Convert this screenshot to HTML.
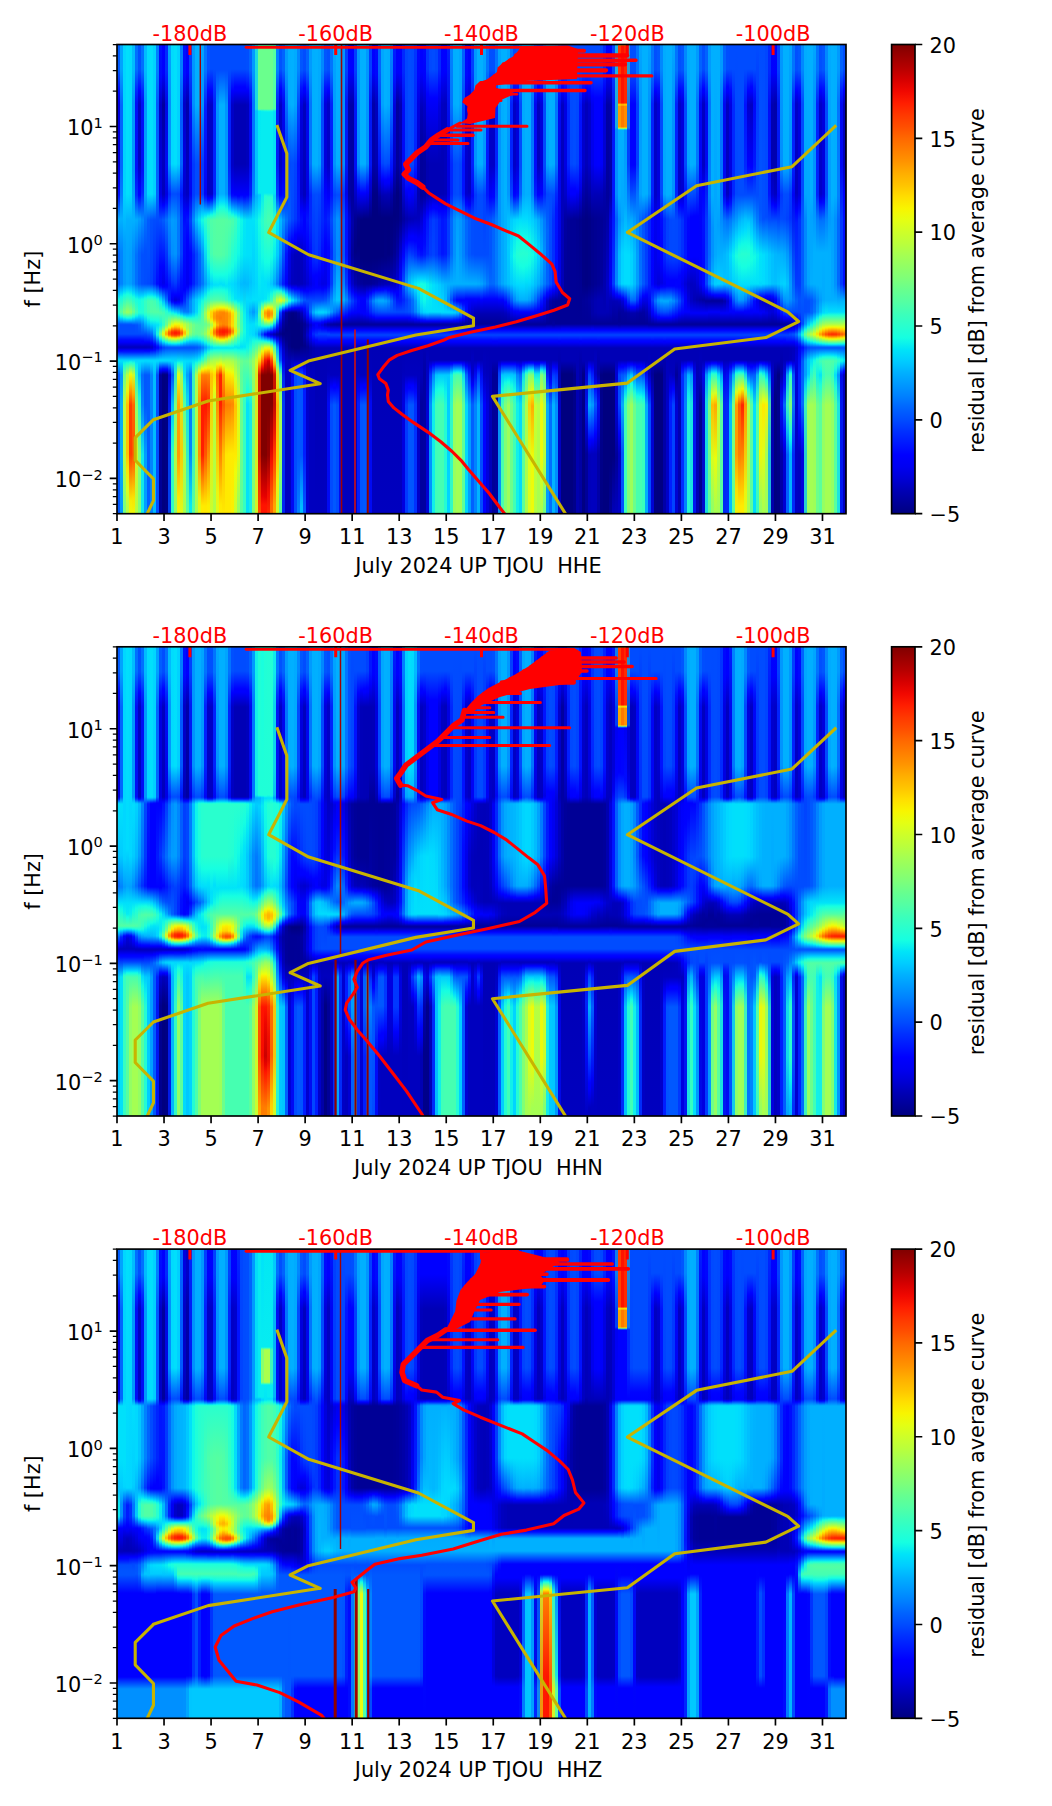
<!DOCTYPE html>
<html><head><meta charset="utf-8"><title>July 2024 UP TJOU</title>
<style>
html,body{margin:0;padding:0;background:#fff;}
body{width:1052px;height:1806px;position:relative;overflow:hidden;}
.sp{position:absolute;overflow:hidden;background:#000080;}
.sp i{position:absolute;top:0;bottom:0;display:block;}
</style></head><body>
<div class="sp" style="left:117.0px;top:44.5px;width:729.0px;height:469.2px"><i style="left:0px;width:4px;background:linear-gradient(#005eff,#005cff 25px,#0012ff 44px,#0000eb 56px,#0000df 60px,#0000df 120px,#0007fa 140px,#0012ff 150px,#00b0ff 175px,#0068ff 210px,#0068ff 239px,#00d4ff 251px,#13fbe4 255px,#29ffce 268px,#0cf4eb 270px,#00d0ff 272px,#0054ff 279px,#004cff 289px,#0000ff 296px,#0000f6 298px,#0000bf 302px,#0000c4 303px,#0000fa 305px,#0004ff 306px,#00d4ff 315px,#00d8ff 316px,#0058ff 330px,#0058ff 470px)"></i><i style="left:3px;width:4px;background:linear-gradient(#00a3ff,#00a3ff 24px,#0064ff 60px,#0066ff 122px,#007eff 150px,#00b0ff 174px,#0084ff 207px,#0083ff 239px,#00d4ff 248px,#11f9e5 252px,#5bff9c 267px,#30ffc7 270px,#0cf4eb 272px,#01defb 273px,#0057ff 279px,#004cff 280px,#004cff 289px,#0008ff 295px,#0000ff 297px,#0000bf 302px,#0000c4 303px,#0000fa 305px,#0004ff 306px,#00d4ff 315px,#00defd 316px,#0097ff 330px,#07adf5 359px,#06acf6 416px,#0097ff 470px)"></i><i style="left:6px;width:4px;background:linear-gradient(#00d7ff,#00d2ff 150px,#00a0ff 198px,#009aff 239px,#00d8fe 246px,#15fde2 250px,#82ff74 267px,#7bff7c 268px,#26ffd1 272px,#00defc 274px,#0058ff 279px,#004cff 280px,#004cff 289px,#0008ff 295px,#0000ff 297px,#0000bf 302px,#0000c4 303px,#0000fa 305px,#0018ff 307px,#00d4ff 315px,#0ff8e7 318px,#29ffce 321px,#71ff86 330px,#bbfe3b 360px,#bbfe3b 409px,#6fff88 470px)"></i><i style="left:9px;width:4px;background:linear-gradient(#00e0fb,#00e0fb 149px,#00b0ff 175px,#00a4ff 207px,#00a4ff 239px,#00d0ff 244px,#16ffe1 249px,#96ff61 267px,#8cff6b 268px,#19ffde 273px,#02e8f4 274px,#00ccff 275px,#0058ff 279px,#004cff 280px,#004cff 289px,#0008ff 295px,#0000ff 297px,#0000bf 302px,#0000c4 303px,#0000fa 305px,#0018ff 307px,#00d4ff 315px,#1cffdb 318px,#b6ff41 330px,#edf40c 346px,#ffcd00 357px,#ffc200 360px,#ffc200 409px,#f9e303 423px,#d7ff1f 445px,#b7ff40 460px,#b5ff42 470px)"></i><i style="left:12px;width:4px;background:linear-gradient(#00dcfd,#00dbfd 149px,#00b0ff 175px,#009fff 210px,#009fff 239px,#00d4ff 245px,#19ffde 250px,#8cff6b 267px,#83ff73 268px,#2bffcb 272px,#15fde2 273px,#00c8ff 275px,#0058ff 279px,#004cff 280px,#004cff 289px,#0008ff 295px,#0000ff 297px,#0000bf 302px,#0000c4 303px,#0000fa 305px,#0018ff 307px,#00d4ff 315px,#15fee2 317px,#e6fe10 329px,#fedc00 335px,#ff3e00 360px,#ff3e00 409px,#f9eb03 456px,#eef90a 470px)"></i><i style="left:15px;width:4px;background:linear-gradient(#00bbff,#00bbff 25px,#0097ff 58px,#0097ff 124px,#00b0ff 175px,#008cff 207px,#008cff 239px,#00dcfc 248px,#19fede 252px,#6bff8c 267px,#29ffce 271px,#16fce1 272px,#00d0ff 274px,#004cff 280px,#004cff 289px,#0008ff 295px,#0000ff 297px,#0000bf 302px,#0000c4 303px,#0000fa 305px,#0018ff 307px,#00d4ff 315px,#21ffd6 318px,#cffc28 330px,#ffa900 349px,#ff6500 360px,#ff5200 410px,#fae302 453px,#eef90a 470px)"></i><i style="left:18px;width:4px;background:linear-gradient(#0070ff,#0070ff 24px,#0027ff 46px,#000ff6 58px,#0010f7 125px,#002cff 150px,#00abff 175px,#0070ff 210px,#0070ff 239px,#00d8fe 250px,#16fde1 254px,#41ffb6 267px,#2affcd 269px,#0df5ea 271px,#00ceff 273px,#0052ff 280px,#004cff 289px,#0008ff 295px,#0000ff 297px,#0000bf 302px,#0000c4 303px,#0000fa 305px,#0018ff 307px,#00d4ff 315px,#08ecf1 320px,#8dff6a 360px,#d1f528 406px,#b5ff42 470px)"></i><i style="left:21px;width:4px;background:linear-gradient(#0050ff,#004fff 25px,#0000ff 46px,#0000c2 60px,#0000c2 119px,#0000fd 144px,#0000ff 150px,#009eff 174px,#005eff 208px,#005cff 239px,#00d4ff 251px,#14fde3 255px,#21ffd6 268px,#00d2ff 272px,#0062ff 280px,#004cff 289px,#0008ff 295px,#0000ff 297px,#0000bf 302px,#0000c4 303px,#0000fa 305px,#0018ff 307px,#00d4ff 315px,#00dcfe 316px,#00b6ff 330px,#16f2e3 352px,#81ff75 409px,#81ff75 470px)"></i><i style="left:24px;width:4px;background:linear-gradient(#0070ff,#0070ff 24px,#0027ff 46px,#000ff6 58px,#0010f7 125px,#0027ff 148px,#008bff 175px,#0050ff 210px,#0050ff 239px,#00d8ff 251px,#14fce3 254px,#21ffd6 256px,#21ffd6 268px,#00d0ff 273px,#0088ff 279px,#004eff 289px,#0000ff 296px,#0000f6 298px,#0000bf 302px,#0000c4 303px,#0000fa 305px,#0018ff 307px,#00d4ff 315px,#00dcfe 316px,#006cff 330px,#0083ff 360px,#12e9e8 410px,#12e9e8 470px)"></i><i style="left:27px;width:4px;background:linear-gradient(#00bbff,#00bbff 25px,#0097ff 58px,#00a4ff 150px,#0073ff 173px,#004fff 206px,#004cff 239px,#00dbfd 250px,#19fede 253px,#35ffc2 256px,#36ffc1 267px,#1fffd7 270px,#00ccff 276px,#0000ff 297px,#0000bf 302px,#0000c4 303px,#0000fa 305px,#0004ff 306px,#00d4ff 315px,#00d8ff 316px,#0058ff 330px,#0058ff 360px,#009eff 409px,#009eff 470px)"></i><i style="left:30px;width:4px;background:linear-gradient(#00dcfd,#00dbfd 149px,#005bff 175px,#0048ff 239px,#00d8ff 249px,#1affdd 252px,#45ffb2 256px,#47ffb0 267px,#1bffdc 273px,#00d6ff 278px,#0000ff 297px,#0000c1 302px,#0000c8 303px,#0000fc 305px,#0004ff 306px,#00d4ff 315px,#00daff 316px,#005aff 330px,#0060ff 470px)"></i><i style="left:33px;width:4px;background:linear-gradient(#00e0fb,#00dffc 149px,#0050ff 175px,#0040ff 239px,#00d8ff 249px,#1bffdc 252px,#49ffad 256px,#51ffa6 267px,#18ffdf 275px,#00d2ff 280px,#0000ff 298px,#0000cd 302px,#0000d1 303px,#0000ff 305px,#00d4ff 315px,#00dcfe 316px,#0083ff 330px,#0083ff 470px)"></i><i style="left:36px;width:4px;background:linear-gradient(#00d3ff,#00d0ff 149px,#004cff 175px,#002aff 239px,#00d8fe 250px,#11fbe5 252px,#42ffb5 256px,#53ffa4 267px,#1cffdb 275px,#00dbfe 280px,#00a6ff 289px,#000bff 299px,#0000f6 301px,#0000e7 302px,#0008ff 305px,#00d4ff 315px,#00dcfe 316px,#00bbff 330px,#00bbff 470px)"></i><i style="left:39px;width:4px;background:linear-gradient(#007eff,#007eff 25px,#0058ff 59px,#0064ff 149px,#000aff 239px,#00ccff 251px,#16fce1 254px,#2bffcb 256px,#53ffa4 267px,#17ffe0 276px,#01e4f8 280px,#1bf6dc 288px,#17f1e2 290px,#00b7ff 293px,#0014ff 301px,#0004ff 303px,#00d6ff 315px,#00daff 316px,#004eff 330px,#004eff 470px)"></i><i style="left:42px;width:4px;background:linear-gradient(#000fff,#0008fc 32px,#0000c5 60px,#0000df 149px,#0000ee 153px,#000eff 161px,#004fff 175px,#0002ff 222px,#0000f9 240px,#0010ff 242px,#00c7ff 253px,#11f8e5 257px,#4effa9 268px,#0df5ea 280px,#7dff7a 289px,#73ff83 290px,#3fffb8 292px,#11f1e9 294px,#00bfff 296px,#002bff 302px,#0024ff 303px,#00d8ff 315px,#00d4ff 316px,#0017ff 324px,#0000f0 326px,#000096 330px,#000096 470px)"></i><i style="left:45px;width:4px;background:linear-gradient(#0000ff,#0000fc 28px,#00009e 60px,#0000be 114px,#0000bc 149px,#0000ff 160px,#005aff 175px,#0003ff 221px,#0000ea 238px,#0000ff 242px,#00cbff 257px,#1fffd7 263px,#45ffb2 268px,#30ffc7 280px,#67ff8f 283px,#caff2c 287px,#def91b 289px,#d1ff26 290px,#2dffc9 295px,#13f8e4 296px,#00bfff 298px,#0048ff 302px,#003fff 303px,#00d8ff 315px,#00d4ff 316px,#0008ff 324px,#0000ff 325px,#00008d 329px,#000080 330px,#000080 470px)"></i><i style="left:48px;width:4px;background:linear-gradient(#002aff,#002aff 25px,#001bff 35px,#0008e4 59px,#000cf3 122px,#0000e2 149px,#0000ee 152px,#000cff 158px,#0070ff 175px,#0000fc 240px,#0004ff 242px,#006fff 255px,#00d3fd 262px,#23ffd4 266px,#6aff8d 280px,#cfff28 284px,#ecf20d 285px,#ffbe00 287px,#ffab00 289px,#ffbe00 290px,#f7e805 291px,#d4ff23 292px,#5aff9d 295px,#1afddd 297px,#02e3f8 298px,#00c0ff 299px,#0058ff 302px,#004cff 303px,#00d8ff 315px,#00d4ff 316px,#000bff 324px,#0000ff 325px,#000090 329px,#000083 330px,#000086 470px)"></i><i style="left:51px;width:4px;background:linear-gradient(#00a6ff,#008fff 58px,#0096ff 119px,#0028ff 149px,#008bff 175px,#006bff 209px,#0013ff 240px,#0022ff 255px,#00d8fd 265px,#23ffd4 268px,#94ff63 278px,#d9ff1d 282px,#f3f107 283px,#ffcd00 284px,#ff6200 287px,#ff5800 289px,#ff6f00 290px,#ffd800 292px,#ddff1a 293px,#35ffc2 297px,#13fbe4 298px,#00d4ff 299px,#005eff 302px,#0050ff 303px,#00d8ff 315px,#00d6ff 316px,#0027ff 325px,#0003d4 330px,#0017e7 355px,#003fee 410px,#003fee 470px)"></i><i style="left:54px;width:4px;background:linear-gradient(#00dbfd,#00dafe 119px,#004bff 149px,#009cff 175px,#008eff 209px,#003fff 235px,#0004ff 249px,#0000f1 255px,#0008ff 257px,#00ccff 266px,#10f9e6 268px,#d5ff22 279px,#f6f304 281px,#ffdc00 282px,#ff4700 286px,#ff2400 288px,#ff4000 290px,#ff6e00 291px,#fdeb00 293px,#c8ff2f 294px,#1fffd7 298px,#00e0fb 299px,#0060ff 302px,#0050ff 303px,#00c4ff 313px,#00daff 316px,#0053ff 330px,#00bcff 360px,#14efe6 388px,#33fdc4 409px,#32fdc5 470px)"></i><i style="left:57px;width:4px;background:linear-gradient(#00e0fb,#00dffc 119px,#004cff 149px,#0098ff 175px,#0094ff 209px,#003cff 238px,#0000ff 250px,#0000da 255px,#0000e0 256px,#0000fc 257px,#0004ff 258px,#00ceff 267px,#17fee0 269px,#edff0a 279px,#feec00 280px,#ffc600 282px,#ff3500 286px,#ff1400 288px,#ff3300 290px,#ff6000 291px,#ffe100 293px,#d0ff27 294px,#22ffd5 298px,#00e3f9 299px,#00b7ff 300px,#0060ff 302px,#0050ff 303px,#00c4ff 313px,#06e7f4 318px,#30e0ca 330px,#7aff7d 360px,#b2fc45 409px,#8eff69 470px)"></i><i style="left:60px;width:4px;background:linear-gradient(#00d3ff,#00d0ff 119px,#0046ff 149px,#0078ff 174px,#0077ff 209px,#0000ff 250px,#0000e4 255px,#0000fd 257px,#001aff 259px,#00ceff 268px,#1bfedc 270px,#eaff0d 279px,#ffd100 282px,#ff4500 286px,#ff2000 288px,#ff4400 290px,#f2f707 293px,#89ff6e 295px,#16fde1 298px,#00d7ff 299px,#00b0ff 300px,#005fff 302px,#0050ff 303px,#02e8f4 316px,#24ffd3 318px,#d9ff1d 329px,#ecf70d 333px,#ffa200 360px,#ff9b00 400px,#ff9b00 411px,#faea02 452px,#f2f706 470px)"></i><i style="left:63px;width:4px;background:linear-gradient(#007eff,#007eff 25px,#0058ff 59px,#0063ff 119px,#0013ff 150px,#0040ff 173px,#0040ff 209px,#000eff 236px,#0001ff 251px,#0006ff 256px,#001cff 258px,#0097ff 267px,#00c8ff 269px,#19fdde 271px,#30ffc7 272px,#d4ff23 279px,#f5f305 282px,#ffc200 284px,#ff7d00 286px,#ff5800 288px,#ff6200 289px,#ff8300 290px,#f1ef08 292px,#c0ff37 293px,#62ff95 295px,#1efed8 297px,#03e6f7 298px,#00c4ff 299px,#005cff 302px,#0050ff 303px,#00d8ff 315px,#22fdd5 319px,#98ff5f 330px,#e1e218 359px,#f7ce05 409px,#ddfe1a 470px)"></i><i style="left:66px;width:4px;background:linear-gradient(#000fff,#000aff 29px,#0000c7 59px,#0000df 114px,#0000cd 149px,#0003ff 167px,#0012ff 183px,#0000ff 245px,#002cff 256px,#007eff 267px,#00c8ff 270px,#17fde0 272px,#b7ff40 279px,#d6ff21 283px,#f6eb06 285px,#ffc200 287px,#ffc600 289px,#f7e205 290px,#dbfc1c 291px,#58ff9e 294px,#1afddd 296px,#03e6f7 297px,#00c8ff 298px,#0058ff 302px,#0050ff 303px,#00dffc 316px,#07e0f5 330px,#1cfadb 340px,#58ff9e 360px,#acff4a 410px,#a7ff50 470px)"></i><i style="left:69px;width:4px;background:linear-gradient(#0001ff,#0000ff 27px,#0000aa 59px,#0000c1 149px,#0000ff 167px,#0012ff 175px,#0000ff 195px,#0000f1 239px,#0000ff 242px,#0058ff 255px,#007bff 267px,#00d7ff 271px,#1effd8 273px,#9dff5a 279px,#a7ff50 283px,#cdff2a 287px,#c5ff32 289px,#aeff48 290px,#16fce1 295px,#00caff 297px,#0057ff 302px,#0050ff 303px,#00dcfe 316px,#009eff 330px,#07d1f5 351px,#18e4e1 369px,#5dff9a 470px)"></i><i style="left:72px;width:4px;background:linear-gradient(#003fff,#003fff 25px,#0012f4 72px,#0004f4 149px,#0042ff 176px,#0004ff 208px,#0003ff 239px,#008bff 256px,#0093ff 267px,#00dcfd 271px,#1bffdc 273px,#81ff75 279px,#8eff69 287px,#77ff80 290px,#19ffde 294px,#00d4ff 296px,#0054ff 302px,#0050ff 303px,#00dcfe 316px,#007bff 329px,#0077ff 334px,#0086ff 408px,#06eaf3 461px,#06ebf2 470px)"></i><i style="left:75px;width:4px;background:linear-gradient(#0098ff,#0090ff 58px,#0038ff 119px,#003aff 150px,#0087ff 175px,#0020ff 210px,#0020ff 239px,#00b0ff 255px,#00b7ff 267px,#00dcfc 270px,#1fffd7 273px,#70ff87 280px,#6dff8a 287px,#5cff9b 290px,#10fae6 294px,#00d0ff 296px,#0056ff 302px,#0050ff 303px,#01e4f8 316px,#16f4e3 321px,#3df1bd 330px,#3df2bd 410px,#5dff9a 470px)"></i><i style="left:78px;width:4px;background:linear-gradient(#00b0ff,#00afff 60px,#004bff 119px,#004bff 149px,#00bfff 175px,#0043ff 209px,#003fff 239px,#00ccff 255px,#00d8fd 267px,#1effd8 272px,#60ff97 280px,#5eff99 289px,#10fae6 294px,#00d2ff 296px,#005aff 302px,#0056ff 303px,#00d4ff 314px,#06ecf1 316px,#1fffd7 318px,#acff4a 330px,#a7ff50 470px)"></i><i style="left:81px;width:4px;background:linear-gradient(#00b0ff,#00b0ff 59px,#004bff 119px,#004bff 149px,#01e0fa 175px,#0066ff 209px,#0058ff 236px,#005cff 240px,#01e3f9 255px,#0cf4eb 261px,#17fae0 267px,#5aff9d 280px,#62ff95 288px,#5aff9d 290px,#19ffde 294px,#00dcfd 296px,#0066ff 302px,#0062ff 303px,#00ceff 312px,#0af2ed 315px,#2bffcb 317px,#d5fc22 326px,#f7ce05 330px,#ff8f00 359px,#ff8f00 410px,#ebf30f 453px,#defd19 470px)"></i><i style="left:84px;width:4px;background:linear-gradient(#00a6ff,#0093ff 60px,#0038ff 119px,#0038ff 149px,#00d3ff 169px,#14fbe3 175px,#00d3fe 189px,#0094ff 210px,#0074ff 239px,#00d8fe 251px,#17fde0 256px,#53ffa4 269px,#5bff9c 280px,#74ff82 289px,#1afedd 295px,#00ceff 298px,#0080ff 302px,#007cff 303px,#00cbff 309px,#16fae1 313px,#2affcd 315px,#e6ff10 324px,#ffd900 326px,#ff8100 330px,#ff1900 360px,#ff1f00 405px,#ff2300 410px,#ffeb00 461px,#ffeb00 470px)"></i><i style="left:87px;width:4px;background:linear-gradient(#0074ff,#0074ff 25px,#001ffc 62px,#0004f4 149px,#001aff 153px,#00daff 169px,#1cffdb 173px,#2bffcb 175px,#0aefef 198px,#009cff 239px,#00d0ff 246px,#1bfedc 253px,#9aff5d 268px,#90ff66 273px,#64ff93 279px,#95ff62 289px,#28ffcf 296px,#09f0ee 298px,#00a4ff 302px,#00a3ff 303px,#00cfff 306px,#1cfddb 310px,#56ffa0 315px,#e7ff0f 323px,#ffdd00 325px,#ff7e00 330px,#ff1500 360px,#ff5700 410px,#ffea00 461px,#ffea00 470px)"></i><i style="left:90px;width:4px;background:linear-gradient(#0050ff,#0050ff 24px,#0000ff 46px,#0000c7 60px,#0000c1 115px,#0000c1 149px,#0000fc 153px,#000eff 155px,#00d4ff 168px,#16fee1 171px,#3bffbb 174px,#40ffb7 178px,#1ffed7 213px,#03e4f7 226px,#00bfff 239px,#00d0ff 242px,#14fce3 248px,#46ffb1 256px,#e2fc15 268px,#d1ff26 273px,#7bff7c 280px,#beff39 286px,#c6ff31 289px,#19fdde 299px,#00c7ff 302px,#00c7ff 303px,#1afddd 307px,#f7f601 323px,#ff8400 330px,#ff2a00 360px,#fbee01 460px,#fbf001 470px)"></i><i style="left:93px;width:4px;background:linear-gradient(#004cff,#004cff 24px,#0000ff 46px,#0000c7 60px,#0000c7 149px,#0000fd 153px,#00d2ff 167px,#16fee1 170px,#4fffa8 175px,#46ffb1 209px,#15fde2 227px,#00d4ff 239px,#01e4f8 242px,#17fee0 246px,#4cffab 255px,#d9ff1d 264px,#ffd800 267px,#ffd200 272px,#f5ee06 275px,#d5ff22 277px,#abff4c 280px,#d5ff22 283px,#f3ec08 285px,#fadd02 288px,#f3ee07 290px,#c3ff34 292px,#1fffd7 300px,#00dffb 302px,#00dcfd 303px,#22ffd5 306px,#9aff5d 315px,#dfff18 322px,#ffdc00 327px,#ffc700 329px,#ffc200 332px,#e2ef17 410px,#c8ff2f 470px)"></i><i style="left:96px;width:4px;background:linear-gradient(#004cff,#004cff 24px,#0022ff 58px,#0022fd 149px,#0038ff 152px,#00ccfe 164px,#1cfedb 169px,#53ffa4 175px,#52ffa5 209px,#15fee2 230px,#00e0fb 240px,#18ffdf 245px,#51ffa6 255px,#e1ff16 263px,#ffde00 265px,#ffa300 268px,#ff9c00 272px,#ffa400 274px,#f9e903 278px,#ecf70d 280px,#fae002 282px,#ff9200 285px,#ff7e00 287px,#ff8900 289px,#ffc400 291px,#e1fd16 293px,#1cffdb 301px,#00e4f8 303px,#1bffdc 305px,#a6ff51 315px,#e7fe0f 324px,#ffe500 328px,#ffdc00 330px,#ebfa0d 343px,#bcff3a 360px,#adff49 470px)"></i><i style="left:99px;width:4px;background:linear-gradient(#004cff,#004cff 25px,#0093ff 60px,#0093ff 149px,#00caff 157px,#15fce2 164px,#56ffa0 175px,#53ffa4 210px,#16ffe1 230px,#00e2fa 240px,#19ffde 245px,#53ffa4 255px,#ddff1a 262px,#ffe000 264px,#ff9600 267px,#ff8300 271px,#ff8700 274px,#ffb700 280px,#ff4900 285px,#ff3900 287px,#ff5800 290px,#ffd100 293px,#f3f607 294px,#d3ff24 295px,#26ffd1 301px,#09f0ee 302px,#02e8f4 303px,#1cffdb 305px,#e0ff17 319px,#ffd000 323px,#ff6700 330px,#f9c403 399px,#eaf510 447px,#defd19 470px)"></i><i style="left:102px;width:4px;background:linear-gradient(#004cff,#004cff 25px,#00b0ff 60px,#00b0ff 149px,#00daff 156px,#16ffe1 162px,#56ffa0 175px,#53ffa4 210px,#16ffe1 230px,#00e0fb 239px,#19ffde 245px,#50ffa7 255px,#e4ff13 262px,#fbf100 263px,#ff8a00 267px,#ff7c00 273px,#ff9100 279px,#ff7c00 281px,#ff2600 285px,#ff1b00 287px,#ff3500 290px,#ffd800 294px,#edfe0a 295px,#2affcd 301px,#0bf3ec 302px,#02e8f4 303px,#1cffdb 305px,#ddff1a 318px,#feec00 320px,#ff2500 330px,#ff2000 359px,#ffea00 460px,#ffeb00 470px)"></i><i style="left:105px;width:4px;background:linear-gradient(#004cff,#004cff 25px,#00b0ff 60px,#00b0ff 149px,#00daff 156px,#16ffe1 162px,#56ffa0 175px,#4fffa8 210px,#16ffe1 230px,#00e0fb 240px,#17ffe0 245px,#49ffad 255px,#e1ff16 262px,#f8f501 263px,#ffd700 264px,#ff8c00 267px,#ff8300 268px,#ff8600 279px,#ff6f00 281px,#ff1e00 285px,#ff1300 287px,#ff3000 290px,#ffd800 294px,#edfe0a 295px,#2affcd 301px,#0bf3ec 302px,#02e8f4 303px,#1cffdb 305px,#e2fe15 320px,#fed000 325px,#ff9700 330px,#ff5700 360px,#ffc200 410px,#ffea00 470px)"></i><i style="left:108px;width:4px;background:linear-gradient(#004cff,#004cff 25px,#0093ff 60px,#0098ff 149px,#00d0ff 157px,#17fde0 164px,#54ffa3 175px,#48ffae 209px,#16ffe1 229px,#01e6f7 241px,#16fee1 246px,#39ffbe 255px,#e7ff0f 263px,#ffcd00 265px,#ff8e00 268px,#ff8900 280px,#ff2600 285px,#ff1b00 287px,#ff4b00 290px,#f5f405 294px,#26ffd1 301px,#09f0ee 302px,#02e8f4 303px,#1cffdb 305px,#b2ff45 316px,#eaff0d 325px,#ffe800 329px,#ff7d00 360px,#ffe800 410px,#ffea00 470px)"></i><i style="left:111px;width:4px;background:linear-gradient(#004cff,#004cff 24px,#0022ff 58px,#0022fd 121px,#003fff 149px,#00d0fe 163px,#1afedd 168px,#52ffa5 176px,#3affbc 210px,#17ffe0 226px,#00dffc 239px,#01e6f7 242px,#23ffd4 255px,#e3ff14 264px,#ffd500 266px,#ffac00 268px,#ffa100 271px,#ffab00 280px,#ff9200 282px,#ff4a00 285px,#ff3e00 287px,#ff6300 289px,#fbe001 292px,#e6fa12 293px,#c6ff31 294px,#1cffdb 301px,#02e8f4 303px,#1cffdb 305px,#b0ff47 316px,#ebff0c 326px,#feed00 329px,#ff7f00 360px,#ffea00 409px,#ffea00 470px)"></i><i style="left:114px;width:4px;background:linear-gradient(#004cff,#004cff 24px,#0000ff 46px,#0000c7 60px,#0000c7 120px,#0000ff 148px,#000eff 151px,#00d2ff 166px,#1bffdc 170px,#46ffb1 174px,#49ffad 177px,#19ffde 221px,#00dbfe 239px,#01e4f8 246px,#0ef7e9 255px,#eafa0f 266px,#fde000 268px,#ffd500 271px,#fedb00 281px,#ff8700 286px,#ff9900 288px,#fbd901 290px,#e9f811 291px,#c7ff30 292px,#6aff8d 296px,#15fee2 301px,#02e8f4 303px,#1cffdb 305px,#a9ff4e 316px,#ecfe0b 327px,#fbf001 330px,#ff8800 359px,#ffea00 409px,#fbf001 470px)"></i><i style="left:117px;width:4px;background:linear-gradient(#004cff,#004cff 24px,#0000ff 42px,#0000ff 45px,#0000b6 60px,#0000b6 119px,#0000ff 150px,#00dbfd 168px,#22ffd5 172px,#36ffc1 174px,#39ffbe 178px,#16fee1 215px,#00d3ff 239px,#01e4f8 254px,#1affdd 257px,#caff2c 268px,#caff2c 281px,#f1e909 286px,#d6fd21 289px,#72ff85 293px,#23ffd4 299px,#01e6f7 302px,#18ffdf 305px,#97ff60 316px,#d6ff21 334px,#f9e703 349px,#ffc200 361px,#feec00 411px,#edfd0a 427px,#c7ff30 470px)"></i><i style="left:120px;width:4px;background:linear-gradient(#004cff,#004cff 24px,#0000ff 42px,#0000ff 45px,#0000b6 60px,#0000b6 119px,#0000ff 150px,#0000ff 151px,#00d2ff 169px,#1fffd7 174px,#11fbe5 208px,#00c8ff 238px,#00dbfe 252px,#02e7f5 256px,#21ffd6 259px,#7dff7a 268px,#7dff7a 281px,#98ff5f 286px,#8cff6b 288px,#36ffc1 294px,#19fede 298px,#00e4f8 303px,#15fee2 305px,#7fff78 316px,#e0f919 360px,#defc19 410px,#97ff60 459px,#95ff62 470px)"></i><i style="left:123px;width:4px;background:linear-gradient(#004cff,#004cff 24px,#0000ff 42px,#0000ff 45px,#0000b6 60px,#0000b6 119px,#0000ff 150px,#00d3ff 171px,#0ff8e7 175px,#06ecf1 210px,#00bcff 239px,#00defd 255px,#1bfedc 262px,#38ffbf 268px,#47ffb0 285px,#17fde0 294px,#00e0fb 302px,#1affdd 306px,#6aff8d 316px,#5aff9d 328px,#6aff8d 358px,#6aff8d 412px,#58ff9e 470px)"></i><i style="left:126px;width:4px;background:linear-gradient(#004cff,#004cff 24px,#0000ff 42px,#0000ff 45px,#0000b6 60px,#0000b6 119px,#0000ff 150px,#0008ff 152px,#03e8f4 175px,#00e3f9 210px,#00b8ff 238px,#0cf4eb 270px,#17fce0 287px,#01e6f7 302px,#1affdd 306px,#60ff97 316px,#46ffb1 330px,#36ffc1 359px,#36ffc1 470px)"></i><i style="left:129px;width:4px;background:linear-gradient(#004eff,#004eff 24px,#0000ff 45px,#0000bc 60px,#0000bc 119px,#0000ff 150px,#00e0fb 175px,#00e0fb 210px,#00baff 239px,#00dcfe 254px,#00ceff 267px,#01e6f7 280px,#03eaf3 296px,#0df6ea 303px,#64ff93 316px,#1cffdb 347px,#04e2f8 359px,#04e0f8 470px)"></i><i style="left:132px;width:4px;background:linear-gradient(#0063ff,#0063ff 25px,#001aff 47px,#0008f0 59px,#0008f1 121px,#0023ff 150px,#00e0fb 175px,#00e0fb 210px,#00c4ff 237px,#00dcfe 256px,#00aeff 267px,#00e0fb 280px,#00dffc 289px,#21ffd6 303px,#78ff7f 316px,#2bffcb 348px,#12ebe8 360px,#12ebe8 470px)"></i><i style="left:135px;width:4px;background:linear-gradient(#009aff,#009aff 24px,#0074ff 58px,#0074ff 123px,#0082ff 149px,#00e2fa 174px,#00cfff 239px,#00e0fb 255px,#009aff 267px,#00dffc 279px,#00d8ff 290px,#16fee1 296px,#99ff5e 316px,#82ff74 359px,#81ff75 470px)"></i><i style="left:138px;width:4px;background:linear-gradient(#0fd7ed,#18dbe1 1px,#18d9e1 64px,#00c4fe 66px,#00c3fe 148px,#00b2ff 151px,#06ecf1 175px,#00d7ff 239px,#00e0fb 255px,#00baff 267px,#06ecf1 279px,#00c0ff 289px,#00cfff 291px,#1dffd9 296px,#c6ff31 315px,#d5fc22 320px,#dbe81f 329px,#d3f426 470px)"></i><i style="left:141px;width:4px;background:linear-gradient(#47ffb0,#6aff8d 1px,#6aff8d 64px,#37ffc0 65px,#03eaf3 66px,#06ecf1 148px,#00caff 150px,#01dffb 162px,#16fde1 175px,#00e0fb 255px,#47ffb0 270px,#17fde0 280px,#00d7ff 283px,#008cff 289px,#0090ff 290px,#00ccff 293px,#1dffd9 296px,#7eff79 302px,#ceff29 309px,#ebf50f 312px,#ffcc00 316px,#fc4000 325px,#cb1800 330px,#cd1800 411px,#ee2800 432px,#ff5000 470px)"></i><i style="left:144px;width:4px;background:linear-gradient(#50ffa7,#6aff8d 1px,#6aff8d 64px,#0cf4eb 66px,#06ecf1 67px,#06ecf1 149px,#2bffcb 176px,#13fce4 212px,#00e4f8 233px,#00e0fb 254px,#06ecf1 256px,#33ffc4 259px,#c3ff34 266px,#d8f422 269px,#c3ff34 272px,#1bffdc 281px,#00d2ff 283px,#0046ff 289px,#004aff 290px,#00c4ff 294px,#01e3f9 295px,#16fee1 296px,#beff39 303px,#e7fa11 306px,#fed500 309px,#ff2a00 320px,#ea0800 323px,#ca0000 325px,#800000 330px,#800000 409px,#e80000 451px,#ff1300 460px,#ff1400 470px)"></i><i style="left:147px;width:4px;background:linear-gradient(#58ff9e,#6aff8d 1px,#6aff8d 64px,#10fae6 66px,#06ecf1 67px,#06ecf1 148px,#26ffd1 151px,#3fffb8 176px,#15fee2 217px,#00e0fb 237px,#01e6f7 254px,#0ff8e7 256px,#dcfe1b 263px,#f4ee07 264px,#ffbb00 266px,#ff9e00 268px,#ffbc00 272px,#f7e905 274px,#e1fd16 275px,#29ffce 281px,#09f0ee 282px,#00ccff 283px,#000aff 289px,#000cff 290px,#00ceff 295px,#0cf4eb 296px,#2dffc9 297px,#cdff2a 302px,#e5ff11 303px,#ffe100 305px,#f91900 315px,#d10000 320px,#800000 330px,#800000 410px,#e80000 452px,#ff1300 460px,#ff1400 470px)"></i><i style="left:150px;width:4px;background:linear-gradient(#5aff9d,#6aff8d 1px,#6aff8d 64px,#13fce4 66px,#06ecf1 67px,#06ecf1 148px,#2cffca 152px,#47ffb0 175px,#16ffe1 217px,#00d8ff 239px,#00e3f9 246px,#10f8e6 255px,#5aff9d 258px,#dfff18 262px,#feec00 263px,#ff9600 266px,#ff8100 268px,#ff8400 271px,#ffc700 274px,#ffea00 275px,#deff19 276px,#28ffcf 281px,#04e8f4 282px,#00beff 283px,#0022ff 287px,#0003ff 288px,#0000e5 289px,#0008ff 291px,#00b7ff 295px,#02e3f8 296px,#21ffd6 297px,#d1ff26 302px,#fdec00 304px,#fd1500 314px,#d70000 316px,#800000 329px,#800000 364px,#960000 410px,#f10c00 447px,#ff2900 470px)"></i><i style="left:153px;width:4px;background:linear-gradient(#58ff9e,#6aff8d 1px,#6aff8d 64px,#10fae6 66px,#06ecf1 67px,#06ecf1 148px,#27ffd0 152px,#3fffb8 175px,#16fee1 212px,#00c8ff 239px,#00e2fa 244px,#16fce1 249px,#43ffb4 256px,#d3ff24 262px,#fde100 264px,#ffb100 266px,#ff9800 268px,#ff9c00 270px,#ffb900 272px,#f4eb08 274px,#d9fe1d 275px,#28fecf 280px,#09e9f0 281px,#00bfff 282px,#0007ff 287px,#0000ee 288px,#0000c8 289px,#0000cb 290px,#0000f9 291px,#0014ff 292px,#00baff 296px,#04e2f6 297px,#1efcd8 298px,#3fffb8 299px,#bbff3b 303px,#ebf30f 306px,#ffc300 309px,#ff3d00 316px,#f11500 320px,#c70000 324px,#800000 330px,#800000 359px,#d70000 402px,#f61100 417px,#ff6900 460px,#ff6c00 470px)"></i><i style="left:156px;width:4px;background:linear-gradient(#42ffb5,#58ff9e 1px,#52ffa5 64px,#06e3f4 66px,#04dff6 67px,#04e2f6 148px,#06d4f6 151px,#25ffd2 174px,#15fce2 194px,#07eef0 210px,#00a8ff 239px,#00d7ff 243px,#1fffd7 247px,#7aff7d 255px,#90ff66 260px,#d1f928 266px,#d8f222 268px,#b3ff44 272px,#45ffb2 276px,#15e7e5 278px,#00afff 280px,#0017ff 285px,#0000ed 287px,#0000b2 289px,#0000b5 290px,#0000f9 292px,#0010ff 293px,#00b0ff 298px,#12e7e8 300px,#3efeb9 302px,#b9fe3e 311px,#dee71b 315px,#fea600 320px,#f43b00 326px,#d31a00 329px,#cb1600 331px,#c20a00 359px,#ed1a00 387px,#ff3400 404px,#ffa400 460px,#ffa700 470px)"></i><i style="left:159px;width:4px;background:linear-gradient(#0083ff,#0083ff 25px,#0038ff 48px,#0022f6 60px,#001cf6 119px,#003cff 150px,#05e7f5 175px,#00caff 210px,#007cff 239px,#00caff 243px,#00e0fb 244px,#1fffd7 246px,#c3ff34 255px,#c3ff34 256px,#46ffb1 264px,#22e0d8 270px,#0dc1f0 273px,#009bff 275px,#002fff 280px,#0007f7 283px,#0000e4 285px,#00009c 289px,#00009e 290px,#0000e5 293px,#0018ff 296px,#0090ff 302px,#03b4f9 305px,#36f1c3 316px,#5bff9c 319px,#baf93f 326px,#dbe71f 330px,#fdc100 353px,#ffaf00 360px,#ffcc00 414px,#ecf00d 436px,#c6ff31 470px)"></i><i style="left:162px;width:4px;background:linear-gradient(#0052ff,#0052ff 24px,#0000ff 44px,#0000fa 48px,#0000c4 60px,#0000c2 90px,#0000c2 120px,#0000ff 150px,#00baff 175px,#009bff 208px,#004cff 239px,#0058ff 240px,#00c8ff 244px,#18fddf 246px,#e4ff13 255px,#deff19 256px,#3cffba 261px,#1dfad9 262px,#00bffd 264px,#004fff 267px,#003aff 268px,#0000e4 278px,#000089 289px,#0000ea 298px,#001cff 304px,#004cff 315px,#00a3fe 320px,#18dce1 324px,#5afd9d 330px,#a4ff53 360px,#a4ff53 409px,#5afd9d 460px,#58fd9e 470px)"></i><i style="left:165px;width:4px;background:linear-gradient(#0063ff,#0063ff 25px,#001aff 47px,#0008f0 59px,#0000e2 119px,#0000f6 134px,#000bff 150px,#0093ff 175px,#001bff 239px,#0028ff 240px,#00b6ff 245px,#0bedee 247px,#36ffc1 249px,#c0ff37 255px,#b9ff3e 256px,#28fecf 260px,#0ae9ef 261px,#00bcff 262px,#000fff 266px,#0000e8 267px,#0000d0 268px,#00009f 278px,#000081 289px,#0000ce 305px,#0000eb 316px,#0010f1 322px,#002af1 332px,#003cf4 359px,#0027f1 470px)"></i><i style="left:168px;width:4px;background:linear-gradient(#009aff,#009aff 24px,#0026ff 119px,#0034ff 149px,#0072ff 175px,#0013ff 209px,#0000f7 239px,#0012ff 241px,#00c2ff 248px,#10efea 250px,#72ff85 255px,#6cff8b 256px,#4dffaa 257px,#0dedec 259px,#00cafd 260px,#0004ff 265px,#0000e2 266px,#0000b3 267px,#00009b 268px,#000080 285px,#000089 295px,#0000c1 315px,#0000c1 470px)"></i><i style="left:171px;width:4px;background:linear-gradient(#00afff,#00aeff 59px,#0048ff 119px,#005aff 174px,#0003ff 200px,#0000e5 210px,#0000d4 239px,#0000f6 241px,#0017ff 243px,#00c3ff 251px,#0aecef 253px,#2affcd 255px,#25fed2 256px,#0cefed 257px,#00cffd 258px,#0003ff 264px,#0000ea 265px,#00009b 267px,#000089 268px,#000080 277px,#000086 301px,#0000b9 316px,#0000c1 326px,#0000c1 470px)"></i><i style="left:174px;width:4px;background:linear-gradient(#00b0ff,#00b0ff 60px,#004cff 118px,#0048ff 174px,#0000ff 196px,#0000c5 210px,#0000bf 236px,#0000bf 239px,#0000ff 243px,#03e2f8 255px,#01dafb 256px,#000aff 263px,#0000fa 264px,#000096 267px,#000084 268px,#000080 273px,#000080 302px,#0008f3 329px,#000af3 470px)"></i><i style="left:177px;width:4px;background:linear-gradient(#00acff,#00a6ff 59px,#0043ff 119px,#0038ff 174px,#0000ff 190px,#0000fa 195px,#0000bb 210px,#0000bb 239px,#0000fd 243px,#0002ff 244px,#00baff 255px,#00b4ff 256px,#0000ff 263px,#0000f3 264px,#000099 267px,#00008a 268px,#000080 277px,#000080 303px,#0000b6 315px,#0000ff 322px,#004bff 330px,#004cff 470px)"></i><i style="left:180px;width:4px;background:linear-gradient(#0088ff,#0088ff 24px,#0046ff 62px,#0012ff 119px,#0020ff 175px,#0000ff 188px,#0000bb 209px,#0000b8 236px,#0000bf 240px,#0000ff 244px,#0094ff 255px,#0090ff 256px,#0000ff 263px,#000099 268px,#000080 279px,#000080 303px,#0000b6 315px,#0000ff 321px,#0008ff 323px,#0058ff 330px,#0058ff 412px,#0083ff 470px)"></i><i style="left:183px;width:4px;background:linear-gradient(#0057ff,#0056ff 25px,#0010ff 43px,#0000f1 53px,#0000da 62px,#0000cd 149px,#0000ff 166px,#000eff 175px,#0000ff 187px,#0000bf 210px,#0000bb 239px,#0000ff 245px,#0070ff 255px,#006eff 256px,#0000ff 263px,#0000b5 268px,#000089 278px,#000081 300px,#0000b6 315px,#0000ff 321px,#0000ff 322px,#0054ff 330px,#0054ff 410px,#00bcff 461px,#00beff 470px)"></i><i style="left:186px;width:4px;background:linear-gradient(#004eff,#004cff 25px,#0000ff 43px,#0000fc 47px,#0000be 60px,#0000bc 128px,#0000bc 150px,#0000ff 168px,#0000fd 189px,#0000d1 211px,#0000c4 239px,#0000ff 246px,#0057ff 255px,#0004ff 264px,#000096 279px,#0000a1 291px,#000089 301px,#0000b6 315px,#0000f3 323px,#001bff 329px,#001eff 409px,#0060ff 470px)"></i><i style="left:189px;width:4px;background:linear-gradient(#0063ff,#0063ff 25px,#001aff 47px,#0008f0 59px,#0000e2 149px,#0003fd 163px,#0014ff 175px,#0001ff 197px,#0000d3 239px,#0000fd 244px,#0000ff 246px,#004eff 256px,#000cff 270px,#0000f3 273px,#0000ae 280px,#0000d1 290px,#000096 302px,#0000ca 329px,#0000d3 470px)"></i><i style="left:192px;width:4px;background:linear-gradient(#009aff,#009aff 24px,#0074ff 58px,#0074ff 119px,#0026ff 150px,#0028ff 178px,#0000ff 223px,#0000e5 239px,#0002ff 245px,#0048ff 255px,#006cff 267px,#0013ff 274px,#0000f4 277px,#0000d1 280px,#0000f6 286px,#0001fa 291px,#0000a4 303px,#0000bf 328px,#0000bf 470px)"></i><i style="left:195px;width:4px;background:linear-gradient(#00afff,#00aeff 119px,#0048ff 150px,#002fff 210px,#0000ff 231px,#0000f4 239px,#0002ff 244px,#0040ff 254px,#00aaff 267px,#00a6ff 268px,#0000ff 278px,#0000eb 280px,#0003ff 284px,#0027ff 289px,#0000fd 295px,#0000ae 303px,#0000bf 328px,#0000bf 470px)"></i><i style="left:198px;width:4px;background:linear-gradient(#00b0ff,#00b0ff 120px,#004cff 149px,#0037ff 210px,#0000ff 230px,#0000ff 243px,#0050ff 256px,#00cbff 267px,#00c7ff 268px,#0000ff 278px,#0004ff 283px,#003cff 290px,#0003ff 295px,#0000fa 297px,#0000b5 303px,#0000bf 470px)"></i><i style="left:201px;width:4px;background:linear-gradient(#00acff,#00a6ff 119px,#0046ff 150px,#0028ff 209px,#0000ff 228px,#0000f1 239px,#0000ff 243px,#0050ff 256px,#00d6ff 267px,#00d0ff 268px,#0000ff 278px,#0000ed 280px,#0002ff 283px,#0044ff 289px,#0000ff 297px,#0000b6 303px,#0000bf 470px)"></i><i style="left:204px;width:4px;background:linear-gradient(#0088ff,#0088ff 24px,#004aff 59px,#004aff 120px,#0027ff 148px,#0026ff 175px,#0000ff 221px,#0000e5 239px,#0000ff 244px,#004aff 255px,#00d7ff 267px,#00d0ff 268px,#0003ff 277px,#0000f6 278px,#0000d6 280px,#0000ff 283px,#0002ff 284px,#0044ff 289px,#0000ff 297px,#0000b6 303px,#0000bf 470px)"></i><i style="left:207px;width:4px;background:linear-gradient(#0057ff,#0056ff 25px,#0010ff 43px,#0000f1 53px,#0000dc 59px,#0000dc 120px,#0001ff 147px,#0018ff 176px,#0000ff 198px,#0000e7 239px,#0000ff 243px,#0052ff 255px,#00cfff 267px,#00c8ff 268px,#0006ff 276px,#0000f9 277px,#0000c4 279px,#0000be 280px,#0000ff 284px,#0044ff 289px,#0000ff 297px,#0000b6 303px,#0000c1 470px)"></i><i style="left:210px;width:4px;background:linear-gradient(#0050ff,#004fff 25px,#0000ff 46px,#0000c8 59px,#0000c8 120px,#0000ff 153px,#0024ff 174px,#0004ff 203px,#0004fd 239px,#000eff 242px,#00bbff 267px,#00b3ff 268px,#000bff 275px,#0000fd 276px,#0000b2 279px,#0000ad 280px,#0000fc 284px,#0000ff 285px,#0044ff 289px,#0044ff 290px,#0008ff 295px,#0000ff 297px,#0000b6 303px,#0000bb 327px,#0008f3 358px,#000af3 470px)"></i><i style="left:213px;width:4px;background:linear-gradient(#0074ff,#0074ff 25px,#0022fd 59px,#0016ff 150px,#004bff 175px,#002cff 207px,#003cff 239px,#0090ff 256px,#009cff 267px,#000fff 274px,#0000f1 276px,#0000a7 279px,#0000a4 280px,#0000ff 285px,#0044ff 290px,#0008ff 295px,#0000ff 297px,#0000b6 303px,#0000bf 330px,#0000ff 342px,#004bff 360px,#004bff 470px)"></i><i style="left:216px;width:4px;background:linear-gradient(#00a6ff,#0093ff 119px,#0042ff 150px,#0077ff 174px,#0067ff 212px,#0083ff 238px,#00b2ff 255px,#0078ff 267px,#000fff 273px,#0000f6 275px,#0000a2 279px,#0000a4 280px,#0000ff 285px,#0044ff 290px,#0008ff 295px,#0000ff 297px,#0000b6 303px,#0000bf 330px,#0000ff 340px,#0000ff 343px,#0058ff 360px,#0058ff 470px)"></i><i style="left:219px;width:4px;background:linear-gradient(#00b0ff,#00b0ff 119px,#004cff 150px,#0092ff 174px,#008bff 210px,#00c8ff 255px,#005eff 267px,#0002ff 273px,#0000fd 274px,#00009f 279px,#00009f 280px,#0000ff 285px,#0044ff 290px,#0008ff 295px,#0000ff 297px,#0000b6 303px,#0000bf 330px,#0000ff 342px,#004bff 360px,#004bff 470px)"></i><i style="left:222px;width:4px;background:linear-gradient(#00b0ff,#00afff 120px,#004bff 150px,#008bff 175px,#0087ff 210px,#00c8ff 255px,#0000ff 273px,#00009f 279px,#00009f 280px,#0000ff 285px,#0044ff 290px,#0008ff 295px,#0000ff 297px,#0000b6 303px,#0000bb 327px,#0008f3 358px,#000af3 470px)"></i><i style="left:225px;width:4px;background:linear-gradient(#0098ff,#008fff 119px,#0036ff 150px,#005eff 175px,#0057ff 210px,#0083ff 239px,#00b0ff 255px,#0000ff 272px,#00009f 279px,#00009f 280px,#0000ff 285px,#0044ff 290px,#0008ff 295px,#0000ff 297px,#0000b6 303px,#0000c1 470px)"></i><i style="left:228px;width:4px;background:linear-gradient(#003fff,#003fff 25px,#0018f6 58px,#0018f4 119px,#0001e7 148px,#000fff 169px,#0010ff 210px,#003aff 239px,#008bff 255px,#0000fd 271px,#00009e 279px,#00009f 280px,#0000ff 285px,#0044ff 290px,#0008ff 295px,#0000ff 297px,#0000b6 303px,#0000bf 470px)"></i><i style="left:231px;width:4px;background:linear-gradient(#0001ff,#0000ff 26px,#0000a8 60px,#0000a2 143px,#0000a2 150px,#0000dc 174px,#0000cb 210px,#0001f7 238px,#0012ff 244px,#0060ff 256px,#0000ff 269px,#00009b 279px,#00009f 280px,#0000ff 285px,#0044ff 290px,#0008ff 295px,#0000ff 297px,#0000b6 303px,#0000bf 470px)"></i><i style="left:234px;width:4px;background:linear-gradient(#0001ff,#0000ff 26px,#0000a8 60px,#00009c 152px,#0000aa 178px,#000098 210px,#0000ca 239px,#0003ff 247px,#003fff 256px,#0000ff 268px,#00009b 279px,#00009f 280px,#0000ff 285px,#0044ff 290px,#0008ff 295px,#0000ff 297px,#0000b6 303px,#0000bf 470px)"></i><i style="left:237px;width:4px;background:linear-gradient(#003fff,#003fff 25px,#0018f6 58px,#000ff3 124px,#0000e4 136px,#000092 174px,#000084 206px,#0000ae 239px,#0001ff 250px,#0022ff 256px,#0000fc 268px,#00009b 279px,#00009f 280px,#0000ff 285px,#0044ff 290px,#0008ff 295px,#0000ff 297px,#0000b6 303px,#0000ca 358px,#0000ca 470px)"></i><i style="left:240px;width:4px;background:linear-gradient(#0098ff,#008fff 119px,#0003ff 145px,#000087 174px,#000080 199px,#0000a1 239px,#0000ff 252px,#000bff 256px,#0000ff 267px,#00009b 279px,#00009f 280px,#0000ff 285px,#0044ff 290px,#0008ff 295px,#0000ff 297px,#0000b6 303px,#0000bb 327px,#0000f6 346px,#001bff 358px,#001eff 470px)"></i><i style="left:243px;width:4px;background:linear-gradient(#00b0ff,#00afff 119px,#0000ff 148px,#000080 175px,#000080 213px,#00009b 239px,#0000ff 253px,#0000fd 268px,#00009b 279px,#00009f 280px,#0000ff 285px,#0044ff 290px,#0008ff 295px,#0000ff 297px,#0000b6 303px,#0000bf 330px,#0000ff 341px,#0007ff 345px,#0054ff 360px,#0054ff 470px)"></i><i style="left:246px;width:4px;background:linear-gradient(#00b0ff,#00afff 119px,#0000ff 148px,#000080 174px,#000080 214px,#000096 239px,#0000ff 253px,#0000fc 269px,#00009b 279px,#00009f 280px,#0000ff 285px,#0044ff 290px,#0008ff 295px,#0000ff 297px,#0000b6 303px,#0000bf 330px,#0000ff 340px,#0000ff 343px,#0058ff 360px,#0058ff 470px)"></i><i style="left:249px;width:4px;background:linear-gradient(#0098ff,#008fff 119px,#0013ff 141px,#0000fa 147px,#000080 174px,#000080 214px,#000096 239px,#0000f1 248px,#0003ff 251px,#0027ff 256px,#0000fd 270px,#00009b 279px,#00009f 280px,#0000ff 285px,#0044ff 290px,#0008ff 295px,#0000ff 297px,#0000b6 303px,#0000bf 330px,#0000ff 342px,#004bff 360px,#004bff 470px)"></i><i style="left:252px;width:4px;background:linear-gradient(#003fff,#003fff 25px,#0018f6 58px,#0016f4 120px,#0000df 135px,#000080 174px,#000080 214px,#000096 239px,#0003ff 248px,#0058ff 256px,#0024ff 267px,#0000ff 271px,#00009f 279px,#00009f 280px,#0000ff 285px,#0044ff 290px,#0008ff 295px,#0000ff 297px,#0000b6 303px,#0000bb 327px,#0008f3 358px,#000af3 470px)"></i><i style="left:255px;width:4px;background:linear-gradient(#0001ff,#0000fd 28px,#0000aa 59px,#0000aa 119px,#000086 148px,#000080 166px,#000080 213px,#00009b 239px,#0000ff 246px,#0084ff 256px,#003bff 267px,#0000ff 272px,#00009f 279px,#00009f 280px,#0000ff 285px,#0044ff 290px,#0008ff 295px,#0000ff 297px,#0000b6 303px,#0000c1 470px)"></i><i style="left:258px;width:4px;background:linear-gradient(#000bff,#0006fd 30px,#0000bf 59px,#0000b2 118px,#000086 148px,#000080 166px,#000080 213px,#00009e 238px,#0000aa 240px,#0000ff 245px,#009bff 255px,#009fff 256px,#0048ff 267px,#0000ff 273px,#00009f 279px,#00009f 280px,#0000ff 285px,#0044ff 290px,#0008ff 295px,#0000ff 297px,#0000b6 303px,#0000bf 470px)"></i><i style="left:261px;width:4px;background:linear-gradient(#0062ff,#0062ff 26px,#000ef9 118px,#0000e4 132px,#00009b 152px,#000080 172px,#000080 212px,#0000a2 236px,#0000b3 240px,#0000fd 244px,#0000ff 245px,#00a6ff 255px,#00aaff 256px,#004eff 267px,#0000ff 273px,#00009f 279px,#00009f 280px,#0000ff 285px,#0044ff 290px,#0008ff 295px,#0000ff 297px,#0000b6 303px,#0000bf 470px)"></i><i style="left:264px;width:4px;background:linear-gradient(#00a7ff,#00a3ff 59px,#0046ff 118px,#0000ff 134px,#0000b0 151px,#000080 173px,#000080 211px,#0000ab 237px,#0000b9 240px,#0000ff 244px,#0004ff 245px,#00a7ff 255px,#00abff 256px,#0050ff 267px,#0000ff 273px,#00009f 279px,#00009f 280px,#0000ff 285px,#0044ff 290px,#0008ff 295px,#0000ff 297px,#0000b6 303px,#0000bf 470px)"></i><i style="left:267px;width:4px;background:linear-gradient(#00b0ff,#00b0ff 60px,#004cff 119px,#0000ff 135px,#0000f6 139px,#0000b6 150px,#000080 173px,#000084 213px,#0000b5 239px,#0000ff 244px,#00a4ff 256px,#0050ff 267px,#0000ff 273px,#00009f 279px,#00009f 280px,#0000ff 285px,#0044ff 290px,#0008ff 295px,#0000ff 297px,#0000b6 303px,#0000bf 470px)"></i><i style="left:270px;width:4px;background:linear-gradient(#00aeff,#00acff 59px,#004bff 118px,#0000ff 134px,#0000f9 138px,#0000b9 149px,#000080 173px,#000081 209px,#00009f 227px,#0000b6 239px,#0000fd 244px,#0000ff 245px,#008fff 256px,#004eff 267px,#0000ff 273px,#00009f 279px,#00009f 280px,#0000ff 285px,#0044ff 290px,#0008ff 295px,#0000ff 297px,#0000b6 303px,#0000bf 470px)"></i><i style="left:273px;width:4px;background:linear-gradient(#0082ff,#006cff 60px,#000fff 125px,#0000f3 133px,#0000a8 150px,#000080 173px,#000087 209px,#0000b8 239px,#0001ff 246px,#0068ff 256px,#004cff 267px,#0000ff 273px,#00009f 279px,#00009f 280px,#0000ff 285px,#0044ff 290px,#0008ff 295px,#0000ff 297px,#0000b6 303px,#0000bf 470px)"></i><i style="left:276px;width:4px;background:linear-gradient(#001fff,#0013ff 33px,#0001dc 61px,#0000cb 118px,#00008a 151px,#000080 171px,#000092 208px,#0000c1 239px,#0000ff 247px,#003bff 256px,#004bff 267px,#0000ff 273px,#00009f 279px,#00009f 280px,#0000ff 285px,#0044ff 290px,#0008ff 295px,#0000ff 297px,#0000b6 303px,#0000bf 470px)"></i><i style="left:279px;width:4px;background:linear-gradient(#0000ff,#0000fc 27px,#00009e 59px,#00009c 121px,#000080 148px,#000083 174px,#0000aa 210px,#0000dd 239px,#0000ff 247px,#0000ff 250px,#0048ff 267px,#0000ff 273px,#00009f 279px,#00009f 280px,#0000ff 285px,#0044ff 290px,#0008ff 295px,#0000ff 297px,#0000b6 303px,#0000bf 470px)"></i><i style="left:282px;width:4px;background:linear-gradient(#0001ff,#0000fd 28px,#0000b0 60px,#0000b0 121px,#00008d 150px,#00008d 175px,#0000ed 220px,#000bff 237px,#0016ff 256px,#0048ff 267px,#0000ff 273px,#00009f 279px,#00009f 280px,#0000ff 285px,#0044ff 290px,#0008ff 295px,#0000ff 297px,#0000b6 303px,#0000bf 470px)"></i><i style="left:285px;width:4px;background:linear-gradient(#0027ff,#0027ff 24px,#000bf7 60px,#0008f6 124px,#00009e 174px,#0000eb 200px,#0006ff 212px,#0053ff 240px,#0024ff 255px,#0048ff 267px,#0000ff 273px,#00009f 279px,#00009f 280px,#0000ff 285px,#0044ff 290px,#0008ff 295px,#0000ff 297px,#0000b6 303px,#0000bb 327px,#0000df 358px,#0000df 470px)"></i><i style="left:288px;width:4px;background:linear-gradient(#0046ff,#0042ff 120px,#0000ff 145px,#0000ad 174px,#0000ff 198px,#009bff 239px,#003cff 255px,#004cff 267px,#0000ff 273px,#00009f 279px,#00009f 280px,#0000ff 285px,#0044ff 290px,#0008ff 295px,#0000ff 297px,#0000b6 303px,#0000bf 330px,#0000f3 340px,#0004ff 346px,#0038ff 360px,#0038ff 470px)"></i><i style="left:291px;width:4px;background:linear-gradient(#004cff,#004cff 119px,#0000ff 144px,#0000ff 150px,#0000b5 174px,#0000fd 191px,#0000ff 195px,#00c8ff 239px,#0052ff 255px,#0052ff 267px,#0000ff 273px,#0000fa 274px,#00009f 279px,#00009f 280px,#0000ff 285px,#0044ff 290px,#0008ff 295px,#0000ff 297px,#0000b6 303px,#0000bf 330px,#0000ff 340px,#0000ff 343px,#0057ff 360px,#0057ff 470px)"></i><i style="left:294px;width:4px;background:linear-gradient(#004aff,#0048ff 119px,#0007ff 141px,#0000ff 148px,#0000b8 174px,#0000ff 191px,#0000ff 195px,#0037ff 209px,#00dffb 239px,#006eff 255px,#0064ff 267px,#0000ff 274px,#00009f 279px,#00009f 280px,#0000ff 285px,#0044ff 290px,#0008ff 295px,#0000ff 297px,#0000b6 303px,#0000bf 330px,#0000ff 340px,#0008ff 345px,#0056ff 360px,#0056ff 470px)"></i><i style="left:297px;width:4px;background:linear-gradient(#0036ff,#0020ff 119px,#000cff 130px,#0000bb 173px,#0000fd 192px,#0000ff 196px,#0033ff 211px,#00d4ff 235px,#09f0ee 239px,#00d3ff 245px,#0094ff 256px,#0084ff 267px,#0003ff 274px,#0000fa 275px,#0000a4 279px,#00009f 280px,#0000ff 285px,#0044ff 290px,#0008ff 295px,#0000ff 297px,#0000b6 303px,#0000bf 330px,#0000f0 340px,#000aff 348px,#0032ff 359px,#0032ff 470px)"></i><i style="left:300px;width:4px;background:linear-gradient(#0008ff,#0004ff 31px,#0000e2 59px,#0000cb 118px,#0000b0 149px,#0000bf 174px,#0000fc 194px,#0002ff 202px,#001aff 210px,#00d6ff 234px,#13fce4 240px,#00d4fe 252px,#00a8ff 267px,#0000ff 275px,#0000a4 279px,#00009f 280px,#0000ff 285px,#0044ff 290px,#0008ff 295px,#0000ff 297px,#0000b6 303px,#0000c7 359px,#0000c7 470px)"></i><i style="left:303px;width:4px;background:linear-gradient(#0000ff,#0000ff 26px,#0000b8 64px,#00009c 115px,#00009b 150px,#0000fa 192px,#0002ff 204px,#0010ff 210px,#00d8ff 234px,#16ffe1 239px,#06ecf1 256px,#00c8ff 267px,#00bbff 268px,#0008ff 275px,#0000fd 276px,#0000a4 279px,#00009f 280px,#0000ff 285px,#0044ff 290px,#0008ff 295px,#0000ff 297px,#0000b6 303px,#0000b8 330px,#00009f 358px,#00009f 470px)"></i><i style="left:306px;width:4px;background:linear-gradient(#0008ff,#0000fc 34px,#0000c8 60px,#00009f 117px,#00009f 150px,#0000f7 175px,#0008ff 199px,#001aff 210px,#00d6ff 234px,#13fce4 239px,#15fee2 242px,#0ff8e7 256px,#00d8ff 267px,#00cbff 268px,#000eff 275px,#0000ff 276px,#0000a8 279px,#00009f 280px,#0000ff 285px,#0044ff 290px,#0000ff 296px,#0000f6 298px,#0000b6 303px,#0000a4 330px,#00009f 470px)"></i><i style="left:309px;width:4px;background:linear-gradient(#0036ff,#0036ff 24px,#0001ff 49px,#0000b0 120px,#0000b2 150px,#0000fd 168px,#0014ff 176px,#002aff 209px,#00d4ff 235px,#09f0ee 239px,#0cf4eb 247px,#00dffc 267px,#00d0ff 268px,#0000ff 276px,#0000a8 279px,#00009f 280px,#0000ff 285px,#0044ff 290px,#0008ff 295px,#0000ff 297px,#0000b6 303px,#0001d4 355px,#0003d4 470px)"></i><i style="left:312px;width:4px;background:linear-gradient(#004aff,#0048ff 25px,#0000ff 53px,#0000b6 119px,#0000b6 149px,#0000ff 164px,#0030ff 175px,#003cff 210px,#03e8f4 240px,#03e8f4 255px,#00e0fb 267px,#0000ff 276px,#0000a8 279px,#00009f 280px,#0000ff 285px,#0044ff 290px,#0008ff 295px,#0000ff 297px,#0000b6 303px,#0000b6 315px,#0000f7 322px,#0037ff 330px,#0093ff 360px,#0093ff 470px)"></i><i style="left:315px;width:4px;background:linear-gradient(#004cff,#004cff 24px,#0000ff 53px,#0000b6 119px,#0000b6 149px,#0000fa 160px,#0000ff 163px,#003cff 175px,#0043ff 210px,#00dffc 240px,#00e0fb 267px,#0000ff 276px,#0000a8 279px,#00009f 280px,#0000ff 285px,#0044ff 290px,#0008ff 295px,#0000ff 297px,#0000b6 303px,#0000b6 315px,#0000fd 320px,#0084ff 330px,#00beff 345px,#0fedeb 359px,#11efe9 470px)"></i><i style="left:318px;width:4px;background:linear-gradient(#0046ff,#0046ff 25px,#0000ff 53px,#0000b6 119px,#0000b6 149px,#0000fd 161px,#0000ff 164px,#0034ff 175px,#0038ff 210px,#00d6ff 240px,#00e0fb 267px,#0000ff 276px,#0000a8 279px,#00009f 280px,#0000ff 285px,#0044ff 290px,#0008ff 295px,#0000ff 297px,#0000b6 303px,#0000b6 315px,#0000ff 319px,#00c4ff 330px,#14fce3 345px,#41ffb6 360px,#41ffb6 470px)"></i><i style="left:321px;width:4px;background:linear-gradient(#0027ff,#0027ff 24px,#0004ff 42px,#0000df 61px,#0000b6 119px,#0000b6 149px,#0000fd 163px,#0000ff 166px,#0023ff 175px,#0023ff 209px,#00ccff 240px,#00e0fb 267px,#0000ff 276px,#0000a8 279px,#00009f 280px,#0000ff 285px,#0044ff 290px,#0008ff 295px,#0000ff 297px,#0000b6 303px,#0000b6 315px,#0000ff 319px,#00ccff 330px,#16ffe1 344px,#46ffb1 359px,#46ffb1 470px)"></i><i style="left:324px;width:4px;background:linear-gradient(#0001ff,#0000fd 29px,#0000c1 59px,#0000b6 117px,#0000b6 149px,#0000ff 166px,#0014ff 175px,#0014ff 209px,#00c0ff 240px,#00dffc 267px,#00d0ff 268px,#0000ff 276px,#0000a8 279px,#00009f 280px,#0000ff 285px,#0044ff 290px,#0008ff 295px,#0000ff 297px,#0000b6 303px,#0000b6 315px,#0000ff 319px,#00ccff 330px,#16ffe1 344px,#45ffb2 360px,#45ffb2 470px)"></i><i style="left:327px;width:4px;background:linear-gradient(#0000ff,#0000ff 26px,#0000be 59px,#0000bb 149px,#0000ff 165px,#001aff 175px,#001aff 209px,#00b4ff 239px,#00baff 256px,#00dcfe 267px,#00d0ff 268px,#0000ff 276px,#0000a8 279px,#00009f 280px,#0000ff 285px,#0044ff 290px,#0008ff 295px,#0000ff 297px,#0000b6 303px,#0000b6 315px,#0000ff 319px,#00ccff 330px,#0cf3eb 347px,#24fcd3 360px,#24fcd3 470px)"></i><i style="left:330px;width:4px;background:linear-gradient(#001fff,#0000e2 115px,#0000e2 149px,#0000f1 154px,#003aff 175px,#003aff 209px,#00b0ff 239px,#0088ff 255px,#00dcfe 267px,#00d0ff 268px,#0000ff 276px,#0000a8 279px,#00009f 280px,#0000ff 285px,#0044ff 290px,#0008ff 295px,#0000ff 297px,#0000b6 303px,#0000b6 315px,#0000ff 319px,#00ccff 330px,#00d6ff 470px)"></i><i style="left:333px;width:4px;background:linear-gradient(#0082ff,#0074ff 60px,#0026ff 119px,#0026ff 149px,#0068ff 174px,#006aff 209px,#00b0ff 239px,#004cff 255px,#00d8ff 267px,#00d0ff 268px,#0000ff 276px,#0000a8 279px,#00009f 280px,#0000ff 285px,#0044ff 290px,#0008ff 295px,#0000ff 297px,#0000b6 303px,#0000b6 315px,#0000fa 318px,#0003ff 319px,#00beff 327px,#11f0e9 330px,#32f9c5 360px,#32f9c5 470px)"></i><i style="left:336px;width:4px;background:linear-gradient(#00aeff,#00aeff 59px,#0048ff 119px,#0048ff 149px,#0090ff 175px,#0090ff 210px,#00b0ff 239px,#001cff 255px,#001fff 256px,#00d0ff 267px,#00ccff 268px,#000fff 275px,#0000ff 276px,#0000a8 279px,#00009f 280px,#0000ff 285px,#0044ff 290px,#0008ff 295px,#0000ff 297px,#0000b6 303px,#0000b6 315px,#0000ff 318px,#00d4ff 326px,#1effd8 328px,#41ffb6 330px,#98ff5f 360px,#98ff5f 470px)"></i><i style="left:339px;width:4px;background:linear-gradient(#00b0ff,#00b0ff 60px,#004cff 118px,#004cff 150px,#00a0ff 175px,#00b0ff 239px,#0003ff 255px,#0004ff 256px,#00bfff 267px,#00bbff 268px,#0008ff 275px,#0000fd 276px,#0000a4 279px,#00009f 280px,#0000ff 285px,#0044ff 290px,#0008ff 295px,#0000ff 297px,#0000b6 303px,#0000b6 315px,#0000ff 318px,#00dbfe 326px,#0ff8e7 327px,#26ffd1 328px,#49ffad 330px,#a4ff53 359px,#a4ff53 470px)"></i><i style="left:342px;width:4px;background:linear-gradient(#00a7ff,#00a6ff 59px,#0043ff 119px,#0043ff 149px,#0098ff 175px,#0098ff 209px,#00b0ff 239px,#0000ff 255px,#0008ff 257px,#0094ff 267px,#0092ff 268px,#0000ff 275px,#0000a4 279px,#00009f 280px,#0000ff 285px,#0044ff 290px,#0008ff 295px,#0000ff 297px,#0000b6 303px,#0000b6 315px,#0000ff 318px,#00d7ff 326px,#22ffd5 328px,#45ffb2 330px,#a2ff55 360px,#a2ff55 470px)"></i><i style="left:345px;width:4px;background:linear-gradient(#0062ff,#005fff 31px,#0012ff 119px,#0012ff 149px,#0083ff 175px,#0084ff 211px,#00b0ff 239px,#0000ff 255px,#000cff 259px,#0052ff 267px,#0000f7 274px,#00009f 279px,#00009f 280px,#0000ff 285px,#0044ff 290px,#0008ff 295px,#0000ff 297px,#0000b6 303px,#0000b6 315px,#0000f4 318px,#0013ff 320px,#00aeff 327px,#0ad4f1 329px,#1cecdd 336px,#5dff9a 360px,#5dff9a 470px)"></i><i style="left:348px;width:4px;background:linear-gradient(#000bff,#0007ff 30px,#0000dc 59px,#0000cd 115px,#0000cd 149px,#0000f9 156px,#000aff 160px,#0068ff 175px,#0068ff 209px,#00b0ff 239px,#0000ff 254px,#000eff 267px,#0001f9 270px,#00009c 279px,#00009f 280px,#0000ff 285px,#0044ff 290px,#0008ff 295px,#0000ff 297px,#0000b6 303px,#0000b6 315px,#0000ff 321px,#0066ff 330px,#02d8fa 360px,#02d8fa 470px)"></i><i style="left:351px;width:4px;background:linear-gradient(#0001ff,#0000fd 30px,#0000c8 59px,#0000c1 147px,#0000ff 160px,#0058ff 175px,#0058ff 210px,#00b0ff 239px,#0000ff 254px,#0000e4 266px,#00009b 279px,#00009f 280px,#0000ff 285px,#0044ff 290px,#0008ff 295px,#0000ff 297px,#0000b6 303px,#0000b6 315px,#0000f3 323px,#001bff 329px,#009eff 360px,#009eff 470px)"></i><i style="left:354px;width:4px;background:linear-gradient(#003fff,#003fff 25px,#0022fd 58px,#0022fd 119px,#0006f7 151px,#004eff 175px,#004eff 209px,#00b0ff 239px,#0000ff 254px,#00009b 279px,#00009f 280px,#0000ff 285px,#0044ff 290px,#0008ff 295px,#0000ff 297px,#0000b6 303px,#0000ca 328px,#0001ff 340px,#0060ff 360px,#0060ff 470px)"></i><i style="left:357px;width:4px;background:linear-gradient(#0098ff,#0093ff 119px,#0038ff 150px,#004cff 174px,#004cff 210px,#00b0ff 239px,#0000ff 254px,#0000ff 255px,#0000b8 268px,#000098 279px,#0000ff 285px,#0044ff 290px,#0008ff 295px,#0000ff 297px,#0000b6 303px,#0000b6 315px,#0000e5 324px,#000ef7 332px,#0083ff 360px,#0083ff 470px)"></i><i style="left:360px;width:4px;background:linear-gradient(#00b0ff,#00b0ff 119px,#004bff 150px,#004cff 210px,#00acff 239px,#0000ff 254px,#0000b2 269px,#000096 279px,#0000ff 285px,#0044ff 290px,#0008ff 295px,#0000ff 297px,#0000b6 303px,#0000b6 315px,#0000ff 322px,#0043ff 330px,#00b4ff 360px,#00b4ff 470px)"></i><i style="left:363px;width:4px;background:linear-gradient(#00b0ff,#00b0ff 119px,#004bff 150px,#004cff 210px,#00a4ff 239px,#0000ff 255px,#0000b2 269px,#000096 279px,#0000ff 285px,#0044ff 290px,#0008ff 295px,#0000ff 297px,#0000b6 303px,#0000b6 315px,#0008f3 329px,#001eff 342px,#004bff 360px,#004bff 470px)"></i><i style="left:366px;width:4px;background:linear-gradient(#00a6ff,#0093ff 119px,#0040ff 150px,#004cff 210px,#0093ff 239px,#0000ff 254px,#0000b2 269px,#000096 279px,#0000ff 285px,#0044ff 290px,#0008ff 295px,#0000ff 297px,#0000b6 303px,#0000c1 329px,#0001ff 359px,#0001ff 470px)"></i><i style="left:369px;width:4px;background:linear-gradient(#0074ff,#0074ff 25px,#0022fd 59px,#0016ff 150px,#004cff 174px,#004cff 209px,#007cff 239px,#0000ff 254px,#0000b2 269px,#000096 279px,#0000ff 285px,#0044ff 290px,#0008ff 295px,#0000ff 297px,#0000b6 303px,#0000bb 327px,#0000dc 360px,#0000dc 470px)"></i><i style="left:372px;width:4px;background:linear-gradient(#0050ff,#004fff 25px,#0000ff 46px,#0000c7 60px,#0000c7 120px,#0000ff 152px,#0054ff 175px,#0054ff 211px,#0068ff 239px,#0000ff 254px,#0000b2 269px,#000096 279px,#0000ff 285px,#0044ff 290px,#0008ff 295px,#0000ff 297px,#0000b6 303px,#0000bb 470px)"></i><i style="left:375px;width:4px;background:linear-gradient(#0050ff,#004fff 25px,#0000ff 46px,#0000c7 60px,#0000c7 120px,#0000f1 138px,#0004ff 152px,#0062ff 175px,#006aff 239px,#0000ff 254px,#0000b2 269px,#000096 279px,#0000ff 285px,#0044ff 290px,#0000ff 296px,#0000f6 298px,#0000b6 303px,#0000b6 316px,#000098 329px,#000098 470px)"></i><i style="left:378px;width:4px;background:linear-gradient(#0074ff,#0074ff 25px,#0022fd 59px,#0022fd 121px,#0042ff 151px,#007aff 175px,#007cff 239px,#0000ff 254px,#0000b2 269px,#000096 279px,#0000ff 285px,#0044ff 290px,#0000ff 296px,#0000f6 298px,#0000b6 303px,#0000b6 316px,#000098 330px,#0000a2 470px)"></i><i style="left:381px;width:4px;background:linear-gradient(#00a6ff,#0093ff 58px,#0094ff 239px,#0000ff 255px,#0000b6 268px,#000096 279px,#0000ff 285px,#0044ff 290px,#0008ff 295px,#0000ff 297px,#0000b6 303px,#0000b6 315px,#0000eb 320px,#003fff 328px,#0592f7 360px,#0592f7 470px)"></i><i style="left:384px;width:4px;background:linear-gradient(#00b0ff,#00a7ff 239px,#0000ff 255px,#0000b8 268px,#000099 279px,#00009f 280px,#0000ff 285px,#0044ff 290px,#0008ff 295px,#0000ff 297px,#0000b6 303px,#0000b6 315px,#0000ff 319px,#00c6ff 330px,#14fae3 344px,#48ffae 360px,#48ffae 470px)"></i><i style="left:387px;width:4px;background:linear-gradient(#00b0ff,#00b4ff 239px,#0001ff 257px,#0000f7 260px,#0000be 268px,#00009b 278px,#00009f 280px,#0000ff 285px,#0044ff 290px,#0008ff 295px,#0000ff 297px,#0000b6 303px,#0000b6 315px,#0000ff 319px,#00c0ff 329px,#01e4f8 334px,#15fde2 338px,#81ff75 360px,#81ff75 470px)"></i><i style="left:390px;width:4px;background:linear-gradient(#00a6ff,#0093ff 124px,#0098ff 149px,#00c0ff 175px,#00ccff 202px,#00c0ff 239px,#0001ff 261px,#0000c4 269px,#00009b 279px,#00009f 280px,#0000ff 285px,#0044ff 290px,#0008ff 295px,#0000ff 297px,#0000b6 303px,#0000b6 315px,#0000ff 319px,#00c0ff 329px,#00e4f8 333px,#16ffe1 337px,#9dff5a 360px,#9dff5a 470px)"></i><i style="left:393px;width:4px;background:linear-gradient(#0074ff,#0074ff 25px,#0022fd 59px,#0022fd 121px,#0042ff 150px,#00ccff 175px,#04e8f4 211px,#00ccff 239px,#0054ff 256px,#0001ff 264px,#00009b 279px,#00009f 280px,#0000ff 285px,#0044ff 290px,#0008ff 295px,#0000ff 297px,#0000b6 303px,#0000b6 315px,#0000ff 319px,#00c0ff 329px,#00e0fb 334px,#17fde0 340px,#6cff8b 360px,#6cff8b 470px)"></i><i style="left:396px;width:4px;background:linear-gradient(#0050ff,#004fff 25px,#0000ff 46px,#0000c8 59px,#0000c8 120px,#0000ff 148px,#0007ff 151px,#00d6ff 175px,#15fde2 211px,#00d3ff 240px,#0080ff 256px,#0000ff 266px,#00009b 279px,#00009f 280px,#0000ff 285px,#0044ff 290px,#0008ff 295px,#0000ff 297px,#0000b6 303px,#0000b6 315px,#0000ff 319px,#00c4ff 330px,#15fce2 345px,#42ffb5 360px,#42ffb5 470px)"></i><i style="left:399px;width:4px;background:linear-gradient(#0057ff,#0056ff 25px,#0010ff 43px,#0000f1 53px,#0000dc 59px,#0000dc 120px,#0008ff 148px,#0014ff 151px,#00dcfe 175px,#15fee2 198px,#22ffd5 209px,#18ffdf 217px,#00dcfe 239px,#00a3ff 255px,#0003ff 266px,#0000ff 267px,#00009b 279px,#00009f 280px,#0000ff 285px,#0044ff 290px,#0008ff 295px,#0000ff 297px,#0000b6 303px,#0000b6 315px,#0000fd 320px,#0086ff 330px,#00bfff 345px,#10efea 359px,#11f0e9 470px)"></i><i style="left:402px;width:4px;background:linear-gradient(#0088ff,#0088ff 24px,#004aff 59px,#004aff 121px,#0062ff 149px,#00e0fb 175px,#13fce4 193px,#26ffd1 209px,#16ffe1 221px,#00d8ff 241px,#00afff 255px,#0000ff 267px,#00009b 279px,#00009f 280px,#0000ff 285px,#0044ff 290px,#0008ff 295px,#0000ff 297px,#0000b6 303px,#0000b6 315px,#0000ff 321px,#006bff 330px,#02dbfa 359px,#02dbfa 470px)"></i><i style="left:405px;width:4px;background:linear-gradient(#00acff,#00a7ff 149px,#00dcfe 174px,#16ffe1 195px,#26ffd1 208px,#16ffe1 222px,#00d8ff 241px,#00b0ff 255px,#0000ff 267px,#00009b 279px,#00009f 280px,#0000ff 285px,#0044ff 290px,#0008ff 295px,#0000ff 297px,#0000b6 303px,#0000b6 315px,#0000f4 318px,#0013ff 320px,#00aeff 327px,#0ad4f1 329px,#1cecdd 336px,#5dff9a 360px,#5dff9a 470px)"></i><i style="left:408px;width:4px;background:linear-gradient(#00b0ff,#00b0ff 150px,#00daff 173px,#13fce4 194px,#25ffd2 209px,#16ffe1 220px,#00e4f8 235px,#00aeff 255px,#0000ff 267px,#00009b 279px,#00009f 280px,#0000ff 285px,#0044ff 290px,#0008ff 295px,#0000ff 297px,#0000b6 303px,#0000b6 315px,#0000ff 318px,#01defb 326px,#28ffcf 328px,#4cffab 330px,#adff49 360px,#a7ff50 470px)"></i><i style="left:411px;width:4px;background:linear-gradient(#00afff,#00aeff 149px,#00dbfe 177px,#11fbe5 197px,#1fffd7 208px,#15fee2 218px,#00dbfe 238px,#00a3ff 255px,#0000ff 267px,#00009b 279px,#00009f 280px,#0000ff 285px,#0044ff 290px,#0008ff 295px,#0000ff 297px,#0000b6 303px,#0000b6 315px,#0000f0 317px,#0004ff 318px,#00ccff 324px,#0aefef 325px,#3cffba 327px,#72ff85 329px,#88ff6f 331px,#d2fe25 346px,#f7d105 359px,#defe19 409px,#ddfe1a 470px)"></i><i style="left:414px;width:4px;background:linear-gradient(#009aff,#009aff 24px,#0074ff 58px,#0078ff 132px,#0082ff 149px,#00cfff 175px,#16fee1 210px,#00cfff 239px,#008cff 255px,#0000ff 267px,#00009b 279px,#00009f 280px,#0000ff 285px,#0044ff 290px,#0008ff 295px,#0000ff 297px,#0000b6 303px,#0000b6 315px,#0000f1 317px,#0004ff 318px,#00ccfe 324px,#0bedee 325px,#3cffba 327px,#82ff74 330px,#dffd18 345px,#ffcb00 355px,#ffad00 361px,#edfb0a 410px,#edfb0a 470px)"></i><i style="left:417px;width:4px;background:linear-gradient(#0063ff,#0063ff 25px,#001aff 47px,#0008f0 59px,#000efa 133px,#0023ff 150px,#00c0ff 175px,#08efef 210px,#00bcff 240px,#0067ff 256px,#0000ff 266px,#00009b 279px,#00009f 280px,#0000ff 285px,#0044ff 290px,#0008ff 295px,#0000ff 297px,#0000b6 303px,#0000b6 315px,#0000f7 318px,#0004ff 319px,#00bbff 327px,#0ce5ee 329px,#30ffc7 335px,#c7ff30 360px,#b6ff41 470px)"></i><i style="left:420px;width:4px;background:linear-gradient(#004eff,#004cff 25px,#0002ff 42px,#0000ff 46px,#0000be 60px,#0000be 120px,#0000ff 150px,#00aeff 175px,#00d7fe 210px,#00aeff 239px,#0000ff 265px,#00009b 279px,#00009f 280px,#0000ff 285px,#0044ff 290px,#0008ff 295px,#0000ff 297px,#0000b6 303px,#0000b6 315px,#0000f7 318px,#0004ff 319px,#00bbff 327px,#0ce5ee 329px,#2cffca 335px,#b7ff40 360px,#a4ff53 470px)"></i><i style="left:423px;width:4px;background:linear-gradient(#0057ff,#0056ff 25px,#0010ff 43px,#0000f1 53px,#0000dc 59px,#0000dc 121px,#0001ff 149px,#0097ff 175px,#00b7ff 210px,#0097ff 239px,#0018ff 256px,#0000fc 262px,#00009b 279px,#00009f 280px,#0000ff 285px,#0044ff 290px,#0008ff 295px,#0000ff 297px,#0000b6 303px,#0000b6 315px,#0000f1 317px,#0006ff 318px,#00ccfe 324px,#0ceded 325px,#3cffba 327px,#82ff74 330px,#eef90a 360px,#edfb0a 411px,#a3ff54 470px)"></i><i style="left:426px;width:4px;background:linear-gradient(#0088ff,#0088ff 24px,#004aff 59px,#004aff 120px,#0027ff 149px,#007bff 175px,#008fff 210px,#007bff 239px,#0006ff 253px,#00009b 279px,#00009f 280px,#0000ff 285px,#0044ff 290px,#0008ff 295px,#0000ff 297px,#0000b6 303px,#0000b6 315px,#0000ea 317px,#001aff 319px,#00aeff 324px,#15dfe5 326px,#57fd9f 330px,#bbfe3b 360px,#bbfe3b 409px,#6fff88 470px)"></i><i style="left:429px;width:4px;background:linear-gradient(#00acff,#00a6ff 119px,#0048ff 149px,#0064ff 185px,#0060ff 239px,#000aff 248px,#0000f7 251px,#0000c4 256px,#000096 279px,#0000ff 285px,#0044ff 290px,#0008ff 295px,#0000ff 297px,#0000b6 303px,#0000b6 315px,#0000e1 321px,#003cff 336px,#07adf5 360px,#0098ff 470px)"></i><i style="left:432px;width:4px;background:linear-gradient(#00b0ff,#00b0ff 120px,#004cff 149px,#004aff 239px,#0006ff 246px,#0000fd 248px,#0000a5 256px,#000096 279px,#0000ff 285px,#0044ff 290px,#0008ff 295px,#0000ff 297px,#0000b6 303px,#0000b6 315px,#0008ff 338px,#006eff 360px,#006eff 470px)"></i><i style="left:435px;width:4px;background:linear-gradient(#00afff,#00aeff 119px,#0048ff 150px,#002fff 175px,#002fff 239px,#0001ff 245px,#00009b 256px,#000096 274px,#00009f 280px,#0000ff 285px,#0044ff 290px,#0008ff 295px,#0000ff 297px,#0000b6 303px,#0000b6 315px,#0000fa 322px,#003fff 331px,#00b3ff 360px,#00b3ff 470px)"></i><i style="left:438px;width:4px;background:linear-gradient(#009aff,#009aff 24px,#0074ff 58px,#0074ff 119px,#0027ff 149px,#0013ff 164px,#000bff 239px,#0000fa 243px,#000096 256px,#000096 279px,#0000ff 285px,#0044ff 290px,#0008ff 295px,#0000ff 297px,#0000b6 303px,#0000b6 315px,#0001f9 323px,#002fff 330px,#008bff 360px,#008bff 470px)"></i><i style="left:441px;width:4px;background:linear-gradient(#0063ff,#0063ff 25px,#001aff 47px,#0008f0 59px,#0000e4 239px,#000096 256px,#000096 279px,#0000ff 285px,#0044ff 290px,#0000ff 296px,#0000f6 298px,#0000b6 303px,#0000ab 329px,#0000c1 355px,#0000c1 470px)"></i><i style="left:444px;width:4px;background:linear-gradient(#004eff,#004eff 24px,#0000ff 43px,#0000fc 47px,#0000bf 60px,#0000b8 240px,#000096 255px,#000096 279px,#0000f6 284px,#0000ff 285px,#0044ff 290px,#0008ff 295px,#0000ff 297px,#0000b6 303px,#0000b6 316px,#000080 329px,#000080 470px)"></i><i style="left:447px;width:4px;background:linear-gradient(#004cff,#004cff 24px,#0008ff 45px,#0000f4 53px,#0000e2 60px,#0000e2 120px,#0000ca 149px,#0000a1 175px,#000096 255px,#000096 279px,#0000f6 284px,#0000ff 285px,#0044ff 290px,#0008ff 295px,#0000ff 297px,#0000b6 303px,#0000b6 316px,#000080 329px,#000080 470px)"></i><i style="left:450px;width:4px;background:linear-gradient(#004cff,#004cff 24px,#0026ff 60px,#0026ff 119px,#0006ff 136px,#0000f0 149px,#000099 175px,#000096 249px,#000096 279px,#0000f6 284px,#0000ff 285px,#0044ff 290px,#0008ff 295px,#0000ff 297px,#0000b6 303px,#0000b6 316px,#000080 329px,#000080 470px)"></i><i style="left:453px;width:4px;background:linear-gradient(#004cff,#0048ff 119px,#0000ff 144px,#0000ff 149px,#000096 175px,#000096 279px,#0000ff 285px,#0044ff 290px,#0008ff 295px,#0000ff 297px,#0000b6 303px,#0000b6 316px,#000080 329px,#000080 470px)"></i><i style="left:456px;width:4px;background:linear-gradient(#004cff,#004cff 119px,#0000ff 144px,#0000ff 149px,#000096 174px,#000096 279px,#0000ff 285px,#0044ff 290px,#0008ff 295px,#0000ff 297px,#0000b6 303px,#0000b6 316px,#00008a 330px,#00008a 470px)"></i><i style="left:459px;width:4px;background:linear-gradient(#004cff,#0043ff 119px,#0000ff 146px,#000092 175px,#000096 279px,#0000ff 285px,#0044ff 290px,#0008ff 295px,#0000ff 297px,#0000b6 303px,#0000ae 470px)"></i><i style="left:462px;width:4px;background:linear-gradient(#004cff,#004cff 24px,#0012ff 60px,#000efd 122px,#0000e8 142px,#00008c 175px,#000096 279px,#0000ff 285px,#0044ff 290px,#0000ff 296px,#0000f6 298px,#0000b6 303px,#0000a4 330px,#0000a4 470px)"></i><i style="left:465px;width:4px;background:linear-gradient(#004cff,#004cff 24px,#0000ff 46px,#0000cd 60px,#0000cd 120px,#000086 175px,#000086 239px,#000099 256px,#000096 279px,#0000ff 285px,#0044ff 290px,#0008ff 295px,#0000ff 297px,#0000b6 303px,#0000b6 316px,#000087 329px,#000083 470px)"></i><i style="left:468px;width:4px;background:linear-gradient(#004cff,#004cff 24px,#0000ff 43px,#0000bb 59px,#0000bb 119px,#000084 173px,#000084 240px,#00009c 255px,#000096 279px,#0000ff 285px,#0044ff 290px,#0008ff 295px,#0000ff 297px,#0000b6 303px,#0000b6 315px,#0000d3 326px,#0017e7 363px,#0000ce 386px,#000098 409px,#000098 470px)"></i><i style="left:471px;width:4px;background:linear-gradient(#004cff,#004cff 24px,#0000ff 45px,#0000ca 59px,#0000ca 119px,#000087 174px,#000087 239px,#0000a2 255px,#000096 279px,#0000ff 285px,#0044ff 290px,#0008ff 295px,#0000ff 297px,#0000b6 303px,#0000b6 315px,#0000ff 322px,#0047ff 330px,#00afff 360px,#0002ff 395px,#0000f7 399px,#0000bb 410px,#0000bb 470px)"></i><i style="left:474px;width:4px;background:linear-gradient(#004cff,#004cff 24px,#0000ff 51px,#0000ed 60px,#0000ed 119px,#00008f 174px,#00008f 240px,#0000ab 256px,#0000aa 269px,#000096 279px,#0000f6 284px,#0000ff 285px,#0044ff 290px,#0008ff 295px,#0000ff 297px,#0000b6 303px,#0000b6 315px,#0000f3 323px,#001bff 329px,#009bff 360px,#0000ff 395px,#0000bf 409px,#0000bf 470px)"></i><i style="left:477px;width:4px;background:linear-gradient(#004cff,#004cff 24px,#0000ff 53px,#0000fd 120px,#0000b8 149px,#000093 174px,#000093 239px,#0000b3 256px,#0000b3 267px,#000096 279px,#0000ff 285px,#0044ff 290px,#0008ff 295px,#0000ff 297px,#0000b6 303px,#0000c8 329px,#0003ff 341px,#0058ff 359px,#0000ff 389px,#0000be 409px,#0000be 470px)"></i><i style="left:480px;width:4px;background:linear-gradient(#004cff,#004cff 24px,#0000ff 53px,#0000ff 120px,#0000b6 150px,#000096 173px,#000098 239px,#0000b6 255px,#0000b6 268px,#000096 279px,#0000ff 285px,#0044ff 290px,#0000ff 296px,#0000f6 298px,#0000b6 303px,#0000a7 329px,#0000dc 344px,#0010f1 358px,#0000dc 385px,#0000a7 409px,#0000a7 470px)"></i><i style="left:483px;width:4px;background:linear-gradient(#0046ff,#0046ff 25px,#0000ff 53px,#0000fa 119px,#0000b6 149px,#000096 175px,#00009e 238px,#0000b6 254px,#0000b6 268px,#000096 279px,#0000ff 285px,#0044ff 290px,#0008ff 295px,#0000ff 297px,#0000b6 303px,#0000b6 316px,#000083 330px,#00008f 358px,#000083 470px)"></i><i style="left:486px;width:4px;background:linear-gradient(#0027ff,#0027ff 24px,#0000f9 45px,#0000d4 60px,#0000d4 120px,#0000ab 148px,#00009c 174px,#0000b6 268px,#000096 279px,#0000ff 285px,#0044ff 290px,#0008ff 295px,#0000ff 297px,#0000b6 303px,#0000b6 316px,#000080 329px,#000080 470px)"></i><i style="left:489px;width:4px;background:linear-gradient(#0001ff,#0000fd 28px,#0000a4 60px,#00009c 152px,#0000c8 240px,#0000b6 267px,#000096 279px,#0000ff 285px,#0044ff 290px,#0008ff 295px,#0000ff 297px,#0000b6 303px,#0000b6 316px,#000080 329px,#000080 470px)"></i><i style="left:492px;width:4px;background:linear-gradient(#0001ff,#0000fd 28px,#0000a8 60px,#0000a8 150px,#0000df 175px,#0001f7 239px,#0000b6 256px,#0000b0 268px,#000096 279px,#0000ff 285px,#0044ff 290px,#0008ff 295px,#0000ff 297px,#0000b6 303px,#0000b6 316px,#000080 329px,#000080 415px,#000098 470px)"></i><i style="left:495px;width:4px;background:linear-gradient(#003fff,#003fff 25px,#0018f6 58px,#0017ff 173px,#003aff 239px,#0008ff 246px,#0000f4 249px,#0000b6 256px,#000096 279px,#0000ff 285px,#0044ff 290px,#0008ff 295px,#0000ff 297px,#0000b6 303px,#0000b6 316px,#000083 329px,#000080 410px,#0000bb 470px)"></i><i style="left:498px;width:4px;background:linear-gradient(#15b5e7,#22b5da 1px,#21addb 58px,#17ace5 82px,#009bff 84px,#008fff 85px,#008fff 149px,#005fff 174px,#007fff 209px,#0087ff 239px,#000aff 249px,#0000fc 251px,#0000b8 256px,#000096 279px,#0000ff 285px,#0044ff 290px,#0008ff 295px,#0000ff 297px,#0000b6 303px,#0000b6 315px,#0000d3 326px,#0000d3 362px,#000098 413px,#0000bf 470px)"></i><i style="left:501px;width:4px;background:linear-gradient(#febb00,#ff3800 1px,#ff3800 58px,#ffac00 59px,#f8dd04 60px,#ff9900 61px,#ff9900 82px,#ebf311 83px,#32ffc5 84px,#00afff 85px,#00afff 151px,#0092ff 175px,#00bbff 210px,#00bcff 239px,#0003ff 251px,#0000fd 252px,#0000c8 255px,#0000bb 257px,#00009b 268px,#000096 277px,#00009f 280px,#0000ff 285px,#0044ff 290px,#0008ff 295px,#0000ff 297px,#0000b6 303px,#0000b6 315px,#0000ff 322px,#0047ff 330px,#004cff 358px,#0001fa 389px,#0000c2 409px,#0000c7 470px)"></i><i style="left:504px;width:4px;background:linear-gradient(#ff9f00,#ff1300 1px,#ff1300 58px,#ff9400 59px,#ffcc00 60px,#ff7a00 61px,#ff7a00 82px,#feed00 83px,#38ffbf 84px,#00b0ff 85px,#00a8ff 175px,#00d3ff 207px,#00d6ff 239px,#0000fd 253px,#0000d7 256px,#0000a2 266px,#000096 279px,#0000ff 285px,#0044ff 290px,#0008ff 295px,#0000ff 297px,#0000b6 303px,#0000b6 315px,#0000f6 320px,#0000ff 322px,#0058ff 330px,#01aefb 360px,#0053ff 408px,#0052ff 470px)"></i><i style="left:507px;width:4px;background:linear-gradient(#ffaf00,#ff2600 1px,#ff2600 58px,#ffa600 59px,#fed800 60px,#ff8c00 61px,#ff8c00 82px,#eff40c 83px,#26fed1 84px,#0098ff 85px,#00a7ff 158px,#00dcfe 209px,#00dcfe 239px,#0010ff 254px,#0003fa 256px,#0000ee 259px,#0000a1 268px,#000096 279px,#0000ff 285px,#0044ff 290px,#0008ff 295px,#0000ff 297px,#0000b6 303px,#0000b6 315px,#0000ff 321px,#0063ff 330px,#00d4fd 346px,#22fdd5 354px,#41ffb6 360px,#37ffc0 470px)"></i><i style="left:510px;width:4px;background:linear-gradient(#1b9ce2,#2c9cd0 1px,#2c9cd0 25px,#2878d5 56px,#1773e5 60px,#1b73e2 82px,#0a73f2 83px,#003fff 85px,#003fff 119px,#00c3ff 189px,#00dcfe 210px,#00dcfe 239px,#0000fc 261px,#0000a7 268px,#000096 279px,#0000ff 285px,#0044ff 290px,#0008ff 295px,#0000ff 297px,#0000b6 303px,#0000b6 315px,#0000f9 319px,#000fff 321px,#00a2ff 330px,#03d7f9 337px,#2dffc9 346px,#81ff75 360px,#81ff75 470px)"></i><i style="left:513px;width:4px;background:linear-gradient(#0050ff,#004fff 25px,#0001ff 59px,#0001ff 120px,#0046ff 146px,#00abff 175px,#00d4ff 210px,#00d4ff 239px,#006aff 255px,#0002ff 262px,#0000fd 263px,#0000ad 268px,#000096 279px,#0000ff 285px,#0044ff 290px,#0008ff 295px,#0000ff 297px,#0000b6 303px,#0000b6 315px,#0000ff 319px,#0007ff 320px,#00c4ff 330px,#04eaf3 335px,#1cffdb 339px,#9dff5a 360px,#9dff5a 470px)"></i><i style="left:516px;width:4px;background:linear-gradient(#0050ff,#004fff 25px,#0001ff 59px,#0001ff 120px,#009aff 174px,#00bfff 209px,#00bfff 239px,#0068ff 255px,#0002ff 262px,#0000fd 263px,#0000ad 268px,#000096 279px,#0000ff 285px,#0044ff 290px,#0008ff 295px,#0000ff 297px,#0000b6 303px,#0000b6 315px,#0000fd 320px,#0087ff 330px,#05dbf7 341px,#24fdd3 348px,#6cff8b 360px,#6cff8b 470px)"></i><i style="left:519px;width:4px;background:linear-gradient(#0074ff,#0074ff 25px,#003fff 59px,#003fff 119px,#0076ff 150px,#009cff 210px,#009cff 239px,#003cff 255px,#0000fc 261px,#0000a7 268px,#000096 279px,#0000ff 285px,#0044ff 290px,#0008ff 295px,#0000ff 297px,#0000b6 303px,#0000b6 315px,#0000ff 321px,#0000ff 322px,#005eff 330px,#00d8ff 346px,#14fde3 351px,#48ffae 360px,#48ffae 470px)"></i><i style="left:522px;width:4px;background:linear-gradient(#00a6ff,#0098ff 60px,#00a4ff 149px,#0068ff 174px,#0074ff 239px,#0007ff 255px,#0000ee 259px,#0000a1 268px,#000096 279px,#0000ff 285px,#0044ff 290px,#0008ff 295px,#0000ff 297px,#0000b6 303px,#0000b6 315px,#0000f6 320px,#0000ff 322px,#005bff 330px,#00dcfe 347px,#19ffde 352px,#46ffb1 360px,#46ffb1 470px)"></i><i style="left:525px;width:4px;background:linear-gradient(#00b0ff,#00b0ff 150px,#0052ff 175px,#0058ff 239px,#0001ff 251px,#0000a4 267px,#000096 279px,#0000ff 285px,#0044ff 290px,#0008ff 295px,#0000ff 297px,#0000b6 303px,#0000b6 315px,#0000ff 322px,#004fff 330px,#00cfff 347px,#0cf4eb 352px,#25ffd2 356px,#3affbc 360px,#3affbc 470px)"></i><i style="left:528px;width:4px;background:linear-gradient(#00b0ff,#00b0ff 149px,#003cff 175px,#003fff 239px,#0000ff 250px,#0000b2 267px,#000096 279px,#0000ff 285px,#0044ff 290px,#0008ff 295px,#0000ff 297px,#0000b6 303px,#0000b6 315px,#0000ea 326px,#0028ff 338px,#01affb 360px,#01affb 470px)"></i><i style="left:531px;width:4px;background:linear-gradient(#00a6ff,#0093ff 58px,#0093ff 149px,#0022ff 174px,#0020ff 239px,#0000f6 259px,#00009b 279px,#00009f 280px,#0000ff 285px,#0044ff 290px,#0008ff 295px,#0000ff 297px,#0000b6 303px,#0000bc 329px,#0004ff 344px,#004cff 360px,#004cff 470px)"></i><i style="left:534px;width:4px;background:linear-gradient(#0074ff,#0074ff 25px,#0022fd 59px,#0022fd 149px,#0003ff 174px,#0001fd 239px,#003bff 255px,#0006ff 266px,#0000f1 270px,#00009b 279px,#00009f 280px,#0000ff 285px,#0044ff 290px,#0000ff 296px,#0000f6 298px,#0000b6 303px,#0000b6 316px,#000098 329px,#0000d3 358px,#0003d3 470px)"></i><i style="left:537px;width:4px;background:linear-gradient(#0050ff,#004fff 25px,#0000ff 46px,#0000c8 59px,#0000c8 150px,#0000f1 174px,#0000e7 239px,#0000ff 242px,#0074ff 256px,#0000ff 271px,#00009f 279px,#00009f 280px,#0000ff 285px,#0044ff 290px,#0008ff 295px,#0000ff 297px,#0000b6 303px,#0000b6 316px,#000080 330px,#000083 470px)"></i><i style="left:540px;width:4px;background:linear-gradient(#0057ff,#0056ff 25px,#0010ff 43px,#0000f1 53px,#0000dc 59px,#0000dc 150px,#0000f7 174px,#0000f7 211px,#0000da 239px,#0000ff 243px,#0098ff 255px,#009aff 256px,#0042ff 267px,#0000ff 272px,#0000fd 273px,#00009f 279px,#00009f 280px,#0000ff 285px,#0044ff 290px,#0008ff 295px,#0000ff 297px,#0000b6 303px,#0000b6 316px,#000080 329px,#000080 470px)"></i><i style="left:543px;width:4px;background:linear-gradient(#0088ff,#0088ff 24px,#004aff 59px,#004aff 149px,#000aff 174px,#0000ff 219px,#0000e3 238px,#0000ff 242px,#00a7ff 255px,#00a8ff 256px,#004bff 267px,#0000ff 273px,#00009f 279px,#00009f 280px,#0000ff 285px,#0044ff 290px,#0008ff 295px,#0000ff 297px,#0000b6 303px,#0000b6 316px,#000083 330px,#000083 470px)"></i><i style="left:546px;width:4px;background:linear-gradient(#00acff,#00a6ff 149px,#002bff 174px,#002aff 209px,#0000ff 231px,#0000f1 239px,#0003ff 242px,#00acff 256px,#0050ff 267px,#0000ff 273px,#00009f 279px,#00009f 280px,#0000ff 285px,#0044ff 290px,#0000ff 296px,#0000f6 298px,#0000b6 303px,#0000a7 329px,#0000a7 470px)"></i><i style="left:549px;width:4px;background:linear-gradient(#00b0ff,#00b0ff 150px,#0040ff 174px,#003fff 210px,#0000ff 234px,#0000ff 241px,#00abff 256px,#004cff 267px,#0000ff 273px,#00009f 279px,#00009f 280px,#0000ff 285px,#0044ff 290px,#0008ff 295px,#0000ff 297px,#0000b6 303px,#0000c8 358px,#0000c8 470px)"></i><i style="left:552px;width:4px;background:linear-gradient(#00b0ff,#00b0ff 149px,#0048ff 175px,#0048ff 209px,#0000ff 235px,#0000ff 241px,#00a0ff 255px,#0068ff 263px,#0000ff 273px,#00009f 279px,#00009f 280px,#0000ff 285px,#0044ff 290px,#0008ff 295px,#0000ff 297px,#0000b6 303px,#0000bb 327px,#0000f6 346px,#001bff 358px,#001eff 470px)"></i><i style="left:555px;width:4px;background:linear-gradient(#00a6ff,#0093ff 58px,#0093ff 149px,#004aff 175px,#0048ff 210px,#0000ff 235px,#0000ff 241px,#008fff 256px,#0000ff 272px,#00009f 279px,#00009f 280px,#0000ff 285px,#0044ff 290px,#0008ff 295px,#0000ff 297px,#0000b6 303px,#0000bc 330px,#0000ff 344px,#0044ff 360px,#0044ff 470px)"></i><i style="left:558px;width:4px;background:linear-gradient(#0074ff,#0074ff 25px,#0022fd 59px,#0022fd 150px,#0048ff 175px,#0048ff 209px,#0000ff 235px,#0003ff 242px,#0070ff 256px,#0000fd 271px,#00009e 279px,#00009f 280px,#0000ff 285px,#0044ff 290px,#0008ff 295px,#0000ff 297px,#0000b6 303px,#0000b6 316px,#000098 330px,#0000d3 358px,#0003d3 470px)"></i><i style="left:561px;width:4px;background:linear-gradient(#0050ff,#004fff 25px,#0000ff 46px,#0000c8 59px,#0000c7 149px,#0000ff 160px,#0040ff 175px,#0040ff 210px,#0002ff 231px,#0000ff 242px,#004cff 256px,#0000ff 269px,#00009b 279px,#00009f 280px,#0000ff 285px,#0044ff 290px,#0008ff 295px,#0000ff 297px,#0000b6 303px,#0000ae 470px)"></i><i style="left:564px;width:4px;background:linear-gradient(#0057ff,#0056ff 25px,#0010ff 43px,#0000f1 53px,#0000dc 59px,#0000dc 120px,#0000cd 149px,#0000ff 161px,#0030ff 175px,#0030ff 209px,#0002ff 227px,#0000ed 239px,#0000ff 245px,#0024ff 256px,#0000ff 268px,#00009b 279px,#00009f 280px,#0000ff 285px,#0044ff 290px,#0008ff 295px,#0000ff 297px,#0000b6 303px,#0000b6 315px,#0000f0 321px,#0014ff 326px,#002eff 330px,#002fff 470px)"></i><i style="left:567px;width:4px;background:linear-gradient(#0088ff,#0088ff 24px,#004aff 59px,#004aff 119px,#0012ff 150px,#0018ff 210px,#0000ff 224px,#0000d9 239px,#0000fa 252px,#0000ff 267px,#00009b 279px,#00009f 280px,#0000ff 285px,#0044ff 290px,#0008ff 295px,#0000ff 297px,#0000b6 303px,#0000b6 315px,#0001ff 321px,#0064ff 329px,#0070ff 334px,#0082ff 359px,#0082ff 470px)"></i><i style="left:570px;width:4px;background:linear-gradient(#00acff,#00a6ff 119px,#0006ff 174px,#0000fd 218px,#0000c8 239px,#0000dc 255px,#0000ff 267px,#00009b 279px,#00009f 280px,#0000ff 285px,#0044ff 290px,#0008ff 295px,#0000ff 297px,#0000b6 303px,#0000b6 315px,#0000fd 319px,#0004ff 320px,#00b4ff 330px,#0fedeb 349px,#23f8d4 360px,#23f8d4 470px)"></i><i style="left:573px;width:4px;background:linear-gradient(#00b0ff,#00b0ff 120px,#0000ff 172px,#0000ff 212px,#0000c1 239px,#0000c5 256px,#0000fa 268px,#00009b 279px,#00009f 280px,#0000ff 285px,#0044ff 290px,#0008ff 295px,#0000ff 297px,#0000b6 303px,#0000b6 315px,#0000f7 319px,#001bff 322px,#0097ff 330px,#17e3e2 358px,#19e4e0 470px)"></i><i style="left:576px;width:4px;background:linear-gradient(#00afff,#00aeff 119px,#0000ff 171px,#0000ff 211px,#0000c5 239px,#0000b6 255px,#0000fa 268px,#00009b 279px,#00009f 280px,#0000ff 285px,#0044ff 290px,#0008ff 295px,#0000ff 297px,#0000b6 303px,#0000b6 315px,#0000dc 323px,#000aea 331px,#0018f0 360px,#0018f0 470px)"></i><i style="left:579px;width:4px;background:linear-gradient(#009aff,#009aff 24px,#0074ff 58px,#0074ff 119px,#0000ff 171px,#0000ff 211px,#0000d6 239px,#0000ad 255px,#0000fa 268px,#00009b 279px,#00009f 280px,#0000ff 285px,#0044ff 290px,#0008ff 295px,#0000ff 297px,#0000b6 303px,#0000b5 470px)"></i><i style="left:582px;width:4px;background:linear-gradient(#0063ff,#0063ff 25px,#001aff 47px,#0008f0 59px,#0000ff 217px,#0000f3 239px,#0000a5 255px,#0000fa 268px,#00009b 279px,#00009f 280px,#0000ff 285px,#0044ff 290px,#0008ff 295px,#0000ff 297px,#0000b6 303px,#0000bf 330px,#00008c 359px,#00008c 470px)"></i><i style="left:585px;width:4px;background:linear-gradient(#004fff,#004fff 24px,#0000ff 44px,#0000fd 47px,#0000c2 59px,#0000c2 120px,#0000ff 147px,#000fff 175px,#0006ff 241px,#0000f3 245px,#00009f 255px,#0000fa 268px,#00009b 279px,#00009f 280px,#0000ff 285px,#0044ff 290px,#0008ff 295px,#0000ff 297px,#0000b6 303px,#0000b6 315px,#0008e8 329px,#000bcb 358px,#000ccb 470px)"></i><i style="left:588px;width:4px;background:linear-gradient(#0063ff,#0063ff 25px,#001aff 47px,#0008f0 59px,#0008f1 121px,#0038ff 174px,#0046ff 239px,#0004ff 246px,#0000f6 248px,#00009c 256px,#0000fa 268px,#00009b 279px,#00009f 280px,#0000ff 285px,#0044ff 290px,#0008ff 295px,#0000ff 297px,#0000b6 303px,#0000b6 315px,#0000f7 319px,#001cff 322px,#0097ff 330px,#13d7e7 356px,#18dbe1 470px)"></i><i style="left:591px;width:4px;background:linear-gradient(#009aff,#009aff 24px,#0074ff 58px,#0082ff 151px,#0068ff 175px,#0068ff 209px,#0084ff 239px,#0000ff 249px,#00009b 256px,#0000fa 267px,#00009b 279px,#00009f 280px,#0000ff 285px,#0044ff 290px,#0008ff 295px,#0000ff 297px,#0000b6 303px,#0000b6 315px,#0000ff 319px,#01d4fb 329px,#1af9dd 337px,#7aff7d 360px,#58ff9e 470px)"></i><i style="left:594px;width:4px;background:linear-gradient(#00afff,#00aeff 150px,#0092ff 183px,#0093ff 211px,#00b7ff 239px,#0000ff 250px,#0000a1 255px,#00009b 256px,#0000fa 267px,#00009b 279px,#00009f 280px,#0000ff 285px,#0044ff 290px,#0008ff 295px,#0000ff 297px,#0000b6 303px,#0000b6 315px,#0000ff 318px,#000fff 319px,#00caff 326px,#15f9e2 328px,#2affcd 329px,#d3fe24 349px,#edeb0f 353px,#fdbd00 360px,#d8fe1e 413px,#96ff61 459px,#94ff63 470px)"></i><i style="left:597px;width:4px;background:linear-gradient(#00b0ff,#00a4ff 193px,#00a8ff 210px,#00d0ff 239px,#00c8ff 240px,#0002ff 250px,#0000fc 251px,#0000a4 255px,#00009b 256px,#0000fa 267px,#00009b 279px,#00009f 280px,#0000ff 285px,#0044ff 290px,#0008ff 295px,#0000ff 297px,#0000b6 303px,#0000b6 315px,#0000ff 318px,#000fff 319px,#00caff 326px,#15f9e2 328px,#2affcd 329px,#d6ff21 348px,#ffcb00 356px,#ffa900 360px,#eafd0d 413px,#a4ff53 470px)"></i><i style="left:600px;width:4px;background:linear-gradient(#00afff,#00aeff 149px,#00a0ff 180px,#00afff 209px,#00d4ff 239px,#0004ff 250px,#0000ff 251px,#0000a4 255px,#00009b 256px,#0000fa 267px,#00009b 279px,#00009f 280px,#0000ff 285px,#0044ff 290px,#0008ff 295px,#0000ff 297px,#0000b6 303px,#0000b6 315px,#0000ff 319px,#01d4fb 329px,#08ebf1 331px,#27ffd0 336px,#c6ff31 360px,#a3ff54 470px)"></i><i style="left:603px;width:4px;background:linear-gradient(#009aff,#009aff 24px,#0074ff 58px,#0074ff 150px,#00ceff 239px,#0004ff 250px,#0000ff 251px,#0000a5 255px,#00009e 256px,#0000fa 268px,#00009b 279px,#00009f 280px,#0000ff 285px,#0044ff 290px,#0008ff 295px,#0000ff 297px,#0000b6 303px,#0000b6 315px,#0000f7 319px,#001cff 322px,#009bff 330px,#06ccf6 338px,#28ead1 348px,#58fd9e 360px,#57fd9f 470px)"></i><i style="left:606px;width:4px;background:linear-gradient(#0063ff,#0063ff 25px,#001aff 47px,#0008f0 59px,#0008f1 150px,#001cff 158px,#007aff 176px,#00b7ff 210px,#00c4ff 239px,#0006ff 250px,#0000ff 251px,#0000aa 256px,#0000fa 268px,#00009b 279px,#00009f 280px,#0000ff 285px,#0044ff 290px,#0008ff 295px,#0000ff 297px,#0000b6 303px,#0000b6 315px,#0000e4 325px,#0013f3 339px,#0028f6 359px,#0028f6 470px)"></i><i style="left:609px;width:4px;background:linear-gradient(#004eff,#004eff 24px,#0002ff 42px,#0000ff 46px,#0000bf 60px,#0000bf 149px,#0000ff 159px,#0070ff 176px,#00c0ff 209px,#00c2ff 231px,#00b8ff 240px,#000aff 251px,#0000f4 253px,#0000ce 256px,#0000fa 268px,#00009b 279px,#00009f 280px,#0000ff 285px,#0044ff 290px,#0008ff 295px,#0000ff 297px,#0000b6 303px,#0000b6 315px,#0000e2 323px,#000af4 330px,#002bfa 359px,#002bfa 470px)"></i><i style="left:612px;width:4px;background:linear-gradient(#004cff,#004cff 24px,#0008ff 45px,#0000f4 53px,#0000e2 60px,#0000e2 149px,#0000f0 152px,#0013ff 159px,#0077ff 175px,#00d8fe 210px,#00c4ff 239px,#001cff 253px,#0007fc 256px,#0000ff 267px,#00009b 279px,#00009f 280px,#0000ff 285px,#0044ff 290px,#0008ff 295px,#0000ff 297px,#0000b6 303px,#0000b6 315px,#0000ff 322px,#0052ff 330px,#00bfff 360px,#00beff 470px)"></i><i style="left:615px;width:4px;background:linear-gradient(#004cff,#004cff 24px,#0026ff 60px,#0026ff 149px,#0098ff 178px,#00d4ff 200px,#09f0ee 211px,#00d0ff 239px,#0000ff 266px,#0000fa 268px,#00009b 279px,#00009f 280px,#0000ff 285px,#0044ff 290px,#0008ff 295px,#0000ff 297px,#0000b6 303px,#0000b6 315px,#0000fa 319px,#0016ff 321px,#02b3fa 330px,#2eeccc 344px,#79ff7e 360px,#79ff7e 410px,#55ffa2 470px)"></i><i style="left:618px;width:4px;background:linear-gradient(#004cff,#0048ff 149px,#00d7ff 193px,#19ffde 211px,#00d0ff 241px,#007bff 256px,#0000ff 267px,#00009b 279px,#00009f 280px,#0000ff 285px,#0044ff 290px,#0008ff 295px,#0000ff 297px,#0000b6 303px,#0000b6 315px,#0000ff 318px,#00cfff 326px,#19fcde 328px,#2fffc8 329px,#d7ff1f 347px,#ffc900 355px,#ff9b00 360px,#ff9c00 409px,#f9e103 445px,#eef70b 470px)"></i><i style="left:621px;width:4px;background:linear-gradient(#004cff,#004cff 150px,#00b8ff 177px,#00dbfe 190px,#11fbe5 201px,#24ffd3 210px,#17ffe0 219px,#00dbfe 240px,#009eff 255px,#0000ff 267px,#00009b 279px,#00009f 280px,#0000ff 285px,#0044ff 290px,#0008ff 295px,#0000ff 297px,#0000b6 303px,#0000b6 315px,#0000ff 318px,#00dbfe 326px,#0ff8e7 327px,#26ffd1 328px,#4dffaa 330px,#dfff18 344px,#fee100 348px,#ff5c00 359px,#ff5700 361px,#ff7f00 410px,#ffea00 461px,#ffea00 470px)"></i><i style="left:624px;width:4px;background:linear-gradient(#004cff,#004cff 150px,#00bcff 175px,#00dbfe 187px,#11fbe5 199px,#26ffd1 209px,#16ffe1 222px,#00e0fb 239px,#009bff 255px,#0000ff 267px,#00009b 279px,#00009f 280px,#0000ff 285px,#0044ff 290px,#0008ff 295px,#0000ff 297px,#0000b6 303px,#0000b6 315px,#0000ff 318px,#00d7ff 326px,#22ffd5 328px,#4affac 330px,#f4f803 344px,#ff2300 360px,#ffeb00 461px,#ffeb00 470px)"></i><i style="left:627px;width:4px;background:linear-gradient(#004cff,#004cff 24px,#0012ff 60px,#0028ff 122px,#004cff 150px,#00c2ff 174px,#00dcfe 185px,#11fbe5 198px,#26ffd1 209px,#16ffe1 222px,#00dcfe 240px,#0083ff 255px,#0002ff 266px,#0000fa 268px,#00009b 279px,#00009f 280px,#0000ff 285px,#0044ff 290px,#0008ff 295px,#0000ff 297px,#0000b6 303px,#0000b6 315px,#0000f4 318px,#0013ff 320px,#00aeff 327px,#0ad4f1 329px,#48ffae 336px,#b8ff3f 346px,#d3f226 349px,#ff9700 359px,#eaf510 447px,#defd19 470px)"></i><i style="left:630px;width:4px;background:linear-gradient(#004cff,#004cff 24px,#0000ff 46px,#0000cd 60px,#0001ff 120px,#0048ff 149px,#00cfff 178px,#16ffe1 201px,#24ffd3 209px,#16ffe1 220px,#00dcfe 240px,#0000ff 266px,#0000fa 268px,#00009b 279px,#00009f 280px,#0000ff 285px,#0044ff 290px,#0008ff 295px,#0000ff 297px,#0000b6 303px,#0000b6 315px,#0000ff 321px,#00cafe 338px,#22fed5 344px,#b3ff44 360px,#a7ff50 470px)"></i><i style="left:633px;width:4px;background:linear-gradient(#004cff,#004cff 24px,#0002ff 42px,#0000ff 46px,#0000c1 60px,#0000ff 122px,#0048ff 149px,#00b7ff 174px,#00dbfd 189px,#13fce4 203px,#18ffdf 215px,#00e0fb 239px,#003aff 255px,#0000ff 265px,#0000fa 268px,#00009b 279px,#00009f 280px,#0000ff 285px,#0044ff 290px,#0008ff 295px,#0000ff 297px,#0000b6 303px,#0000b6 315px,#0000f6 320px,#0000ff 322px,#005bff 330px,#00c2ff 342px,#08e4f1 346px,#3effb9 355px,#5dff9a 360px,#5dff9a 470px)"></i><i style="left:636px;width:4px;background:linear-gradient(#004cff,#004cff 24px,#0013ff 46px,#0006f7 57px,#0016ff 120px,#004aff 149px,#00d0ff 194px,#13fce4 212px,#00e0fb 239px,#000aff 256px,#0000ff 267px,#00009b 279px,#00009f 280px,#0000ff 285px,#0044ff 290px,#0008ff 295px,#0000ff 297px,#0000b6 303px,#0000b6 315px,#0000ff 321px,#005eff 330px,#02e0fa 360px,#02dcfa 470px)"></i><i style="left:639px;width:4px;background:linear-gradient(#004cff,#0038ff 58px,#004cff 150px,#007eff 177px,#00d6ff 202px,#09f0ee 210px,#00e0fb 239px,#0000fd 254px,#0000ed 256px,#0000ff 267px,#00009b 279px,#00009f 280px,#0000ff 285px,#0044ff 290px,#0008ff 295px,#0000ff 297px,#0000b6 303px,#0000b6 315px,#0000fa 319px,#0016ff 321px,#02b2fa 330px,#24ecd5 346px,#55ffa2 360px,#55ffa2 411px,#32f9c5 470px)"></i><i style="left:642px;width:4px;background:linear-gradient(#004cff,#0054ff 165px,#005eff 175px,#00e3f9 209px,#00e0fb 235px,#00d4ff 240px,#0012ff 251px,#0000fc 253px,#0000ce 256px,#0000fa 268px,#00009b 279px,#00009f 280px,#0000ff 285px,#0044ff 290px,#0008ff 295px,#0000ff 297px,#0000b6 303px,#0000b6 315px,#0000ff 318px,#00ccff 326px,#18fcdf 328px,#2dffc9 329px,#eef70b 360px,#edf80b 409px,#99ff5e 460px,#98ff5f 470px)"></i><i style="left:645px;width:4px;background:linear-gradient(#004cff,#004fff 174px,#00defd 210px,#00dbfe 239px,#0000ff 252px,#0000bf 256px,#0000f7 267px,#00009b 279px,#00009f 280px,#0000ff 285px,#0044ff 290px,#0008ff 295px,#0000ff 297px,#0000b6 303px,#0000b6 315px,#0000fd 318px,#0008ff 319px,#00baff 326px,#0ae9ef 328px,#2fffc8 331px,#e7ff0f 356px,#ffea00 360px,#e0fd17 407px,#a4ff53 470px)"></i><i style="left:648px;width:4px;background:linear-gradient(#0046ff,#004bff 172px,#00d4ff 209px,#00d4ff 239px,#0004ff 251px,#0000ff 252px,#0000bb 256px,#0000ed 268px,#00009b 279px,#00009f 280px,#0000ff 285px,#0044ff 290px,#0008ff 295px,#0000ff 297px,#0000b6 303px,#0000b6 315px,#0000ff 319px,#00c3ff 329px,#1efed8 335px,#e1ff16 357px,#f6f305 360px,#a2ff55 410px,#9cff5b 470px)"></i><i style="left:651px;width:4px;background:linear-gradient(#0027ff,#0027ff 24px,#000bf7 60px,#0012ff 149px,#004cff 175px,#00c8ff 209px,#00ccff 239px,#0004ff 251px,#0000ff 252px,#0000be 256px,#0000df 268px,#00009b 279px,#00009f 280px,#0000ff 285px,#0044ff 290px,#0008ff 295px,#0000ff 297px,#0000b6 303px,#0000b6 315px,#0000f3 320px,#005bff 329px,#0192fb 337px,#35cdc4 354px,#4dd2ad 360px,#1fb9dc 410px,#1fb9dc 470px)"></i><i style="left:654px;width:4px;background:linear-gradient(#0001ff,#0000fd 28px,#0000b0 60px,#0000b0 120px,#0000cd 149px,#0000ff 159px,#0058ff 178px,#00c0ff 210px,#00c2ff 239px,#000cff 251px,#0000fa 253px,#0000cd 256px,#0000da 267px,#00009b 279px,#00009f 280px,#0000ff 285px,#0044ff 290px,#0008ff 295px,#0000ff 297px,#0000b6 303px,#0000b6 315px,#0000ce 331px,#0000b2 361px,#0000aa 470px)"></i><i style="left:657px;width:4px;background:linear-gradient(#0001ff,#0000fd 28px,#0000aa 59px,#0000b2 132px,#0000c1 149px,#0000ff 161px,#0054ff 177px,#00b6ff 209px,#00c0ff 239px,#000eff 253px,#0000f9 255px,#0000e8 267px,#00009b 279px,#00009f 280px,#0000ff 285px,#0044ff 290px,#0008ff 295px,#0000ff 297px,#0000b6 303px,#0000b6 316px,#000095 331px,#000081 354px,#000080 470px)"></i><i style="left:660px;width:4px;background:linear-gradient(#003fff,#003fff 25px,#0018f6 58px,#0018f4 120px,#0006f7 151px,#0012ff 159px,#00b4ff 210px,#00c8ff 239px,#002bff 255px,#0000fc 268px,#00009b 279px,#00009f 280px,#0000ff 285px,#0044ff 290px,#0008ff 295px,#0000ff 297px,#0000b6 303px,#0000b6 316px,#000083 330px,#00008f 358px,#000083 470px)"></i><i style="left:663px;width:4px;background:linear-gradient(#0098ff,#008fff 119px,#0038ff 150px,#004aff 174px,#00b0ff 209px,#00d0ff 239px,#0000fd 271px,#00009f 279px,#00009f 280px,#0000ff 285px,#0044ff 290px,#0000ff 296px,#0000f6 298px,#0000b6 303px,#0000a7 329px,#0000dc 344px,#0010f1 358px,#0000dc 385px,#0000a7 409px,#0000a7 470px)"></i><i style="left:666px;width:4px;background:linear-gradient(#00b0ff,#00afff 120px,#004cff 149px,#0048ff 174px,#00abff 209px,#00d3ff 239px,#008eff 256px,#003eff 267px,#0000ff 272px,#0000fd 273px,#00009f 279px,#00009f 280px,#0000ff 285px,#0044ff 290px,#0008ff 295px,#0000ff 297px,#0000b6 303px,#0000b6 315px,#000efd 340px,#0068ff 360px,#0017ff 385px,#0000ee 400px,#0000d3 410px,#0000d3 470px)"></i><i style="left:669px;width:4px;background:linear-gradient(#00b0ff,#00b0ff 119px,#004cff 149px,#0040ff 174px,#0098ff 208px,#00c3ff 239px,#0094ff 257px,#004bff 267px,#0000ff 273px,#00009f 279px,#0000a1 280px,#0000ff 285px,#0044ff 290px,#0000ff 297px,#0000b6 303px,#0000b6 315px,#0001f6 319px,#007bff 327px,#08a8f4 330px,#23e0d7 348px,#3cf1be 359px,#21e2d9 372px,#07bbf5 387px,#0060ff 410px,#0060ff 470px)"></i><i style="left:672px;width:4px;background:linear-gradient(#00a6ff,#0093ff 119px,#003aff 149px,#0032ff 173px,#007fff 213px,#009bff 240px,#0094ff 254px,#0054ff 266px,#0000ff 273px,#0000a1 279px,#0000a4 280px,#0000ff 285px,#0044ff 289px,#0047ff 290px,#0000ff 297px,#0000b8 303px,#0000b9 315px,#0000ff 318px,#000eff 319px,#00c2ff 326px,#0ff4eb 328px,#2fffc8 330px,#81ff75 360px,#28fecf 386px,#0ff4eb 394px,#00d2fe 402px,#00b3ff 409px,#00b3ff 470px)"></i><i style="left:675px;width:4px;background:linear-gradient(#0074ff,#0074ff 25px,#0022fd 59px,#0022fd 119px,#0004f4 150px,#0078ff 255px,#004cff 267px,#0000ff 273px,#0000fc 274px,#0000aa 279px,#0000ad 280px,#0000fd 284px,#0004ff 285px,#004eff 289px,#0050ff 290px,#0000ff 297px,#0000bc 303px,#0000c2 315px,#0000ea 319px,#0053ff 330px,#0478f8 358px,#002bf9 410px,#002bf9 470px)"></i><i style="left:678px;width:4px;background:linear-gradient(#0050ff,#004fff 25px,#0000ff 46px,#0000c8 59px,#0000c1 148px,#0000ff 166px,#001eff 178px,#003bff 239px,#0062ff 256px,#004cff 267px,#0001ff 274px,#0000ca 279px,#0000f4 282px,#000eff 284px,#006cff 289px,#006fff 290px,#000eff 297px,#0000fd 299px,#0000cd 303px,#0000dd 317px,#0000c4 406px,#0000c4 470px)"></i><i style="left:681px;width:4px;background:linear-gradient(#0057ff,#0056ff 25px,#0010ff 43px,#0000f1 53px,#0000dc 59px,#0000dc 150px,#0000f1 156px,#000aff 164px,#0030ff 175px,#003bff 240px,#0052ff 254px,#004cff 267px,#0006f9 279px,#0014ff 281px,#00afff 289px,#00afff 290px,#0018ff 299px,#0000f3 302px,#001eff 329px,#001fff 359px,#0000f1 386px,#0000bf 409px,#0000bf 470px)"></i><i style="left:684px;width:4px;background:linear-gradient(#0088ff,#0088ff 24px,#004aff 59px,#004aff 150px,#005cff 175px,#005eff 240px,#0048ff 279px,#07e0f4 287px,#1ff9d7 290px,#00b7ff 294px,#000fff 302px,#000aff 303px,#0056ff 316px,#006cff 359px,#0010fd 393px,#0001de 410px,#0001de 470px)"></i><i style="left:687px;width:4px;background:linear-gradient(#00acff,#00a6ff 149px,#0086ff 175px,#0088ff 239px,#004eff 255px,#004cff 267px,#0093ff 279px,#00ccfd 282px,#21fcd6 285px,#65ff91 289px,#64ff93 290px,#28ffcf 293px,#00cbff 296px,#0036ff 302px,#002eff 303px,#009cff 316px,#009fff 330px,#06d0f6 340px,#20e9da 350px,#3df1bd 360px,#27cdd2 409px,#27cdd2 470px)"></i><i style="left:690px;width:4px;background:linear-gradient(#00b0ff,#00a3ff 239px,#004eff 256px,#004fff 267px,#00d7fd 280px,#18fcdf 282px,#96ff61 289px,#93ff64 290px,#23ffd4 295px,#00d8fe 297px,#004cff 302px,#0044ff 303px,#00c7ff 315px,#00cfff 329px,#1afedd 337px,#9eff58 360px,#9cff5b 470px)"></i><i style="left:693px;width:4px;background:linear-gradient(#00b0ff,#00b0ff 149px,#00a3ff 171px,#00aeff 239px,#0058ff 255px,#0058ff 260px,#0062ff 268px,#00c6ff 276px,#14f9e3 280px,#b5ff42 289px,#b2ff45 290px,#1fffd7 296px,#00d0ff 298px,#0057ff 302px,#004fff 303px,#01e0fa 315px,#16f9e1 324px,#a4ff53 360px,#a4ff53 470px)"></i><i style="left:696px;width:4px;background:linear-gradient(#00a6ff,#0093ff 58px,#0092ff 161px,#00b0ff 207px,#00b0ff 239px,#0068ff 256px,#0076ff 267px,#00c3ff 273px,#13f8e4 277px,#29ffce 279px,#dcff1b 289px,#d6ff21 290px,#19fede 297px,#01e2fa 298px,#005cff 302px,#0050ff 303px,#00ceff 312px,#0ff8e7 315px,#19fede 317px,#9eff58 360px,#9eff58 470px)"></i><i style="left:699px;width:4px;background:linear-gradient(#0074ff,#0074ff 25px,#0022fd 59px,#0022fd 150px,#007cff 174px,#00b0ff 208px,#00b0ff 240px,#0084ff 256px,#009bff 267px,#00c3ff 270px,#03e3f7 272px,#24ffd3 275px,#56ffa0 279px,#d4ff23 286px,#fede00 289px,#e6fd10 291px,#2dffc9 297px,#0ff8e7 298px,#00d2ff 299px,#005eff 302px,#0054ff 303px,#00d3ff 311px,#19fede 314px,#2bffcb 316px,#11f1e7 330px,#6cff8b 360px,#6cff8b 470px)"></i><i style="left:702px;width:4px;background:linear-gradient(#0050ff,#004fff 25px,#0000ff 46px,#0000c8 59px,#0000c8 149px,#0000fd 157px,#0072ff 176px,#00b0ff 208px,#00b0ff 241px,#009bff 255px,#00bcff 267px,#00d7fe 269px,#1fffd7 272px,#80ff77 279px,#deff19 284px,#ffd100 287px,#ffa400 289px,#ffae00 290px,#f0f908 292px,#1fffd7 298px,#01e2fa 299px,#00b7ff 300px,#0060ff 302px,#0054ff 303px,#00d4ff 310px,#1dffd9 313px,#40ffb7 316px,#18fddf 324px,#04e3f7 330px,#1dfed9 340px,#5bff9c 360px,#5bff9c 470px)"></i><i style="left:705px;width:4px;background:linear-gradient(#0057ff,#0056ff 25px,#0010ff 43px,#0000f1 53px,#0000dc 59px,#0000dc 149px,#0000f0 153px,#000aff 158px,#006eff 174px,#007cff 180px,#00b0ff 208px,#00aaff 255px,#00dcfd 268px,#16fee1 270px,#9aff5d 279px,#d6ff21 282px,#eafe0d 283px,#ffd500 285px,#ff7700 289px,#ff7f00 290px,#ffd700 292px,#ebfd0c 293px,#2fffc8 298px,#09f0ee 299px,#00c0ff 300px,#0063ff 302px,#0054ff 303px,#00dbfe 310px,#18ffdf 312px,#4dffaa 316px,#36ffc1 330px,#94ff63 360px,#94ff63 470px)"></i><i style="left:708px;width:4px;background:linear-gradient(#0088ff,#0088ff 24px,#004aff 59px,#004aff 150px,#0084ff 174px,#00b0ff 208px,#00b0ff 255px,#01e6f7 268px,#1effd8 270px,#a5ff52 279px,#e4ff13 282px,#fcee00 283px,#ffd500 284px,#ff5200 289px,#ff5a00 290px,#ffe600 293px,#dbff1c 294px,#11fbe5 299px,#00c8ff 300px,#0064ff 302px,#0054ff 303px,#00ccff 309px,#1cffdb 312px,#53ffa4 316px,#46ffb1 329px,#a4ff53 360px,#a4ff53 470px)"></i><i style="left:711px;width:4px;background:linear-gradient(#00acff,#009aff 175px,#00afff 208px,#00b0ff 255px,#00dcfe 267px,#1fffd7 270px,#a7ff50 279px,#edff0a 282px,#ffe300 283px,#ff3800 289px,#ff4000 290px,#ffd300 293px,#ebff0c 294px,#18ffdf 299px,#00ceff 300px,#0064ff 302px,#0054ff 303px,#00ccff 309px,#1cffdb 312px,#53ffa4 316px,#46ffb1 329px,#a4ff53 360px,#a4ff53 470px)"></i><i style="left:714px;width:4px;background:linear-gradient(#00b0ff,#00b0ff 153px,#00a0ff 173px,#00a8ff 242px,#00b0ff 255px,#00dcfe 267px,#1fffd7 270px,#a7ff50 279px,#f1fc06 282px,#ffde00 283px,#ff2d00 289px,#ff3800 290px,#ffcc00 293px,#f1fc06 294px,#19ffde 299px,#00d0ff 300px,#0064ff 302px,#0054ff 303px,#00defd 310px,#1affdd 312px,#50ffa7 316px,#36ffc1 330px,#94ff63 360px,#94ff63 470px)"></i><i style="left:717px;width:4px;background:linear-gradient(#00afff,#00aeff 150px,#0090ff 174px,#0093ff 240px,#00b0ff 255px,#00dcfe 267px,#1fffd7 270px,#a7ff50 279px,#effe08 282px,#ffe100 283px,#ff3200 289px,#ff3b00 290px,#ffd000 293px,#eefe09 294px,#19ffde 299px,#00cfff 300px,#0064ff 302px,#0054ff 303px,#00d7ff 310px,#13fce4 312px,#22ffd5 313px,#44ffb3 316px,#1dfed9 323px,#04e0f8 330px,#22fed5 342px,#58ff9e 360px,#58ff9e 470px)"></i><i style="left:720px;width:4px;background:linear-gradient(#009aff,#009aff 24px,#0074ff 58px,#0082ff 151px,#0068ff 175px,#0068ff 239px,#00dcfe 267px,#1fffd7 270px,#a7ff50 279px,#ebff0c 282px,#ffe800 283px,#ff4500 289px,#ff4f00 290px,#ffdd00 293px,#e3ff14 294px,#15fee2 299px,#00cbff 300px,#0064ff 302px,#0054ff 303px,#00dafe 311px,#1fffd7 314px,#30ffc7 316px,#11f4e7 320px,#0097ff 330px,#1ae4df 359px,#1ae4df 470px)"></i><i style="left:723px;width:4px;background:linear-gradient(#0063ff,#0063ff 25px,#001aff 47px,#0008f0 59px,#0008f1 121px,#0038ff 174px,#0038ff 239px,#00b4ff 256px,#00dcfe 267px,#1fffd7 270px,#a7ff50 279px,#e5ff11 282px,#ffd900 284px,#ff5e00 289px,#ff6800 290px,#faf101 293px,#d3ff24 294px,#36ffc1 298px,#0ef7e9 299px,#00c6ff 300px,#0064ff 302px,#0053ff 303px,#00d6ff 312px,#0cf4eb 314px,#14fbe3 316px,#00d6fd 318px,#001fff 327px,#000ae8 330px,#0018f0 360px,#0018f0 470px)"></i><i style="left:726px;width:3px;background:linear-gradient(#004eff,#004eff 24px,#0000ff 45px,#0000bc 60px,#0000bc 119px,#0000ff 149px,#000fff 175px,#000fff 239px,#00b4ff 256px,#00dcfe 267px,#1fffd7 270px,#e0ff17 282px,#ffe200 284px,#ff7200 289px,#ff7d00 290px,#ffd600 292px,#eefe09 293px,#2fffc8 298px,#09f0ee 299px,#00c0ff 300px,#0064ff 302px,#0050ff 303px,#04eaf3 315px,#02e6f7 316px,#0006ff 326px,#0000fd 327px,#0000bf 330px,#0000c1 470px)"></i></div>
<div class="sp" style="left:117.0px;top:646.8px;width:729.0px;height:469.2px"><i style="left:0px;width:4px;background:linear-gradient(#005eff,#005cff 25px,#0012ff 44px,#0000eb 56px,#0000df 60px,#0000df 150px,#0018ff 152px,#00caff 156px,#00e0fb 157px,#00c0ff 209px,#006aff 239px,#00dcfe 255px,#13fce4 260px,#39ffbe 267px,#53ffa4 279px,#26ffd1 282px,#14fce3 283px,#00cfff 285px,#005fff 290px,#000bff 296px,#0000fc 298px,#0000bf 302px,#0000bf 303px,#0000ff 308px,#00caff 330px,#00caff 470px)"></i><i style="left:3px;width:4px;background:linear-gradient(#00a3ff,#00a3ff 24px,#0064ff 60px,#0064ff 150px,#00e0fb 157px,#00ccff 208px,#0084ff 240px,#00dcfe 255px,#11fbe5 262px,#53ffa4 279px,#1affdd 282px,#00caff 284px,#0022ff 290px,#0000f7 296px,#0000bc 302px,#0000ff 308px,#0008ff 310px,#04e0f8 330px,#04e0f8 470px)"></i><i style="left:6px;width:4px;background:linear-gradient(#00d7ff,#00d7ff 201px,#00d0ff 212px,#009bff 240px,#00e0fb 256px,#09f0ee 264px,#53ffa4 279px,#2affcd 281px,#0ef7e9 282px,#00d3ff 283px,#0004ff 289px,#0000bb 302px,#0000ff 308px,#0008ff 310px,#0044ff 315px,#00d2ff 324px,#23fed4 328px,#36ffc1 330px,#36ffc1 470px)"></i><i style="left:9px;width:4px;background:linear-gradient(#00e0fb,#00dbfe 202px,#00a4ff 239px,#00e0fb 256px,#06ecf1 267px,#17ffe0 270px,#53ffa4 279px,#26ffd1 281px,#09f0ee 282px,#00caff 283px,#000aff 288px,#0000f3 289px,#0000d7 291px,#0000bb 302px,#0000ff 308px,#0008ff 310px,#0044ff 315px,#00dcfe 324px,#16ffe1 326px,#46ffb1 330px,#58ff9e 359px,#58ff9e 470px)"></i><i style="left:12px;width:4px;background:linear-gradient(#00dcfd,#00d7ff 209px,#00a0ff 240px,#00e0fb 256px,#0af2ed 267px,#53ffa4 279px,#28ffcf 281px,#0bf3ec 282px,#00cfff 283px,#0016ff 288px,#0000fc 289px,#0000ea 290px,#0000bb 302px,#0000ff 308px,#0008ff 310px,#0044ff 315px,#00dcfe 324px,#16ffe1 326px,#49ffad 330px,#94ff63 360px,#94ff63 470px)"></i><i style="left:15px;width:4px;background:linear-gradient(#00bbff,#00bbff 25px,#0097ff 58px,#0097ff 150px,#00d7ff 156px,#00dcfe 158px,#00ccff 209px,#008cff 240px,#00dcfe 255px,#10f9e6 263px,#53ffa4 279px,#2dffc9 281px,#15fde2 282px,#00dffb 283px,#0020ff 289px,#000fff 290px,#0000fa 294px,#0000bb 302px,#0000ff 308px,#0008ff 310px,#0044ff 315px,#00dcfe 324px,#16ffe1 326px,#49ffad 330px,#a4ff53 360px,#a4ff53 470px)"></i><i style="left:18px;width:4px;background:linear-gradient(#0070ff,#0070ff 24px,#0027ff 46px,#000ef3 60px,#000ef3 150px,#0030ff 152px,#00c0ff 156px,#00d3ff 157px,#00b8ff 210px,#006eff 239px,#00dcfe 255px,#16fee1 261px,#4fffa8 279px,#1fffd7 282px,#00dbfc 284px,#004cff 290px,#0004ff 296px,#0000f6 298px,#0000bf 302px,#0000bf 303px,#0000ff 308px,#0008ff 310px,#0044ff 315px,#00dcfe 324px,#16ffe1 326px,#48ffae 330px,#a4ff53 360px,#a4ff53 470px)"></i><i style="left:21px;width:4px;background:linear-gradient(#0050ff,#004fff 25px,#0000ff 46px,#0000c2 60px,#0000c2 150px,#0000ff 152px,#00a4ff 156px,#00b8ff 157px,#009bff 209px,#004eff 239px,#00dbfe 255px,#11fbe5 259px,#46ffb1 268px,#46ffb1 279px,#22ffd5 282px,#13fce4 283px,#00d8ff 285px,#0000ff 298px,#0000fa 299px,#0000bf 302px,#0000bf 303px,#0000ff 308px,#0008ff 310px,#0044ff 315px,#00d2ff 324px,#23fed4 328px,#36ffc1 330px,#94ff63 360px,#94ff63 470px)"></i><i style="left:24px;width:4px;background:linear-gradient(#0070ff,#0070ff 24px,#0027ff 46px,#000ef3 60px,#000ef3 150px,#001eff 152px,#007bff 156px,#0086ff 157px,#006cff 209px,#002fff 239px,#00d8ff 255px,#14fde3 259px,#4fffa8 268px,#35ffc2 279px,#1affdd 282px,#00d2ff 286px,#009bff 290px,#0006ff 298px,#0000ff 299px,#0000c4 302px,#0000bf 303px,#0000ff 308px,#0008ff 310px,#02dbfa 329px,#18fadf 339px,#56ffa0 360px,#56ffa0 470px)"></i><i style="left:27px;width:4px;background:linear-gradient(#00bbff,#00bbff 25px,#0097ff 58px,#0097ff 150px,#0048ff 157px,#0038ff 210px,#0014ff 239px,#00d8ff 255px,#16ffe1 259px,#53ffa4 268px,#1fffd7 279px,#00e0fb 284px,#00b4ff 289px,#0008ff 298px,#0000ff 299px,#0000c4 302px,#0000bf 303px,#0000ff 308px,#00ccff 330px,#0cf3eb 347px,#24fcd3 360px,#24fcd3 470px)"></i><i style="left:30px;width:4px;background:linear-gradient(#00dcfd,#00dafe 150px,#00caff 151px,#0027ff 156px,#0017ff 157px,#0002ff 237px,#0006ff 240px,#00d6ff 255px,#1bffdc 260px,#50ffa7 268px,#13fce4 278px,#00e0fb 282px,#00c3ff 287px,#00a8ff 290px,#0008ff 298px,#0000ff 299px,#0000c4 302px,#0000bf 303px,#0000ff 308px,#00b3ff 327px,#00c8ff 331px,#00cfff 470px)"></i><i style="left:33px;width:4px;background:linear-gradient(#00e0fb,#00dffc 150px,#00ccff 151px,#000eff 156px,#0000ff 157px,#0000ff 240px,#00d8ff 256px,#1cffdb 261px,#4cffab 268px,#17ffe0 276px,#03e8f4 279px,#00b8ff 289px,#0000ff 299px,#0000c4 302px,#0000bf 303px,#0000ff 308px,#0058ff 316px,#009eff 330px,#009eff 470px)"></i><i style="left:36px;width:4px;background:linear-gradient(#00d7ff,#00d0ff 150px,#00beff 151px,#0006ff 156px,#0000ff 157px,#0000ff 240px,#00d7fe 258px,#1cffdb 263px,#3fffb8 268px,#16fee1 275px,#00e4f8 279px,#00c0ff 289px,#0000ff 299px,#0000c4 302px,#0000bf 303px,#0000ff 307px,#0002ff 308px,#006cff 316px,#005bff 330px,#005aff 470px)"></i><i style="left:39px;width:4px;background:linear-gradient(#00a3ff,#00a3ff 24px,#0064ff 60px,#0064ff 150px,#0000ff 156px,#001aff 210px,#0000ff 240px,#00ccff 260px,#0cf4eb 264px,#28ffcf 268px,#1affdd 272px,#00defd 281px,#00d6fe 289px,#004bff 295px,#0000ff 299px,#0000c4 302px,#0000c1 303px,#0000fa 306px,#0001ff 307px,#008bff 316px,#001eff 330px,#0014f1 359px,#0014f1 470px)"></i><i style="left:42px;width:4px;background:linear-gradient(#005eff,#005cff 25px,#0012ff 44px,#0000eb 56px,#0000df 60px,#0000df 150px,#0000fd 155px,#0000ff 159px,#0034ff 208px,#0004ff 232px,#0000ff 241px,#0072ff 255px,#00d2ff 264px,#0cf4eb 267px,#06ecf1 282px,#1efcd8 288px,#0ff1ea 290px,#00b6ff 292px,#005bff 295px,#0000ff 299px,#0000c4 302px,#0000c4 303px,#0000ff 306px,#00abff 315px,#00abff 316px,#000fff 325px,#0000f9 327px,#0000ca 330px,#00008f 359px,#00008f 470px)"></i><i style="left:45px;width:4px;background:linear-gradient(#004eff,#004eff 25px,#0003ff 42px,#0000ff 46px,#0000be 60px,#0000bc 150px,#0000f7 154px,#0010ff 157px,#0050ff 210px,#0002ff 239px,#005aff 255px,#00d0ff 267px,#0ff8e7 274px,#30ffc7 283px,#6cff8b 288px,#6bff8c 289px,#38ffbf 291px,#15f3e4 292px,#01cefb 293px,#0042ff 297px,#0000fd 300px,#0000c7 302px,#0000c4 303px,#0000f6 305px,#0000ff 306px,#00c3ff 315px,#00c3ff 316px,#0000ff 326px,#0000bc 330px,#000080 358px,#000080 470px)"></i><i style="left:48px;width:4px;background:linear-gradient(#0070ff,#0070ff 24px,#0027ff 46px,#000ff6 58px,#0000e7 143px,#0000e2 150px,#0001f6 152px,#0038ff 157px,#006eff 210px,#0014ff 240px,#004eff 255px,#00a7ff 267px,#00d0ff 270px,#1fffd7 274px,#7aff7d 283px,#d0fd27 287px,#dbf71f 288px,#c8fe2f 290px,#3cffba 293px,#11efe9 294px,#00c3ff 295px,#0006ff 300px,#0000f1 301px,#0000cb 302px,#0000c4 303px,#0000f9 305px,#0000ff 306px,#00cfff 315px,#00d0ff 316px,#0003ff 326px,#0000fc 327px,#0000c4 330px,#000084 359px,#000084 470px)"></i><i style="left:51px;width:4px;background:linear-gradient(#00bbff,#00bbff 25px,#0097ff 58px,#0097ff 119px,#0028ff 150px,#006bff 158px,#008bff 209px,#002bff 240px,#004eff 256px,#0080ff 267px,#00dbfe 271px,#21ffd6 273px,#9cff5b 279px,#cfff28 283px,#e6f814 284px,#ffc600 286px,#ff9700 288px,#ff9600 289px,#ffad00 290px,#f7de05 291px,#d0ff27 292px,#25fdd2 295px,#03dbf9 296px,#00a7ff 297px,#0000fd 301px,#0000d0 302px,#0000c4 303px,#0000fa 305px,#0004ff 306px,#00d3ff 315px,#00d8ff 316px,#0036ff 328px,#002af9 331px,#001be7 359px,#001be7 470px)"></i><i style="left:54px;width:4px;background:linear-gradient(#00dcfd,#00dafe 119px,#004bff 150px,#008fff 157px,#009cff 210px,#003cff 239px,#005fff 267px,#0070ff 268px,#00d7ff 271px,#0ff8e7 272px,#2bffcb 273px,#d1ff26 279px,#f9ed03 282px,#ffbb00 284px,#ff5800 287px,#ff4500 289px,#ff5900 290px,#ffcc00 292px,#d9ff1d 293px,#22ffd5 296px,#00d4fe 297px,#0000ff 301px,#0000d4 302px,#0000c4 303px,#0000fa 305px,#0004ff 306px,#00d4ff 315px,#00defd 316px,#00baff 329px,#00b7ff 336px,#00b7ff 470px)"></i><i style="left:57px;width:4px;background:linear-gradient(#00e0fb,#00dffc 119px,#004cff 150px,#009aff 157px,#009eff 209px,#003fff 241px,#0046ff 267px,#005bff 268px,#00d0ff 271px,#0ef7e9 272px,#2fffc8 273px,#eefd09 279px,#ffdb00 281px,#ffb100 283px,#ff3000 287px,#ff2200 289px,#ff3300 290px,#ff5e00 291px,#fbee01 293px,#b7ff40 294px,#39ffbe 296px,#03e8f4 297px,#0004ff 301px,#0000d6 302px,#0000c4 303px,#0000fa 305px,#0018ff 307px,#00d4ff 315px,#08ecf1 323px,#32f9c5 360px,#32f9c5 470px)"></i><i style="left:60px;width:4px;background:linear-gradient(#00d3ff,#00cfff 119px,#0046ff 150px,#0086ff 158px,#0087ff 209px,#0038ff 239px,#002aff 256px,#002bff 267px,#0042ff 268px,#00c0ff 271px,#05ebf2 272px,#27ffd0 273px,#f7f601 279px,#ffdc00 280px,#ffa700 283px,#ff2500 287px,#ff1500 289px,#ff2600 290px,#ff5000 291px,#ffe300 293px,#bcff3a 294px,#3bffbb 296px,#05ebf2 297px,#0004ff 301px,#0000d6 302px,#0000c4 303px,#0000fa 305px,#0018ff 307px,#00d4ff 315px,#15fee2 321px,#3cffba 329px,#94ff63 359px,#94ff63 470px)"></i><i style="left:63px;width:4px;background:linear-gradient(#007eff,#007eff 25px,#0058ff 59px,#0058ff 119px,#000ef9 150px,#001aff 152px,#005eff 157px,#005eff 210px,#000eff 252px,#000aff 267px,#0022ff 268px,#00d4ff 272px,#18fedf 273px,#f4f803 279px,#ffde00 280px,#ffaf00 283px,#ff2b00 287px,#ff1a00 289px,#ff2e00 290px,#ff5c00 291px,#f9f202 293px,#31ffc6 296px,#00e0fb 297px,#0003ff 301px,#0000d6 302px,#0000c5 303px,#0000fa 305px,#0004ff 306px,#00d4ff 315px,#11f8e5 323px,#5dff9a 360px,#5dff9a 470px)"></i><i style="left:66px;width:4px;background:linear-gradient(#000fff,#000aff 29px,#0000c7 59px,#0000c7 120px,#0000b2 147px,#0000b2 150px,#0004ff 154px,#003fff 157px,#003fff 209px,#001eff 239px,#0002ff 248px,#0000ff 267px,#000cff 268px,#00c2ff 272px,#07eef0 273px,#2cffca 274px,#e3ff14 279px,#f9f202 280px,#ffde00 282px,#ff3700 288px,#ff3500 289px,#ff4d00 290px,#ffc600 292px,#d9ff1d 293px,#1dffd9 296px,#00ccff 297px,#0000ff 301px,#0000d9 302px,#0000ca 303px,#0000fd 305px,#0006ff 306px,#00d4ff 315px,#00dffc 316px,#00d3ff 328px,#02dafa 470px)"></i><i style="left:69px;width:4px;background:linear-gradient(#0001ff,#0000ff 27px,#0000aa 59px,#0000a2 144px,#0000a2 150px,#0000b3 151px,#0000f3 153px,#0004ff 154px,#0047ff 157px,#0047ff 210px,#0030ff 239px,#0001ff 250px,#0000f4 255px,#0000ff 262px,#0007ff 267px,#001aff 268px,#00e2fa 273px,#1dffd9 274px,#bfff38 279px,#edf80c 283px,#ffc600 285px,#ff8400 287px,#ff7200 289px,#ff8c00 290px,#ffc200 291px,#e9f911 292px,#33ffc4 295px,#05e8f4 296px,#00b4ff 297px,#0000ff 301px,#0000df 302px,#0000d4 303px,#0000ff 305px,#00d4ff 315px,#00dcfe 316px,#00c8ff 330px,#00c8ff 470px)"></i><i style="left:72px;width:4px;background:linear-gradient(#003fff,#003fff 25px,#0018f6 58px,#0018f4 119px,#0001e5 150px,#000ffc 152px,#007cff 157px,#007cff 210px,#0060ff 239px,#0004ff 256px,#003cff 267px,#00c0ff 272px,#00dcfe 273px,#0ff8e7 274px,#27ffd0 275px,#83ff73 279px,#a7ff50 283px,#d4fe23 285px,#fbd301 288px,#f4e708 290px,#d2fe25 291px,#34ffc3 294px,#0aefef 295px,#00bfff 296px,#0003ff 301px,#0000e3 303px,#0000fa 304px,#0004ff 305px,#00dffc 316px,#00d3ff 328px,#00d3ff 470px)"></i><i style="left:75px;width:4px;background:linear-gradient(#0098ff,#008fff 119px,#0036ff 150px,#00c3ff 157px,#00c3ff 209px,#009bff 239px,#0024ff 256px,#0083ff 267px,#00dcfe 273px,#1fffd7 276px,#44ffb3 279px,#5dff9a 283px,#aeff48 288px,#9bff5c 290px,#4effa9 292px,#26fed1 293px,#05e4f5 294px,#00bcff 295px,#0007ff 301px,#0000ff 304px,#00d4ff 315px,#11f8e5 323px,#24fcd3 330px,#24fcd3 470px)"></i><i style="left:78px;width:4px;background:linear-gradient(#00b0ff,#00afff 120px,#004cff 150px,#0058ff 151px,#00cbff 155px,#0df5ea 157px,#0df5ea 209px,#00c4ff 239px,#0043ff 255px,#00bbff 267px,#0af2ed 276px,#26ffd1 283px,#58ff9e 288px,#58ff9e 289px,#2fffc8 291px,#11f5e5 292px,#00d6fd 293px,#0096ff 295px,#000aff 301px,#0000ff 303px,#0006ff 304px,#00d8ff 315px,#19ffde 321px,#46ffb1 332px,#4cffab 470px)"></i><i style="left:81px;width:4px;background:linear-gradient(#00b0ff,#00b0ff 119px,#004cff 150px,#005bff 151px,#00dcfd 155px,#13fce4 156px,#21ffd6 157px,#19ffde 215px,#00d8ff 239px,#005cff 256px,#02e3f8 268px,#05ebf2 281px,#24ffd3 289px,#1afddd 290px,#00d0ff 292px,#0032ff 299px,#0000ff 302px,#0000ff 303px,#00dbfe 315px,#17ffe0 320px,#48ffae 330px,#81ff75 360px,#81ff75 470px)"></i><i style="left:84px;width:4px;background:linear-gradient(#00a6ff,#0093ff 119px,#003aff 150px,#004bff 151px,#00dffc 155px,#19ffde 156px,#27ffd0 157px,#27ffd0 209px,#15fee2 222px,#00dbfe 240px,#0078ff 255px,#00d6fe 264px,#0ff8e7 267px,#00e2fa 280px,#0cf4eb 289px,#00d4ff 291px,#001eff 300px,#0000ff 303px,#01e4f8 315px,#18ffdf 319px,#46ffb1 329px,#a3ff54 360px,#a3ff54 470px)"></i><i style="left:87px;width:4px;background:linear-gradient(#0074ff,#0074ff 25px,#0022fd 59px,#0022fd 119px,#0006f4 150px,#000fff 151px,#00ccff 155px,#14fde3 156px,#29ffce 157px,#29ffce 209px,#16ffe1 222px,#00e0fb 239px,#009fff 255px,#00d8fd 261px,#17fde0 265px,#2affcd 268px,#1cffdb 272px,#01e6f7 280px,#09f0ee 289px,#00d2ff 291px,#000cff 301px,#0000ff 303px,#00c8ff 313px,#16fee1 316px,#a4ff53 359px,#a4ff53 470px)"></i><i style="left:90px;width:4px;background:linear-gradient(#0050ff,#004fff 25px,#0000ff 46px,#0000c7 60px,#0000c1 150px,#0000e0 151px,#0012ff 152px,#00bfff 155px,#10fae6 156px,#29ffce 157px,#29ffce 209px,#16ffe1 222px,#00e4f8 236px,#00c4ff 255px,#00dbfc 258px,#16fde1 262px,#40ffb7 268px,#11f8e5 279px,#1cfedb 289px,#14f9e3 290px,#00d0ff 292px,#000fff 301px,#0000ff 303px,#00d4ff 313px,#16fee1 315px,#a4ff53 359px,#a4ff53 470px)"></i><i style="left:93px;width:4px;background:linear-gradient(#0050ff,#004fff 25px,#0000ff 46px,#0000c7 60px,#0000c1 150px,#0000e0 151px,#0012ff 152px,#00bfff 155px,#10fae6 156px,#29ffce 157px,#29ffce 209px,#16ffe1 222px,#00dffc 245px,#02e4f8 256px,#1bffdc 260px,#4dffaa 268px,#37ffc0 282px,#51ffa6 289px,#33ffc4 291px,#08e9f1 293px,#00caff 294px,#0014ff 301px,#0000ff 302px,#0000ff 303px,#00dbfe 313px,#1bffdc 315px,#a4ff53 359px,#a4ff53 470px)"></i><i style="left:96px;width:4px;background:linear-gradient(#0074ff,#0074ff 25px,#0022fd 59px,#0022fd 119px,#0006f4 150px,#000fff 151px,#00ccff 155px,#14fde3 156px,#29ffce 157px,#29ffce 209px,#16ffe1 222px,#00e0fb 238px,#06ecf1 250px,#10f9e6 256px,#55ffa2 268px,#7bff7c 283px,#aaff4d 289px,#9fff57 290px,#44ffb3 293px,#21fcd6 294px,#05e4f5 295px,#00beff 296px,#0000ff 302px,#0000ff 303px,#00dcfe 313px,#1effd8 315px,#a4ff53 359px,#a4ff53 470px)"></i><i style="left:99px;width:4px;background:linear-gradient(#00a6ff,#0093ff 119px,#003aff 150px,#004bff 151px,#00e0fb 155px,#19ffde 156px,#29ffce 157px,#29ffce 209px,#16ffe1 222px,#00e4f8 242px,#19ffde 255px,#4dffaa 266px,#b7ff40 279px,#d4ff23 285px,#f8e204 289px,#e1f918 291px,#32ffc5 295px,#0af0ee 296px,#00c2ff 297px,#0003ff 302px,#0000ff 303px,#00dcfe 313px,#1fffd7 315px,#a4ff53 359px,#a4ff53 470px)"></i><i style="left:102px;width:4px;background:linear-gradient(#00b0ff,#00b0ff 119px,#004cff 150px,#005cff 151px,#00c0ff 154px,#00e4f8 155px,#19ffde 156px,#29ffce 157px,#29ffce 209px,#16ffe1 222px,#00e4f8 241px,#15fee2 250px,#53ffa4 267px,#e4ff13 279px,#f3f706 283px,#fee000 285px,#ff9600 289px,#ff9c00 290px,#f8e904 292px,#caff2c 293px,#28ffcf 296px,#00dffb 297px,#0004ff 302px,#0000ff 303px,#00dcfe 313px,#1fffd7 315px,#9eff58 360px,#9eff58 470px)"></i><i style="left:105px;width:4px;background:linear-gradient(#00b0ff,#00b0ff 119px,#004cff 150px,#005cff 151px,#00c0ff 154px,#00e4f8 155px,#19ffde 156px,#29ffce 157px,#29ffce 209px,#16ffe1 222px,#00e4f8 241px,#16ffe1 249px,#53ffa4 267px,#ecff0b 278px,#fbf100 279px,#ffd500 284px,#ff6400 289px,#ff6800 290px,#ff8200 291px,#f4f705 293px,#36ffc1 296px,#06ecf1 297px,#00b8ff 298px,#0004ff 302px,#0000ff 303px,#00dcfe 313px,#1fffd7 315px,#43ffb4 327px,#6cff8b 360px,#6cff8b 470px)"></i><i style="left:108px;width:4px;background:linear-gradient(#00a6ff,#0093ff 119px,#003aff 150px,#004bff 151px,#00e0fb 155px,#19ffde 156px,#29ffce 157px,#29ffce 209px,#16ffe1 222px,#00e4f8 241px,#16ffe1 249px,#53ffa4 267px,#e1ff16 277px,#feec00 279px,#ffd100 284px,#ff4d00 289px,#ff4e00 290px,#ff6700 291px,#ff9d00 292px,#ffe800 293px,#b9ff3e 294px,#36ffc1 296px,#05ebf2 297px,#00b4ff 298px,#0004ff 302px,#0000ff 303px,#00dcfe 313px,#1fffd7 315px,#46ffb1 329px,#48ffae 470px)"></i><i style="left:111px;width:4px;background:linear-gradient(#0074ff,#0074ff 25px,#0022fd 59px,#0022fd 119px,#0006f4 150px,#000fff 151px,#00ccff 155px,#14fde3 156px,#29ffce 157px,#26ffd1 210px,#00e4f8 241px,#16ffe1 249px,#53ffa4 267px,#ecff0b 278px,#fbf100 279px,#ffe200 284px,#ff5300 289px,#ff5500 290px,#ff7200 291px,#f3f706 293px,#29ffce 296px,#00dbfd 297px,#0004ff 302px,#0000ff 303px,#00dcfe 313px,#1fffd7 315px,#46ffb1 329px,#46ffb1 470px)"></i><i style="left:114px;width:4px;background:linear-gradient(#0050ff,#0050ff 24px,#0000ff 46px,#0000c7 60px,#0000c1 150px,#0000e0 151px,#0012ff 152px,#00bfff 155px,#10fae6 156px,#29ffce 157px,#24ffd3 208px,#00e4f8 241px,#16ffe1 249px,#53ffa4 267px,#e5ff11 279px,#e0ff17 283px,#f4f306 285px,#ffb900 287px,#ff8700 289px,#ff8c00 290px,#ffac00 291px,#f8e604 292px,#c3ff34 293px,#42ffb5 295px,#0cf3eb 296px,#00bfff 297px,#0000ff 302px,#0000ff 303px,#00dcfe 313px,#1fffd7 315px,#46ffb1 329px,#46ffb1 470px)"></i><i style="left:117px;width:4px;background:linear-gradient(#004cff,#004cff 24px,#0000ff 42px,#0000ff 45px,#0000b6 60px,#0000b6 150px,#0000da 151px,#000cff 152px,#00bcff 155px,#0ff8e7 156px,#29ffce 157px,#16fee1 215px,#00e4f8 241px,#16ffe1 249px,#53ffa4 267px,#b7ff40 279px,#a9ff4e 284px,#ecee0d 288px,#f1e60a 289px,#d9f920 291px,#3fffb8 294px,#0ff0eb 295px,#00c0ff 296px,#001aff 301px,#0000ff 302px,#0000ff 303px,#00dcfe 313px,#1fffd7 315px,#46ffb1 329px,#46ffb1 470px)"></i><i style="left:120px;width:4px;background:linear-gradient(#004cff,#004cff 24px,#0000ff 42px,#0000ff 45px,#0000b6 60px,#0000b6 150px,#0000da 151px,#000cff 152px,#00bcff 155px,#0ff8e7 156px,#29ffce 157px,#13fce4 205px,#00e0fb 240px,#16ffe1 249px,#77ff80 279px,#5aff9d 284px,#82ff74 289px,#79ff7e 290px,#3fffb8 292px,#1af4df 293px,#00a8ff 295px,#0068ff 297px,#0023ff 300px,#0000ff 302px,#0000ff 303px,#00dffc 313px,#1fffd7 315px,#46ffb1 329px,#46ffb1 470px)"></i><i style="left:123px;width:4px;background:linear-gradient(#004cff,#004cff 24px,#0000ff 42px,#0000ff 45px,#0000b6 60px,#0000b6 150px,#0000da 151px,#000cff 152px,#00bcff 155px,#0ff8e7 156px,#26ffd1 157px,#14fde3 186px,#03e8f4 210px,#00defd 239px,#16ffe1 249px,#53ffa4 267px,#38ffbf 279px,#27ffd0 281px,#10f0ea 284px,#0de0ed 290px,#00baff 292px,#003eff 297px,#0006ff 301px,#0000ff 303px,#00c8ff 312px,#00e0fb 313px,#1fffd7 315px,#46ffb1 329px,#46ffb1 470px)"></i><i style="left:126px;width:4px;background:linear-gradient(#004cff,#004cff 24px,#0000ff 42px,#0000ff 45px,#0000b6 60px,#0000b6 150px,#0000da 151px,#0008ff 152px,#00baff 155px,#0df6ea 156px,#24ffd3 157px,#15fee2 176px,#01e4f8 200px,#00d8ff 240px,#15fee2 250px,#53ffa4 268px,#1effd8 277px,#14fbe3 279px,#00d4fe 282px,#0083ff 290px,#0032ff 296px,#0000ff 302px,#0004ff 303px,#00ccff 312px,#00e2fa 313px,#22ffd5 315px,#46ffb1 358px,#46ffb1 470px)"></i><i style="left:129px;width:4px;background:linear-gradient(#004eff,#004eff 24px,#0000ff 43px,#0000fa 47px,#0000bc 60px,#0000bc 150px,#0000dd 151px,#000aff 152px,#00b3ff 155px,#05ebf2 156px,#1bffdc 157px,#03e7f5 183px,#00c8ff 209px,#00c8ff 240px,#00d7ff 243px,#16fee1 252px,#53ffa4 268px,#19ffde 276px,#00dcfd 280px,#004cff 290px,#0012ff 302px,#001aff 303px,#00d6ff 312px,#16fee1 314px,#2dffc9 316px,#15fce2 323px,#04e0f8 330px,#1bfedc 342px,#46ffb1 359px,#46ffb1 470px)"></i><i style="left:132px;width:4px;background:linear-gradient(#0063ff,#0063ff 25px,#001aff 47px,#0008f0 59px,#0008f0 150px,#000efa 151px,#00dcfd 156px,#09f0ee 157px,#00a8ff 209px,#00a8ff 239px,#00d8fe 248px,#16fee1 255px,#54ffa3 267px,#17ffe0 276px,#00d8ff 280px,#0038ff 289px,#0030ff 296px,#0040ff 303px,#00d8fe 311px,#23ffd4 314px,#37ffc0 316px,#15fbe2 324px,#04e0f8 330px,#1ffed7 341px,#5aff9d 360px,#5aff9d 470px)"></i><i style="left:135px;width:4px;background:linear-gradient(#009aff,#009aff 24px,#0074ff 58px,#0074ff 150px,#00dafe 157px,#008aff 208px,#0086ff 239px,#00daff 251px,#14fde3 256px,#5bff9c 267px,#1dffd9 276px,#00dcfd 280px,#0020ff 289px,#001aff 290px,#0070ff 303px,#00d4fe 309px,#19fede 312px,#46ffb1 316px,#37ffc0 330px,#95ff62 360px,#94ff63 470px)"></i><i style="left:138px;width:4px;background:linear-gradient(#06e3f4,#12f0e8 1px,#12eee8 148px,#00b0ff 151px,#00ccff 157px,#007aff 210px,#0074ff 239px,#00dafe 251px,#14fce3 255px,#74ff82 268px,#21ffd6 278px,#0af2ed 280px,#00d8fe 281px,#0016ff 289px,#000eff 290px,#008eff 302px,#00d4ff 307px,#23ffd4 311px,#5aff9d 316px,#6cff8b 330px,#d4f425 360px,#c6ff31 470px)"></i><i style="left:141px;width:4px;background:linear-gradient(#10fae6,#1fffd7 1px,#1fffd7 148px,#0ef7e9 149px,#00ccff 150px,#00b8ff 151px,#00d2ff 159px,#008cff 210px,#007eff 239px,#00d4fe 248px,#15fae2 252px,#a9ff4e 267px,#91ff65 272px,#2fffc8 280px,#17fae0 281px,#00c6ff 283px,#001eff 289px,#0014ff 290px,#00ceff 305px,#05ebf2 307px,#1effd8 309px,#71ff86 316px,#dbfd1c 329px,#fdc800 341px,#ff5000 360px,#ff5000 410px,#ffa700 461px,#ffa700 470px)"></i><i style="left:144px;width:4px;background:linear-gradient(#19ffde,#1fffd7 148px,#14fde3 149px,#00dcfc 150px,#00cfff 151px,#04e8f4 159px,#009cff 239px,#00c6ff 243px,#1ffed7 249px,#7bff7c 258px,#e3fc14 266px,#eef60b 268px,#e6f913 271px,#c4ff33 274px,#79ff7e 279px,#28ffcf 282px,#00d3fe 284px,#0033ff 289px,#0028ff 290px,#00aaff 302px,#00daff 305px,#1fffd7 308px,#8aff6d 316px,#ebff0c 327px,#fdee00 329px,#ff1400 360px,#f40a00 409px,#ff7a00 459px,#ff7f00 470px)"></i><i style="left:147px;width:4px;background:linear-gradient(#21ffd6,#1fffd7 148px,#16ffe1 149px,#00dffc 151px,#14fce3 156px,#15fde2 162px,#07ebf2 209px,#00bfff 239px,#00d2ff 241px,#24ffd3 246px,#a6ff51 258px,#e0ff17 262px,#faee02 264px,#ffc600 268px,#ffd300 272px,#ecfc0b 275px,#a6ff51 279px,#0ff8e7 284px,#00d4ff 285px,#0047ff 289px,#003bff 290px,#00aaff 302px,#00cbff 304px,#18ffdf 307px,#90ff66 315px,#eeff09 327px,#feed00 329px,#ff1300 360px,#ee0500 376px,#cb0000 409px,#ea0300 418px,#ff1600 425px,#ff7e00 461px,#ff7e00 470px)"></i><i style="left:150px;width:4px;background:linear-gradient(#23ffd4,#1fffd7 148px,#00e4f8 151px,#22ffd5 157px,#1bffdc 210px,#00d4ff 239px,#16fee1 243px,#b9ff3e 258px,#f3fa03 262px,#ffc100 266px,#ffb400 268px,#ffb600 271px,#ffd900 274px,#edff0a 276px,#b5ff42 279px,#18ffdf 284px,#00defc 285px,#004cff 289px,#003fff 290px,#009fff 302px,#00d3ff 305px,#1fffd7 308px,#96ff61 316px,#e5fe11 328px,#fbe601 333px,#ff2d00 359px,#f00f00 390px,#ea0b00 413px,#ff2600 424px,#ff9300 462px,#ff9300 470px)"></i><i style="left:153px;width:4px;background:linear-gradient(#22ffd5,#1fffd7 148px,#16ffe1 149px,#00dffb 151px,#11fbe5 154px,#26ffd1 157px,#25ffd2 210px,#00e2fa 240px,#19ffde 243px,#a4ff53 257px,#f5f604 263px,#ffc600 267px,#ffc000 269px,#ffd100 272px,#e9fc0f 275px,#93ff64 279px,#1bfadc 283px,#00bfff 285px,#003bff 289px,#002fff 290px,#0080ff 302px,#00d2fd 307px,#27fed0 311px,#6eff89 317px,#ddff1a 336px,#ffdb00 344px,#ff6d00 360px,#ff6200 408px,#ffd000 458px,#ffd700 470px)"></i><i style="left:156px;width:4px;background:linear-gradient(#0febeb,#11ece9 25px,#0cd3ed 58px,#0cd3ed 120px,#0ac1f2 148px,#00a0ff 151px,#03dff8 154px,#1effd8 156px,#25ffd2 210px,#15fee2 221px,#00dcfe 239px,#1fffd7 245px,#6aff8d 255px,#e3fc14 265px,#f5ee06 268px,#e4f915 271px,#c6ff31 273px,#23f5d5 280px,#00b2ff 283px,#0014ff 289px,#000cff 290px,#0044ff 302px,#00b7ff 311px,#16ebe3 316px,#40feb7 323px,#c2fe35 344px,#f1c80c 359px,#f1c50c 410px,#def21b 445px,#cdfd2a 470px)"></i><i style="left:159px;width:4px;background:linear-gradient(#007cff,#007bff 25px,#002bff 49px,#0016f6 60px,#000ff3 150px,#0018fd 151px,#00c8ff 155px,#0cf4eb 156px,#1fffd7 157px,#18fedf 213px,#00d7ff 240px,#13f9e4 247px,#3fffb8 256px,#b0ff47 267px,#91ff65 270px,#43ffb4 274px,#18ebe1 276px,#02bafa 278px,#0068ff 281px,#0013ff 286px,#0000e5 290px,#0000f4 296px,#000afc 303px,#0066ff 316px,#009eff 331px,#28f0d1 356px,#32f5c6 360px,#32f5c6 410px,#22f2d8 470px)"></i><i style="left:162px;width:4px;background:linear-gradient(#0052ff,#0052ff 24px,#0000ff 44px,#0000fa 48px,#0000c4 60px,#0000c1 150px,#0000dd 151px,#0008ff 152px,#00dbfc 156px,#0ef7e9 157px,#06e8f4 209px,#00b8ff 239px,#0befee 256px,#5fff98 267px,#45ffb2 269px,#1bf5dd 271px,#00b2ff 274px,#001bff 279px,#000cfa 280px,#0000b9 290px,#0000ca 302px,#0000ed 313px,#001cff 324px,#00cbff 360px,#00caff 470px)"></i><i style="left:165px;width:4px;background:linear-gradient(#0063ff,#0063ff 25px,#001aff 47px,#0008f0 59px,#0000e2 150px,#0000f3 151px,#0013ff 152px,#00b7ff 156px,#00cbff 157px,#0088ff 240px,#00c8ff 259px,#15f4e3 267px,#10efea 268px,#00c0ff 270px,#001eff 276px,#0000ee 278px,#0000c1 280px,#0000a2 290px,#0000b8 316px,#0000ea 331px,#0012ff 337px,#00c4ff 360px,#00c4ff 470px)"></i><i style="left:168px;width:4px;background:linear-gradient(#009aff,#009aff 24px,#0074ff 58px,#0074ff 119px,#0027ff 150px,#0096ff 157px,#0048ff 239px,#00acff 267px,#00a4ff 268px,#0018ff 274px,#0000f4 276px,#0000a7 279px,#00009b 280px,#000099 300px,#00009c 315px,#0000c1 330px,#0000f6 339px,#001bff 346px,#0060ff 360px,#0060ff 470px)"></i><i style="left:171px;width:4px;background:linear-gradient(#00afff,#00aeff 119px,#004bff 150px,#006cff 157px,#0022ff 209px,#0016ff 236px,#0018ff 240px,#0062ff 256px,#0072ff 267px,#0007ff 273px,#0000ed 275px,#000092 279px,#000089 280px,#000096 288px,#000096 315px,#0000bf 330px,#0000d6 358px,#0000d6 470px)"></i><i style="left:174px;width:4px;background:linear-gradient(#00b0ff,#00b0ff 120px,#004cff 150px,#0054ff 158px,#0004ff 210px,#0000ff 240px,#0048ff 256px,#004cff 267px,#0003ff 272px,#0000fc 273px,#000081 280px,#000096 289px,#000096 316px,#0000e5 346px,#0008f3 358px,#000af3 470px)"></i><i style="left:177px;width:4px;background:linear-gradient(#00acff,#00a6ff 119px,#0043ff 151px,#0048ff 161px,#0000ff 216px,#0000f3 239px,#0000ff 244px,#002bff 256px,#002cff 267px,#0000ff 271px,#000080 280px,#000096 289px,#000098 316px,#0000bb 329px,#0000ff 342px,#004bff 360px,#004bff 470px)"></i><i style="left:180px;width:4px;background:linear-gradient(#0088ff,#0088ff 24px,#004aff 59px,#004aff 119px,#0013ff 150px,#004cff 157px,#001cff 208px,#0000ff 221px,#0000ff 228px,#0000e0 239px,#0000fc 248px,#0006ff 268px,#0000f9 270px,#000081 280px,#000099 290px,#000096 315px,#0000bb 329px,#0000ff 340px,#0008ff 345px,#0058ff 360px,#0058ff 470px)"></i><i style="left:183px;width:4px;background:linear-gradient(#0057ff,#0056ff 25px,#0010ff 43px,#0000f1 53px,#0000dc 59px,#0000dc 120px,#0000cd 150px,#0000f3 152px,#0001ff 153px,#004cff 157px,#0032ff 208px,#0002ff 223px,#0000ff 228px,#0000d1 239px,#0000fa 255px,#0000fa 267px,#00008a 280px,#0000a1 290px,#00009c 317px,#0000bb 329px,#0000ff 341px,#0007ff 345px,#0054ff 360px,#0054ff 470px)"></i><i style="left:186px;width:4px;background:linear-gradient(#004eff,#004cff 25px,#0000ff 43px,#0000fc 47px,#0000be 60px,#0000bc 129px,#0000bc 150px,#0000ff 153px,#004cff 157px,#0040ff 209px,#0003ff 224px,#0000ff 228px,#0000cd 239px,#0000f9 253px,#0000fd 267px,#0000a4 280px,#0000b8 289px,#0000b8 303px,#00009e 315px,#0000bb 329px,#0000f6 346px,#001bff 358px,#001eff 470px)"></i><i style="left:189px;width:4px;background:linear-gradient(#0063ff,#0063ff 25px,#001aff 47px,#0008f0 59px,#0000ea 151px,#0008ff 153px,#004cff 157px,#004cff 166px,#0048ff 209px,#0003ff 226px,#0000ff 230px,#0000d6 239px,#0000fa 246px,#0026ff 256px,#0026ff 267px,#000aff 272px,#0000d4 280px,#0000e3 302px,#0000a4 316px,#0000c2 330px,#0000ce 358px,#0000ce 470px)"></i><i style="left:192px;width:4px;background:linear-gradient(#009aff,#009aff 24px,#0074ff 58px,#0074ff 119px,#0027ff 150px,#004bff 157px,#004aff 209px,#0000ff 230px,#0000e7 239px,#0006ff 244px,#0070ff 256px,#006cff 268px,#0006ff 280px,#0003ff 304px,#0000ad 316px,#0000e2 324px,#000af3 330px,#000af3 470px)"></i><i style="left:195px;width:4px;background:linear-gradient(#00afff,#00aeff 119px,#0047ff 151px,#0047ff 210px,#0000ff 232px,#0000f4 239px,#0004ff 242px,#00aeff 256px,#00a8ff 268px,#002bff 280px,#002fff 302px,#0000ff 308px,#0000b8 315px,#0000ff 322px,#0047ff 330px,#0047ff 470px)"></i><i style="left:198px;width:4px;background:linear-gradient(#00b0ff,#00b0ff 120px,#0040ff 155px,#003eff 209px,#0000ff 231px,#0000ff 241px,#00c6ff 255px,#00cfff 267px,#0040ff 280px,#0042ff 302px,#0000ff 309px,#0000bb 316px,#0000ed 322px,#001bff 329px,#001eff 470px)"></i><i style="left:201px;width:4px;background:linear-gradient(#00acff,#00a6ff 119px,#0046ff 150px,#0026ff 156px,#0024ff 209px,#0002ff 226px,#0000f1 238px,#0000ff 241px,#00cbff 255px,#00dbfe 267px,#0048ff 280px,#0048ff 302px,#0000ff 309px,#0000ff 310px,#0000b6 316px,#0000ca 329px,#0000c8 470px)"></i><i style="left:204px;width:4px;background:linear-gradient(#0088ff,#0088ff 24px,#004aff 59px,#004aff 119px,#0003fd 157px,#0001fd 213px,#0000e4 239px,#0000ff 242px,#00c0ff 255px,#00dcfe 267px,#0047ff 280px,#004cff 302px,#0000ff 309px,#0000f6 311px,#0000b6 316px,#0000bf 330px,#0000a7 357px,#0000a7 470px)"></i><i style="left:207px;width:4px;background:linear-gradient(#0057ff,#0056ff 25px,#0010ff 43px,#0000f1 53px,#0000dc 59px,#0000dc 120px,#0000cd 150px,#0000dc 157px,#0000e3 239px,#0000ff 242px,#00b8ff 256px,#00dcfe 267px,#0043ff 279px,#004cff 302px,#0000ff 309px,#0000f6 311px,#0000b6 316px,#0000bf 329px,#000083 359px,#000083 470px)"></i><i style="left:210px;width:4px;background:linear-gradient(#0050ff,#004fff 25px,#0000ff 46px,#0000c8 59px,#0000c1 148px,#0000da 208px,#0000fa 239px,#000eff 242px,#009cff 255px,#00dcfe 267px,#00d8ff 268px,#0024ff 280px,#004cff 290px,#004cff 302px,#0000ff 309px,#0000f6 311px,#0000b6 316px,#0000bf 330px,#000098 358px,#000098 470px)"></i><i style="left:213px;width:4px;background:linear-gradient(#0074ff,#0074ff 25px,#0022fd 59px,#0022fd 119px,#0007f6 147px,#0000ee 152px,#0000cd 157px,#0000fa 212px,#0027ff 239px,#0080ff 255px,#00dcfe 267px,#00d4ff 268px,#0016ff 278px,#0004fd 280px,#004cff 290px,#004cff 302px,#0008ff 308px,#0000ff 310px,#0000b6 316px,#0000c4 329px,#0000c1 470px)"></i><i style="left:216px;width:4px;background:linear-gradient(#00a6ff,#0093ff 119px,#003aff 150px,#0000fa 155px,#0000e2 158px,#0000fc 178px,#000cff 202px,#0067ff 240px,#006aff 255px,#00d8ff 267px,#00d3ff 268px,#001bff 276px,#0000f7 278px,#0000da 280px,#0006ff 284px,#004cff 290px,#004cff 302px,#0008ff 308px,#0000ff 310px,#0000bc 316px,#0000e7 321px,#0028f9 329px,#002bf9 470px)"></i><i style="left:219px;width:4px;background:linear-gradient(#00b0ff,#00b0ff 119px,#004cff 150px,#0000ff 155px,#0000f9 156px,#0002ff 177px,#002cff 207px,#008bff 239px,#005bff 255px,#00d6ff 267px,#00ceff 268px,#0003ff 276px,#0000f7 277px,#0000bc 279px,#0000b8 280px,#0000ff 284px,#0002ff 285px,#004cff 290px,#004cff 302px,#0008ff 308px,#0000ff 310px,#0000bf 315px,#0000c1 316px,#0000fc 319px,#0001ff 320px,#00a3ff 330px,#00a3ff 470px)"></i><i style="left:222px;width:4px;background:linear-gradient(#00b0ff,#00b0ff 120px,#004cff 150px,#0000ff 155px,#0000f0 157px,#0002ff 177px,#002cff 207px,#008bff 239px,#005bff 255px,#00caff 267px,#00c2ff 268px,#000cff 275px,#0000ff 276px,#0000ad 279px,#0000a7 280px,#0000ff 285px,#004cff 290px,#004cff 302px,#0008ff 308px,#0000ff 310px,#0000bc 316px,#0000e7 321px,#0028f9 329px,#002bf9 470px)"></i><i style="left:225px;width:4px;background:linear-gradient(#00a6ff,#00a6ff 119px,#0042ff 150px,#0000fc 155px,#0000e0 157px,#0000fc 179px,#0014ff 209px,#0067ff 240px,#006cff 256px,#00b0ff 267px,#00a8ff 268px,#0002ff 275px,#0000f6 276px,#0000a5 279px,#0000a4 280px,#0000ff 285px,#004cff 290px,#004cff 302px,#0008ff 308px,#0000ff 310px,#0000b8 316px,#0000d0 329px,#0000c4 470px)"></i><i style="left:228px;width:4px;background:linear-gradient(#0074ff,#0074ff 120px,#001eff 148px,#0000fa 153px,#0000c8 157px,#0000f6 212px,#0023ff 238px,#0084ff 256px,#008eff 266px,#0084ff 268px,#0007ff 274px,#0000fd 275px,#0000a4 279px,#00009f 280px,#0000ff 285px,#004cff 290px,#004cff 302px,#0008ff 308px,#0000ff 310px,#0000bc 316px,#0000ee 322px,#001bff 329px,#001eff 360px,#0000f6 382px,#0000bf 409px,#0000bf 470px)"></i><i style="left:231px;width:4px;background:linear-gradient(#0050ff,#0050ff 119px,#0000ff 150px,#0000ae 157px,#0000c4 209px,#0000f9 240px,#0010ff 243px,#009aff 256px,#006eff 267px,#0000ff 274px,#0000a1 279px,#00009f 280px,#0000ff 285px,#004cff 290px,#004cff 302px,#0008ff 308px,#0000ff 310px,#0000bf 315px,#0002ff 322px,#005bff 330px,#005bff 360px,#000cff 387px,#0000f3 398px,#0000d3 410px,#0000d3 470px)"></i><i style="left:234px;width:4px;background:linear-gradient(#004cff,#0043ff 119px,#0000ff 148px,#0000f4 151px,#00009f 157px,#0000a7 210px,#0000cd 239px,#0000ff 243px,#00a7ff 256px,#005aff 267px,#0000ff 273px,#0000fc 274px,#00009f 279px,#00009f 280px,#0000ff 285px,#004cff 290px,#004cff 302px,#0008ff 308px,#0000ff 310px,#0000bf 315px,#0000c1 316px,#0001ff 320px,#009eff 330px,#009eff 360px,#0060ff 409px,#0060ff 470px)"></i><i style="left:237px;width:4px;background:linear-gradient(#004cff,#004cff 24px,#0012ff 60px,#0012ff 120px,#0000f7 137px,#0000e4 150px,#000099 157px,#00009b 209px,#0000b8 236px,#0000bc 239px,#0000fc 243px,#0000ff 244px,#00a8ff 255px,#00acff 256px,#0052ff 267px,#0000ff 273px,#00009f 279px,#00009f 280px,#0000ff 285px,#004cff 290px,#004cff 302px,#0008ff 308px,#0000ff 310px,#0000bf 315px,#0000c2 316px,#0000fd 319px,#0006ff 320px,#00b6ff 330px,#00b3ff 470px)"></i><i style="left:240px;width:4px;background:linear-gradient(#004cff,#004cff 24px,#0000ff 46px,#0000cd 60px,#0000c1 150px,#000096 157px,#000096 209px,#0000b6 239px,#0000ff 244px,#00a8ff 255px,#00acff 256px,#0050ff 267px,#0000ff 273px,#00009f 279px,#00009f 280px,#0000ff 285px,#004cff 290px,#004cff 302px,#0008ff 308px,#0000ff 310px,#0000bc 316px,#0000e7 321px,#0028f9 329px,#002bf9 470px)"></i><i style="left:243px;width:4px;background:linear-gradient(#004cff,#004cff 24px,#0000ff 43px,#0000b8 60px,#0000b8 147px,#0000b6 151px,#000096 157px,#000096 210px,#0000b2 236px,#0000bf 240px,#0000ff 244px,#00a7ff 255px,#00abff 256px,#0050ff 267px,#0000ff 273px,#00009f 279px,#00009f 280px,#0000ff 285px,#004cff 290px,#004cff 302px,#0008ff 308px,#0000ff 310px,#0000b8 316px,#0000d7 329px,#0000d0 470px)"></i><i style="left:246px;width:4px;background:linear-gradient(#004bff,#004bff 24px,#0000ff 42px,#0000ff 45px,#0000b6 60px,#0000b6 151px,#000096 157px,#000096 210px,#0000b2 238px,#0000bc 240px,#0000ff 244px,#0003ff 245px,#0090ff 254px,#00a2ff 256px,#0050ff 267px,#0000ff 273px,#00009f 279px,#00009f 280px,#0000ff 285px,#004cff 290px,#004cff 302px,#0008ff 308px,#0000ff 310px,#0000be 316px,#0000f3 320px,#0060ff 330px,#0060ff 360px,#001eff 410px,#001eff 470px)"></i><i style="left:249px;width:4px;background:linear-gradient(#0040ff,#0040ff 24px,#0000ff 41px,#0000fa 45px,#0000b6 60px,#0000b5 150px,#000096 157px,#000096 211px,#0000ab 238px,#0000b6 240px,#0000ff 245px,#0090ff 256px,#0044ff 268px,#0000ff 273px,#00009f 279px,#00009f 280px,#0000ff 285px,#004cff 290px,#004cff 302px,#0008ff 308px,#0000ff 310px,#0000bf 315px,#0000c2 316px,#0000fd 319px,#0016ff 321px,#00b3ff 330px,#00bcff 358px,#0054ff 409px,#0054ff 470px)"></i><i style="left:252px;width:4px;background:linear-gradient(#0016ff,#0016ff 24px,#0000fc 37px,#0000b6 60px,#0000b6 123px,#000096 157px,#0000a5 239px,#0000ff 246px,#0073ff 256px,#004bff 267px,#0000ff 273px,#00009f 279px,#00009f 280px,#0000ff 285px,#004cff 290px,#004cff 302px,#0008ff 308px,#0000ff 310px,#0000bc 316px,#0000e7 321px,#0032ff 333px,#0083ff 360px,#0058ff 407px,#0058ff 470px)"></i><i style="left:255px;width:4px;background:linear-gradient(#0000ff,#0000ff 27px,#0000b8 60px,#0000b8 121px,#000096 155px,#00009e 239px,#0001ff 248px,#0050ff 256px,#0040ff 267px,#0000ff 273px,#00009f 279px,#00009f 280px,#0000ff 285px,#004cff 290px,#004cff 302px,#0008ff 308px,#0000ff 310px,#0000b8 316px,#0000d0 329px,#0000fa 337px,#0002ff 341px,#005aff 360px,#004bff 470px)"></i><i style="left:258px;width:4px;background:linear-gradient(#000bff,#0006fd 32px,#0000dc 59px,#0000dc 119px,#0000b2 150px,#000096 157px,#00009b 239px,#0000f1 248px,#0003ff 251px,#0027ff 256px,#0030ff 267px,#0000ff 272px,#00009f 279px,#00009f 280px,#0000f6 284px,#000cff 286px,#004cff 290px,#004cff 302px,#0008ff 308px,#0000ff 310px,#0000bc 316px,#0000f3 323px,#001fff 330px,#0054ff 359px,#000cfa 402px,#000af3 470px)"></i><i style="left:261px;width:4px;background:linear-gradient(#0062ff,#0062ff 26px,#004aff 58px,#004aff 119px,#0014fc 146px,#0000ee 152px,#000096 157px,#000096 239px,#0000f1 252px,#0004ff 257px,#0018ff 267px,#0000fd 271px,#00009e 279px,#00009f 280px,#0000ff 285px,#004cff 290px,#004cff 302px,#0008ff 308px,#0000ff 310px,#0000bf 315px,#0000ff 322px,#0054ff 330px,#0058ff 359px,#0000ff 388px,#0000ff 392px,#0000c1 410px,#0000c1 470px)"></i><i style="left:264px;width:4px;background:linear-gradient(#00a7ff,#00a6ff 119px,#0043ff 150px,#0000ff 153px,#000096 157px,#000096 239px,#0000ff 264px,#0000fa 270px,#00009b 279px,#00009f 280px,#0000ff 285px,#004cff 290px,#004cff 302px,#0008ff 308px,#0000ff 310px,#0000bf 315px,#0000ff 322px,#0057ff 330px,#0057ff 359px,#0000ff 386px,#0000ff 392px,#0000bf 409px,#0000bf 470px)"></i><i style="left:267px;width:4px;background:linear-gradient(#00b0ff,#00b0ff 120px,#004cff 150px,#0000ff 153px,#0000ed 154px,#0000a8 156px,#000096 157px,#00009b 241px,#0000bf 254px,#0000ff 267px,#0000f9 269px,#00009b 279px,#00009f 280px,#0000ff 285px,#004cff 290px,#004cff 302px,#0008ff 308px,#0000ff 310px,#0000be 316px,#0000f4 321px,#000fff 325px,#0038ff 330px,#0038ff 359px,#0000fc 385px,#0000bf 409px,#0000bf 470px)"></i><i style="left:270px;width:4px;background:linear-gradient(#00aeff,#00aeff 119px,#004aff 150px,#0000ff 153px,#000096 157px,#00009c 239px,#0000be 256px,#0000ff 267px,#00009b 279px,#00009f 280px,#0000ff 285px,#004cff 290px,#004cff 302px,#0008ff 308px,#0000ff 310px,#0000b9 316px,#0000e0 329px,#0000e0 362px,#0000bf 407px,#0000bf 470px)"></i><i style="left:273px;width:4px;background:linear-gradient(#0082ff,#0074ff 119px,#0020ff 150px,#0000f1 153px,#000098 157px,#0000a4 239px,#0000bc 256px,#0000ff 267px,#00009b 279px,#00009f 280px,#0000ff 285px,#004cff 290px,#004cff 302px,#0008ff 308px,#0000ff 310px,#0000b9 316px,#0000e0 329px,#0000e0 362px,#0000bf 407px,#0000bf 470px)"></i><i style="left:276px;width:4px;background:linear-gradient(#001fff,#0008f1 58px,#0008f0 119px,#0000cb 150px,#00009c 157px,#00009f 208px,#0000c1 255px,#0000ff 267px,#0000fa 269px,#00009b 279px,#00009f 280px,#0000ff 285px,#004cff 290px,#004cff 302px,#0008ff 308px,#0000ff 310px,#0000be 316px,#0000f4 321px,#000fff 325px,#0037ff 330px,#0037ff 360px,#0000fc 385px,#0000bf 409px,#0000bf 470px)"></i><i style="left:279px;width:4px;background:linear-gradient(#0000ff,#0000ff 27px,#0000be 60px,#0000be 120px,#00009c 149px,#0000b0 159px,#0000bb 209px,#0000dd 254px,#0003ff 264px,#0000fd 270px,#00009c 279px,#00009f 280px,#0000ff 285px,#004cff 290px,#004cff 302px,#0008ff 308px,#0000ff 310px,#0000be 316px,#0000f4 321px,#000fff 325px,#0037ff 330px,#0037ff 360px,#0000fc 385px,#0000bf 409px,#0000bf 470px)"></i><i style="left:282px;width:4px;background:linear-gradient(#000fff,#0008fd 33px,#0000df 59px,#0000df 121px,#0000bf 150px,#0000d4 158px,#0000ea 189px,#000eff 255px,#0034ff 267px,#0001ff 272px,#00009f 279px,#00009f 280px,#0000ff 285px,#004cff 290px,#004cff 302px,#0008ff 308px,#0000ff 310px,#0000b9 316px,#0000df 329px,#0000df 362px,#0000bf 407px,#0000bf 470px)"></i><i style="left:285px;width:4px;background:linear-gradient(#007eff,#007eff 25px,#0064ff 60px,#0064ff 119px,#003fff 150px,#0003fc 157px,#0056ff 240px,#0056ff 255px,#0070ff 267px,#000cff 273px,#0000f6 275px,#0000a1 279px,#00009f 280px,#0000ff 285px,#004cff 290px,#004cff 302px,#0008ff 308px,#0000ff 310px,#0000b6 316px,#0000bf 470px)"></i><i style="left:288px;width:4px;background:linear-gradient(#00d3ff,#00d0ff 120px,#00a4ff 150px,#0024ff 157px,#009cff 239px,#00aaff 267px,#009fff 268px,#0001ff 275px,#0000f3 276px,#0000a4 279px,#00009f 280px,#0000ff 285px,#004cff 290px,#004cff 302px,#0008ff 308px,#0000ff 310px,#0000b6 316px,#0000bf 470px)"></i><i style="left:291px;width:4px;background:linear-gradient(#00e0fb,#00dcfe 122px,#00b0ff 150px,#003fff 157px,#00c7ff 238px,#00ccff 267px,#00c0ff 268px,#000aff 275px,#0000fd 276px,#0000a5 279px,#00009f 280px,#0000ff 285px,#004cff 290px,#004cff 302px,#0008ff 308px,#0000ff 310px,#0000b9 316px,#0000df 329px,#0000bf 358px,#0000bf 470px)"></i><i style="left:294px;width:4px;background:linear-gradient(#00dcfd,#00dafe 120px,#00aeff 150px,#004aff 157px,#00ccff 228px,#00dbfe 267px,#00ceff 268px,#000fff 275px,#0000ff 276px,#0000a8 279px,#00009f 280px,#0000ff 285px,#004cff 290px,#004cff 302px,#0008ff 308px,#0000ff 310px,#0000be 316px,#0000f4 321px,#000fff 325px,#0037ff 330px,#0000f9 347px,#0000bf 360px,#0000bf 470px)"></i><i style="left:297px;width:4px;background:linear-gradient(#00bbff,#00bbff 25px,#0097ff 58px,#0097ff 119px,#0074ff 150px,#004cff 157px,#00c4ff 211px,#00dffc 240px,#00dffc 267px,#00d0ff 268px,#0000ff 276px,#0000a8 279px,#00009f 280px,#0000ff 285px,#004cff 290px,#004cff 302px,#0008ff 308px,#0000ff 310px,#0000bf 315px,#0000bf 316px,#0001ff 321px,#006aff 330px,#0010ff 348px,#0000ea 357px,#0000bf 407px,#0000bf 470px)"></i><i style="left:300px;width:4px;background:linear-gradient(#0070ff,#0070ff 24px,#0027ff 46px,#000ff6 58px,#0008f0 150px,#000efd 152px,#0052ff 157px,#00cfff 210px,#00e0fb 267px,#0000ff 276px,#0000a8 279px,#00009f 280px,#0000ff 285px,#004cff 290px,#004cff 302px,#0008ff 308px,#0000ff 310px,#0000bf 315px,#0000c2 316px,#0000fd 319px,#0004ff 320px,#00abff 329px,#00b0ff 330px,#003aff 359px,#0003ff 382px,#0000f7 390px,#0000bf 409px,#0000bf 470px)"></i><i style="left:303px;width:4px;background:linear-gradient(#004eff,#004cff 25px,#0003ff 42px,#0000ff 46px,#0000be 60px,#0000be 150px,#0000ff 153px,#005eff 157px,#00d7ff 209px,#00e0fb 267px,#0000ff 276px,#0000a8 279px,#00009f 280px,#0000ff 285px,#004cff 290px,#004cff 302px,#0008ff 308px,#0000ff 310px,#0000bf 315px,#0000c1 316px,#0000f7 319px,#001bff 322px,#0094ff 330px,#002bff 360px,#0004f7 380px,#0000eb 390px,#0000b3 409px,#0000b3 470px)"></i><i style="left:306px;width:4px;background:linear-gradient(#004cff,#004cff 24px,#0000ff 45px,#0000ca 59px,#0000ca 150px,#0000f9 152px,#000aff 153px,#0072ff 157px,#00dcfe 209px,#00e0fb 267px,#0000ff 276px,#0000a8 279px,#00009f 280px,#0000ff 285px,#004cff 290px,#004cff 302px,#0008ff 308px,#0000ff 310px,#0000b9 316px,#0000dc 323px,#000ae8 330px,#0000ab 360px,#00008c 404px,#00008a 470px)"></i><i style="left:309px;width:4px;background:linear-gradient(#004cff,#004cff 24px,#0000ff 51px,#0000ed 60px,#0000ed 150px,#0000fa 151px,#000bff 152px,#007cff 156px,#0090ff 159px,#00dffc 210px,#00e0fb 267px,#0000ff 276px,#0000a8 279px,#00009f 280px,#0000ff 285px,#004cff 290px,#004cff 302px,#0008ff 308px,#0000ff 310px,#0000b9 316px,#0000e0 330px,#00008c 359px,#00008a 470px)"></i><i style="left:312px;width:4px;background:linear-gradient(#004cff,#004cff 24px,#0000ff 53px,#0000ff 151px,#0093ff 156px,#00a2ff 157px,#00dcfe 207px,#00e0fb 267px,#0000ff 276px,#0000a8 279px,#00009f 280px,#0000ff 285px,#004cff 290px,#004cff 302px,#0008ff 308px,#0000ff 310px,#0000be 316px,#0000fa 322px,#0037ff 330px,#0012ff 339px,#0000ed 349px,#0000b8 360px,#0000b8 470px)"></i><i style="left:315px;width:4px;background:linear-gradient(#004cff,#004cff 24px,#0000ff 53px,#0000ff 151px,#009eff 156px,#00aeff 157px,#00dbfe 208px,#00e0fb 267px,#0000ff 276px,#0000a8 279px,#00009f 280px,#0000ff 285px,#004cff 290px,#004cff 302px,#0008ff 308px,#0000ff 310px,#0000bf 315px,#0000bf 316px,#0000fd 320px,#0082ff 330px,#002bfa 359px,#002bf9 470px)"></i><i style="left:318px;width:4px;background:linear-gradient(#004cff,#004cff 24px,#0000ff 53px,#0000ff 151px,#00a0ff 156px,#00b0ff 157px,#00d4ff 208px,#00e0fb 267px,#0000ff 276px,#0000a8 279px,#00009f 280px,#0000ff 285px,#004cff 290px,#004cff 302px,#0008ff 308px,#0000ff 310px,#0000bf 315px,#0000c4 316px,#0000ff 319px,#00c2ff 330px,#00baff 470px)"></i><i style="left:321px;width:4px;background:linear-gradient(#004cff,#004cff 24px,#0000ff 49px,#0000e2 60px,#0000e2 150px,#0000f4 151px,#000cff 152px,#009fff 156px,#00b0ff 157px,#00c8ff 204px,#00c8ff 240px,#00dffc 267px,#00d0ff 268px,#0000ff 276px,#0000a8 279px,#00009f 280px,#0000ff 285px,#004cff 290px,#004cff 302px,#0008ff 308px,#0000ff 310px,#0000bf 315px,#0000c4 316px,#0000ff 319px,#00c0ff 329px,#00d0ff 333px,#10f0ea 359px,#11f0e9 470px)"></i><i style="left:324px;width:4px;background:linear-gradient(#004cff,#004cff 24px,#0000ff 45px,#0000c1 59px,#0000c1 150px,#0000ff 152px,#0098ff 156px,#00acff 157px,#00baff 239px,#00dcfe 267px,#00cfff 268px,#0000ff 276px,#0000a8 279px,#00009f 280px,#0000ff 285px,#004cff 290px,#004cff 302px,#0008ff 308px,#0000ff 310px,#0000bf 315px,#0000c4 316px,#0000ff 319px,#00ccff 330px,#14fde3 344px,#41ffb6 360px,#41ffb6 470px)"></i><i style="left:327px;width:4px;background:linear-gradient(#004cff,#004cff 24px,#0000ff 42px,#0000ff 45px,#0000bc 59px,#0000bc 150px,#0000d3 151px,#0000ff 152px,#0018ff 153px,#008cff 156px,#00a2ff 157px,#00a7ff 239px,#00d7ff 267px,#00cbff 268px,#000eff 275px,#0000ff 276px,#0000a8 279px,#00009f 280px,#0000ff 285px,#004cff 290px,#004cff 302px,#0008ff 308px,#0000ff 310px,#0000bf 315px,#0000c4 316px,#0000ff 319px,#00ccff 330px,#16ffe1 344px,#46ffb1 359px,#46ffb1 470px)"></i><i style="left:330px;width:4px;background:linear-gradient(#004cff,#004cff 24px,#0008ff 45px,#0000f4 53px,#0000e2 60px,#0000e2 150px,#0000f0 151px,#0007ff 152px,#007eff 156px,#008cff 157px,#008cff 239px,#00a8ff 256px,#00ccff 267px,#00c0ff 268px,#000bff 275px,#0000ff 276px,#0000a4 279px,#00009f 280px,#0000ff 285px,#004cff 290px,#004cff 302px,#0008ff 308px,#0000ff 310px,#0000bf 315px,#0000c4 316px,#0000ff 319px,#00cbff 330px,#01e6f7 337px,#16ffe1 344px,#46ffb1 359px,#46ffb1 470px)"></i><i style="left:333px;width:4px;background:linear-gradient(#004cff,#004cff 24px,#0026ff 60px,#0026ff 150px,#0070ff 157px,#0070ff 239px,#0080ff 255px,#00c0ff 267px,#00b4ff 268px,#0006ff 275px,#0000fa 276px,#0000a4 279px,#00009f 280px,#0000ff 285px,#004cff 290px,#004cff 302px,#0008ff 308px,#0000ff 310px,#0000bf 315px,#0000c1 316px,#0000f9 319px,#000fff 321px,#00a0ff 330px,#02dbfa 341px,#1afedd 349px,#46ffb1 360px,#46ffb1 470px)"></i><i style="left:336px;width:4px;background:linear-gradient(#004cff,#0048ff 150px,#005aff 157px,#0058ff 240px,#0060ff 255px,#00b4ff 267px,#00abff 268px,#0002ff 275px,#0000f7 276px,#0000a4 279px,#00009f 280px,#0000ff 285px,#004cff 290px,#004cff 302px,#0008ff 308px,#0000ff 310px,#0000bf 315px,#0000bf 316px,#0000ff 321px,#0063ff 330px,#00d8ff 346px,#19ffde 352px,#45ffb2 360px,#45ffb2 470px)"></i><i style="left:339px;width:4px;background:linear-gradient(#004cff,#0044ff 241px,#004bff 255px,#00a8ff 267px,#00a0ff 268px,#0000ff 275px,#0000f4 276px,#0000a4 279px,#00009f 280px,#0000ff 285px,#004cff 290px,#004cff 302px,#0008ff 308px,#0000ff 310px,#0000bf 315px,#0000ff 322px,#0060ff 331px,#00caff 348px,#17f8e0 357px,#24fcd3 360px,#24fcd3 470px)"></i><i style="left:342px;width:4px;background:linear-gradient(#004cff,#0043ff 151px,#0030ff 180px,#002bff 242px,#003cff 256px,#0097ff 267px,#0090ff 268px,#0000ff 275px,#0000a4 279px,#00009f 280px,#0000ff 285px,#004cff 290px,#004cff 302px,#0008ff 308px,#0000ff 310px,#0000bf 315px,#0000ff 322px,#0058ff 330px,#00ceff 360px,#00ceff 470px)"></i><i style="left:345px;width:4px;background:linear-gradient(#004cff,#004cff 24px,#0012ff 60px,#0012ff 150px,#0020ff 158px,#000aff 201px,#0008ff 240px,#0024ff 256px,#007eff 267px,#0077ff 268px,#0002ff 274px,#0000fa 275px,#0000a4 279px,#00009f 280px,#0000ff 285px,#004cff 290px,#004cff 302px,#0008ff 308px,#0000ff 310px,#0000bf 315px,#0000ff 322px,#0057ff 330px,#0060ff 470px)"></i><i style="left:348px;width:4px;background:linear-gradient(#004cff,#004cff 24px,#0000ff 46px,#0000cd 60px,#0000cd 150px,#0003ff 156px,#0000ea 210px,#0000ea 239px,#0000fc 248px,#000aff 256px,#005eff 267px,#005aff 268px,#0004ff 273px,#0000fd 274px,#00009f 279px,#00009f 280px,#0000ff 285px,#004cff 290px,#004cff 302px,#0008ff 308px,#0000ff 310px,#0000bf 315px,#0000ff 322px,#0052ff 330px,#000bff 345px,#0000f6 352px,#0000d3 360px,#0000d3 470px)"></i><i style="left:351px;width:4px;background:linear-gradient(#004cff,#004cff 24px,#0000ff 45px,#0000c1 60px,#0000c1 150px,#0000f9 157px,#0000cb 209px,#0000cb 239px,#0000ff 257px,#003fff 267px,#0003ff 272px,#0000f1 274px,#00009f 279px,#00009f 280px,#0000ff 285px,#004cff 290px,#004cff 302px,#0008ff 308px,#0000ff 310px,#0000bc 316px,#0000ee 322px,#001bff 329px,#0000f6 343px,#0000bf 359px,#0000bf 470px)"></i><i style="left:354px;width:4px;background:linear-gradient(#004cff,#004cff 24px,#000fff 48px,#0004f4 60px,#0004f4 150px,#0000e0 157px,#0000bc 209px,#0000bc 239px,#0000e0 255px,#0000fd 260px,#0022ff 267px,#0000ff 271px,#00009f 279px,#00009f 280px,#0000ff 285px,#004cff 290px,#004cff 302px,#0008ff 308px,#0000ff 310px,#0000b8 316px,#0000ce 329px,#0000bf 356px,#0000bf 470px)"></i><i style="left:357px;width:4px;background:linear-gradient(#004cff,#0038ff 58px,#0038ff 150px,#0000ff 154px,#0000cd 157px,#0000b8 210px,#0000bc 243px,#0000cd 255px,#0000f9 262px,#0001ff 269px,#0000ed 272px,#00009b 279px,#00009f 280px,#0000ff 285px,#004cff 290px,#004cff 302px,#0008ff 308px,#0000ff 310px,#0000bb 316px,#0008f3 329px,#0000e5 343px,#0000bf 359px,#0000bf 470px)"></i><i style="left:360px;width:4px;background:linear-gradient(#004cff,#004bff 150px,#0000ff 154px,#0000bf 157px,#0000b6 206px,#0000bf 255px,#0000f6 264px,#0000ff 268px,#00009b 279px,#00009f 280px,#0000ff 285px,#004cff 290px,#004cff 302px,#0008ff 308px,#0000ff 310px,#0000bf 315px,#0000ff 322px,#003fff 330px,#0000ff 344px,#0000fc 348px,#0000bf 359px,#0000bf 470px)"></i><i style="left:363px;width:4px;background:linear-gradient(#004cff,#004bff 150px,#0000ff 154px,#0000bb 157px,#0000b6 196px,#0000bb 255px,#0000ff 267px,#00009b 279px,#00009f 280px,#0000ff 285px,#004cff 290px,#004cff 302px,#0008ff 308px,#0000ff 310px,#0000bb 316px,#0008f3 329px,#0000e5 343px,#0000bf 359px,#0000bf 470px)"></i><i style="left:366px;width:4px;background:linear-gradient(#004cff,#0038ff 58px,#0038ff 150px,#0003ff 153px,#0000f9 154px,#0000b9 157px,#0000b6 234px,#0000b6 255px,#0000fa 268px,#00009b 279px,#00009f 280px,#0000ff 285px,#004cff 290px,#004cff 302px,#0008ff 308px,#0000ff 310px,#0000b6 316px,#0000bf 470px)"></i><i style="left:369px;width:4px;background:linear-gradient(#004cff,#004cff 24px,#000fff 48px,#0004f4 60px,#0004f4 150px,#0000bc 157px,#0000b6 255px,#0000fa 268px,#00009b 279px,#00009f 280px,#0000ff 285px,#004cff 290px,#004cff 302px,#0008ff 308px,#0000ff 310px,#0000b6 316px,#0000bf 470px)"></i><i style="left:372px;width:4px;background:linear-gradient(#004cff,#004cff 24px,#0000ff 43px,#0000ff 46px,#0000c1 60px,#0000cd 217px,#0000b6 255px,#0000f7 267px,#00009b 279px,#00009f 280px,#0000ff 285px,#004cff 290px,#004cff 302px,#0008ff 308px,#0000ff 310px,#0000b6 316px,#0000bf 470px)"></i><i style="left:375px;width:4px;background:linear-gradient(#0050ff,#0050ff 24px,#0000ff 46px,#0000c7 60px,#0000c1 150px,#0000f3 157px,#0000f3 213px,#0000e0 238px,#0000b9 255px,#0000ed 268px,#00009b 279px,#00009f 280px,#0000ff 285px,#004cff 290px,#004cff 302px,#0008ff 308px,#0000ff 310px,#0000b6 316px,#0000bf 470px)"></i><i style="left:378px;width:4px;background:linear-gradient(#0074ff,#0074ff 25px,#0022fd 59px,#0022fd 119px,#0006f4 149px,#0026ff 157px,#0026ff 210px,#0001fd 239px,#0000bb 255px,#0000da 268px,#00009b 279px,#00009f 280px,#0000ff 285px,#004cff 290px,#004cff 302px,#0008ff 308px,#0000ff 310px,#0000b8 316px,#0000d3 355px,#0000d3 470px)"></i><i style="left:381px;width:4px;background:linear-gradient(#00a6ff,#0093ff 119px,#003aff 150px,#0067ff 157px,#0067ff 209px,#0020ff 239px,#0000fd 246px,#0000b8 256px,#0000cd 267px,#00009b 279px,#00009f 280px,#0000ff 285px,#004cff 290px,#004cff 302px,#0008ff 308px,#0000ff 310px,#0000bc 316px,#0000f3 323px,#0022ff 331px,#0060ff 360px,#0060ff 470px)"></i><i style="left:384px;width:4px;background:linear-gradient(#00b0ff,#00b0ff 119px,#004cff 150px,#0094ff 157px,#0094ff 209px,#003eff 239px,#0000ff 247px,#0000b6 256px,#0000bf 267px,#00009b 278px,#00009f 280px,#0000ff 285px,#004cff 290px,#004cff 302px,#0008ff 308px,#0000ff 310px,#0000bf 315px,#0000ff 322px,#0056ff 330px,#00ceff 360px,#00ceff 470px)"></i><i style="left:387px;width:4px;background:linear-gradient(#00b0ff,#00b0ff 119px,#004cff 150px,#00a8ff 157px,#00a8ff 210px,#0053ff 239px,#0000ff 248px,#0000f7 250px,#0000b6 256px,#0000bb 267px,#000099 279px,#00009f 280px,#0000ff 285px,#004cff 290px,#004cff 302px,#0008ff 308px,#0000ff 310px,#0000bf 315px,#0000ff 322px,#0060ff 331px,#00caff 348px,#17f8e0 357px,#24fcd3 360px,#24fcd3 470px)"></i><i style="left:390px;width:4px;background:linear-gradient(#0098ff,#0093ff 119px,#003aff 150px,#00b0ff 157px,#00b0ff 209px,#0068ff 239px,#0000ff 249px,#0000b6 256px,#0000b6 268px,#000096 279px,#0000ff 285px,#004cff 290px,#004cff 302px,#0008ff 308px,#0000ff 310px,#0000bf 315px,#0000ff 322px,#0050ff 329px,#00d7ff 347px,#19fede 353px,#40ffb7 360px,#40ffb7 470px)"></i><i style="left:393px;width:4px;background:linear-gradient(#003fff,#003fff 25px,#0022fd 58px,#0022fd 119px,#0006f4 150px,#000afc 151px,#0022ff 152px,#00a3ff 156px,#00b3ff 157px,#00b3ff 209px,#0084ff 239px,#0000ff 250px,#0000b6 256px,#0000b6 268px,#000096 279px,#0000ff 285px,#004cff 290px,#004cff 302px,#0008ff 308px,#0000ff 310px,#0000bf 315px,#0000ff 322px,#005fff 331px,#00c8ff 351px,#11f0e9 360px,#11f0e9 470px)"></i><i style="left:396px;width:4px;background:linear-gradient(#0001ff,#0000fd 30px,#0000c8 59px,#0000c1 148px,#0000c1 150px,#0000ff 152px,#00a2ff 156px,#00b7ff 157px,#00b7ff 209px,#009bff 239px,#0002ff 250px,#0000ff 251px,#0000b6 256px,#0000b6 268px,#000096 279px,#0000ff 285px,#004cff 290px,#004cff 302px,#0008ff 308px,#0000ff 310px,#0000bf 315px,#0000ff 322px,#0058ff 330px,#00d4ff 360px,#00d4ff 470px)"></i><i style="left:399px;width:4px;background:linear-gradient(#000bff,#0007ff 30px,#0000dc 59px,#0000dc 120px,#0000cd 150px,#0000e5 151px,#0006ff 152px,#00aaff 156px,#00bfff 157px,#00bfff 209px,#00abff 239px,#0000ff 251px,#0000b6 256px,#0000b6 268px,#000096 279px,#0000ff 285px,#004cff 290px,#004cff 302px,#0008ff 308px,#0000ff 310px,#0000bf 315px,#0000ff 322px,#0060ff 331px,#00caff 348px,#17f8e0 357px,#24fcd3 360px,#24fcd3 470px)"></i><i style="left:402px;width:4px;background:linear-gradient(#0062ff,#0062ff 26px,#004aff 58px,#004aff 119px,#0013ff 150px,#001cff 151px,#00bbff 156px,#00c8ff 157px,#00c8ff 213px,#00b0ff 239px,#0000ff 251px,#0000b6 256px,#0000b6 268px,#000096 279px,#0000ff 285px,#004cff 290px,#004cff 302px,#0008ff 308px,#0000ff 310px,#0000bf 315px,#0000bf 316px,#0000ff 321px,#0063ff 330px,#00ceff 344px,#1dffd9 352px,#4cffab 360px,#4cffab 470px)"></i><i style="left:405px;width:4px;background:linear-gradient(#00a7ff,#00a6ff 119px,#0046ff 150px,#004fff 151px,#00c8ff 156px,#00d4ff 157px,#00d4ff 210px,#00b0ff 239px,#0000ff 251px,#0000b6 256px,#0000b6 268px,#000096 279px,#0000ff 285px,#004cff 290px,#004cff 302px,#0008ff 308px,#0000ff 310px,#0000bf 315px,#0000c1 316px,#0000f9 319px,#000fff 321px,#00a2ff 330px,#03d7f9 337px,#2dffc9 346px,#81ff75 360px,#81ff75 470px)"></i><i style="left:408px;width:4px;background:linear-gradient(#00b0ff,#00b0ff 120px,#004cff 150px,#00d8ff 157px,#00d8ff 211px,#00aeff 239px,#0000ff 251px,#0000b6 256px,#0000b6 268px,#000096 279px,#0000ff 285px,#004cff 290px,#004cff 302px,#0008ff 308px,#0000ff 310px,#0000bf 315px,#0000c4 316px,#0000ff 319px,#00bfff 329px,#01e4f8 333px,#19ffde 337px,#a9ff4e 360px,#a3ff54 470px)"></i><i style="left:411px;width:4px;background:linear-gradient(#00aeff,#00aeff 119px,#004bff 150px,#0054ff 151px,#00d7ff 157px,#00d7ff 209px,#00a2ff 239px,#0003ff 250px,#0000ff 251px,#0000b6 256px,#0000b6 268px,#000096 279px,#0000ff 285px,#004cff 290px,#004cff 302px,#0008ff 308px,#0000ff 310px,#0000bf 315px,#0000c4 316px,#0000ff 319px,#00d0ff 330px,#16fee1 335px,#ddfe1a 360px,#ddfe1a 410px,#a4ff53 470px)"></i><i style="left:414px;width:4px;background:linear-gradient(#0082ff,#0074ff 119px,#0027ff 150px,#0034ff 151px,#00bfff 156px,#00ccff 157px,#00ccff 210px,#008cff 239px,#0000ff 250px,#0000fd 251px,#0000b6 256px,#0000b6 268px,#000096 279px,#0000ff 285px,#004cff 290px,#004cff 302px,#0008ff 308px,#0000ff 310px,#0000bf 315px,#0000c4 316px,#0000ff 319px,#00d0ff 330px,#19ffde 335px,#edfb0a 360px,#edfb0a 411px,#a4ff53 461px,#a4ff53 470px)"></i><i style="left:417px;width:4px;background:linear-gradient(#001fff,#0008f1 58px,#0000e2 148px,#0000e2 150px,#0000f1 151px,#0010ff 152px,#00a8ff 156px,#00bcff 157px,#00bcff 209px,#006cff 239px,#0000ff 249px,#0000b6 256px,#0000b6 268px,#000096 279px,#0000ff 285px,#004cff 290px,#004cff 302px,#0008ff 308px,#0000ff 310px,#0000bf 315px,#0000c4 316px,#0000ff 319px,#00c0ff 329px,#02e7f5 333px,#16fee1 336px,#b7ff40 360px,#a4ff53 470px)"></i><i style="left:420px;width:4px;background:linear-gradient(#0000ff,#0000ff 26px,#0000be 59px,#0000bc 129px,#0000bc 150px,#0000d1 151px,#0000fd 152px,#0017ff 153px,#008fff 156px,#00a3ff 157px,#00a2ff 210px,#0048ff 239px,#0000ff 248px,#0000b5 256px,#0000b6 268px,#000096 279px,#0000ff 285px,#004cff 290px,#004cff 302px,#0008ff 308px,#0000ff 310px,#0000bf 315px,#0000c4 316px,#0000ff 319px,#00c0ff 329px,#02e7f5 333px,#16fee1 336px,#b7ff40 360px,#a4ff53 470px)"></i><i style="left:423px;width:4px;background:linear-gradient(#0001ff,#0000fc 31px,#0000cd 59px,#0000c1 147px,#0000c1 150px,#0000d1 151px,#0000f7 152px,#000aff 153px,#006bff 156px,#007cff 157px,#007cff 209px,#0000fc 245px,#0000ae 256px,#0000b6 268px,#000096 279px,#0000ff 285px,#004cff 290px,#004cff 302px,#0008ff 308px,#0000ff 310px,#0000bf 315px,#0000c4 316px,#0000ff 319px,#00d0ff 330px,#19ffde 335px,#eef90a 360px,#edfb0a 411px,#a4ff53 461px,#a4ff53 470px)"></i><i style="left:426px;width:4px;background:linear-gradient(#0027ff,#0012ff 59px,#0012ff 120px,#0000e4 149px,#0000ff 152px,#0048ff 157px,#0048ff 209px,#0006ff 232px,#0000f3 240px,#0000a8 255px,#0000b6 268px,#000096 279px,#0000ff 285px,#004cff 290px,#004cff 302px,#0008ff 308px,#0000ff 310px,#0000bf 315px,#0000c2 316px,#0000fd 319px,#0004ff 320px,#00baff 330px,#0aebef 335px,#2dfec9 340px,#cdfd2a 360px,#cdfd2a 409px,#82ff74 460px,#81ff75 470px)"></i><i style="left:429px;width:4px;background:linear-gradient(#0046ff,#0043ff 119px,#0000ff 144px,#0002ff 153px,#001aff 157px,#001aff 209px,#0003ff 219px,#00009f 255px,#0000b6 268px,#000096 279px,#0000ff 285px,#004cff 290px,#004cff 302px,#0008ff 308px,#0000ff 310px,#0000bf 315px,#0000bf 316px,#0000fa 320px,#0008ff 322px,#006fff 330px,#00b8fe 344px,#20f1da 359px,#12ebe8 470px)"></i><i style="left:432px;width:4px;background:linear-gradient(#004cff,#004cff 119px,#0000ff 145px,#0000ff 210px,#0000a5 240px,#00009b 256px,#0000b6 268px,#000096 279px,#0000ff 285px,#004cff 290px,#004cff 302px,#0008ff 308px,#0000ff 310px,#0000bf 315px,#0000ff 322px,#0058ff 330px,#00caff 359px,#00caff 470px)"></i><i style="left:435px;width:4px;background:linear-gradient(#004aff,#0048ff 119px,#0000ff 145px,#0000f1 157px,#0000f1 209px,#00009c 239px,#000096 254px,#0000b6 267px,#000096 279px,#0000f6 284px,#000cff 286px,#004cff 290px,#004cff 302px,#0008ff 308px,#0000ff 310px,#0000bf 315px,#0000ff 322px,#0058ff 330px,#00c7ff 359px,#00c8ff 470px)"></i><i style="left:438px;width:4px;background:linear-gradient(#0036ff,#001eff 60px,#001eff 120px,#000eff 130px,#0000da 156px,#0000da 209px,#000096 240px,#000098 255px,#0000b6 267px,#000096 279px,#0000f6 284px,#000cff 286px,#004cff 290px,#004cff 302px,#0008ff 308px,#0000ff 310px,#0000be 316px,#0000fa 322px,#003eff 331px,#0096ff 360px,#0096ff 470px)"></i><i style="left:441px;width:4px;background:linear-gradient(#0008ff,#0004fd 31px,#0000c8 60px,#0000c8 122px,#0000b0 150px,#0000bf 157px,#0000bf 209px,#000096 239px,#00009c 255px,#0000b9 267px,#00009b 279px,#00009f 280px,#0000ff 285px,#004cff 290px,#004cff 302px,#0008ff 308px,#0000ff 310px,#0000b9 316px,#0000e2 334px,#000ae8 470px)"></i><i style="left:444px;width:4px;background:linear-gradient(#0000ff,#0000ff 26px,#00009e 60px,#0000a8 211px,#000096 240px,#0000c2 267px,#00009b 279px,#00009f 280px,#0000ff 285px,#004cff 290px,#004cff 302px,#0008ff 308px,#0000ff 310px,#0000b6 316px,#0000bf 470px)"></i><i style="left:447px;width:4px;background:linear-gradient(#0008ff,#0004fd 31px,#0000c8 60px,#0000c8 122px,#0000b3 149px,#00009c 157px,#000096 239px,#0000d1 267px,#00009b 279px,#00009f 280px,#0000ff 285px,#004cff 290px,#004cff 302px,#0008ff 308px,#0000ff 310px,#0000b6 316px,#0000bf 470px)"></i><i style="left:450px;width:4px;background:linear-gradient(#0036ff,#001eff 60px,#001eff 120px,#0008fd 133px,#0000e7 150px,#000098 157px,#000096 239px,#0000d9 256px,#0000e3 267px,#00009b 279px,#00009f 280px,#0000ff 285px,#004cff 290px,#004cff 302px,#0008ff 308px,#0000ff 310px,#0000b6 316px,#0000bf 470px)"></i><i style="left:453px;width:4px;background:linear-gradient(#004aff,#0048ff 119px,#0003ff 143px,#0000ff 149px,#0000f4 151px,#000096 157px,#000096 239px,#0000eb 255px,#0000f1 260px,#0000f0 268px,#00009b 279px,#00009f 280px,#0000ff 285px,#004cff 290px,#004cff 302px,#0008ff 308px,#0000ff 310px,#0000b6 316px,#0000bf 470px)"></i><i style="left:456px;width:4px;background:linear-gradient(#004cff,#004cff 119px,#0004ff 143px,#0000ff 150px,#000096 157px,#000096 239px,#0000f7 255px,#0000fa 261px,#0000f7 268px,#00009b 279px,#00009f 280px,#0000ff 285px,#004cff 290px,#004cff 302px,#0008ff 308px,#0000ff 310px,#0000b6 316px,#0000bf 470px)"></i><i style="left:459px;width:4px;background:linear-gradient(#0046ff,#0043ff 119px,#0000ff 148px,#0000f3 151px,#000096 157px,#000096 239px,#0000ff 256px,#0000ff 267px,#00009b 279px,#00009f 280px,#0000ff 285px,#004cff 290px,#004cff 302px,#0008ff 308px,#0000ff 310px,#0000b6 316px,#0000bf 470px)"></i><i style="left:462px;width:4px;background:linear-gradient(#0027ff,#0012ff 59px,#0012ff 120px,#0000f7 137px,#0000e4 150px,#000096 157px,#000096 239px,#0000ff 256px,#0000ff 267px,#00009b 279px,#00009f 280px,#0000ff 285px,#004cff 290px,#004cff 302px,#0008ff 308px,#0000ff 310px,#0000b6 316px,#0000bf 470px)"></i><i style="left:465px;width:4px;background:linear-gradient(#0001ff,#0000fc 31px,#0000cd 59px,#0000c1 150px,#000096 157px,#000096 239px,#0000ff 256px,#0000fc 267px,#00009b 279px,#00009f 280px,#0000ff 285px,#004cff 290px,#004cff 302px,#0008ff 308px,#0000ff 310px,#0000b6 316px,#0000c4 353px,#0000bf 470px)"></i><i style="left:468px;width:4px;background:linear-gradient(#0000ff,#0000ff 26px,#0000bc 59px,#0000bb 150px,#000096 157px,#000096 239px,#0000ff 256px,#0000f4 267px,#00009b 279px,#00009f 280px,#0000ff 285px,#004cff 290px,#004cff 302px,#0008ff 308px,#0000ff 310px,#0000bb 316px,#0008f3 329px,#0024f9 355px,#0008f3 412px,#0000bf 470px)"></i><i style="left:471px;width:4px;background:linear-gradient(#0008ff,#0004ff 31px,#0000e2 59px,#0000e2 120px,#0000ca 150px,#000096 157px,#000096 239px,#0000ff 256px,#0000e5 267px,#00009b 279px,#00009f 280px,#0000ff 285px,#004cff 290px,#004cff 302px,#0008ff 308px,#0000ff 310px,#0000bf 315px,#0000ff 322px,#004bff 330px,#00b0ff 360px,#004bff 409px,#0000ff 436px,#0000fc 442px,#0000bf 461px,#0000bf 470px)"></i><i style="left:474px;width:4px;background:linear-gradient(#0036ff,#0026ff 119px,#0000fa 144px,#0000f0 150px,#000096 157px,#000096 239px,#0000fd 256px,#00009b 279px,#00009f 280px,#0000ff 285px,#004cff 290px,#004cff 302px,#0008ff 308px,#0000ff 310px,#0000bc 316px,#0000f3 323px,#0022ff 331px,#0060ff 360px,#0000f6 433px,#0000c2 459px,#0000bf 470px)"></i><i style="left:477px;width:4px;background:linear-gradient(#004aff,#0048ff 119px,#0002ff 144px,#0000ff 150px,#000096 157px,#000096 239px,#0000fa 255px,#00009b 279px,#00009f 280px,#0000ff 285px,#004cff 290px,#004cff 302px,#0008ff 308px,#0000ff 310px,#0000b8 316px,#0000d3 355px,#0000bf 470px)"></i><i style="left:480px;width:4px;background:linear-gradient(#004cff,#004cff 119px,#0004ff 143px,#0000ff 150px,#000096 157px,#000096 239px,#0000f7 255px,#0000b9 268px,#00009b 279px,#00009f 280px,#0000ff 285px,#004cff 290px,#004cff 302px,#0008ff 308px,#0000ff 310px,#0000b6 316px,#0000bf 470px)"></i><i style="left:483px;width:4px;background:linear-gradient(#0046ff,#0043ff 119px,#0000ff 148px,#0000f4 151px,#000098 157px,#000098 239px,#0000ed 256px,#000096 279px,#0000ff 285px,#004cff 290px,#004cff 302px,#0008ff 308px,#0000ff 310px,#0000b6 316px,#0000bf 470px)"></i><i style="left:486px;width:4px;background:linear-gradient(#0027ff,#0012ff 59px,#0012ff 120px,#0000f7 137px,#0000e4 150px,#00009c 157px,#00009c 239px,#0000dc 256px,#000096 279px,#0000ff 285px,#004cff 290px,#004cff 302px,#0008ff 308px,#0000ff 310px,#0000b6 316px,#0000bf 470px)"></i><i style="left:489px;width:4px;background:linear-gradient(#0001ff,#0000fd 30px,#0000cd 59px,#0000cb 128px,#0000c1 150px,#0000b0 157px,#0000b0 239px,#0000cd 256px,#000096 279px,#0000ff 285px,#004cff 290px,#004cff 302px,#0008ff 308px,#0000ff 310px,#0000b6 316px,#0000bf 470px)"></i><i style="left:492px;width:4px;background:linear-gradient(#0000ff,#0000ff 26px,#0000bc 59px,#0000c1 150px,#0000df 157px,#0000df 239px,#0000b6 268px,#000096 279px,#0000f6 284px,#000cff 286px,#004cff 290px,#004cff 302px,#0008ff 308px,#0000ff 310px,#0000b6 316px,#0000bf 470px)"></i><i style="left:495px;width:4px;background:linear-gradient(#0016ff,#0016ff 24px,#0006ff 35px,#0000d6 59px,#0000d6 121px,#0000f0 144px,#0012ff 155px,#0018ff 239px,#000cff 242px,#0000f4 247px,#0000bb 256px,#0000b6 268px,#000096 279px,#0000ff 285px,#004cff 290px,#004cff 302px,#0008ff 308px,#0000ff 310px,#0000b6 316px,#0000bf 470px)"></i><i style="left:498px;width:4px;background:linear-gradient(#0176fb,#107dec 1px,#107dec 24px,#004cf6 58px,#003ef6 60px,#003ff6 78px,#000bf6 80px,#0000f4 81px,#0002ff 128px,#0037ff 150px,#005fff 157px,#005fff 239px,#0000ff 249px,#0000bb 256px,#0000b5 269px,#000096 279px,#0000ff 285px,#004cff 290px,#004cff 302px,#0008ff 308px,#0000ff 310px,#0000b6 316px,#0000bf 470px)"></i><i style="left:501px;width:4px;background:linear-gradient(#f3ce09,#ff3e00 1px,#ff4300 58px,#f4ce08 59px,#e7f314 60px,#fba401 61px,#fba401 78px,#bcff3a 79px,#0090ff 80px,#0000ff 81px,#0000ff 125px,#0048ff 150px,#0090ff 157px,#0090ff 239px,#0000ff 251px,#0000bc 256px,#0000bc 268px,#00009b 278px,#00009f 280px,#0000ff 285px,#004cff 290px,#004cff 302px,#0008ff 308px,#0000ff 310px,#0000b6 316px,#0000c2 330px,#0000c4 470px)"></i><i style="left:504px;width:4px;background:linear-gradient(#ffb600,#ff1300 1px,#ff1300 58px,#ffb600 59px,#feed00 60px,#ff7a00 61px,#ff7a00 78px,#d7ff1f 79px,#009bff 80px,#0000ff 81px,#0004ff 127px,#0048ff 150px,#00a8ff 157px,#00a8ff 239px,#0000ff 252px,#0000cb 256px,#0000ca 268px,#00009b 279px,#00009f 280px,#0000ff 285px,#004cff 290px,#004cff 302px,#0008ff 308px,#0000ff 310px,#0000bb 316px,#0008f3 329px,#002bf9 359px,#002bf9 470px)"></i><i style="left:507px;width:4px;background:linear-gradient(#ffc600,#ff2900 1px,#ff2b00 58px,#ffc700 59px,#f2f309 60px,#ff9100 61px,#ff9100 78px,#c8ff2f 79px,#008fff 80px,#0000f4 81px,#000bff 133px,#0037ff 150px,#00b0ff 157px,#00b0ff 239px,#0003ff 253px,#0000ea 256px,#0000e8 268px,#00009b 279px,#00009f 280px,#0000ff 285px,#004cff 290px,#004cff 302px,#0008ff 308px,#0000ff 310px,#0000bf 315px,#0000ff 322px,#004eff 330px,#00bfff 360px,#00bfff 470px)"></i><i style="left:510px;width:4px;background:linear-gradient(#1088ec,#2288da 1px,#2285da 25px,#1755e5 45px,#1155ce 58px,#004cdd 60px,#0350d9 78px,#003adf 79px,#000adf 80px,#0000d6 81px,#0000d6 121px,#0000f0 144px,#000afa 151px,#009eff 156px,#00aeff 157px,#00b0ff 239px,#0008ff 256px,#0001fd 269px,#00009b 279px,#00009f 280px,#0000ff 285px,#004cff 290px,#004cff 302px,#0008ff 308px,#0000ff 310px,#0000bf 315px,#0000ff 322px,#0058ff 330px,#00caff 348px,#17f8e0 357px,#24fcd3 360px,#24fcd3 470px)"></i><i style="left:513px;width:4px;background:linear-gradient(#004cff,#004cff 24px,#0000ff 42px,#0000ff 45px,#0000bc 59px,#0000c1 150px,#0000fd 152px,#008fff 156px,#00a3ff 157px,#00a8ff 239px,#002eff 255px,#002aff 267px,#0002ff 271px,#0000f3 273px,#00009f 279px,#00009f 280px,#0000ff 285px,#004cff 290px,#004cff 302px,#0008ff 308px,#0000ff 310px,#0000bf 315px,#0000ff 322px,#0050ff 329px,#00d7ff 347px,#19fede 353px,#40ffb7 360px,#40ffb7 470px)"></i><i style="left:516px;width:4px;background:linear-gradient(#004cff,#004cff 24px,#0000ff 45px,#0000c1 60px,#0000c1 150px,#0000d3 151px,#0000fc 152px,#000eff 153px,#0076ff 156px,#0087ff 157px,#0087ff 210px,#009bff 239px,#003fff 256px,#003fff 267px,#0000ff 273px,#00009f 279px,#00009f 280px,#0000ff 285px,#004cff 290px,#004cff 302px,#0008ff 308px,#0000ff 310px,#0000bf 315px,#0000ff 322px,#005fff 331px,#00c8ff 351px,#11f0e9 360px,#11f0e9 470px)"></i><i style="left:519px;width:4px;background:linear-gradient(#004cff,#004cff 24px,#0013ff 46px,#0006f7 57px,#0004f4 150px,#000cff 152px,#0058ff 157px,#0058ff 209px,#0082ff 239px,#004cff 254px,#0048ff 267px,#0000ff 273px,#00009f 279px,#00009f 280px,#0000ff 285px,#004cff 290px,#004cff 302px,#0008ff 308px,#0000ff 310px,#0000bf 315px,#0000ff 322px,#004eff 330px,#00baff 360px,#00baff 470px)"></i><i style="left:522px;width:4px;background:linear-gradient(#004cff,#0038ff 58px,#0028ff 209px,#0068ff 240px,#004cff 254px,#004cff 267px,#0000ff 273px,#00009f 279px,#00009f 280px,#0000ff 285px,#004cff 290px,#004cff 302px,#0008ff 308px,#0000ff 310px,#0000bb 316px,#0008f3 329px,#002bf9 359px,#002bf9 470px)"></i><i style="left:525px;width:4px;background:linear-gradient(#004cff,#004bff 150px,#0006ff 157px,#0006ff 209px,#0052ff 240px,#004eff 267px,#0000ff 273px,#00009f 279px,#00009f 280px,#0000ff 285px,#004cff 290px,#004cff 302px,#0008ff 308px,#0000ff 310px,#0000b6 316px,#0000c2 330px,#0000c4 470px)"></i><i style="left:528px;width:4px;background:linear-gradient(#004cff,#004bff 150px,#0000ff 156px,#0000ff 213px,#0048ff 246px,#0058ff 267px,#0000ff 273px,#0000fc 274px,#00009f 279px,#00009f 280px,#0000ff 285px,#004cff 290px,#004cff 302px,#0008ff 308px,#0000ff 310px,#0000b6 316px,#0000bf 470px)"></i><i style="left:531px;width:4px;background:linear-gradient(#004cff,#0038ff 58px,#0038ff 150px,#0000fd 155px,#0000eb 157px,#0000eb 209px,#0000ff 222px,#001cff 239px,#0067ff 255px,#0068ff 267px,#0000ff 274px,#00009f 279px,#00009f 280px,#0000ff 285px,#004cff 290px,#004cff 302px,#0008ff 308px,#0000ff 310px,#0000b6 316px,#0000bf 470px)"></i><i style="left:534px;width:4px;background:linear-gradient(#004cff,#004cff 24px,#000fff 48px,#0004f4 60px,#0004f4 150px,#0000d7 157px,#0000d7 209px,#0000fc 237px,#000eff 242px,#007fff 255px,#0083ff 267px,#0002ff 274px,#0000fc 275px,#0000a4 279px,#00009f 280px,#0000ff 285px,#004cff 290px,#004cff 302px,#0008ff 308px,#0000ff 310px,#0000b6 316px,#0000bf 470px)"></i><i style="left:537px;width:4px;background:linear-gradient(#004cff,#004cff 24px,#0000ff 44px,#0000c1 60px,#0000c8 212px,#0000dd 239px,#0000fd 242px,#009bff 256px,#009bff 267px,#0000ff 275px,#0000a4 279px,#00009f 280px,#0000ff 285px,#004cff 290px,#004cff 302px,#0008ff 308px,#0000ff 310px,#0000b6 316px,#0000bf 470px)"></i><i style="left:540px;width:4px;background:linear-gradient(#004cff,#004cff 24px,#0000ff 46px,#0000cd 60px,#0000cd 121px,#0000bc 156px,#0000c4 239px,#0000fd 243px,#000fff 245px,#00a3ff 255px,#00a8ff 267px,#009fff 268px,#0000ff 275px,#0000f3 276px,#0000a4 279px,#00009f 280px,#0000ff 285px,#004cff 290px,#004cff 302px,#0008ff 308px,#0000ff 310px,#0000b6 316px,#0000bf 470px)"></i><i style="left:543px;width:4px;background:linear-gradient(#004cff,#004cff 24px,#0012ff 60px,#0012ff 120px,#0000eb 146px,#0000e4 150px,#0000b9 157px,#0000bb 239px,#0000ff 244px,#00b0ff 256px,#00b0ff 267px,#0000ff 275px,#0000f6 276px,#0000a4 279px,#00009f 280px,#0000ff 285px,#004cff 290px,#004cff 302px,#0008ff 308px,#0000ff 310px,#0000b6 316px,#0000ca 358px,#0000ca 470px)"></i><i style="left:546px;width:4px;background:linear-gradient(#004cff,#0043ff 119px,#0000ff 148px,#0000fd 150px,#0000b6 157px,#0000b8 239px,#0000ff 244px,#00b0ff 256px,#00b0ff 267px,#0000ff 275px,#0000f6 276px,#0000a4 279px,#00009f 280px,#0000ff 285px,#004cff 290px,#004cff 302px,#0008ff 308px,#0000ff 310px,#0000b6 316px,#0000bf 330px,#0000f6 346px,#001bff 358px,#001eff 470px)"></i><i style="left:549px;width:4px;background:linear-gradient(#004cff,#004cff 119px,#0004ff 143px,#0000ff 150px,#0000bb 157px,#0000bb 239px,#0000ff 244px,#00b0ff 256px,#00b0ff 267px,#0000ff 275px,#0000f6 276px,#0000a4 279px,#00009f 280px,#0000ff 285px,#004cff 290px,#004cff 302px,#0008ff 308px,#0000ff 310px,#0000b6 316px,#0000bf 330px,#0000ff 342px,#0054ff 360px,#0054ff 470px)"></i><i style="left:552px;width:4px;background:linear-gradient(#004cff,#004bff 119px,#0004ff 143px,#0000ff 150px,#0000bf 157px,#0000bf 239px,#0000fd 243px,#0000ff 244px,#00b0ff 256px,#00b0ff 267px,#0000ff 275px,#0000f6 276px,#0000a4 279px,#00009f 280px,#0000ff 285px,#004cff 290px,#004cff 302px,#0008ff 308px,#0000ff 310px,#0000b6 316px,#0000bf 330px,#0000ff 340px,#0000ff 342px,#0058ff 360px,#0058ff 470px)"></i><i style="left:555px;width:4px;background:linear-gradient(#004cff,#0038ff 58px,#0038ff 119px,#0000ff 145px,#0000f9 150px,#0000cd 157px,#0000cd 239px,#0000ff 243px,#00b0ff 256px,#00b0ff 267px,#0000ff 275px,#0000f6 276px,#0000a4 279px,#00009f 280px,#0000ff 285px,#004cff 290px,#004cff 302px,#0000ff 310px,#0000b9 316px,#0000bf 330px,#0000ff 340px,#0000ff 342px,#0058ff 360px,#0058ff 470px)"></i><i style="left:558px;width:4px;background:linear-gradient(#004cff,#004cff 24px,#000fff 48px,#0004f4 60px,#0004f4 120px,#0000d4 151px,#0000e0 239px,#0000ff 242px,#00afff 256px,#00aaff 267px,#0000ff 275px,#0000f3 276px,#0000a4 279px,#00009f 280px,#0000ff 285px,#0048ff 290px,#004cff 302px,#0000ff 310px,#0000bc 316px,#0000bf 330px,#0000ff 340px,#0000ff 342px,#0057ff 360px,#0057ff 470px)"></i><i style="left:561px;width:4px;background:linear-gradient(#004cff,#004cff 24px,#0000ff 44px,#0000c1 60px,#0000bc 144px,#0000bc 150px,#0000eb 156px,#0000f1 159px,#0000fd 240px,#000aff 242px,#00a0ff 255px,#00a4ff 257px,#0094ff 267px,#0000ff 275px,#0000a4 279px,#00009f 280px,#0000ff 285px,#0040ff 290px,#004cff 302px,#0000fd 311px,#0000ca 316px,#0000bf 330px,#0000f3 340px,#0004ff 346px,#0038ff 360px,#0038ff 470px)"></i><i style="left:564px;width:4px;background:linear-gradient(#0057ff,#0056ff 25px,#0010ff 43px,#0000f1 53px,#0000dc 59px,#0000dc 120px,#0000cd 150px,#0000f6 156px,#0000fc 160px,#0007ff 239px,#0090ff 256px,#0068ff 267px,#0000fd 274px,#0000a1 279px,#00009f 280px,#0000ff 286px,#0032ff 290px,#004aff 302px,#0000fc 313px,#0000bf 330px,#0000e0 358px,#0000e0 470px)"></i><i style="left:567px;width:4px;background:linear-gradient(#0088ff,#0088ff 24px,#004aff 59px,#004aff 119px,#0000ff 155px,#0002ff 177px,#0020ff 208px,#0020ff 239px,#0078ff 255px,#0000f9 272px,#00009e 279px,#00009f 280px,#0000ff 287px,#001cff 290px,#0048ff 302px,#0007ff 317px,#000ae8 330px,#0018f0 360px,#0018f0 470px)"></i><i style="left:570px;width:4px;background:linear-gradient(#00acff,#00a6ff 119px,#0046ff 150px,#0000ff 156px,#0003ff 171px,#0037ff 209px,#0034ff 239px,#005fff 255px,#0006ff 265px,#0000ed 269px,#00009b 279px,#0000ff 288px,#0048ff 302px,#002cff 316px,#0093ff 329px,#17e3e2 358px,#1ae4df 470px)"></i><i style="left:573px;width:4px;background:linear-gradient(#00b0ff,#00b0ff 120px,#004cff 150px,#0000ff 156px,#0044ff 210px,#003cff 240px,#004bff 255px,#0000ff 263px,#0000ca 268px,#00009b 279px,#0000ff 290px,#004cff 303px,#0044ff 316px,#00afff 329px,#11f8e5 348px,#35ffc2 360px,#35ffc2 470px)"></i><i style="left:576px;width:4px;background:linear-gradient(#00afff,#00aeff 119px,#004bff 150px,#0002ff 157px,#0048ff 213px,#0030ff 239px,#0034ff 255px,#0000ff 261px,#0000b6 268px,#000098 279px,#0000fa 289px,#0000ff 291px,#004cff 303px,#0048ff 316px,#005fff 325px,#04dff8 360px,#04dff8 470px)"></i><i style="left:579px;width:4px;background:linear-gradient(#009aff,#009aff 24px,#0074ff 58px,#0074ff 119px,#0014ff 156px,#004cff 210px,#0014ff 240px,#0013ff 255px,#0000fc 259px,#0000ab 268px,#000096 279px,#0000ff 290px,#0000ff 292px,#004cff 303px,#003aff 330px,#0097ff 360px,#0097ff 470px)"></i><i style="left:582px;width:4px;background:linear-gradient(#0063ff,#0063ff 25px,#001aff 47px,#0008f0 59px,#0000ea 136px,#0000e2 150px,#0001ff 153px,#002fff 157px,#0050ff 209px,#000aff 233px,#0000ff 241px,#0000f7 255px,#0000a2 268px,#000096 279px,#0000ff 290px,#0000ff 292px,#004cff 303px,#004cff 315px,#000cff 323px,#0000f1 327px,#0000e1 330px,#000ae8 470px)"></i><i style="left:585px;width:4px;background:linear-gradient(#004eff,#004eff 24px,#0000ff 43px,#0000fc 47px,#0000bf 60px,#0000be 131px,#0000be 150px,#0000ff 153px,#004eff 157px,#005bff 209px,#0000ff 239px,#0000d6 255px,#00009e 267px,#000096 278px,#00009b 280px,#0000ff 290px,#0000ff 292px,#004cff 303px,#004cff 315px,#000cff 323px,#0000f1 327px,#0000e0 330px,#0000e0 470px)"></i><i style="left:588px;width:4px;background:linear-gradient(#004cff,#004cff 24px,#0008ff 45px,#0000f4 53px,#0000e2 60px,#0000e2 150px,#0000ed 151px,#0016ff 153px,#006cff 157px,#0070ff 210px,#0000fc 246px,#0000bb 257px,#000096 273px,#00009b 280px,#0000ff 290px,#0000ff 292px,#004cff 303px,#0038ff 330px,#003bff 470px)"></i><i style="left:591px;width:4px;background:linear-gradient(#004cff,#004cff 24px,#0026ff 60px,#0026ff 150px,#008bff 157px,#008cff 209px,#0058ff 238px,#0000fd 249px,#0000b8 256px,#000096 268px,#00009b 280px,#0000f1 288px,#0000ff 291px,#004cff 303px,#004cff 316px,#0097ff 359px,#0097ff 470px)"></i><i style="left:594px;width:4px;background:linear-gradient(#004cff,#0048ff 150px,#00a2ff 157px,#00a2ff 210px,#0088ff 239px,#000aff 249px,#0000fd 251px,#0000b8 256px,#000096 268px,#00009b 280px,#0000f1 288px,#0000ff 291px,#004cff 303px,#004fff 316px,#00c4ff 332px,#12f0e8 340px,#3bffbb 349px,#6fff88 360px,#6fff88 470px)"></i><i style="left:597px;width:4px;background:linear-gradient(#004cff,#004cff 150px,#00afff 157px,#00afff 211px,#00a6ff 239px,#0000ff 251px,#0000bf 256px,#000096 273px,#00009b 280px,#0000f1 288px,#0000ff 291px,#004cff 303px,#0050ff 316px,#00dbfe 332px,#19ffde 338px,#93ff64 360px,#93ff64 470px)"></i><i style="left:600px;width:4px;background:linear-gradient(#004aff,#0048ff 150px,#00b8ff 157px,#00b8ff 211px,#00afff 239px,#0001ff 252px,#0000d1 256px,#00009e 267px,#000096 278px,#00009b 280px,#0000f1 288px,#0000ff 291px,#004cff 303px,#0050ff 316px,#00cbff 330px,#17fde0 342px,#58ff9e 360px,#58ff9e 470px)"></i><i style="left:603px;width:4px;background:linear-gradient(#0036ff,#0026ff 150px,#0032ff 151px,#00b6ff 156px,#00c2ff 157px,#00c2ff 209px,#00acff 240px,#0003ff 254px,#0000a2 268px,#000096 279px,#0000fa 289px,#0000ff 291px,#004cff 303px,#004eff 316px,#009fff 332px,#18e3e1 358px,#1ae4df 470px)"></i><i style="left:606px;width:4px;background:linear-gradient(#0008ff,#0004ff 31px,#0000e2 59px,#0000e2 150px,#0000f3 151px,#0014ff 152px,#00baff 156px,#00ccff 157px,#00ccff 212px,#00b4ff 238px,#00acff 240px,#000cff 256px,#0000fc 259px,#0000aa 268px,#000096 279px,#0000ff 290px,#0000ff 292px,#004cff 303px,#004cff 315px,#0018ff 323px,#000af0 329px,#0018f3 360px,#0018f3 470px)"></i><i style="left:609px;width:4px;background:linear-gradient(#0000ff,#0000ff 27px,#0000bf 60px,#0000be 131px,#0000be 150px,#0000ff 152px,#00bfff 156px,#00d7ff 157px,#00d7ff 210px,#00b4ff 238px,#0000ff 261px,#0000b2 268px,#000096 279px,#0000ff 290px,#0000ff 292px,#004cff 303px,#004cff 315px,#0017ff 324px,#000af6 329px,#000af4 470px)"></i><i style="left:612px;width:4px;background:linear-gradient(#001fff,#0008f1 58px,#0000e2 150px,#0001f3 151px,#0018ff 152px,#00c7ff 156px,#00dcfe 157px,#00dcfe 210px,#00b4ff 238px,#0047ff 255px,#0000ff 261px,#0000ff 262px,#0000b6 268px,#000096 279px,#0000ff 290px,#0000ff 292px,#004cff 303px,#0053ff 470px)"></i><i style="left:615px;width:4px;background:linear-gradient(#0082ff,#0074ff 119px,#0027ff 150px,#0036ff 151px,#00cfff 156px,#00dffc 157px,#00dffc 209px,#00a8ff 241px,#004cff 255px,#0000ff 262px,#0000b6 268px,#000096 279px,#0000fa 289px,#0000ff 291px,#004cff 303px,#004cff 316px,#0094ff 335px,#14cbe8 359px,#14cbe8 470px)"></i><i style="left:618px;width:4px;background:linear-gradient(#00aeff,#00aeff 119px,#004bff 150px,#0054ff 151px,#00e0fb 157px,#00e0fb 209px,#00acff 240px,#004bff 255px,#0000ff 262px,#0000b6 268px,#000096 279px,#0000fa 289px,#0000ff 291px,#004cff 303px,#0050ff 316px,#00d4ff 332px,#1ffed7 340px,#90ff66 360px,#90ff66 470px)"></i><i style="left:621px;width:4px;background:linear-gradient(#00b0ff,#00b0ff 120px,#004cff 150px,#00e0fb 157px,#00e0fb 209px,#00a7ff 240px,#0043ff 255px,#0008ff 260px,#0000ff 262px,#0000b5 268px,#000096 279px,#0000fa 289px,#0000ff 291px,#004cff 303px,#0050ff 316px,#00dcfe 332px,#19ffde 337px,#a4ff53 360px,#a4ff53 470px)"></i><i style="left:624px;width:4px;background:linear-gradient(#00acff,#00a6ff 119px,#0046ff 150px,#004fff 151px,#00e0fb 157px,#00e0fb 209px,#009cff 239px,#0000ff 260px,#0000b0 268px,#000096 279px,#0000fa 289px,#0000ff 291px,#004cff 303px,#0050ff 316px,#00dbfe 332px,#16fee1 337px,#9eff58 360px,#9eff58 470px)"></i><i style="left:627px;width:4px;background:linear-gradient(#0088ff,#0088ff 24px,#004aff 59px,#004aff 119px,#0013ff 150px,#001fff 151px,#00ccff 156px,#00defd 157px,#00defd 209px,#0086ff 239px,#0004ff 256px,#0000f6 259px,#0000a7 268px,#000096 279px,#0000fa 289px,#0000ff 291px,#004cff 303px,#004eff 316px,#00b8ff 335px,#1ee8dc 349px,#3df1bd 360px,#3df1bd 470px)"></i><i style="left:630px;width:4px;background:linear-gradient(#0057ff,#0056ff 25px,#0010ff 43px,#0000f1 53px,#0000dc 59px,#0000dc 120px,#0000cd 148px,#0000cd 150px,#0000e7 151px,#000aff 152px,#00c4ff 156px,#00dbfe 157px,#00daff 210px,#0073ff 239px,#0000fd 253px,#0000a4 267px,#000096 279px,#0000ff 290px,#0000ff 292px,#004cff 303px,#004cff 317px,#005fff 329px,#0072ff 359px,#0072ff 470px)"></i><i style="left:633px;width:4px;background:linear-gradient(#004cff,#004cff 24px,#0000ff 44px,#0000c1 60px,#0000c1 150px,#0000dc 151px,#0002ff 152px,#00beff 156px,#00d4ff 157px,#00d3ff 210px,#006fff 239px,#0000ff 250px,#0000ca 256px,#00009c 267px,#000096 277px,#00009b 280px,#0000ff 290px,#0000ff 292px,#004cff 303px,#0054ff 329px,#0083ff 359px,#0083ff 470px)"></i><i style="left:636px;width:4px;background:linear-gradient(#004cff,#004cff 24px,#0013ff 46px,#0006f7 57px,#0004f4 150px,#000afc 151px,#00b8ff 156px,#00c8ff 157px,#00c8ff 210px,#007eff 239px,#0000ff 250px,#0000bc 256px,#000096 269px,#00009b 280px,#0000f1 288px,#0000ff 291px,#004cff 303px,#005bff 329px,#00c8ff 360px,#00c7ff 470px)"></i><i style="left:639px;width:4px;background:linear-gradient(#004cff,#0038ff 58px,#0038ff 150px,#00bfff 157px,#00bfff 209px,#0094ff 239px,#0000ff 250px,#0000ff 251px,#0000b6 256px,#000096 268px,#00009b 280px,#0000f1 288px,#0000ff 291px,#004cff 303px,#004fff 316px,#00a4ff 328px,#1fe7db 344px,#3ff8b8 354px,#55ffa2 360px,#55ffa2 411px,#32f9c5 470px)"></i><i style="left:642px;width:4px;background:linear-gradient(#004cff,#004bff 150px,#00b7ff 157px,#00b7ff 209px,#00a6ff 239px,#0006ff 250px,#0000f4 252px,#0000b6 256px,#000096 267px,#000096 279px,#0000fa 289px,#0000ff 291px,#004cff 303px,#004cff 315px,#00d3ff 324px,#0bf3ec 326px,#25ffd2 328px,#edf80b 360px,#edf80b 409px,#99ff5e 460px,#98ff5f 470px)"></i><i style="left:645px;width:4px;background:linear-gradient(#004cff,#004cff 150px,#00b3ff 157px,#00afff 239px,#0000ff 251px,#0000b6 256px,#000096 267px,#000096 279px,#0000fa 289px,#0000ff 291px,#004cff 303px,#0052ff 316px,#00d2fd 325px,#13f4e5 328px,#2dffc9 331px,#ddfe1a 360px,#ddfe1a 410px,#a4ff53 470px)"></i><i style="left:648px;width:4px;background:linear-gradient(#0046ff,#0043ff 150px,#00b0ff 157px,#00b0ff 239px,#0000ff 251px,#0000b6 256px,#000096 267px,#000096 279px,#0000fa 289px,#0000ff 291px,#004cff 303px,#0050ff 316px,#00d0fe 330px,#1ffed7 338px,#a3ff54 360px,#9cff5b 470px)"></i><i style="left:651px;width:4px;background:linear-gradient(#0027ff,#0012ff 59px,#0012ff 150px,#001bff 151px,#00a3ff 156px,#00b0ff 157px,#00b0ff 239px,#0000ff 251px,#0000b6 256px,#000096 267px,#000096 279px,#0000fa 289px,#0000ff 291px,#004cff 303px,#004bff 316px,#005fff 329px,#06a4f6 344px,#27cdd2 360px,#27cdd2 470px)"></i><i style="left:654px;width:4px;background:linear-gradient(#0001ff,#0000fd 30px,#0000cd 59px,#0000cd 150px,#0000e4 151px,#0004ff 152px,#009eff 156px,#00b0ff 157px,#00aaff 239px,#0000ff 251px,#0000b6 256px,#000096 267px,#00009b 280px,#0000ff 290px,#0000ff 292px,#004cff 303px,#004cff 315px,#000fff 322px,#0000f3 326px,#0000d3 330px,#0001de 470px)"></i><i style="left:657px;width:4px;background:linear-gradient(#0001ff,#0000fd 29px,#0000c7 60px,#0000c1 148px,#0000c1 150px,#0000ff 152px,#009cff 156px,#00b0ff 157px,#00b0ff 212px,#009bff 239px,#0002ff 250px,#0000ff 251px,#0000b6 256px,#000096 267px,#00009b 280px,#0000ff 290px,#0000ff 292px,#004cff 303px,#004cff 315px,#0000ff 323px,#0000bf 330px,#0000bf 470px)"></i><i style="left:660px;width:4px;background:linear-gradient(#003fff,#003fff 25px,#0022fd 58px,#0022fd 119px,#0006f4 150px,#000afc 151px,#0022ff 152px,#00a2ff 156px,#00b0ff 157px,#00b0ff 211px,#0084ff 239px,#0000ff 250px,#0000b6 256px,#000096 268px,#00009b 280px,#0000ff 290px,#0000ff 292px,#004cff 303px,#004cff 315px,#0000ff 324px,#0000ca 330px,#0000ca 470px)"></i><i style="left:663px;width:4px;background:linear-gradient(#0098ff,#0093ff 119px,#003aff 150px,#00b0ff 157px,#00b0ff 210px,#006aff 239px,#0008ff 248px,#0000ff 250px,#0000b6 256px,#000098 268px,#000098 279px,#0000ff 290px,#004cff 303px,#004cff 315px,#001eff 330px,#001eff 470px)"></i><i style="left:666px;width:4px;background:linear-gradient(#00b0ff,#00b0ff 119px,#004cff 150px,#00afff 157px,#00afff 209px,#0058ff 239px,#0000ff 249px,#0000bc 256px,#00009c 268px,#00009c 279px,#0000ff 289px,#004cff 303px,#005cff 330px,#005bff 470px)"></i><i style="left:669px;width:4px;background:linear-gradient(#00b0ff,#00b0ff 119px,#004cff 150px,#00a4ff 157px,#00a4ff 210px,#004fff 239px,#0000ff 250px,#0000ca 256px,#0000ae 268px,#0000ae 279px,#0003ff 288px,#004cff 303px,#005bff 315px,#00a2ff 331px,#0fdceb 359px,#0fdceb 410px,#009eff 470px)"></i><i style="left:672px;width:4px;background:linear-gradient(#0098ff,#0093ff 119px,#003aff 150px,#0094ff 157px,#0094ff 209px,#0050ff 238px,#0000fd 252px,#0000d3 268px,#0000d6 279px,#0000f1 282px,#000aff 285px,#0038ff 290px,#004cff 303px,#00cfff 337px,#22fcd5 355px,#2dffc9 360px,#29fece 413px,#0df1ec 432px,#01daf9 443px,#00b7ff 460px,#00b6ff 470px)"></i><i style="left:675px;width:4px;background:linear-gradient(#003fff,#003fff 25px,#0022fd 58px,#0022fd 119px,#0006f4 150px,#0014ff 152px,#007aff 157px,#007aff 209px,#004cff 239px,#000bff 256px,#0006fd 275px,#000bff 280px,#0078ff 290px,#004cff 302px,#009bff 316px,#0037ff 327px,#002bf9 330px,#0052ff 360px,#0052ff 409px,#002bf9 470px)"></i><i style="left:678px;width:4px;background:linear-gradient(#0001ff,#0000fd 30px,#0000c8 59px,#0000c1 150px,#0000f1 152px,#0003ff 153px,#0054ff 156px,#0062ff 157px,#0062ff 211px,#0033ff 267px,#0040ff 279px,#00c0ff 290px,#0050ff 303px,#00c6ff 315px,#00c2ff 316px,#0000ff 327px,#0000d0 330px,#0000d0 470px)"></i><i style="left:681px;width:4px;background:linear-gradient(#000bff,#0007ff 30px,#0000dc 59px,#0000dc 120px,#0000cd 148px,#0000cd 150px,#0000f4 152px,#0003ff 153px,#0054ff 157px,#004cff 240px,#006bff 256px,#006aff 268px,#0088ff 279px,#00c4ff 284px,#1cfadb 289px,#10f3e9 291px,#00ccff 294px,#0053ff 302px,#0050ff 303px,#00c7ff 312px,#08eef0 315px,#08eef0 316px,#00beff 319px,#001eff 330px,#001fff 470px)"></i><i style="left:684px;width:4px;background:linear-gradient(#0062ff,#0062ff 26px,#004aff 58px,#004aff 119px,#0013ff 150px,#004cff 157px,#004cff 240px,#0097ff 255px,#0098ff 267px,#00c3ff 276px,#08e8f1 281px,#2bffcb 285px,#55ffa2 289px,#52ffa5 290px,#0ff5e7 294px,#00d0ff 296px,#0054ff 302px,#0054ff 303px,#00d2ff 311px,#23ffd4 315px,#0ff7e7 318px,#00d2fe 321px,#0063ff 330px,#006cff 470px)"></i><i style="left:687px;width:4px;background:linear-gradient(#00a7ff,#00a6ff 119px,#0043ff 151px,#004cff 239px,#00bbff 255px,#00bfff 267px,#00d8fd 271px,#13f8e4 276px,#2bffcb 280px,#83ff73 289px,#7dff7a 290px,#2fffc8 294px,#19fede 295px,#00d3ff 297px,#0058ff 302px,#0054ff 303px,#00d3ff 310px,#1dffd9 313px,#3fffb8 316px,#28fecf 321px,#10dcea 330px,#3df1bd 360px,#3df1bd 470px)"></i><i style="left:690px;width:4px;background:linear-gradient(#00b0ff,#00b0ff 120px,#004cff 150px,#004eff 239px,#00d0ff 255px,#00dbfd 268px,#1afedd 273px,#4cffab 280px,#a3ff54 289px,#9cff5b 290px,#16fee1 296px,#01e4f8 297px,#00c8ff 298px,#0058ff 302px,#0054ff 303px,#00dbfe 310px,#18ffdf 312px,#4dffaa 316px,#45ffb2 330px,#99ff5e 360px,#99ff5e 470px)"></i><i style="left:693px;width:4px;background:linear-gradient(#00b0ff,#00b0ff 119px,#004cff 150px,#0058ff 157px,#0058ff 239px,#00d8ff 255px,#07eef0 268px,#1dffd9 271px,#60ff97 280px,#bbff3b 289px,#b4ff43 290px,#22ffd5 296px,#00d4ff 298px,#005aff 302px,#0054ff 303px,#00ccff 309px,#1cffdb 312px,#53ffa4 316px,#46ffb1 329px,#6cff8b 360px,#6cff8b 470px)"></i><i style="left:696px;width:4px;background:linear-gradient(#00a6ff,#0093ff 119px,#003aff 150px,#0068ff 157px,#0068ff 239px,#00d4ff 254px,#19fede 268px,#6cff8b 279px,#dfff18 289px,#d7ff1f 290px,#19fede 297px,#01e2fa 298px,#00c0ff 299px,#005cff 302px,#0054ff 303px,#00ccff 309px,#1cffdb 312px,#53ffa4 316px,#41ffb6 329px,#42ffb5 470px)"></i><i style="left:699px;width:4px;background:linear-gradient(#0074ff,#0074ff 25px,#0022fd 59px,#0022fd 119px,#0006f4 150px,#0014ff 152px,#0077ff 156px,#0083ff 157px,#0083ff 239px,#00e0fb 256px,#13fce4 261px,#3fffb8 270px,#85ff72 279px,#e3fe14 286px,#ffdb00 289px,#e6fd10 291px,#2dffc9 297px,#0ff8e7 298px,#00d2ff 299px,#005eff 302px,#0054ff 303px,#00ccff 309px,#1cffdb 312px,#53ffa4 316px,#11f0e9 330px,#11f0e9 470px)"></i><i style="left:702px;width:4px;background:linear-gradient(#0050ff,#004fff 25px,#0000ff 46px,#0000c8 59px,#0000c1 148px,#0000c1 150px,#0000ff 152px,#0088ff 156px,#009bff 157px,#009bff 239px,#00e4f8 256px,#16fee1 260px,#4dffaa 269px,#a0ff56 279px,#deff19 283px,#ffdb00 286px,#ffa300 289px,#ffae00 290px,#f0f908 292px,#1fffd7 298px,#01e2fa 299px,#0060ff 302px,#0054ff 303px,#00ccff 309px,#1cffdb 312px,#53ffa4 316px,#19fede 325px,#04e2f8 330px,#13ede7 360px,#13ede7 470px)"></i><i style="left:705px;width:4px;background:linear-gradient(#0057ff,#0056ff 25px,#0010ff 43px,#0000f1 53px,#0000dc 59px,#0000dc 120px,#0000cd 148px,#0000cd 150px,#0000e2 151px,#0003ff 152px,#0098ff 156px,#00a8ff 157px,#00a8ff 239px,#00e4f8 256px,#1affdd 260px,#53ffa4 268px,#beff39 279px,#deff19 281px,#ffd800 284px,#ff7300 289px,#ff7f00 290px,#ffd700 292px,#ebfd0c 293px,#2fffc8 298px,#09f0ee 299px,#00c0ff 300px,#0063ff 302px,#0054ff 303px,#00ccff 309px,#1cffdb 312px,#53ffa4 316px,#36ffc1 330px,#81ff75 360px,#81ff75 470px)"></i><i style="left:708px;width:4px;background:linear-gradient(#0088ff,#0088ff 24px,#004aff 59px,#004aff 119px,#0013ff 150px,#001bff 151px,#00a2ff 156px,#00b0ff 157px,#00b0ff 240px,#00e4f8 256px,#16ffe1 259px,#50ffa7 267px,#d9ff1d 279px,#ffde00 282px,#ff4e00 289px,#ff5a00 290px,#ffe600 293px,#dbff1c 294px,#11fbe5 299px,#00c8ff 300px,#0064ff 302px,#0054ff 303px,#00ccff 309px,#1cffdb 312px,#53ffa4 316px,#46ffb1 329px,#a4ff53 360px,#a4ff53 470px)"></i><i style="left:711px;width:4px;background:linear-gradient(#00acff,#00a6ff 119px,#0046ff 150px,#00b0ff 157px,#00b0ff 239px,#00e4f8 256px,#16ffe1 259px,#50ffa7 267px,#eefd09 279px,#ffd800 281px,#ff3300 289px,#ff4000 290px,#ffd200 293px,#ebff0c 294px,#18ffdf 299px,#00cfff 300px,#0064ff 302px,#0054ff 303px,#00ccff 309px,#1cffdb 312px,#53ffa4 316px,#46ffb1 329px,#a4ff53 360px,#a4ff53 470px)"></i><i style="left:714px;width:4px;background:linear-gradient(#00b0ff,#00b0ff 120px,#004cff 150px,#00b0ff 157px,#00b0ff 239px,#00e4f8 256px,#16ffe1 259px,#50ffa7 267px,#eaff0d 278px,#ffe200 280px,#ff2300 289px,#ff3200 290px,#f3fa03 294px,#1bffdc 299px,#00d0ff 300px,#0064ff 302px,#0054ff 303px,#00ccff 309px,#1cffdb 312px,#53ffa4 316px,#36ffc1 330px,#81ff75 360px,#81ff75 470px)"></i><i style="left:717px;width:4px;background:linear-gradient(#00afff,#00aeff 119px,#004bff 150px,#00b0ff 157px,#00b0ff 239px,#00e4f8 256px,#16ffe1 259px,#50ffa7 267px,#e4ff13 278px,#f3f904 279px,#ffd000 281px,#ff1e00 289px,#ff2d00 290px,#f8f500 294px,#1cffdb 299px,#00d4ff 300px,#0064ff 302px,#0054ff 303px,#00ccff 309px,#1cffdb 312px,#52ffa5 316px,#18fddf 325px,#04dff8 330px,#12e9e8 360px,#12e9e8 470px)"></i><i style="left:720px;width:4px;background:linear-gradient(#009aff,#009aff 24px,#0074ff 58px,#0074ff 119px,#0027ff 150px,#00b0ff 157px,#00b0ff 239px,#00e4f8 256px,#16ffe1 259px,#50ffa7 267px,#e1ff16 279px,#ffe200 281px,#ff1e00 289px,#ff2900 290px,#f8f500 294px,#1cffdb 299px,#00d4ff 300px,#0066ff 302px,#0054ff 303px,#00ccff 309px,#1cffdb 312px,#50ffa7 316px,#11f5e6 322px,#02d2fa 325px,#0097ff 330px,#0097ff 470px)"></i><i style="left:723px;width:4px;background:linear-gradient(#0063ff,#0063ff 25px,#001aff 47px,#0008f0 59px,#0000e2 150px,#0000f1 151px,#000fff 152px,#009fff 156px,#00b0ff 157px,#00b0ff 239px,#00e4f8 256px,#16ffe1 259px,#50ffa7 267px,#ddff1a 280px,#f4f804 281px,#ffdd00 282px,#ff1e00 289px,#ff2900 290px,#f8f500 294px,#1cffdb 299px,#00d4ff 300px,#0068ff 302px,#0054ff 303px,#00ccff 309px,#0cf4eb 311px,#4dffaa 315px,#4affac 316px,#22ffd5 318px,#00c4ff 321px,#002bff 327px,#000ae8 330px,#000ae8 470px)"></i><i style="left:726px;width:3px;background:linear-gradient(#004eff,#004eff 24px,#0000ff 43px,#0000fa 47px,#0000bc 60px,#0000bb 128px,#0000bb 150px,#0000ff 152px,#009cff 156px,#00b0ff 157px,#00b0ff 239px,#00e4f8 256px,#16ffe1 259px,#b9ff3e 279px,#e4ff13 281px,#fded00 282px,#ffd000 283px,#ff1f00 289px,#ff2900 290px,#f8f500 294px,#1cffdb 299px,#00d4ff 300px,#0068ff 302px,#0054ff 303px,#00ccff 309px,#0cf4eb 311px,#4dffaa 315px,#49ffad 316px,#1affdd 318px,#02e8f4 319px,#00ccff 320px,#0000ff 327px,#0000bf 330px,#0000bf 470px)"></i></div>
<div class="sp" style="left:117.0px;top:1249.1px;width:729.0px;height:469.2px"><i style="left:0px;width:4px;background:linear-gradient(#005eff,#005cff 25px,#0012ff 44px,#0000eb 56px,#0000df 60px,#0000df 150px,#0018ff 152px,#00caff 156px,#00e0fb 157px,#00e0fb 210px,#00c0ff 240px,#08e7f1 255px,#09e7f0 267px,#05dff6 268px,#0000ff 279px,#0000bb 302px,#0000ff 308px,#0008ff 310px,#004cff 316px,#0054ff 322px,#0054ff 326px,#0000ff 344px,#0000ff 427px,#0000ff 428px,#0090ff 440px,#0090ff 470px)"></i><i style="left:3px;width:4px;background:linear-gradient(#00a3ff,#00a3ff 24px,#0064ff 60px,#0064ff 150px,#00e0fb 157px,#00e0fb 210px,#00ccff 239px,#0092ff 255px,#0090ff 267px,#0000ff 279px,#0000bb 301px,#0000bf 303px,#0000ff 308px,#0008ff 310px,#004cff 316px,#0054ff 322px,#0054ff 326px,#0000ff 344px,#0000ff 428px,#0090ff 440px,#0090ff 470px)"></i><i style="left:6px;width:4px;background:linear-gradient(#00d7ff,#00d0ff 150px,#00e0fb 157px,#00e0fb 211px,#00d6ff 238px,#00c7ff 241px,#0047ff 255px,#003fff 268px,#0000ff 278px,#0000ca 289px,#0000b6 302px,#0000ff 308px,#0008ff 310px,#004cff 316px,#0054ff 322px,#0054ff 326px,#0000ff 344px,#0000ff 428px,#0090ff 440px,#0090ff 470px)"></i><i style="left:9px;width:4px;background:linear-gradient(#00e0fb,#00d8ff 239px,#001bff 256px,#001bff 268px,#0000ff 276px,#0000f1 282px,#0000bf 290px,#0000b6 302px,#0000ff 308px,#0008ff 310px,#004cff 316px,#0054ff 322px,#0054ff 326px,#0000ff 344px,#0000ff 428px,#0090ff 440px,#0090ff 470px)"></i><i style="left:12px;width:4px;background:linear-gradient(#00dcfd,#00d7ff 239px,#002fff 256px,#002eff 268px,#0000ff 278px,#0000c7 289px,#0000b6 302px,#0000ff 308px,#004cff 316px,#0054ff 322px,#0054ff 326px,#0000ff 344px,#0000ff 428px,#0090ff 440px,#0090ff 470px)"></i><i style="left:15px;width:4px;background:linear-gradient(#00bbff,#00bbff 25px,#0097ff 58px,#0097ff 150px,#00defd 157px,#00cfff 236px,#00c8ff 240px,#0076ff 255px,#0073ff 267px,#0000ff 279px,#0000d4 289px,#0000bb 301px,#0000bf 303px,#0000ff 308px,#0047ff 315px,#0054ff 322px,#0054ff 326px,#0000ff 344px,#0000ff 428px,#0090ff 440px,#0090ff 470px)"></i><i style="left:18px;width:4px;background:linear-gradient(#0070ff,#0070ff 24px,#0027ff 46px,#000ef3 60px,#000ef3 150px,#0032ff 152px,#00c6ff 156px,#00d8ff 157px,#00d8ff 210px,#00b8ff 239px,#01ccfb 267px,#0000ff 279px,#0000bc 302px,#0000ff 308px,#0052ff 316px,#0057ff 325px,#0000ff 344px,#0000ff 427px,#0000ff 428px,#0090ff 440px,#0090ff 470px)"></i><i style="left:21px;width:4px;background:linear-gradient(#0050ff,#004fff 25px,#0000ff 46px,#0000c2 60px,#0000c2 150px,#0000ff 152px,#00b0ff 156px,#00c8ff 157px,#00c8ff 209px,#009bff 239px,#00dcfd 248px,#25ffd2 255px,#1efdd8 268px,#00c4ff 271px,#000aff 279px,#0000ff 281px,#0000f6 289px,#0000c4 302px,#0000ff 307px,#0064ff 316px,#006cff 325px,#0000ff 344px,#0000ff 428px,#0090ff 440px,#0090ff 470px)"></i><i style="left:24px;width:4px;background:linear-gradient(#0070ff,#0070ff 24px,#0027ff 46px,#000ef3 60px,#000ef3 150px,#0026ff 152px,#0098ff 156px,#00a8ff 157px,#00a8ff 210px,#006cff 239px,#00dcfd 248px,#18ffdf 251px,#47ffb0 256px,#47ffb0 267px,#29ffce 269px,#16fde1 270px,#00ccff 272px,#001eff 279px,#0002ff 284px,#0000fd 289px,#0000d3 302px,#0000ff 306px,#007cff 315px,#00b0ff 326px,#0000ff 344px,#0000ff 427px,#0000ff 428px,#0090ff 440px,#0090ff 470px)"></i><i style="left:27px;width:4px;background:linear-gradient(#00bbff,#00bbff 25px,#0097ff 58px,#0097ff 150px,#0082ff 157px,#0082ff 209px,#0038ff 239px,#00dbfd 249px,#14fde3 251px,#52ffa5 256px,#52ffa5 267px,#22ffd5 270px,#00dffb 272px,#0034ff 279px,#0000ff 288px,#0000e5 302px,#0003ff 305px,#00a0ff 315px,#00c8ff 325px,#0000ff 345px,#0000ff 428px,#0090ff 440px,#0090ff 470px)"></i><i style="left:30px;width:4px;background:linear-gradient(#00dcfd,#00dafe 150px,#0062ff 157px,#0062ff 209px,#0012ff 239px,#001aff 240px,#00ccff 249px,#1bffdc 252px,#53ffa4 256px,#53ffa4 267px,#26ffd1 270px,#14fde3 271px,#00d2ff 273px,#003bff 280px,#000bff 287px,#0000ff 291px,#0000f4 302px,#0002ff 304px,#00c8ff 316px,#00c4ff 326px,#0000ff 345px,#0000ff 428px,#0090ff 440px,#0090ff 470px)"></i><i style="left:33px;width:4px;background:linear-gradient(#00e0fb,#00dffc 150px,#004bff 157px,#004bff 209px,#0000ff 239px,#0004ff 240px,#00d4ff 250px,#13fce4 252px,#25ffd2 253px,#4fffa8 256px,#4fffa8 267px,#16ffe1 271px,#00d7ff 273px,#004fff 280px,#0012ff 291px,#0000ff 298px,#0008ff 304px,#00d7ff 316px,#00ccff 325px,#0000ff 345px,#0000ff 428px,#0090ff 440px,#0090ff 470px)"></i><i style="left:36px;width:4px;background:linear-gradient(#00d3ff,#00cfff 150px,#0038ff 157px,#0038ff 209px,#0000ff 236px,#0000ff 240px,#00dbfd 251px,#18fedf 253px,#29ffce 254px,#41ffb6 256px,#41ffb6 267px,#11fbe5 271px,#00d8ff 273px,#0073ff 279px,#0066ff 289px,#0000ff 301px,#000cff 304px,#00dcfe 316px,#00ccff 325px,#0000ff 345px,#0000ff 428px,#0090ff 440px,#0090ff 470px)"></i><i style="left:39px;width:4px;background:linear-gradient(#007eff,#007eff 25px,#0058ff 59px,#0058ff 150px,#0024ff 157px,#0024ff 209px,#0000ff 231px,#0000ff 240px,#00d8fe 252px,#14fbe3 254px,#29ffce 256px,#29ffce 267px,#1cffdb 269px,#00dcfe 273px,#0094ff 280px,#06d2f6 287px,#08d4f4 290px,#006eff 295px,#0000ff 302px,#000cff 304px,#00dffc 316px,#00ccff 325px,#0000ff 344px,#0000ff 427px,#0000ff 428px,#0090ff 440px,#0090ff 470px)"></i><i style="left:42px;width:4px;background:linear-gradient(#000fff,#0008fc 32px,#0000c5 60px,#0000c5 150px,#0003ff 155px,#0014ff 157px,#0014ff 210px,#0000ff 239px,#0002ff 240px,#00caff 253px,#0af0ee 256px,#09efef 268px,#00c7ff 279px,#09e8f0 282px,#33ffc4 285px,#6cff8b 289px,#63ff94 290px,#15f1e5 293px,#00b8ff 295px,#0000ff 302px,#000cff 304px,#00e0fb 316px,#00ccff 325px,#0000ff 344px,#0000ff 428px,#0090ff 440px,#0090ff 470px)"></i><i style="left:45px;width:4px;background:linear-gradient(#0000ff,#0000fc 28px,#00009e 60px,#00009c 140px,#00009c 150px,#0000ff 155px,#001aff 157px,#000fff 239px,#00b6ff 255px,#00bbff 267px,#00dcfe 273px,#21fcd6 280px,#6dff8a 284px,#b8ff3f 287px,#d4fd23 289px,#c9ff2d 290px,#35ffc2 294px,#13f7e4 295px,#00d4fd 296px,#0002ff 302px,#0000ff 303px,#02e7f5 316px,#00c4ff 326px,#0000ff 344px,#0000ff 428px,#0090ff 440px,#0090ff 470px)"></i><i style="left:48px;width:4px;background:linear-gradient(#002aff,#002aff 25px,#001bff 35px,#0008e4 59px,#0008e4 120px,#0000cb 149px,#0000d6 151px,#0004f9 153px,#003aff 157px,#0038ff 239px,#0073ff 256px,#0073ff 267px,#00dcfe 273px,#16fde1 275px,#75ff81 281px,#baff3c 284px,#f0ee09 286px,#ffc400 288px,#ffb900 289px,#ffc900 290px,#f1ef08 291px,#c8ff2f 292px,#17fce0 296px,#00d4fe 297px,#0004ff 302px,#0000ff 303px,#00d4ff 314px,#09f0ee 316px,#00c4ff 326px,#0000ff 344px,#0000ff 428px,#0090ff 440px,#0090ff 470px)"></i><i style="left:51px;width:4px;background:linear-gradient(#00a6ff,#008fff 58px,#008fff 119px,#0022ff 150px,#006aff 157px,#0068ff 239px,#0022ff 256px,#0022ff 267px,#0032ff 268px,#00d8ff 273px,#11fbe5 274px,#99ff5e 279px,#d0ff27 282px,#e6fa12 283px,#ffc600 285px,#ff8600 287px,#ff6c00 289px,#ff7e00 290px,#fbe301 292px,#ceff29 293px,#36ffc1 296px,#0bf3ec 297px,#00c3ff 298px,#0008ff 302px,#0000ff 303px,#00ccff 313px,#0ff8e7 315px,#16fee1 316px,#00e3f9 321px,#00c4ff 326px,#0000ff 344px,#0000ff 428px,#0090ff 440px,#0090ff 470px)"></i><i style="left:54px;width:4px;background:linear-gradient(#00dbfd,#00dafe 119px,#004bff 150px,#0093ff 157px,#0093ff 239px,#000aff 252px,#0000f3 255px,#0000ee 267px,#0003fc 268px,#00d8ff 273px,#18ffdf 274px,#e6fd10 280px,#ffcc00 283px,#ff4d00 287px,#ff3900 289px,#ff4b00 290px,#ff7400 291px,#f6f404 293px,#1cffdb 297px,#00d4ff 298px,#0008ff 302px,#0000ff 303px,#00d7ff 313px,#18ffdf 315px,#14fde3 318px,#00cfff 325px,#0000ff 344px,#0000ff 428px,#0090ff 440px,#0090ff 470px)"></i><i style="left:57px;width:4px;background:linear-gradient(#00dffc,#00dffc 119px,#004cff 150px,#00a8ff 157px,#00a8ff 239px,#0002ff 251px,#0000ff 252px,#0000c8 256px,#0000c8 267px,#0000e5 268px,#000cff 269px,#00d4ff 273px,#1cffdb 274px,#eaff0d 279px,#ffe700 280px,#ffd800 281px,#ffac00 283px,#ff3000 287px,#ff1f00 289px,#ff2f00 290px,#ff5700 291px,#ffdc00 293px,#caff2c 294px,#25ffd2 297px,#00dbfe 298px,#0008ff 302px,#0000ff 303px,#00dcfe 313px,#1cffdb 315px,#25ffd2 316px,#0cebed 326px,#00bbff 330px,#0002ff 344px,#0000ff 345px,#0000ff 428px,#0090ff 440px,#0090ff 470px)"></i><i style="left:60px;width:4px;background:linear-gradient(#00d0ff,#00cfff 119px,#0046ff 150px,#00b0ff 157px,#00b0ff 239px,#0000ff 251px,#0000bc 256px,#0000bc 267px,#0000da 268px,#0004ff 269px,#00d4ff 273px,#1dffd9 274px,#f3fa03 279px,#ffdc00 280px,#ffa700 283px,#ff4200 286px,#ff1500 288px,#ff2500 290px,#ff4e00 291px,#ffd800 293px,#cdff2a 294px,#23ffd4 297px,#00d7ff 298px,#0008ff 302px,#0000ff 303px,#00dcfe 313px,#1fffd7 315px,#41ffb6 325px,#11fbe5 329px,#00cbff 332px,#0004ff 344px,#0000ff 345px,#0000ff 428px,#0090ff 440px,#0090ff 470px)"></i><i style="left:63px;width:4px;background:linear-gradient(#0064ff,#0058ff 119px,#000ef9 150px,#0014ff 151px,#00a4ff 156px,#00b3ff 157px,#00b3ff 239px,#0000ff 251px,#0000be 256px,#0000bf 267px,#0000df 268px,#0007ff 269px,#00d7ff 273px,#1fffd7 274px,#f1fc06 279px,#ffde00 280px,#ffaf00 283px,#ff2a00 287px,#ff1a00 289px,#ff2e00 290px,#ff5900 291px,#feea00 293px,#beff39 294px,#18fedf 297px,#00ccff 298px,#0007ff 302px,#0000ff 303px,#00dcfe 313px,#1fffd7 315px,#46ffb1 325px,#16ffe1 329px,#00d0ff 332px,#0024ff 342px,#0000ff 345px,#0000ff 428px,#0090ff 440px,#0090ff 470px)"></i><i style="left:66px;width:4px;background:linear-gradient(#0000df,#0000df 27px,#0000c7 56px,#0000c7 120px,#0000b2 150px,#0000f9 152px,#001bff 153px,#00a2ff 156px,#00b8ff 157px,#00b8ff 239px,#0001ff 252px,#0000d3 256px,#0000dc 267px,#0000f4 268px,#001aff 269px,#00dbfe 273px,#1fffd7 274px,#e3ff14 279px,#f9f202 280px,#ffde00 282px,#ff3700 288px,#ff3500 289px,#ff4d00 290px,#ff7d00 291px,#ffc200 292px,#e1ff16 293px,#32ffc5 296px,#06ebf2 297px,#00b8ff 298px,#0002ff 302px,#0000ff 303px,#00dcfe 313px,#1fffd7 315px,#46ffb1 325px,#16ffe1 329px,#00d0ff 332px,#0024ff 342px,#0000ff 345px,#0000ff 428px,#0092ff 440px,#0092ff 470px)"></i><i style="left:69px;width:4px;background:linear-gradient(#0000c8,#0000c8 26px,#0000aa 58px,#0000a2 150px,#0000be 151px,#0000f7 152px,#001bff 153px,#00afff 156px,#00c8ff 157px,#00c8ff 239px,#0016ff 253px,#0003f9 256px,#0012ff 267px,#0022ff 268px,#00beff 272px,#01e4f8 273px,#1fffd7 274px,#bfff38 279px,#edf80c 283px,#ffc600 285px,#ff8400 287px,#ff7200 289px,#ff8a00 290px,#ebf80f 292px,#72ff85 294px,#0ff5e7 296px,#00c7ff 297px,#0000ff 302px,#0004ff 304px,#00dcfe 313px,#1fffd7 315px,#46ffb1 325px,#16ffe1 329px,#00d0ff 332px,#0024ff 342px,#0000ff 345px,#0000ff 427px,#00a6ff 440px,#00a6ff 470px)"></i><i style="left:72px;width:4px;background:linear-gradient(#0022fd,#0018f4 119px,#0001e5 150px,#0007f4 151px,#0020ff 152px,#00caff 156px,#01e0fa 157px,#01e0fa 239px,#003eff 256px,#006cff 267px,#00c4ff 271px,#0df6ea 273px,#21ffd6 274px,#86ff71 279px,#a7ff50 283px,#d4fe23 285px,#f7e105 287px,#fbd301 289px,#f4e708 290px,#d3fe24 291px,#36ffc1 294px,#0cefed 295px,#00c2ff 296px,#0008ff 301px,#0000ed 303px,#0000ff 304px,#00d8ff 313px,#1fffd7 315px,#46ffb1 325px,#18ffdf 329px,#00d2ff 332px,#0003ff 345px,#0003ff 427px,#00c6ff 440px,#00c6ff 470px)"></i><i style="left:75px;width:4px;background:linear-gradient(#0093ff,#008fff 119px,#0036ff 150px,#0046ff 151px,#00c7ff 155px,#0ff8e7 157px,#0ff8e7 239px,#00d8fd 244px,#008bff 255px,#00bfff 264px,#15fce2 272px,#54ffa3 282px,#aeff48 288px,#aeff48 289px,#9aff5d 290px,#1ffad7 293px,#04dcf8 294px,#00b0ff 295px,#0048ff 298px,#000eff 300px,#0000fc 301px,#0000dc 302px,#0000da 303px,#0000fa 304px,#0004ff 305px,#00d6ff 313px,#1cffdb 315px,#46ffb1 325px,#15fde2 330px,#00d4ff 333px,#0033ff 345px,#0033ff 427px,#00c8ff 440px,#00c8ff 470px)"></i><i style="left:78px;width:4px;background:linear-gradient(#00b0ff,#00afff 120px,#004cff 150px,#005bff 151px,#00dcfd 155px,#13fce4 156px,#1fffd7 157px,#1affdd 241px,#02e3f8 248px,#00c3ff 255px,#15f9e2 263px,#32ffc5 268px,#1afddd 280px,#26ffd1 283px,#58ff9e 288px,#58ff9e 289px,#2bffcb 291px,#0cefed 292px,#00caff 293px,#0082ff 295px,#0012ff 299px,#0000ff 300px,#0000ce 302px,#0000ce 303px,#0000ff 305px,#00d4ff 313px,#1cffdb 315px,#46ffb1 325px,#19ffde 330px,#00d3ff 334px,#004eff 345px,#004eff 427px,#00c8ff 440px,#00c8ff 470px)"></i><i style="left:81px;width:4px;background:linear-gradient(#00b0ff,#00b0ff 119px,#004cff 150px,#005cff 151px,#00e0fb 155px,#18ffdf 156px,#25ffd2 157px,#27ffd0 163px,#29ffce 240px,#16fde1 247px,#02e4f8 255px,#18fddf 259px,#52ffa5 267px,#1cffdb 276px,#04eaf3 280px,#24ffd3 289px,#17fce0 290px,#00c6ff 292px,#0007ff 299px,#0000fd 300px,#0000c8 302px,#0000c8 303px,#0000ff 305px,#00d4ff 313px,#1cffdb 315px,#46ffb1 325px,#10f9e6 330px,#00ccff 333px,#001eff 345px,#001eff 427px,#00c8ff 440px,#00c8ff 470px)"></i><i style="left:84px;width:4px;background:linear-gradient(#0098ff,#0093ff 119px,#003aff 150px,#004bff 151px,#00dffc 155px,#19ffde 156px,#29ffce 158px,#35ffc2 239px,#15fce2 255px,#6bff8c 267px,#1effd8 276px,#00e2fa 280px,#0cf4eb 289px,#00ccff 291px,#0004ff 299px,#0000fa 300px,#0000c4 302px,#0000c8 303px,#0000ff 305px,#00d2ff 313px,#1cffdb 315px,#46ffb1 325px,#17ffe0 329px,#00d0ff 332px,#0016ff 343px,#0000ff 345px,#0000ff 427px,#00c8ff 440px,#00c8ff 470px)"></i><i style="left:87px;width:4px;background:linear-gradient(#003fff,#003fff 25px,#0022fd 58px,#0022fd 119px,#0006f4 150px,#000fff 151px,#00ccff 155px,#14fde3 156px,#29ffce 157px,#40ffb7 206px,#40ffb7 240px,#2cffca 255px,#83ff73 267px,#1dffd9 277px,#01e6f7 280px,#0af2ed 289px,#00ccff 291px,#0004ff 299px,#0000fa 300px,#0000c4 302px,#0000c8 303px,#0000ff 305px,#00d0ff 313px,#1cffdb 315px,#46ffb1 325px,#16ffe1 329px,#00d0ff 332px,#0024ff 342px,#0000ff 345px,#0000ff 427px,#0004ff 428px,#00c8ff 440px,#00c8ff 470px)"></i><i style="left:90px;width:4px;background:linear-gradient(#0001ff,#0000fd 29px,#0000c7 59px,#0000c1 150px,#0000e0 151px,#0012ff 152px,#00bfff 155px,#10fae6 156px,#29ffce 157px,#4cffab 209px,#42ffb5 255px,#9eff58 267px,#10f8e6 280px,#22ffd5 289px,#18fcdf 290px,#00ceff 292px,#0026ff 298px,#0000ff 300px,#0000c7 302px,#0000c8 303px,#0000ff 305px,#0010ff 306px,#00d0ff 313px,#1cffdb 315px,#46ffb1 325px,#18ffdf 329px,#00d2ff 332px,#0003ff 345px,#0003ff 427px,#00c8ff 440px,#00c8ff 470px)"></i><i style="left:93px;width:4px;background:linear-gradient(#0001ff,#0000fd 29px,#0000c7 59px,#0000c1 150px,#0000e0 151px,#0012ff 152px,#00bfff 155px,#10fae6 156px,#29ffce 157px,#52ffa5 210px,#4fffa8 255px,#b8ff3f 267px,#7eff79 275px,#3affbc 280px,#62ff95 289px,#58ff9e 290px,#22fad5 292px,#00c6ff 294px,#001cff 299px,#0002ff 300px,#0000ed 301px,#0000c8 302px,#0000c8 303px,#0000ff 305px,#0010ff 306px,#00d0ff 313px,#1cffdb 315px,#46ffb1 325px,#15fde2 330px,#00d4ff 333px,#0033ff 345px,#0033ff 427px,#00c8ff 440px,#00c8ff 470px)"></i><i style="left:96px;width:4px;background:linear-gradient(#003fff,#003fff 25px,#0022fd 58px,#0022fd 119px,#0006f4 150px,#000fff 151px,#00ccff 155px,#14fde3 156px,#29ffce 157px,#53ffa4 207px,#53ffa4 255px,#d4ff23 268px,#c6ff31 275px,#7dff7a 280px,#91ff65 284px,#c8ff2f 289px,#beff39 290px,#29fdce 294px,#08e7f1 295px,#00b8ff 296px,#0014ff 300px,#0000fa 301px,#0000ce 302px,#0000c8 303px,#0000ff 305px,#0010ff 306px,#00d0ff 313px,#1cffdb 315px,#46ffb1 325px,#10fae6 331px,#00d4ff 334px,#0056ff 345px,#0056ff 427px,#00c8ff 440px,#00c8ff 470px)"></i><i style="left:99px;width:4px;background:linear-gradient(#0098ff,#0093ff 119px,#003aff 150px,#004bff 151px,#00e0fb 155px,#19ffde 156px,#29ffce 157px,#56ffa0 210px,#56ffa0 255px,#e7ff0f 267px,#f1f808 271px,#fde000 274px,#f8ed04 276px,#c3ff34 280px,#e3fa15 284px,#ffb800 289px,#ffc300 290px,#f6e406 291px,#d8fd1e 292px,#40ffb7 295px,#10f4e7 296px,#00c0ff 297px,#0000ff 301px,#0000d3 302px,#0000c8 303px,#0000ff 305px,#00d0ff 313px,#1cffdb 315px,#46ffb1 325px,#13fce4 331px,#00d4ff 334px,#0058ff 345px,#0058ff 427px,#00c8ff 440px,#00c8ff 470px)"></i><i style="left:102px;width:4px;background:linear-gradient(#00b0ff,#00b0ff 119px,#004cff 150px,#005cff 151px,#00c0ff 154px,#00e4f8 155px,#19ffde 156px,#29ffce 157px,#53ffa4 208px,#56ffa0 255px,#e7ff0f 266px,#fded00 268px,#ffbb00 275px,#f7f603 279px,#f6f404 281px,#ffde00 283px,#ff7200 289px,#ff7c00 290px,#ffc900 292px,#e9fc0f 293px,#34ffc3 296px,#02e4f8 297px,#00a7ff 298px,#0002ff 301px,#0000d6 302px,#0000c8 303px,#0000ff 305px,#0010ff 306px,#00d0ff 313px,#1cffdb 315px,#46ffb1 325px,#13fce4 331px,#00d4ff 334px,#0058ff 345px,#0058ff 427px,#00c8ff 440px,#00c8ff 470px)"></i><i style="left:105px;width:4px;background:linear-gradient(#00b0ff,#00b0ff 119px,#004cff 150px,#005cff 151px,#00c0ff 154px,#00e4f8 155px,#19ffde 156px,#29ffce 157px,#4fffa8 207px,#53ffa4 253px,#5dff9a 256px,#e7ff0f 266px,#fded00 268px,#ffb300 274px,#ffbd00 276px,#ffe800 279px,#ffe500 281px,#ff5700 289px,#ff5900 290px,#ff7100 291px,#ffdd00 293px,#c9ff2d 294px,#43ffb4 296px,#09f0ee 297px,#00b0ff 298px,#0004ff 301px,#0000d6 302px,#0000c8 303px,#0000ff 305px,#0010ff 306px,#00d0ff 313px,#1cffdb 315px,#46ffb1 325px,#13fce4 331px,#00d4ff 334px,#0058ff 345px,#0058ff 427px,#00c8ff 440px,#00c8ff 470px)"></i><i style="left:108px;width:4px;background:linear-gradient(#0098ff,#0093ff 119px,#003aff 150px,#004bff 151px,#00defc 155px,#18ffdf 156px,#28ffcf 157px,#40ffb7 195px,#53ffa4 254px,#5dff9a 256px,#e7ff0f 267px,#feea00 271px,#ffc400 275px,#f8f502 279px,#faf101 281px,#ffc400 284px,#ff5800 288px,#ff4b00 290px,#ff5e00 291px,#ff8e00 292px,#ffd500 293px,#caff2c 294px,#3cffba 296px,#03e7f5 297px,#00a7ff 298px,#0000ff 301px,#0000d6 302px,#0000c8 303px,#0000ff 305px,#0010ff 306px,#00d0ff 313px,#1cffdb 315px,#46ffb1 325px,#13fce4 331px,#00d4ff 334px,#0058ff 345px,#0058ff 427px,#00c8ff 440px,#00c8ff 470px)"></i><i style="left:111px;width:4px;background:linear-gradient(#003fff,#003fff 25px,#0022fd 58px,#0022fd 119px,#0006f4 150px,#000ffd 151px,#00c8ff 155px,#0ff8e7 156px,#23ffd4 157px,#37ffc0 239px,#53ffa4 255px,#d7ff1f 268px,#f9ed03 274px,#d9ff1d 280px,#f1f808 283px,#fde600 284px,#ff6200 288px,#ff5200 289px,#ff5300 290px,#ff6d00 291px,#ffa100 292px,#faee02 293px,#b3ff44 294px,#26ffd1 296px,#00cfff 297px,#005cff 299px,#0000ff 301px,#0000d3 302px,#0000c8 303px,#0000ff 305px,#0010ff 306px,#00d0ff 313px,#1cffdb 315px,#46ffb1 325px,#13fce4 331px,#00d4ff 334px,#0058ff 345px,#0058ff 427px,#00c8ff 440px,#00c8ff 470px)"></i><i style="left:114px;width:4px;background:linear-gradient(#0001ff,#0000fd 29px,#0000c7 60px,#0000c1 150px,#0000e0 151px,#000bff 152px,#02e4f8 156px,#16fde1 157px,#1fffd7 239px,#53ffa4 255px,#baff3c 268px,#cbff2b 274px,#b6ff41 281px,#d7ff1f 284px,#eff70a 285px,#fedb00 286px,#ff9300 288px,#ff7f00 289px,#ff8300 290px,#ffa400 291px,#fbdd01 292px,#c9ff2d 293px,#40ffb7 295px,#07ebf2 296px,#00acff 297px,#001cff 300px,#0000ff 301px,#0000d0 302px,#0000c8 303px,#0000ff 305px,#00ceff 313px,#02e7f5 314px,#18ffdf 315px,#46ffb1 325px,#13fce4 331px,#00d4ff 334px,#0058ff 345px,#0058ff 427px,#00c8ff 440px,#00c8ff 470px)"></i><i style="left:117px;width:4px;background:linear-gradient(#0001ff,#0000fd 30px,#0000cd 59px,#0000cd 150px,#0000e7 151px,#000aff 152px,#00c4ff 156px,#02dcfa 157px,#03e0f8 239px,#1afedd 245px,#9aff5d 267px,#89ff6e 282px,#9fff57 284px,#cdff2a 286px,#e8f712 287px,#fad802 289px,#e7f413 291px,#bcff3a 292px,#47ffb0 294px,#10f4e7 295px,#00bcff 296px,#000eff 300px,#0000f6 301px,#0000cd 302px,#0000c8 303px,#0000ff 305px,#000eff 306px,#00c4ff 313px,#0ff8e7 315px,#1cffdb 316px,#46ffb1 325px,#13fce4 331px,#00d4ff 334px,#0058ff 345px,#0058ff 427px,#00c8ff 440px,#00c8ff 470px)"></i><i style="left:120px;width:4px;background:linear-gradient(#0027ff,#0012ff 59px,#0012ff 150px,#001aff 151px,#009bff 156px,#00a8ff 157px,#00aaff 239px,#00ceff 243px,#1fffd7 249px,#56ffa0 256px,#7eff79 267px,#52ffa5 279px,#54ffa3 282px,#61ff96 284px,#aeff48 289px,#89ff6e 291px,#36ffc1 293px,#0ceded 294px,#00bcff 295px,#0066ff 297px,#0002ff 300px,#0000ed 301px,#0000c8 302px,#0000c4 303px,#0000ff 305px,#000aff 306px,#00d4ff 314px,#06ecf1 315px,#19ffde 317px,#43ffb4 326px,#13fce4 331px,#00d4ff 334px,#0058ff 345px,#0058ff 427px,#00c8ff 440px,#00c8ff 470px)"></i><i style="left:123px;width:4px;background:linear-gradient(#0046ff,#0043ff 150px,#007bff 157px,#007bff 239px,#00defc 247px,#1bffdc 250px,#56ffa0 256px,#6aff8d 267px,#24ffd3 280px,#27ffd0 283px,#55ffa2 289px,#34ffc3 291px,#17f8e0 292px,#03daf9 293px,#006aff 296px,#0010ff 299px,#0000ff 300px,#0000c8 302px,#0000c4 303px,#0000fc 305px,#0006ff 306px,#00e0fb 315px,#16fee1 318px,#43ffb4 326px,#13fce4 331px,#00d4ff 334px,#0058ff 345px,#0058ff 427px,#00c8ff 440px,#00c8ff 470px)"></i><i style="left:126px;width:4px;background:linear-gradient(#004cff,#004cff 151px,#0066ff 157px,#0066ff 239px,#00d4ff 247px,#17ffe0 250px,#5bff9c 256px,#60ff97 265px,#5dff9a 268px,#1affdd 277px,#09f0ee 280px,#1afcdd 289px,#10f5e6 290px,#00c3ff 292px,#0006ff 299px,#0000fc 300px,#0000c4 302px,#0000c4 303px,#0000fa 305px,#0004ff 306px,#00d7ff 315px,#18ffdf 319px,#43ffb4 326px,#13fce4 331px,#00d4ff 334px,#0058ff 345px,#0058ff 427px,#00c8ff 440px,#00c8ff 470px)"></i><i style="left:129px;width:4px;background:linear-gradient(#004eff,#004eff 150px,#0070ff 157px,#0070ff 239px,#00d2ff 246px,#15fce2 249px,#64ff93 256px,#65ff91 267px,#1cffdb 276px,#00e2fa 280px,#00d6fd 289px,#0000ff 299px,#0000c4 302px,#0000c4 303px,#0000fa 305px,#0004ff 306px,#00d4ff 315px,#16ffe1 319px,#43ffb4 326px,#13fce4 331px,#00d4ff 334px,#0058ff 345px,#0058ff 427px,#00c8ff 440px,#00c8ff 470px)"></i><i style="left:132px;width:4px;background:linear-gradient(#0063ff,#0063ff 150px,#0098ff 157px,#0098ff 239px,#00c8ff 243px,#17fce0 247px,#78ff7f 256px,#74ff82 268px,#1fffd7 276px,#00dcfe 280px,#00aeff 289px,#0007ff 298px,#0000ff 299px,#0000c4 302px,#0000c4 303px,#0000fa 305px,#0018ff 307px,#00d4ff 315px,#16ffe1 319px,#43ffb4 326px,#13fce4 331px,#00d4ff 334px,#0058ff 345px,#0058ff 427px,#00c8ff 440px,#00c8ff 470px)"></i><i style="left:135px;width:4px;background:linear-gradient(#009aff,#009aff 150px,#00cefe 157px,#00d0fd 239px,#1dfdd9 244px,#8eff69 255px,#97ff60 266px,#91ff65 268px,#1affdd 277px,#00d7ff 280px,#0076ff 290px,#0007ff 297px,#0000f6 299px,#0000bf 302px,#0000c4 303px,#0000fa 305px,#0018ff 307px,#00d4ff 315px,#16ffe1 319px,#43ffb4 325px,#11fbe5 331px,#00d4ff 334px,#0058ff 345px,#0058ff 427px,#00c8ff 440px,#00c8ff 470px)"></i><i style="left:138px;width:4px;background:linear-gradient(#00d2ff,#02dcf8 1px,#02dcf8 148px,#00b7ff 151px,#00dcfc 154px,#13f9e4 157px,#1bfcdc 237px,#22fed5 240px,#b7ff40 256px,#c1ff36 267px,#9bff5c 270px,#21ffd6 277px,#00dffc 279px,#00ccff 280px,#0054ff 289px,#0000fd 297px,#0000bf 302px,#0000c4 303px,#0000fa 305px,#0004ff 306px,#00d4ff 315px,#1bfedc 321px,#33ffc4 325px,#0df4ea 330px,#00d6fe 333px,#0058ff 345px,#0058ff 427px,#00c8ff 440px,#00c8ff 470px)"></i><i style="left:141px;width:4px;background:linear-gradient(#00defd,#06ecf1 1px,#06ecf1 148px,#00c4ff 150px,#00c0ff 151px,#01e2fa 153px,#26ffd1 156px,#2cffca 209px,#43ffb4 236px,#4dffaa 240px,#dcff1b 255px,#f4ef06 267px,#e2fc15 269px,#abff4c 272px,#13fce4 278px,#00daff 279px,#0084ff 283px,#0024ff 289px,#0000fa 295px,#0000bc 302px,#0000c4 303px,#0000fa 305px,#0004ff 306px,#00d4ff 315px,#00dffc 316px,#03dcf9 326px,#0058ff 345px,#0058ff 427px,#00c8ff 440px,#00c8ff 470px)"></i><i style="left:144px;width:4px;background:linear-gradient(#00e3f9,#06ecf1 98px,#25ffd2 99px,#66ff90 100px,#88ff6f 101px,#88ff6f 133px,#66ff90 134px,#25ffd2 135px,#06ecf1 136px,#06ecf1 148px,#00d4ff 151px,#0ff8e7 153px,#3fffb8 157px,#3fffb8 209px,#6dff8a 238px,#74ff82 240px,#e3fe14 251px,#ffd700 256px,#ffaf00 267px,#ffd300 270px,#ecf50d 272px,#b7ff40 274px,#1fffd7 278px,#00daff 279px,#0096ff 281px,#003aff 285px,#0008ff 288px,#0000f3 290px,#0000bb 302px,#0000c4 303px,#0000fa 305px,#0004ff 306px,#00d4ff 315px,#00dcfe 316px,#00c8ff 326px,#0058ff 344px,#0058ff 427px,#00c8ff 440px,#00c8ff 470px)"></i><i style="left:147px;width:4px;background:linear-gradient(#02e8f4,#06ecf1 98px,#2cffca 99px,#80ff77 100px,#aaff4d 101px,#aaff4d 133px,#80ff77 134px,#2cffca 135px,#06ecf1 136px,#01e6f7 151px,#1bffdc 153px,#49ffad 157px,#49ffad 209px,#56ffa0 215px,#8fff67 239px,#dfff18 247px,#fbed01 250px,#ffae00 255px,#ff8800 267px,#ffa200 271px,#ffd100 273px,#f4f306 274px,#cdff2a 275px,#34ffc3 278px,#01e4f8 279px,#00aeff 280px,#0048ff 283px,#0016ff 285px,#0000f7 287px,#0000c5 290px,#0000b8 302px,#0000c4 303px,#0000fa 305px,#0000ff 306px,#00d2ff 315px,#00dbfe 316px,#00c8ff 326px,#0058ff 344px,#0058ff 427px,#00c8ff 440px,#00c8ff 470px)"></i><i style="left:150px;width:4px;background:linear-gradient(#02e8f4,#06ecf1 98px,#2cffca 99px,#80ff77 100px,#aaff4d 101px,#aaff4d 133px,#80ff77 134px,#2cffca 135px,#06ecf1 136px,#06ecf1 148px,#00e0fb 150px,#1fffd7 153px,#50ffa7 157px,#50ffa7 210px,#9cff5b 239px,#ecff0b 247px,#ffeb00 249px,#ff9b00 256px,#ff7e00 268px,#ff8400 271px,#ff9400 272px,#ffd700 274px,#e4ff13 275px,#3affbc 278px,#01e3f9 279px,#00a4ff 280px,#0030ff 283px,#0001ff 285px,#0000f3 286px,#0000b3 289px,#0000a8 291px,#0000b6 302px,#0000ff 306px,#00c8ff 315px,#00d3ff 316px,#00c8ff 326px,#0058ff 344px,#0058ff 427px,#00c8ff 440px,#00c8ff 470px)"></i><i style="left:153px;width:4px;background:linear-gradient(#02e7f5,#06ecf1 98px,#3ef9b9 101px,#3ef9b9 133px,#06ecf1 136px,#06ecf1 148px,#00defc 150px,#1affdd 153px,#4dffaa 157px,#4dffaa 209px,#96ff61 239px,#f5f405 250px,#ffc200 255px,#ffb600 261px,#ff9100 267px,#ff9800 270px,#ffbb00 272px,#eaf810 274px,#51ffa6 277px,#17f8e0 278px,#00baff 279px,#0057ff 281px,#0003ff 284px,#00009c 290px,#0000b2 302px,#0000ff 306px,#00b8ff 316px,#00c8ff 325px,#0058ff 344px,#0058ff 427px,#00c8ff 440px,#00c8ff 470px)"></i><i style="left:156px;width:4px;background:linear-gradient(#00c8fd,#02ccfa 26px,#02b3fa 60px,#02b3fa 148px,#009eff 150px,#00a4ff 151px,#04daf8 153px,#22ffd5 155px,#42ffb5 157px,#49ffad 214px,#7aff7d 239px,#ddfa1b 255px,#dff81a 261px,#f4de08 267px,#e3ef16 270px,#c2ff35 272px,#55ffa2 275px,#29f8ce 276px,#09d9f3 277px,#00a3ff 278px,#003cff 280px,#0000fa 283px,#000099 290px,#0000ab 302px,#0000fd 307px,#0088ff 316px,#00b2ff 325px,#0058ff 344px,#0058ff 427px,#00c8ff 440px,#00c8ff 470px)"></i><i style="left:159px;width:4px;background:linear-gradient(#0070ff,#0070ff 24px,#0027ff 46px,#000ef3 60px,#000ef3 150px,#001afd 151px,#00a7ff 154px,#02d8fa 155px,#1cfedb 156px,#31ffc6 157px,#2cffca 209px,#4effa9 239px,#81ff75 255px,#70ff87 261px,#77ff80 267px,#53ffa4 270px,#2cf1ce 272px,#0acdf2 274px,#0012ff 279px,#0003f7 280px,#000096 290px,#0000a2 302px,#0000fc 309px,#004bff 316px,#006cff 326px,#0058ff 343px,#0058ff 427px,#00c8ff 440px,#00c8ff 470px)"></i><i style="left:162px;width:4px;background:linear-gradient(#004fff,#004eff 25px,#0000ff 44px,#0000c2 60px,#0000c1 150px,#0000dd 151px,#000bff 152px,#03e4f7 156px,#15fae2 157px,#0befee 211px,#16f8e1 238px,#32ffc5 256px,#12efe8 260px,#02b4fa 268px,#0016ff 276px,#0000eb 278px,#0000c2 280px,#000096 292px,#00009c 302px,#0000fd 312px,#0058ff 326px,#0058ff 427px,#00b4ff 440px,#00b4ff 470px)"></i><i style="left:165px;width:4px;background:linear-gradient(#0063ff,#0063ff 25px,#001aff 47px,#0008f0 59px,#0000e2 150px,#0000f3 151px,#0014ff 152px,#00baff 156px,#00cefe 157px,#00abff 210px,#00b0ff 239px,#0bf3ec 255px,#00ceff 258px,#0043ff 267px,#0000f3 274px,#0000a4 280px,#000096 297px,#00009c 303px,#0000ff 315px,#0058ff 326px,#0058ff 428px,#006cff 439px,#006cff 470px)"></i><i style="left:168px;width:4px;background:linear-gradient(#009aff,#009aff 24px,#0074ff 58px,#0074ff 119px,#0027ff 150px,#0096ff 157px,#005eff 210px,#005eff 239px,#00e0fb 255px,#00d8ff 256px,#0010ff 266px,#0000f3 269px,#000099 280px,#000096 302px,#0000ff 316px,#0058ff 326px,#0058ff 470px)"></i><i style="left:171px;width:4px;background:linear-gradient(#00afff,#00aeff 119px,#004bff 150px,#006cff 157px,#0022ff 209px,#001fff 239px,#00d7ff 255px,#00d2ff 256px,#0006ff 265px,#0000f9 266px,#0000d1 268px,#000096 280px,#000096 302px,#0000ff 316px,#0058ff 326px,#0056ff 470px)"></i><i style="left:174px;width:4px;background:linear-gradient(#00b0ff,#00b0ff 120px,#004cff 150px,#0054ff 158px,#0004ff 210px,#0003ff 240px,#00ccff 255px,#00c8ff 256px,#0000ff 265px,#0000bf 268px,#00009b 278px,#000096 302px,#0000ff 316px,#0006ff 318px,#0058ff 326px,#0058ff 427px,#0033ff 440px,#0033ff 470px)"></i><i style="left:177px;width:4px;background:linear-gradient(#00acff,#00a6ff 119px,#0043ff 151px,#0048ff 161px,#0002ff 214px,#0000fa 240px,#0007ff 242px,#00b7ff 255px,#00b3ff 256px,#0002ff 264px,#0000f9 265px,#0000b8 268px,#000096 280px,#000096 302px,#0000ff 318px,#0058ff 326px,#0058ff 427px,#0003ff 440px,#0003ff 470px)"></i><i style="left:180px;width:4px;background:linear-gradient(#0088ff,#0088ff 24px,#004aff 59px,#004aff 119px,#0013ff 150px,#004cff 157px,#0000ff 228px,#0000e2 239px,#0000ff 242px,#0097ff 255px,#0094ff 256px,#0000ff 264px,#0000b9 268px,#00009b 280px,#00009c 303px,#0000d6 314px,#0002ff 319px,#0058ff 326px,#0058ff 427px,#0000ff 439px,#0000ff 470px)"></i><i style="left:183px;width:4px;background:linear-gradient(#0057ff,#0056ff 25px,#0010ff 43px,#0000f1 53px,#0000dc 59px,#0000dc 120px,#0000cd 150px,#0000f3 152px,#0001ff 153px,#004cff 157px,#0032ff 208px,#0000ff 228px,#0000d7 239px,#0000ff 243px,#0008ff 245px,#0076ff 255px,#0074ff 256px,#0004ff 263px,#0000ff 264px,#0000c5 268px,#0000a7 280px,#0000a7 302px,#0000d3 315px,#0000ff 319px,#0058ff 326px,#0058ff 427px,#0000ff 439px,#0000ff 470px)"></i><i style="left:186px;width:4px;background:linear-gradient(#004eff,#004cff 25px,#0000ff 43px,#0000fc 47px,#0000be 60px,#0000bc 129px,#0000bc 150px,#0000ff 153px,#004cff 157px,#0040ff 210px,#0002ff 227px,#0000dd 239px,#0000ff 243px,#0007ff 245px,#0068ff 255px,#0001ff 265px,#0000e5 268px,#0000cb 280px,#0000d6 312px,#0000dc 315px,#0000ff 318px,#0058ff 326px,#0058ff 427px,#0000ff 439px,#0000ff 470px)"></i><i style="left:189px;width:4px;background:linear-gradient(#0063ff,#0063ff 25px,#001aff 47px,#0008f0 59px,#0000e7 139px,#0000e2 150px,#0001fa 152px,#004cff 157px,#0048ff 209px,#0008ff 230px,#0000fa 240px,#000aff 243px,#0072ff 255px,#0012ff 268px,#0000fa 312px,#0008ff 318px,#0058ff 326px,#0058ff 427px,#0000ff 439px,#0000ff 470px)"></i><i style="left:192px;width:4px;background:linear-gradient(#009aff,#009aff 24px,#0074ff 58px,#0074ff 119px,#0027ff 150px,#004bff 157px,#004aff 209px,#0014ff 238px,#0014ff 240px,#008aff 256px,#0054ff 267px,#0047ff 303px,#0014ff 315px,#0058ff 326px,#0058ff 427px,#0000ff 439px,#0000ff 470px)"></i><i style="left:195px;width:4px;background:linear-gradient(#00afff,#00aeff 119px,#0047ff 151px,#0047ff 211px,#002fff 238px,#009eff 255px,#009fff 257px,#0087ff 268px,#0084ff 302px,#0034ff 315px,#0058ff 326px,#0058ff 427px,#0000ff 439px,#0000ff 470px)"></i><i style="left:198px;width:4px;background:linear-gradient(#00b0ff,#00b0ff 120px,#003eff 157px,#0037ff 232px,#003aff 240px,#00acff 256px,#00a7ff 302px,#0044ff 316px,#0058ff 326px,#0058ff 427px,#0000ff 439px,#0000ff 470px)"></i><i style="left:201px;width:4px;background:linear-gradient(#00a7ff,#00a6ff 119px,#0024ff 157px,#0023ff 239px,#00b0ff 256px,#00b8ff 302px,#004bff 316px,#0058ff 326px,#0058ff 427px,#0000ff 439px,#0000ff 470px)"></i><i style="left:204px;width:4px;background:linear-gradient(#0062ff,#0062ff 26px,#004aff 58px,#004aff 119px,#0003fd 157px,#0003fd 239px,#000cff 241px,#00b0ff 256px,#00b0ff 289px,#00c4ff 302px,#004cff 316px,#0058ff 326px,#0058ff 427px,#0000ff 439px,#0000ff 470px)"></i><i style="left:207px;width:4px;background:linear-gradient(#000bff,#0007ff 30px,#0000dc 59px,#0000dc 120px,#0000cd 148px,#0000dc 157px,#0000e3 239px,#0000ff 242px,#00a8ff 256px,#00b0ff 289px,#00ceff 302px,#004cff 316px,#0058ff 326px,#0058ff 427px,#0000ff 439px,#0000ff 470px)"></i><i style="left:210px;width:4px;background:linear-gradient(#0000ff,#0000ff 27px,#0000c1 60px,#0000c1 151px,#0000dd 239px,#0000ff 243px,#009bff 256px,#009bff 280px,#00cfff 302px,#004cff 316px,#0058ff 326px,#0058ff 427px,#0000ff 439px,#0000ff 470px)"></i><i style="left:213px;width:4px;background:linear-gradient(#0016ff,#0004f4 59px,#0004f4 150px,#0000cd 157px,#0000f7 206px,#0000fa 240px,#000eff 243px,#0083ff 256px,#0084ff 280px,#00b0ff 289px,#00c8ff 302px,#004cff 316px,#0058ff 326px,#0058ff 427px,#0000ff 439px,#0000ff 470px)"></i><i style="left:216px;width:4px;background:linear-gradient(#0040ff,#0038ff 150px,#0000fa 155px,#0000e2 158px,#0000ff 185px,#0016ff 210px,#0016ff 239px,#0068ff 256px,#0068ff 279px,#00b4ff 291px,#00beff 302px,#004cff 316px,#0058ff 326px,#0058ff 427px,#0000ff 439px,#0000ff 470px)"></i><i style="left:219px;width:4px;background:linear-gradient(#004bff,#004bff 150px,#0000ff 155px,#0000f0 157px,#0000ff 175px,#0030ff 209px,#0030ff 239px,#0058ff 256px,#0058ff 279px,#00acff 289px,#00b7ff 302px,#004cff 316px,#0058ff 326px,#0058ff 427px,#0000ff 439px,#0000ff 470px)"></i><i style="left:222px;width:4px;background:linear-gradient(#004cff,#004bff 150px,#0000ff 155px,#0000f0 157px,#0000ff 175px,#0030ff 209px,#0030ff 239px,#004eff 255px,#004eff 279px,#00acff 289px,#00b3ff 302px,#004cff 316px,#0058ff 326px,#0058ff 427px,#0000ff 439px,#0000ff 470px)"></i><i style="left:225px;width:4px;background:linear-gradient(#004cff,#0038ff 150px,#0000fa 155px,#0000e0 157px,#0000fd 185px,#0014ff 209px,#0014ff 239px,#004cff 256px,#004cff 279px,#00acff 289px,#00b0ff 302px,#004cff 316px,#0057ff 326px,#0050ff 427px,#0000ff 439px,#0000ff 470px)"></i><i style="left:228px;width:4px;background:linear-gradient(#004cff,#004cff 24px,#0016ff 59px,#000bff 133px,#0004f4 150px,#0000c8 157px,#0000f3 208px,#0000fa 241px,#000aff 245px,#004cff 256px,#004cff 279px,#00b0ff 290px,#00b0ff 302px,#004cff 316px,#0054ff 326px,#001eff 345px,#001eff 428px,#0000ff 439px,#0000ff 470px)"></i><i style="left:231px;width:4px;background:linear-gradient(#004cff,#004cff 24px,#0000ff 56px,#0000ff 121px,#0000ae 156px,#0000c4 239px,#0000ff 246px,#004cff 256px,#004cff 279px,#00acff 289px,#00b0ff 302px,#004cff 316px,#0054ff 326px,#000bff 345px,#000bff 470px)"></i><i style="left:234px;width:4px;background:linear-gradient(#0050ff,#004fff 25px,#0001ff 59px,#0000ff 121px,#0000c5 149px,#00009f 157px,#0000a7 239px,#0000ff 247px,#004cff 256px,#0050ff 280px,#00b0ff 290px,#00b0ff 302px,#004cff 316px,#007bff 345px,#007bff 470px)"></i><i style="left:237px;width:4px;background:linear-gradient(#0074ff,#0074ff 25px,#003fff 59px,#003fff 119px,#0013ff 139px,#0001f0 151px,#000099 157px,#00009b 239px,#0000ff 248px,#004cff 256px,#0050ff 280px,#00b0ff 290px,#00b0ff 302px,#0050ff 315px,#004cff 318px,#005aff 326px,#07dff5 345px,#07dff5 470px)"></i><i style="left:240px;width:4px;background:linear-gradient(#00a6ff,#0098ff 120px,#003aff 150px,#0000fd 153px,#000096 157px,#000096 239px,#0000ff 248px,#004cff 256px,#0050ff 280px,#00b0ff 290px,#00b0ff 302px,#004cff 316px,#0054ff 325px,#00c6fe 332px,#17efe2 335px,#49ffad 339px,#96ff61 345px,#96ff61 470px)"></i><i style="left:243px;width:4px;background:linear-gradient(#00b0ff,#00b0ff 119px,#004cff 150px,#0000ff 153px,#000096 157px,#000096 239px,#0000ff 248px,#004fff 256px,#0050ff 280px,#00b0ff 290px,#00b0ff 302px,#004cff 316px,#0054ff 325px,#00d4ff 331px,#16fde1 333px,#28ffcf 334px,#e9fd0e 345px,#e9fd0e 470px)"></i><i style="left:246px;width:4px;background:linear-gradient(#00b0ff,#00b0ff 119px,#004cff 150px,#0000ff 153px,#000096 157px,#000096 239px,#0000ff 247px,#005bff 256px,#004cff 266px,#0050ff 280px,#00b0ff 290px,#00b0ff 302px,#004cff 316px,#0054ff 325px,#06d3f6 335px,#51fea6 344px,#55ffa2 470px)"></i><i style="left:249px;width:4px;background:linear-gradient(#0098ff,#0093ff 119px,#003aff 150px,#0000fd 153px,#000096 157px,#000096 239px,#0000fd 246px,#000cff 248px,#0073ff 256px,#004cff 267px,#004cff 279px,#00b0ff 290px,#00b0ff 302px,#0050ff 315px,#004cff 318px,#0058ff 326px,#00c8ff 345px,#00c3ff 470px)"></i><i style="left:252px;width:4px;background:linear-gradient(#003fff,#003fff 25px,#0022fd 58px,#0022fd 119px,#0006f4 150px,#0000e5 152px,#000096 157px,#000096 239px,#0000fa 245px,#0000ff 246px,#008fff 255px,#004eff 267px,#004cff 279px,#00b0ff 290px,#00b0ff 302px,#004cff 316px,#0083ff 345px,#0083ff 427px,#004bff 440px,#004bff 470px)"></i><i style="left:255px;width:4px;background:linear-gradient(#0001ff,#0000fd 30px,#0000c8 59px,#0000c1 150px,#000096 157px,#000096 239px,#0000ff 245px,#00a4ff 255px,#00aaff 256px,#0050ff 267px,#004cff 279px,#00b0ff 290px,#00b0ff 302px,#004cff 316px,#0058ff 326px,#005aff 427px,#0003ff 439px,#0001ff 470px)"></i><i style="left:258px;width:4px;background:linear-gradient(#000bff,#0007ff 30px,#0000dc 59px,#0000d0 147px,#0000c8 151px,#000096 157px,#000096 239px,#0000ff 245px,#0004ff 246px,#008fff 254px,#00a4ff 256px,#004cff 268px,#004cff 279px,#00acff 289px,#00b0ff 302px,#004cff 316px,#0058ff 326px,#0058ff 427px,#0000ff 439px,#0000ff 470px)"></i><i style="left:261px;width:4px;background:linear-gradient(#0062ff,#0062ff 26px,#004aff 58px,#004aff 119px,#0013ff 150px,#0001f6 152px,#000096 157px,#000096 239px,#0000ff 246px,#0088ff 256px,#004cff 267px,#004cff 279px,#00acff 289px,#00b0ff 302px,#004cff 316px,#0058ff 326px,#0058ff 427px,#0000ff 439px,#0000ff 470px)"></i><i style="left:264px;width:4px;background:linear-gradient(#00a7ff,#00a6ff 119px,#0046ff 150px,#0000ff 153px,#000096 157px,#000096 239px,#0000ff 247px,#006aff 256px,#004cff 267px,#004cff 279px,#00acff 289px,#00b0ff 302px,#004cff 316px,#0058ff 326px,#0058ff 427px,#0000ff 439px,#0000ff 470px)"></i><i style="left:267px;width:4px;background:linear-gradient(#00b0ff,#00b0ff 120px,#004cff 150px,#0000ff 153px,#0000ed 154px,#0000a8 156px,#000096 157px,#000096 239px,#0000ff 248px,#0056ff 256px,#0050ff 280px,#00b0ff 290px,#00b0ff 302px,#004cff 316px,#0058ff 326px,#0058ff 427px,#0000ff 439px,#0000ff 470px)"></i><i style="left:270px;width:4px;background:linear-gradient(#00aeff,#00aeff 119px,#004bff 150px,#0000ff 153px,#000096 157px,#000096 239px,#0000ff 248px,#004eff 256px,#004cff 279px,#00acff 289px,#00b0ff 302px,#004cff 316px,#0058ff 326px,#0058ff 427px,#0000ff 439px,#0000ff 470px)"></i><i style="left:273px;width:4px;background:linear-gradient(#0082ff,#0074ff 119px,#002eff 148px,#0027ff 150px,#0007ff 152px,#0000f6 153px,#000096 157px,#000096 239px,#0000ff 248px,#004cff 256px,#004cff 279px,#00acff 289px,#00b0ff 302px,#004cff 316px,#0058ff 326px,#0058ff 427px,#0000ff 439px,#0000ff 470px)"></i><i style="left:276px;width:4px;background:linear-gradient(#001fff,#0008f1 58px,#0000e5 147px,#0000dc 151px,#000098 157px,#000098 239px,#0000ff 248px,#004fff 256px,#004cff 279px,#00acff 289px,#00b0ff 302px,#004cff 316px,#0058ff 326px,#0058ff 427px,#0000ff 439px,#0000ff 470px)"></i><i style="left:279px;width:4px;background:linear-gradient(#0000ff,#0000ff 26px,#0000be 59px,#0000bc 150px,#00009b 157px,#00009b 239px,#0000ff 247px,#005cff 256px,#004cff 279px,#00b0ff 290px,#00b0ff 302px,#004cff 316px,#0058ff 326px,#0058ff 427px,#0000ff 439px,#0000ff 470px)"></i><i style="left:282px;width:4px;background:linear-gradient(#0001ff,#0000fc 31px,#0000cd 59px,#0000c1 150px,#0000a1 157px,#0000a1 239px,#0000ff 246px,#0076ff 256px,#0074ff 268px,#004cff 279px,#00acff 289px,#00b0ff 302px,#004cff 316px,#0058ff 326px,#0058ff 427px,#0000ff 439px,#0000ff 470px)"></i><i style="left:285px;width:4px;background:linear-gradient(#0027ff,#0012ff 59px,#0012ff 120px,#0000f7 137px,#0000e4 150px,#0000a8 157px,#0000a8 239px,#0000ff 245px,#009cff 256px,#009cff 267px,#004fff 279px,#00acff 289px,#00b0ff 302px,#004cff 316px,#0058ff 326px,#0058ff 427px,#0000ff 439px,#0000ff 470px)"></i><i style="left:288px;width:4px;background:linear-gradient(#0046ff,#0043ff 119px,#0000ff 148px,#0000fd 150px,#0000b3 157px,#0000b3 239px,#0000ff 244px,#00b7ff 255px,#00bfff 267px,#0050ff 279px,#00acff 289px,#00b0ff 302px,#004cff 316px,#0058ff 326px,#0058ff 427px,#0000ff 439px,#0000ff 470px)"></i><i style="left:291px;width:4px;background:linear-gradient(#004cff,#004cff 119px,#0004ff 143px,#0000ff 150px,#0000c4 157px,#0000c5 239px,#0000ff 243px,#00d4ff 256px,#00d4ff 267px,#0050ff 279px,#00acff 289px,#00b0ff 302px,#004cff 316px,#0058ff 326px,#0058ff 427px,#0000ff 439px,#0000ff 470px)"></i><i style="left:294px;width:4px;background:linear-gradient(#004aff,#0048ff 119px,#0000ff 145px,#0000ff 150px,#0000e5 157px,#0000f3 240px,#0018ff 243px,#00d6ff 255px,#00dcfe 267px,#0050ff 279px,#00acff 289px,#00b0ff 302px,#004cff 316px,#0058ff 326px,#0058ff 427px,#0000ff 439px,#0000ff 470px)"></i><i style="left:297px;width:4px;background:linear-gradient(#0036ff,#0026ff 119px,#0000fa 143px,#0000f0 150px,#0012ff 157px,#001cff 233px,#0027ff 240px,#00e0fb 256px,#00e0fb 267px,#0050ff 279px,#00acff 289px,#00b0ff 302px,#004cff 316px,#0058ff 326px,#0058ff 427px,#0000ff 439px,#0000ff 470px)"></i><i style="left:300px;width:4px;background:linear-gradient(#0008ff,#0004ff 31px,#0000e2 59px,#0000e2 120px,#0000ca 148px,#0000ca 150px,#0000ff 153px,#0053ff 157px,#0053ff 211px,#006cff 239px,#00dcfe 255px,#00e0fb 267px,#0050ff 279px,#00acff 289px,#00b0ff 302px,#004cff 316px,#0058ff 326px,#0057ff 427px,#0000ff 439px,#0000ff 470px)"></i><i style="left:303px;width:4px;background:linear-gradient(#0000ff,#0000ff 25px,#0000bb 60px,#0000b8 150px,#0000f6 152px,#000cff 153px,#0077ff 156px,#0087ff 157px,#0087ff 209px,#00a8ff 240px,#00e0fb 256px,#00e0fb 267px,#0050ff 279px,#00acff 289px,#00b0ff 302px,#004cff 316px,#0046ff 427px,#0000ff 439px,#0000ff 470px)"></i><i style="left:306px;width:4px;background:linear-gradient(#0000ff,#0000ff 25px,#0000b6 60px,#0000b6 150px,#0000cd 151px,#0000fd 152px,#0017ff 153px,#0090ff 156px,#00a4ff 157px,#00a4ff 209px,#00bcff 237px,#00e0fb 256px,#00e0fb 267px,#0050ff 279px,#00acff 289px,#00b0ff 302px,#004cff 316px,#0054ff 326px,#000cff 345px,#0000ff 470px)"></i><i style="left:309px;width:4px;background:linear-gradient(#0000ff,#0000ff 25px,#0000b6 60px,#0000b6 150px,#0000ff 152px,#009aff 156px,#00afff 157px,#00b4ff 222px,#00bfff 239px,#00e0fb 256px,#00e0fb 267px,#0050ff 279px,#00acff 289px,#00b0ff 302px,#0050ff 315px,#0054ff 326px,#0000ff 344px,#0000ff 470px)"></i><i style="left:312px;width:4px;background:linear-gradient(#0000ff,#0000ff 25px,#0000b6 60px,#0000b6 150px,#0000ff 152px,#001cff 153px,#009cff 156px,#00b0ff 157px,#00baff 239px,#00e0fb 256px,#00e0fb 267px,#0050ff 279px,#00acff 289px,#00b0ff 302px,#0050ff 315px,#0054ff 326px,#0000ff 344px,#0000ff 470px)"></i><i style="left:315px;width:4px;background:linear-gradient(#0000ff,#0000ff 25px,#0000b6 60px,#0000b6 150px,#0000ff 152px,#001cff 153px,#009cff 156px,#00b0ff 157px,#00b8ff 240px,#00e0fb 256px,#00e0fb 267px,#0050ff 279px,#00acff 289px,#00b0ff 302px,#0050ff 315px,#0054ff 326px,#0000ff 344px,#0000ff 470px)"></i><i style="left:318px;width:4px;background:linear-gradient(#0000ff,#0000ff 25px,#0000b6 60px,#0000b6 150px,#0000ff 152px,#001cff 153px,#009cff 156px,#00b0ff 157px,#00bcff 239px,#00e0fb 256px,#00e0fb 267px,#0050ff 279px,#00acff 289px,#00b0ff 302px,#0050ff 315px,#0054ff 326px,#0000ff 344px,#0000ff 470px)"></i><i style="left:321px;width:4px;background:linear-gradient(#0000ff,#0000ff 25px,#0000b6 60px,#0000b6 150px,#0000ff 152px,#001cff 153px,#009cff 156px,#00b0ff 157px,#00c6ff 239px,#00dffc 256px,#00dffc 267px,#0050ff 279px,#00acff 289px,#00b0ff 302px,#0050ff 315px,#0054ff 326px,#0000ff 344px,#0000ff 470px)"></i><i style="left:324px;width:4px;background:linear-gradient(#0000ff,#0000ff 25px,#0000b6 60px,#0000b6 150px,#0000ff 152px,#001cff 153px,#009cff 156px,#00b3ff 158px,#00dcfe 253px,#00d7ff 268px,#0050ff 279px,#00acff 289px,#00b0ff 302px,#0050ff 315px,#0054ff 326px,#0000ff 344px,#0000ff 470px)"></i><i style="left:327px;width:4px;background:linear-gradient(#0000ff,#0000ff 25px,#0000bb 60px,#0000b8 148px,#0000b8 150px,#0000ff 152px,#001cff 153px,#009cff 156px,#00b4ff 158px,#00daff 236px,#00d7ff 267px,#0050ff 279px,#00acff 289px,#00b0ff 302px,#0050ff 315px,#0054ff 326px,#0000ff 344px,#0000ff 470px)"></i><i style="left:330px;width:4px;background:linear-gradient(#0008ff,#0004ff 31px,#0000e2 59px,#0000e2 120px,#0000ca 148px,#0000ca 150px,#0000df 151px,#0001ff 152px,#009cff 156px,#00b0ff 157px,#00dcfe 242px,#00ccff 267px,#0050ff 279px,#00acff 289px,#00b0ff 302px,#0050ff 315px,#0054ff 326px,#0000ff 344px,#0000ff 470px)"></i><i style="left:333px;width:4px;background:linear-gradient(#0036ff,#0026ff 119px,#0004ff 137px,#0000f0 149px,#0000fc 151px,#0014ff 152px,#00a0ff 156px,#00b0ff 157px,#00c0ff 210px,#00dcfe 241px,#00c0ff 256px,#00c0ff 267px,#0050ff 279px,#00acff 289px,#00b0ff 302px,#0050ff 315px,#0054ff 326px,#0000ff 344px,#0000ff 470px)"></i><i style="left:336px;width:4px;background:linear-gradient(#004aff,#0048ff 119px,#0002ff 144px,#0000ff 151px,#009fff 156px,#00afff 157px,#00b4ff 210px,#00dbfe 239px,#00b4ff 256px,#00b4ff 267px,#004eff 279px,#00acff 289px,#00b0ff 302px,#0050ff 315px,#0054ff 326px,#0000ff 344px,#0000ff 470px)"></i><i style="left:339px;width:4px;background:linear-gradient(#004cff,#004cff 119px,#0004ff 143px,#0000ff 151px,#0093ff 156px,#00a3ff 157px,#00a4ff 210px,#00ccff 240px,#00a4ff 256px,#00a4ff 267px,#0048ff 279px,#00acff 289px,#00b0ff 302px,#0050ff 315px,#0054ff 326px,#0000ff 344px,#0000ff 470px)"></i><i style="left:342px;width:4px;background:linear-gradient(#0046ff,#0043ff 119px,#0004ff 142px,#0000ff 151px,#0087ff 157px,#0087ff 210px,#00aaff 239px,#0087ff 256px,#0084ff 268px,#003bff 279px,#00acff 289px,#00b0ff 302px,#0050ff 315px,#0054ff 326px,#0000ff 344px,#0000ff 470px)"></i><i style="left:345px;width:4px;background:linear-gradient(#0027ff,#0012ff 59px,#0012ff 120px,#0000e4 149px,#0000ed 151px,#000eff 153px,#0058ff 157px,#0058ff 210px,#0070ff 240px,#0057ff 268px,#0024ff 279px,#00abff 289px,#00b0ff 302px,#0050ff 315px,#0054ff 326px,#0000ff 344px,#0000ff 470px)"></i><i style="left:348px;width:4px;background:linear-gradient(#0001ff,#0000fd 30px,#0000cd 59px,#0000c1 147px,#0000c1 150px,#0000f3 153px,#000bff 155px,#0024ff 157px,#0030ff 235px,#0028ff 267px,#000cff 279px,#00b0ff 290px,#00b0ff 302px,#0050ff 315px,#0054ff 326px,#0000ff 344px,#0000ff 470px)"></i><i style="left:351px;width:4px;background:linear-gradient(#0000ff,#0000ff 26px,#0000c1 59px,#0000bc 150px,#0000f6 155px,#0001fd 157px,#0000ff 279px,#0004ff 280px,#00b0ff 290px,#00b0ff 302px,#0050ff 315px,#0054ff 326px,#0000ff 344px,#0000ff 470px)"></i><i style="left:354px;width:4px;background:linear-gradient(#0016ff,#0004f4 120px,#0000d6 149px,#0000e3 156px,#0000e5 237px,#0000ff 254px,#0000ff 280px,#00a8ff 289px,#00b0ff 302px,#0050ff 315px,#0054ff 326px,#0000ff 344px,#0000ff 470px)"></i><i style="left:357px;width:4px;background:linear-gradient(#0040ff,#0038ff 119px,#0000ff 145px,#0000f9 150px,#0000ce 157px,#0000ce 240px,#0000ff 255px,#0000ff 280px,#00a8ff 289px,#00b0ff 302px,#0050ff 315px,#0054ff 326px,#0000ff 344px,#0000ff 470px)"></i><i style="left:360px;width:4px;background:linear-gradient(#004bff,#004bff 119px,#0004ff 143px,#0000ff 150px,#0000bf 157px,#0000bf 239px,#0000fd 255px,#0000ff 280px,#00a8ff 289px,#00b0ff 302px,#0050ff 315px,#0054ff 326px,#0000ff 344px,#0000ff 470px)"></i><i style="left:363px;width:4px;background:linear-gradient(#004bff,#004bff 119px,#0004ff 143px,#0000ff 150px,#0000bb 157px,#0000bb 240px,#0000ff 256px,#0000ff 280px,#00a8ff 289px,#00b0ff 302px,#0050ff 315px,#0054ff 326px,#0000ff 344px,#0000ff 470px)"></i><i style="left:366px;width:4px;background:linear-gradient(#0040ff,#0038ff 119px,#0000ff 145px,#0000f9 150px,#0000b9 157px,#0000b8 221px,#0000b8 239px,#0000ff 256px,#0000ff 280px,#00a8ff 289px,#00b0ff 302px,#0050ff 315px,#0054ff 326px,#0000ff 344px,#0000ff 470px)"></i><i style="left:369px;width:4px;background:linear-gradient(#0016ff,#0004f4 120px,#0000dc 146px,#0000be 157px,#0000bb 237px,#0000fd 256px,#0000ff 280px,#00a8ff 289px,#00b0ff 302px,#004cff 315px,#0054ff 326px,#0000ff 344px,#0000ff 470px)"></i><i style="left:372px;width:4px;background:linear-gradient(#0000ff,#0000ff 26px,#0000c1 59px,#0000bc 151px,#0000d3 157px,#0000c5 239px,#0000f9 256px,#0000ff 280px,#00b0ff 290px,#00b0ff 302px,#0048ff 315px,#004eff 326px,#0000ff 343px,#0000ff 470px)"></i><i style="left:375px;width:4px;background:linear-gradient(#0001ff,#0000fd 29px,#0000c7 59px,#0000c1 148px,#0000c7 151px,#0003f9 157px,#0001f9 213px,#0000df 242px,#0000ee 279px,#0000fa 280px,#0002ff 281px,#00a8ff 289px,#00b0ff 302px,#0036ff 316px,#0000f4 338px,#0000dc 345px,#0000dc 427px,#0000ff 437px,#0000ff 470px)"></i><i style="left:378px;width:4px;background:linear-gradient(#003fff,#003fff 25px,#0022fd 58px,#0022fd 119px,#0006f4 149px,#000bfc 152px,#003bff 157px,#003bff 209px,#0000fc 243px,#0000dd 256px,#0000dd 279px,#0000ff 281px,#00a7ff 289px,#00b0ff 290px,#00b0ff 302px,#0020ff 316px,#0000ff 325px,#0000fc 330px,#0000bf 345px,#0000bf 427px,#0000ff 438px,#0000ff 470px)"></i><i style="left:381px;width:4px;background:linear-gradient(#0098ff,#0093ff 119px,#003aff 150px,#0087ff 157px,#0087ff 209px,#0002ff 245px,#0000fd 248px,#0000cd 256px,#0000cd 279px,#0000f6 281px,#0002ff 282px,#00b0ff 290px,#00b0ff 302px,#0012ff 315px,#0002ff 321px,#0000ff 329px,#0000bf 344px,#0000bf 428px,#0000ff 438px,#0000ff 470px)"></i><i style="left:384px;width:4px;background:linear-gradient(#00b0ff,#00b0ff 119px,#004cff 150px,#00bcff 157px,#00bcff 209px,#0040ff 239px,#0000ff 248px,#0000bf 256px,#0000bf 279px,#0000ff 282px,#00a4ff 289px,#00b0ff 290px,#00b0ff 302px,#0002ff 315px,#0000ff 316px,#0000ff 329px,#0000bf 344px,#0000bf 428px,#0000ff 438px,#0000ff 470px)"></i><i style="left:387px;width:4px;background:linear-gradient(#00b0ff,#00b0ff 119px,#004cff 150px,#0056ff 151px,#00d6ff 157px,#00d6ff 209px,#0054ff 239px,#0000ff 248px,#0000bb 256px,#0000bb 279px,#0000ff 282px,#000cff 283px,#00a4ff 289px,#00b0ff 290px,#00b0ff 302px,#0000ff 315px,#0000ff 329px,#0000bf 344px,#0000bf 428px,#0000ff 438px,#0000ff 470px)"></i><i style="left:390px;width:4px;background:linear-gradient(#0098ff,#0093ff 119px,#003aff 150px,#0046ff 151px,#00d0ff 156px,#00defd 157px,#00defd 209px,#006aff 239px,#0000ff 249px,#0000b6 256px,#0000b6 279px,#0000ff 282px,#000cff 283px,#00a4ff 289px,#00b0ff 290px,#00b0ff 302px,#0000ff 315px,#0000ff 329px,#0000bf 344px,#0000bf 428px,#0000ff 438px,#0000ff 470px)"></i><i style="left:393px;width:4px;background:linear-gradient(#003fff,#003fff 25px,#0022fd 58px,#0022fd 119px,#0006f4 150px,#000cfc 151px,#00cbff 156px,#00e0fb 157px,#00e0fb 209px,#0084ff 239px,#0000ff 250px,#0000b6 256px,#0000b6 279px,#0000ff 282px,#000cff 283px,#00a4ff 289px,#00b0ff 290px,#00b0ff 302px,#0000ff 315px,#0000ff 329px,#0000bf 344px,#0000bf 428px,#0000ff 438px,#0000ff 470px)"></i><i style="left:396px;width:4px;background:linear-gradient(#0001ff,#0000fd 29px,#0000c7 60px,#0000c1 150px,#0000dc 151px,#0003ff 152px,#00c7ff 156px,#00e0fb 157px,#00e0fb 209px,#009cff 239px,#0002ff 250px,#0000ff 251px,#0000b6 256px,#0000b6 279px,#0000ff 282px,#000cff 283px,#00a4ff 289px,#00b0ff 290px,#00b0ff 302px,#0000ff 315px,#0000ff 329px,#0000bf 344px,#0000bf 428px,#0000ff 438px,#0000ff 470px)"></i><i style="left:399px;width:4px;background:linear-gradient(#0001ff,#0000fd 30px,#0000cd 59px,#0000c1 150px,#0000dc 151px,#0003ff 152px,#00c7ff 156px,#00e0fb 157px,#00e0fb 209px,#00abff 239px,#0000ff 251px,#0000b6 256px,#0000b6 279px,#0000ff 282px,#000cff 283px,#00a4ff 289px,#00b0ff 290px,#00b0ff 302px,#0000ff 315px,#0000ff 329px,#0000bf 344px,#0000bf 427px,#0000ff 438px,#0000ff 470px)"></i><i style="left:402px;width:4px;background:linear-gradient(#0027ff,#0012ff 59px,#0012ff 120px,#0000e4 149px,#0000f7 151px,#0018ff 152px,#00c8ff 156px,#00e0fb 157px,#00e0fb 209px,#00b0ff 239px,#0000ff 251px,#0000b6 256px,#0000b6 279px,#0000ff 282px,#000cff 283px,#00a4ff 289px,#00b0ff 290px,#00b0ff 302px,#0000ff 315px,#0000ff 329px,#0000d3 345px,#0000d3 427px,#0006ff 437px,#000bff 470px)"></i><i style="left:405px;width:4px;background:linear-gradient(#0046ff,#0043ff 119px,#0004ff 142px,#0000fd 150px,#0002ff 151px,#00ccff 156px,#00e0fb 157px,#00e0fb 209px,#00b4ff 238px,#00a8ff 240px,#0000ff 251px,#0000b6 256px,#0000b6 279px,#0000ff 282px,#000cff 283px,#00a4ff 289px,#00b0ff 290px,#00b0ff 302px,#0000ff 315px,#0000ff 326px,#0060ff 345px,#0060ff 428px,#007aff 440px,#007aff 470px)"></i><i style="left:408px;width:4px;background:linear-gradient(#004cff,#004cff 119px,#0004ff 143px,#0000ff 150px,#0004ff 151px,#00ccff 156px,#00e0fb 157px,#00e0fb 209px,#00b0ff 239px,#0000ff 251px,#0000b6 256px,#0000b6 279px,#0000ff 282px,#000cff 283px,#00a4ff 289px,#00b0ff 290px,#00b0ff 302px,#0000ff 315px,#0000ff 325px,#00c4ff 345px,#00c6ff 470px)"></i><i style="left:411px;width:4px;background:linear-gradient(#004aff,#0048ff 119px,#0002ff 144px,#0000ff 150px,#0003ff 151px,#00ccff 156px,#00e0fb 157px,#00e0fb 209px,#00b0ff 239px,#0000ff 251px,#0000b6 256px,#0000b6 279px,#0000ff 282px,#000cff 283px,#00a4ff 289px,#00b0ff 290px,#00b0ff 302px,#0000ff 315px,#0000ff 325px,#00c8ff 345px,#00c8ff 470px)"></i><i style="left:414px;width:4px;background:linear-gradient(#0036ff,#0026ff 119px,#0004ff 137px,#0000f0 149px,#0000fd 151px,#00c8ff 156px,#00dffc 157px,#00dffc 209px,#00b4ff 238px,#00a8ff 240px,#0000ff 251px,#0000b6 256px,#0000b6 279px,#0000ff 282px,#000cff 283px,#00a4ff 289px,#00b0ff 290px,#00b0ff 302px,#0000ff 315px,#0000ff 326px,#0096ff 345px,#00a2ff 470px)"></i><i style="left:417px;width:4px;background:linear-gradient(#0008ff,#0004ff 31px,#0000e2 59px,#0000e2 120px,#0000ca 148px,#0000ca 150px,#0000e3 151px,#0008ff 152px,#00c3ff 156px,#00dbfe 157px,#00dbfe 209px,#00afff 239px,#0000ff 251px,#0000b6 256px,#0000b6 279px,#0000ff 282px,#000cff 283px,#00a4ff 289px,#00b0ff 290px,#00b0ff 302px,#0000ff 315px,#0001ff 330px,#000aea 345px,#000aed 428px,#0026ff 440px,#0026ff 470px)"></i><i style="left:420px;width:4px;background:linear-gradient(#0000ff,#0000ff 26px,#0000bc 59px,#0000bb 150px,#0000ff 152px,#00b7ff 156px,#00cfff 157px,#00cfff 209px,#00a7ff 239px,#0000ff 251px,#0000b6 256px,#0000b6 279px,#0000ff 282px,#000cff 283px,#00a4ff 289px,#00b0ff 290px,#00b0ff 302px,#0000ff 315px,#0000ff 326px,#004ff7 345px,#0262f4 424px,#0f87ed 440px,#0f87ed 470px)"></i><i style="left:423px;width:4px;background:linear-gradient(#0001ff,#0000fc 31px,#0000cd 59px,#0000c1 147px,#0000c1 150px,#0000ff 152px,#009fff 156px,#00b4ff 157px,#00b4ff 209px,#0094ff 239px,#000cff 249px,#0000ff 251px,#0000b6 256px,#0000b6 279px,#0000ff 282px,#000cff 283px,#00a4ff 289px,#00b0ff 290px,#00b0ff 302px,#0000ff 315px,#0000ff 325px,#0008ff 326px,#00b0ff 332px,#12e0e8 334px,#5cff9b 338px,#b5f844 342px,#d6d626 345px,#e99713 427px,#f1930c 470px)"></i><i style="left:426px;width:4px;background:linear-gradient(#0027ff,#0012ff 59px,#0012ff 120px,#0000e4 149px,#0000f4 151px,#0004ff 152px,#007fff 156px,#008fff 157px,#008fff 209px,#007aff 239px,#0000ff 250px,#0000b6 256px,#0000b6 279px,#0000ff 282px,#000cff 283px,#00a4ff 289px,#00b0ff 290px,#00b0ff 302px,#0000ff 315px,#0000ff 325px,#000cff 326px,#00dffc 332px,#18ffdf 333px,#ddff1a 340px,#faf200 341px,#ff9200 344px,#ff8100 345px,#ff1900 425px,#ff1600 470px)"></i><i style="left:429px;width:4px;background:linear-gradient(#0046ff,#0043ff 119px,#0004ff 142px,#0000ff 151px,#006cff 157px,#006aff 216px,#0060ff 239px,#0000ff 249px,#0000b6 256px,#0000b6 279px,#0000ff 282px,#000cff 283px,#00a4ff 289px,#00b0ff 290px,#00b0ff 302px,#0000ff 315px,#0000ff 325px,#000cff 326px,#00bcff 331px,#00e0fb 332px,#18ffdf 333px,#ddff1a 340px,#faf200 341px,#ff9200 344px,#ff7f00 345px,#ff7c00 347px,#ff1400 428px,#ff1400 470px)"></i><i style="left:432px;width:4px;background:linear-gradient(#004cff,#004cff 119px,#0004ff 143px,#0000ff 151px,#0056ff 157px,#004fff 239px,#0004ff 247px,#0000ff 249px,#0000b6 256px,#0000b6 279px,#0000ff 282px,#000cff 283px,#00a4ff 289px,#00b0ff 290px,#00b0ff 302px,#0000ff 315px,#0000ff 325px,#000bff 326px,#00c2ff 332px,#18f4e1 334px,#46ffb1 336px,#c2ff35 341px,#e7e415 343px,#f2c50a 345px,#ff5200 438px,#ff5000 470px)"></i><i style="left:435px;width:4px;background:linear-gradient(#004aff,#0048ff 119px,#0000ff 146px,#0000ff 151px,#004eff 157px,#003fff 239px,#0000ff 248px,#0000b6 256px,#0000b6 279px,#0000ff 282px,#000cff 283px,#00a4ff 289px,#00b0ff 290px,#00b0ff 302px,#0000ff 315px,#0000ff 325px,#0003ff 326px,#00aefe 337px,#24edd5 343px,#32f4c7 345px,#8bff6c 427px,#d3f426 440px,#d3f426 470px)"></i><i style="left:438px;width:4px;background:linear-gradient(#0036ff,#0026ff 119px,#0004ff 137px,#0000f7 151px,#000bff 153px,#004aff 157px,#0028ff 208px,#0028ff 239px,#0000ff 246px,#0000b6 256px,#0000b6 279px,#0000ff 282px,#000cff 283px,#00a4ff 289px,#00b0ff 290px,#00b0ff 302px,#0000ff 315px,#0000ff 326px,#009aff 346px,#1ae4df 426px,#62ff95 440px,#62ff95 470px)"></i><i style="left:441px;width:4px;background:linear-gradient(#0008ff,#0004ff 31px,#0000e2 59px,#0000e2 120px,#0000ca 148px,#0000ca 150px,#0000ff 153px,#0038ff 156px,#0040ff 159px,#000eff 209px,#000eff 239px,#0000ff 243px,#0000b6 256px,#0000b6 279px,#0000ff 282px,#000cff 283px,#00a4ff 289px,#00b0ff 290px,#00b0ff 302px,#0000ff 315px,#0001fd 331px,#000ae8 344px,#0017f0 427px,#004fff 440px,#004fff 470px)"></i><i style="left:444px;width:4px;background:linear-gradient(#0000ff,#0000ff 26px,#0000be 59px,#0000bb 133px,#0000bb 150px,#0000ff 154px,#002eff 157px,#0003ff 196px,#0000fa 239px,#0000b6 256px,#0000b6 279px,#0000ff 282px,#000cff 283px,#00a4ff 289px,#00b0ff 290px,#00b0ff 302px,#0000ff 315px,#0000ff 329px,#0000bf 345px,#0000c1 427px,#0000ff 438px,#0000ff 470px)"></i><i style="left:447px;width:4px;background:linear-gradient(#0008ff,#0004ff 31px,#0000e2 59px,#0000e2 120px,#0000ca 148px,#0000d0 151px,#0000fd 155px,#0004ff 167px,#0000dd 209px,#0000dd 239px,#0000b6 256px,#0000b6 279px,#0000ff 282px,#000cff 283px,#00a4ff 289px,#00b0ff 290px,#00b0ff 302px,#0000ff 315px,#0000ff 329px,#0000bf 344px,#0000bf 428px,#0000ff 438px,#0000ff 470px)"></i><i style="left:450px;width:4px;background:linear-gradient(#0036ff,#0026ff 119px,#0004ff 137px,#0000bf 207px,#0000b6 255px,#0000b6 279px,#0000ff 282px,#000cff 283px,#00a4ff 289px,#00b0ff 290px,#00b0ff 302px,#0000ff 315px,#0000ff 329px,#0000bf 344px,#0000bf 428px,#0000ff 438px,#0000ff 470px)"></i><i style="left:453px;width:4px;background:linear-gradient(#004aff,#0048ff 119px,#0002ff 144px,#0000ff 150px,#0000b8 157px,#0000a8 207px,#0000b6 279px,#0000ff 282px,#000cff 283px,#00a4ff 289px,#00b0ff 290px,#00b0ff 302px,#0000ff 315px,#0000ff 329px,#0000bf 344px,#0000bf 428px,#0000ff 438px,#0000ff 470px)"></i><i style="left:456px;width:4px;background:linear-gradient(#004cff,#004cff 119px,#0004ff 143px,#0000ff 150px,#0000a1 157px,#00009c 198px,#00009c 240px,#0000b6 254px,#0000b6 279px,#0000ff 282px,#000cff 283px,#00a4ff 289px,#00b0ff 290px,#00b0ff 302px,#0000ff 315px,#0000ff 329px,#0000bf 344px,#0000bf 428px,#0000ff 438px,#0000ff 470px)"></i><i style="left:459px;width:4px;background:linear-gradient(#0046ff,#0043ff 119px,#0000ff 148px,#0000f4 151px,#000099 157px,#000098 183px,#000098 239px,#0000b6 254px,#0000b6 279px,#0000ff 282px,#000cff 283px,#00a4ff 289px,#00b0ff 290px,#00b0ff 302px,#0000ff 315px,#0000ff 329px,#0000bf 344px,#0000bf 428px,#0000ff 438px,#0000ff 470px)"></i><i style="left:462px;width:4px;background:linear-gradient(#0027ff,#0012ff 59px,#0012ff 120px,#0000f7 137px,#0000e4 150px,#000096 157px,#000096 240px,#0000b6 254px,#0000b6 279px,#0000ff 282px,#000cff 283px,#00a4ff 289px,#00b0ff 290px,#00b0ff 302px,#0000ff 315px,#0000ff 329px,#0000bf 344px,#0000bf 428px,#0000ff 438px,#0000ff 470px)"></i><i style="left:465px;width:4px;background:linear-gradient(#0001ff,#0000fc 31px,#0000cd 59px,#0000c1 150px,#000096 157px,#000096 240px,#0000b6 254px,#0000b6 279px,#0000ff 282px,#000cff 283px,#00a4ff 289px,#00b0ff 290px,#00b0ff 302px,#0000ff 315px,#0000ff 329px,#0000c4 345px,#0000c4 427px,#0000ff 438px,#0001ff 470px)"></i><i style="left:468px;width:4px;background:linear-gradient(#0000ff,#0000ff 26px,#0000bb 59px,#0000b8 148px,#000096 157px,#000096 240px,#0000b6 254px,#0000b6 279px,#0000ff 282px,#000cff 283px,#00a4ff 289px,#00b0ff 290px,#00b0ff 302px,#0000ff 315px,#0000ff 326px,#002bf9 345px,#002bfa 428px,#004bff 440px,#004bff 470px)"></i><i style="left:471px;width:4px;background:linear-gradient(#0008ff,#0000fc 34px,#0000ca 59px,#0000bc 144px,#0000b6 151px,#000096 157px,#000096 240px,#0000b6 254px,#0000b6 279px,#0000ff 282px,#000cff 283px,#00a4ff 289px,#00b0ff 290px,#00b0ff 302px,#0000ff 315px,#0000ff 325px,#00b3ff 345px,#00b8ff 470px)"></i><i style="left:474px;width:4px;background:linear-gradient(#0036ff,#0036ff 24px,#0000fd 50px,#0000ed 60px,#0000ed 120px,#0000b6 151px,#000096 157px,#000096 240px,#0000b6 254px,#0000b6 279px,#0000ff 282px,#000cff 283px,#00a4ff 289px,#00b0ff 290px,#00b0ff 302px,#0000ff 315px,#0000ff 326px,#0060ff 345px,#0060ff 428px,#007aff 440px,#007aff 470px)"></i><i style="left:477px;width:4px;background:linear-gradient(#004aff,#0048ff 25px,#0000ff 53px,#0000fd 120px,#0000bb 150px,#000096 157px,#000096 240px,#0000b6 254px,#0000b6 279px,#0000ff 282px,#000cff 283px,#00a4ff 289px,#00b0ff 290px,#00b0ff 302px,#0000ff 315px,#0000ff 329px,#0000d3 345px,#0000d3 427px,#0006ff 437px,#000bff 470px)"></i><i style="left:480px;width:4px;background:linear-gradient(#004cff,#004cff 24px,#0000ff 53px,#0000ff 120px,#0000bb 150px,#000096 157px,#000096 240px,#0000b6 254px,#0000b6 279px,#0000ff 282px,#000cff 283px,#00a4ff 289px,#00b0ff 290px,#00b0ff 302px,#0000ff 315px,#0000ff 329px,#0000bf 344px,#0000bf 427px,#0000ff 438px,#0000ff 470px)"></i><i style="left:483px;width:4px;background:linear-gradient(#0046ff,#0046ff 25px,#0000ff 53px,#0000fa 120px,#0000bb 150px,#000098 157px,#000098 239px,#0000b6 254px,#0000b6 279px,#0000ff 282px,#000cff 283px,#00a4ff 289px,#00b0ff 290px,#00b0ff 302px,#0000ff 315px,#0000ff 329px,#0000bf 344px,#0000bf 428px,#0000ff 438px,#0000ff 470px)"></i><i style="left:486px;width:4px;background:linear-gradient(#0027ff,#0027ff 24px,#0000fa 47px,#0000e2 60px,#0000e2 119px,#0000bb 149px,#00009f 156px,#00009f 240px,#0000bb 256px,#0000b6 279px,#0000ff 282px,#000cff 283px,#00a4ff 289px,#00b0ff 290px,#00b0ff 302px,#0000ff 315px,#0000ff 329px,#0000bf 344px,#0000bf 428px,#0000ff 438px,#0000ff 470px)"></i><i style="left:489px;width:4px;background:linear-gradient(#0001ff,#0000fd 29px,#0000c1 59px,#0000b3 156px,#0000b3 240px,#0000c5 256px,#0000b6 279px,#0000ff 282px,#000cff 283px,#00a4ff 289px,#00b0ff 290px,#00b0ff 302px,#0000ff 315px,#0000ff 329px,#0000bf 344px,#0000bf 428px,#0000ff 438px,#0000ff 470px)"></i><i style="left:492px;width:4px;background:linear-gradient(#0000ff,#0000ff 26px,#0000bc 59px,#0000bb 147px,#0000bf 151px,#0000e8 157px,#0000e8 243px,#0000dd 267px,#0000bb 279px,#0000ff 282px,#000cff 283px,#00a4ff 289px,#00b0ff 290px,#00b0ff 302px,#0000ff 315px,#0000ff 329px,#0000bf 344px,#0000bf 428px,#0000ff 438px,#0000ff 470px)"></i><i style="left:495px;width:4px;background:linear-gradient(#0016ff,#0016ff 24px,#0006ff 35px,#0000d6 59px,#0000d6 150px,#0000f0 152px,#002cff 157px,#002cff 239px,#0006ff 253px,#0000fc 268px,#0000bb 279px,#0000ff 282px,#000cff 283px,#00a4ff 289px,#00b0ff 290px,#00b0ff 302px,#0000ff 315px,#0000ff 329px,#0000c1 345px,#0000c1 427px,#0000ff 438px,#0000ff 470px)"></i><i style="left:498px;width:4px;background:linear-gradient(#0176fb,#107dec 1px,#107dec 24px,#004cf6 58px,#003ef6 60px,#003ff6 78px,#000bf6 80px,#0000f4 81px,#0000fd 151px,#007fff 157px,#007fff 239px,#0020ff 255px,#001fff 267px,#0000fd 272px,#0000be 279px,#0000c8 280px,#0000ff 282px,#000cff 283px,#00a4ff 289px,#00b0ff 290px,#00b0ff 302px,#0000ff 315px,#000af3 344px,#0000ff 470px)"></i><i style="left:501px;width:4px;background:linear-gradient(#f3ce09,#ff3e00 1px,#ff4300 58px,#f4ce08 59px,#e7f314 60px,#fba401 61px,#fba401 78px,#bcff3a 79px,#0090ff 80px,#0000ff 81px,#0000ff 151px,#00a8ff 156px,#00bbff 157px,#00bbff 239px,#003eff 255px,#003aff 267px,#0000ff 273px,#0000f6 275px,#0000c4 279px,#0000cb 280px,#0000ff 282px,#00a4ff 289px,#00b0ff 290px,#00b0ff 302px,#0000ff 315px,#0002ff 327px,#004bff 345px,#004bff 427px,#0000ff 439px,#0000ff 470px)"></i><i style="left:504px;width:4px;background:linear-gradient(#ffb600,#ff1300 1px,#ff1300 58px,#ffb600 59px,#feed00 60px,#ff7a00 61px,#ff7a00 78px,#d7ff1f 79px,#009cff 80px,#0000ff 81px,#0000ff 150px,#0004ff 151px,#00c2ff 156px,#00d4ff 157px,#00d4ff 239px,#004bff 255px,#0047ff 267px,#0000ff 275px,#0000d3 279px,#0001ff 282px,#00b0ff 290px,#00b0ff 302px,#0000ff 315px,#0000ff 326px,#0058ff 345px,#0058ff 427px,#0000ff 439px,#0000ff 470px)"></i><i style="left:507px;width:4px;background:linear-gradient(#ffc600,#ff2900 1px,#ff2a00 58px,#ffc300 59px,#f5f107 60px,#ff8f00 61px,#ff8f00 78px,#cdff2a 79px,#009cff 80px,#0001ff 81px,#0000ff 150px,#0004ff 151px,#00caff 156px,#00defd 157px,#00defd 213px,#00dcfe 239px,#004fff 255px,#004bff 267px,#0000fd 277px,#0000f1 279px,#0003ff 281px,#00a8ff 289px,#00b0ff 290px,#00b0ff 302px,#0000ff 315px,#0000ff 326px,#0058ff 345px,#0058ff 427px,#0000ff 439px,#0000ff 470px)"></i><i style="left:510px;width:4px;background:linear-gradient(#1088ec,#2288da 1px,#2285da 27px,#1b75e2 57px,#0a75f2 60px,#0e75ef 78px,#0068ff 79px,#003cff 80px,#0027ff 81px,#0027ff 119px,#0000ff 150px,#0004ff 151px,#00ccff 156px,#00e0fb 157px,#00dffc 237px,#00d8ff 240px,#0050ff 255px,#004cff 267px,#000bff 279px,#000fff 280px,#00b0ff 290px,#00b0ff 302px,#0000ff 315px,#0000ff 326px,#0058ff 345px,#0058ff 427px,#0000ff 439px,#0000ff 470px)"></i><i style="left:513px;width:4px;background:linear-gradient(#004cff,#0046ff 119px,#0004ff 143px,#0000ff 150px,#0004ff 151px,#00ccff 156px,#00e0fb 157px,#00e0fb 213px,#00dbfe 239px,#0050ff 255px,#004cff 267px,#0032ff 279px,#00acff 289px,#00b0ff 302px,#0000ff 315px,#0002ff 327px,#004bff 345px,#004bff 427px,#0000ff 439px,#0000ff 470px)"></i><i style="left:516px;width:4px;background:linear-gradient(#004cff,#004cff 119px,#0004ff 143px,#0000ff 150px,#0004ff 151px,#00ccff 156px,#00e0fb 157px,#00e0fb 211px,#00d4ff 239px,#004cff 256px,#0056ff 279px,#00b0ff 290px,#00b0ff 302px,#0000ff 315px,#000af3 344px,#0000ff 470px)"></i><i style="left:519px;width:4px;background:linear-gradient(#004cff,#004cff 119px,#0004ff 143px,#0000ff 150px,#0004ff 151px,#00ccff 156px,#00e0fb 157px,#00e0fb 210px,#00ccff 239px,#004cff 256px,#004cff 268px,#007aff 280px,#00afff 289px,#00b0ff 302px,#0000ff 315px,#0000ff 329px,#0000c1 345px,#0000c1 427px,#0000ff 438px,#0000ff 470px)"></i><i style="left:522px;width:4px;background:linear-gradient(#004cff,#004cff 119px,#0004ff 143px,#0000ff 150px,#0004ff 151px,#00caff 156px,#00defd 157px,#00defd 209px,#00c0ff 238px,#004cff 256px,#004fff 268px,#0090ff 279px,#00b0ff 289px,#00b0ff 302px,#0000ff 315px,#0000ff 329px,#0000bf 344px,#0000bf 428px,#0000ff 438px,#0000ff 470px)"></i><i style="left:525px;width:4px;background:linear-gradient(#004cff,#004cff 119px,#0004ff 143px,#0000ff 150px,#0004ff 151px,#00c2ff 156px,#00d4ff 157px,#00d4ff 210px,#00afff 239px,#004eff 256px,#004eff 267px,#00a7ff 280px,#00b0ff 302px,#0000ff 315px,#0000ff 329px,#0000bf 344px,#0000bf 428px,#0000ff 438px,#0000ff 470px)"></i><i style="left:528px;width:4px;background:linear-gradient(#004cff,#004bff 119px,#0004ff 143px,#0000ff 150px,#0000ff 151px,#00a8ff 156px,#00bbff 157px,#00bbff 209px,#0093ff 239px,#0058ff 255px,#005bff 268px,#00afff 280px,#00b0ff 302px,#0000ff 315px,#0000ff 329px,#0000bf 344px,#0000bf 428px,#0000ff 438px,#0000ff 470px)"></i><i style="left:531px;width:4px;background:linear-gradient(#004cff,#0038ff 58px,#0038ff 119px,#0002ff 142px,#0000fd 151px,#0080ff 157px,#0080ff 210px,#0060ff 238px,#0068ff 267px,#00b0ff 280px,#00b0ff 302px,#0000ff 315px,#0000ff 329px,#0000bf 344px,#0000bf 428px,#0000ff 438px,#0000ff 470px)"></i><i style="left:534px;width:4px;background:linear-gradient(#004cff,#004cff 24px,#0013ff 46px,#0006f7 57px,#0004f4 120px,#0000d6 149px,#0000f0 152px,#0032ff 157px,#0032ff 211px,#001eff 239px,#0083ff 256px,#0084ff 268px,#00b0ff 279px,#00b0ff 302px,#0000ff 315px,#0000ff 329px,#0000bf 344px,#0000bf 428px,#0000ff 438px,#0000ff 470px)"></i><i style="left:537px;width:4px;background:linear-gradient(#004cff,#004cff 24px,#0000ff 44px,#0000c1 60px,#0000bc 143px,#0000bc 150px,#0000fa 157px,#0000f9 240px,#0006ff 242px,#009bff 256px,#009bff 268px,#00b0ff 279px,#00b0ff 302px,#0000ff 315px,#0000ff 329px,#0000bf 344px,#0000bf 428px,#0000ff 438px,#0000ff 470px)"></i><i style="left:540px;width:4px;background:linear-gradient(#004cff,#004cff 24px,#0000ff 46px,#0000cd 60px,#0000c1 147px,#0000c5 151px,#0000f0 157px,#0000ed 239px,#0000ff 241px,#00a8ff 256px,#00b0ff 302px,#0000ff 315px,#0000ff 329px,#0000bf 344px,#0000bf 428px,#0000ff 438px,#0000ff 470px)"></i><i style="left:543px;width:4px;background:linear-gradient(#004cff,#004cff 24px,#0012ff 60px,#0012ff 120px,#0000e4 149px,#0004ff 157px,#0004ff 239px,#000cff 241px,#00b0ff 256px,#00b0ff 302px,#0000ff 315px,#0000ff 329px,#0000bf 344px,#0000bf 428px,#0000ff 438px,#0000ff 470px)"></i><i style="left:546px;width:4px;background:linear-gradient(#004cff,#0043ff 119px,#0000ff 144px,#0000ff 152px,#0024ff 157px,#0024ff 239px,#00b0ff 256px,#00b0ff 302px,#0000ff 315px,#0000ff 329px,#0000bf 344px,#0000bf 428px,#0000ff 438px,#0000ff 470px)"></i><i style="left:549px;width:4px;background:linear-gradient(#004cff,#004cff 119px,#0004ff 143px,#0000ff 151px,#003eff 157px,#003eff 239px,#00b0ff 256px,#00b0ff 302px,#0000ff 315px,#0000ff 329px,#0000bf 344px,#0000bf 428px,#0000ff 438px,#0000ff 470px)"></i><i style="left:552px;width:4px;background:linear-gradient(#004cff,#004bff 119px,#0004ff 143px,#0000ff 151px,#0047ff 157px,#0047ff 239px,#00b0ff 256px,#00b0ff 302px,#0000ff 315px,#0000ff 329px,#0000bf 344px,#0000bf 428px,#0000ff 438px,#0000ff 470px)"></i><i style="left:555px;width:4px;background:linear-gradient(#004cff,#0038ff 58px,#0038ff 119px,#0002ff 142px,#0000fd 151px,#0002ff 152px,#004aff 157px,#004aff 239px,#00b0ff 256px,#00b0ff 302px,#0000ff 315px,#0000ff 329px,#0000bf 344px,#0000bf 428px,#0000ff 438px,#0000ff 470px)"></i><i style="left:558px;width:4px;background:linear-gradient(#004cff,#004cff 24px,#0013ff 46px,#0006f7 57px,#0004f4 120px,#0000d6 149px,#0000e0 151px,#0000f6 152px,#0003ff 153px,#0048ff 157px,#0048ff 239px,#00a7ff 255px,#00a8ff 302px,#0000ff 315px,#0000ff 329px,#0000bf 344px,#0000bf 427px,#0000ff 438px,#0000ff 470px)"></i><i style="left:561px;width:4px;background:linear-gradient(#004cff,#004cff 24px,#0000ff 44px,#0000c1 60px,#0000bc 144px,#0000bc 150px,#0000fd 153px,#0040ff 157px,#0040ff 239px,#0093ff 255px,#0094ff 302px,#0000ff 315px,#0000ff 329px,#0000cb 345px,#0000cb 427px,#0000ff 438px,#0000ff 470px)"></i><i style="left:564px;width:4px;background:linear-gradient(#0057ff,#0056ff 25px,#0010ff 43px,#0000f1 53px,#0000dc 59px,#0000dc 120px,#0000cd 150px,#0000fd 153px,#0003ff 154px,#0030ff 157px,#0030ff 239px,#0067ff 256px,#0067ff 302px,#0000ff 314px,#0000ff 470px)"></i><i style="left:567px;width:4px;background:linear-gradient(#0088ff,#0088ff 24px,#004aff 59px,#004aff 119px,#0012ff 152px,#0018ff 239px,#0026ff 254px,#0018ff 291px,#0026ff 302px,#0002ff 312px,#0000ff 326px,#0023ff 345px,#0023ff 470px)"></i><i style="left:570px;width:4px;background:linear-gradient(#00acff,#00a6ff 119px,#0046ff 150px,#0006ff 157px,#0000f7 253px,#0000df 268px,#0000df 289px,#0000ff 326px,#00a2ff 345px,#00a2ff 470px)"></i><i style="left:573px;width:4px;background:linear-gradient(#00b0ff,#00b0ff 120px,#004cff 150px,#0002ff 157px,#0000ff 244px,#0000d0 255px,#0000b0 268px,#0000b0 289px,#0000fd 315px,#0000ff 325px,#00c8ff 345px,#00c8ff 470px)"></i><i style="left:576px;width:4px;background:linear-gradient(#00aeff,#00aeff 119px,#004bff 150px,#0012ff 157px,#0012ff 239px,#0000ff 244px,#0000b8 257px,#00009c 268px,#00009e 290px,#0000bf 303px,#0000ff 316px,#0000ff 325px,#00c8ff 345px,#00c8ff 470px)"></i><i style="left:579px;width:4px;background:linear-gradient(#0082ff,#0074ff 119px,#0027ff 150px,#0038ff 157px,#0038ff 239px,#0000ff 247px,#0000b6 256px,#000098 268px,#00009b 291px,#0000b6 302px,#0000ff 316px,#0000ff 325px,#00a2ff 345px,#00a2ff 470px)"></i><i style="left:582px;width:4px;background:linear-gradient(#001fff,#0008f1 58px,#0000e2 148px,#0000ed 151px,#0003ff 152px,#006cff 157px,#006bff 233px,#0064ff 240px,#0001ff 249px,#0000b6 256px,#000096 267px,#000096 290px,#0000b2 301px,#0000ff 316px,#0000ff 327px,#0023ff 345px,#0023ff 470px)"></i><i style="left:585px;width:4px;background:linear-gradient(#0000ff,#0000ff 27px,#0000bf 60px,#0000bc 135px,#0000bc 150px,#0000d1 151px,#0000fc 152px,#0014ff 153px,#0087ff 156px,#0098ff 157px,#0093ff 239px,#0000ff 250px,#0000fd 251px,#0000b6 256px,#000096 267px,#000096 290px,#0000b2 301px,#0000ff 316px,#0000ff 470px)"></i><i style="left:588px;width:4px;background:linear-gradient(#0008ff,#0004ff 31px,#0000e2 59px,#0000e2 120px,#0000ca 148px,#0000ca 150px,#0000e0 151px,#0003ff 152px,#00a4ff 156px,#00b8ff 157px,#00b8ff 212px,#00a8ff 239px,#0000ff 251px,#0000b6 256px,#000096 267px,#000096 290px,#0000b2 301px,#0000ff 316px,#0000ff 470px)"></i><i style="left:591px;width:4px;background:linear-gradient(#0036ff,#0026ff 119px,#0004ff 137px,#0000f0 149px,#0000fd 151px,#00b8ff 156px,#00ccff 157px,#00ccff 210px,#00b0ff 239px,#0000ff 251px,#0000b6 256px,#000096 267px,#000096 290px,#0000b2 301px,#0000ff 316px,#0000ff 470px)"></i><i style="left:594px;width:4px;background:linear-gradient(#004aff,#0048ff 119px,#0002ff 144px,#0000ff 150px,#0003ff 151px,#00c4ff 156px,#00d7ff 157px,#00d7ff 210px,#00b3ff 239px,#0000ff 251px,#0000b8 256px,#000096 268px,#000096 290px,#0000b2 301px,#0000ff 316px,#0000ff 470px)"></i><i style="left:597px;width:4px;background:linear-gradient(#004cff,#004cff 119px,#0004ff 143px,#0000ff 150px,#0004ff 151px,#00c8ff 156px,#00dcfe 157px,#00dcfe 210px,#00b4ff 239px,#000fff 250px,#0000fd 252px,#0000bf 256px,#00009b 266px,#000096 290px,#0000b2 301px,#0000ff 316px,#0000ff 470px)"></i><i style="left:600px;width:4px;background:linear-gradient(#004aff,#0048ff 119px,#0002ff 144px,#0000ff 150px,#0003ff 151px,#00ccff 156px,#00dffc 157px,#00dffc 209px,#00baff 239px,#000eff 251px,#0000fc 253px,#0000d1 256px,#000096 268px,#000096 290px,#0000b2 301px,#0000ff 316px,#0000ff 470px)"></i><i style="left:603px;width:4px;background:linear-gradient(#0036ff,#0026ff 119px,#0004ff 137px,#0000f0 149px,#0000fd 151px,#00caff 156px,#00e0fb 157px,#00e0fb 210px,#00c3ff 239px,#000cff 253px,#0000fa 255px,#000096 268px,#000096 290px,#0000b2 301px,#0000ff 316px,#0000ff 470px)"></i><i style="left:606px;width:4px;background:linear-gradient(#0008ff,#0004ff 31px,#0000e2 59px,#0000e2 120px,#0000ca 148px,#0000ca 150px,#0000e3 151px,#0008ff 152px,#00c8ff 156px,#00e0fb 157px,#00e0fb 210px,#00ccff 239px,#0000fd 258px,#000096 268px,#000096 290px,#0000b2 301px,#0000ff 316px,#0000ff 470px)"></i><i style="left:609px;width:4px;background:linear-gradient(#0000ff,#0000ff 26px,#0000be 59px,#0000bb 150px,#0000ff 152px,#00c4ff 156px,#00e0fb 157px,#00e0fb 210px,#00d0ff 239px,#0000ff 260px,#000096 268px,#000096 290px,#0000b2 301px,#0000ff 316px,#0000ff 470px)"></i><i style="left:612px;width:4px;background:linear-gradient(#0008ff,#0004ff 31px,#0000e2 59px,#0000e2 120px,#0000ca 148px,#0000ca 150px,#0000e4 151px,#0008ff 152px,#00c8ff 156px,#00e0fb 157px,#00e0fb 210px,#00ccff 239px,#0048ff 255px,#0000ff 261px,#000096 268px,#000096 290px,#0000b2 301px,#0000ff 316px,#0000ff 470px)"></i><i style="left:615px;width:4px;background:linear-gradient(#0036ff,#0026ff 119px,#0004ff 137px,#0000f0 149px,#0000fd 151px,#00caff 156px,#00e0fb 157px,#00e0fb 209px,#00c3ff 239px,#004cff 255px,#0000ff 261px,#000096 268px,#000096 290px,#0000b2 301px,#0000ff 316px,#0000ff 470px)"></i><i style="left:618px;width:4px;background:linear-gradient(#004aff,#0048ff 119px,#0002ff 144px,#0000ff 150px,#0003ff 151px,#00cbff 156px,#00defd 157px,#00defd 209px,#00b6ff 240px,#004bff 255px,#0000ff 261px,#000096 268px,#000096 290px,#0000b2 301px,#0000ff 316px,#0000ff 470px)"></i><i style="left:621px;width:4px;background:linear-gradient(#004cff,#004cff 119px,#0004ff 143px,#0000ff 150px,#0004ff 151px,#00c8ff 156px,#00dbfe 157px,#00dbfe 210px,#00b0ff 240px,#0040ff 255px,#0000ff 260px,#0000fd 261px,#000096 268px,#000096 290px,#0000b2 301px,#0000ff 316px,#0000ff 470px)"></i><i style="left:624px;width:4px;background:linear-gradient(#004cff,#0043ff 119px,#0004ff 142px,#0000fd 150px,#0002ff 151px,#00c2ff 156px,#00d4ff 157px,#00d4ff 210px,#00b3ff 239px,#0000ff 259px,#000096 268px,#000096 290px,#0000b2 301px,#0000ff 316px,#0000ff 470px)"></i><i style="left:627px;width:4px;background:linear-gradient(#004cff,#004cff 24px,#0012ff 60px,#0012ff 120px,#0000e4 149px,#0000f7 151px,#0013ff 152px,#00b6ff 156px,#00c8ff 157px,#00c8ff 213px,#00acff 240px,#000bff 254px,#0000f6 257px,#000096 268px,#000096 290px,#0000b2 301px,#0000ff 316px,#0000ff 470px)"></i><i style="left:630px;width:4px;background:linear-gradient(#004cff,#004cff 24px,#0000ff 46px,#0000cd 60px,#0000c1 147px,#0000c1 150px,#0000ff 152px,#00a8ff 156px,#00bfff 157px,#00bfff 210px,#00b0ff 239px,#000bff 251px,#0000f9 253px,#0000d1 256px,#000096 268px,#000096 290px,#0000b2 301px,#0000ff 316px,#0000ff 470px)"></i><i style="left:633px;width:4px;background:linear-gradient(#004cff,#004cff 24px,#0000ff 44px,#0000c1 60px,#0000bc 143px,#0000bc 150px,#0000d3 151px,#0000ff 152px,#00a2ff 156px,#00b7ff 157px,#00b4ff 232px,#00a8ff 240px,#0004ff 250px,#0000ff 251px,#0000ad 256px,#000096 267px,#000096 290px,#0000b2 301px,#0000ff 316px,#0000ff 470px)"></i><i style="left:636px;width:4px;background:linear-gradient(#004cff,#004cff 24px,#0013ff 46px,#0006f7 57px,#0004f4 120px,#0000d6 149px,#0000ea 151px,#0006ff 152px,#00a0ff 156px,#00b3ff 157px,#00b0ff 239px,#0000ff 250px,#00009c 256px,#000096 266px,#000096 290px,#0000b2 301px,#0000ff 316px,#0000ff 470px)"></i><i style="left:639px;width:4px;background:linear-gradient(#004cff,#0038ff 58px,#0038ff 119px,#0002ff 142px,#0000ff 151px,#00a0ff 156px,#00b0ff 157px,#00b0ff 239px,#0000ff 250px,#0000a2 255px,#000096 259px,#000096 290px,#0000b2 301px,#0000ff 316px,#0002ff 329px,#001eff 344px,#001eff 428px,#0000ff 439px,#0000ff 470px)"></i><i style="left:642px;width:4px;background:linear-gradient(#004cff,#004bff 119px,#0004ff 143px,#0000ff 150px,#0000ff 151px,#00a0ff 156px,#00b0ff 157px,#00b0ff 239px,#0000ff 250px,#000096 256px,#000096 290px,#0000b2 301px,#0000ff 316px,#0000ff 327px,#004eff 344px,#004eff 427px,#0000ff 439px,#0000ff 470px)"></i><i style="left:645px;width:4px;background:linear-gradient(#004cff,#004cff 119px,#0004ff 143px,#0000ff 150px,#0000ff 151px,#00a0ff 156px,#00b0ff 157px,#00b0ff 218px,#00aaff 239px,#0000ff 250px,#000096 256px,#000096 290px,#0000b2 301px,#0000ff 316px,#0000ff 327px,#0033ff 344px,#0033ff 427px,#0000ff 439px,#0000ff 470px)"></i><i style="left:648px;width:4px;background:linear-gradient(#0046ff,#0043ff 119px,#0004ff 142px,#0000ff 151px,#00a0ff 156px,#00b0ff 157px,#00b0ff 211px,#009bff 239px,#0000ff 249px,#0000fd 250px,#000096 256px,#000096 290px,#0000b2 301px,#0000ff 316px,#0000ff 470px)"></i><i style="left:651px;width:4px;background:linear-gradient(#0027ff,#0012ff 59px,#0012ff 120px,#0000e4 149px,#0000f4 151px,#000cff 152px,#009cff 156px,#00aeff 157px,#00aeff 210px,#0082ff 239px,#0000ff 249px,#000096 256px,#000096 289px,#0000b6 302px,#0000ff 316px,#0000ff 470px)"></i><i style="left:654px;width:4px;background:linear-gradient(#0001ff,#0000fd 30px,#0000cd 59px,#0000c1 147px,#0000c1 150px,#0000fd 152px,#008fff 156px,#00a3ff 157px,#00a3ff 209px,#0063ff 239px,#0000ff 248px,#00009b 256px,#00009b 290px,#0000b6 302px,#0000ff 316px,#0000ff 470px)"></i><i style="left:657px;width:4px;background:linear-gradient(#0001ff,#0000fd 29px,#0000c7 60px,#0000c1 148px,#0000c1 150px,#0000fc 152px,#000eff 153px,#0076ff 156px,#0087ff 157px,#0087ff 209px,#0043ff 239px,#0000ff 247px,#00009e 256px,#00009e 289px,#0000b6 302px,#0000ff 316px,#0000ff 470px)"></i><i style="left:660px;width:4px;background:linear-gradient(#003fff,#003fff 25px,#0022fd 58px,#0022fd 119px,#0006f4 150px,#000cff 152px,#0058ff 157px,#0058ff 210px,#0026ff 239px,#0000ff 245px,#0000a5 256px,#0000b2 299px,#0000ff 316px,#0000ff 470px)"></i><i style="left:663px;width:4px;background:linear-gradient(#0098ff,#0093ff 119px,#002aff 157px,#002aff 210px,#0000ff 243px,#0000ae 256px,#0000b6 302px,#0000ff 316px,#0000ff 470px)"></i><i style="left:666px;width:4px;background:linear-gradient(#00b0ff,#00b0ff 119px,#004cff 150px,#000aff 157px,#0000ff 242px,#0000b5 256px,#0000b6 302px,#0000ff 316px,#000bff 470px)"></i><i style="left:669px;width:4px;background:linear-gradient(#00b0ff,#00b0ff 119px,#004cff 150px,#0000ff 157px,#0000ff 242px,#0000b6 256px,#0000b6 302px,#0000ff 316px,#0000ff 326px,#007aff 345px,#007aff 470px)"></i><i style="left:672px;width:4px;background:linear-gradient(#0098ff,#0093ff 119px,#003aff 150px,#000cff 157px,#000cff 239px,#0000ff 243px,#0000bc 255px,#0000b8 262px,#0000ce 280px,#0000b9 302px,#0000ff 315px,#0000ff 325px,#00b8ff 345px,#00b8ff 470px)"></i><i style="left:675px;width:4px;background:linear-gradient(#003fff,#003fff 25px,#0022fd 58px,#0022fd 119px,#0006f4 149px,#0008ff 153px,#0026ff 157px,#0026ff 239px,#0000ff 246px,#0000bf 256px,#0000bc 266px,#0000ed 286px,#0000ed 290px,#0000bc 303px,#0000fd 314px,#0000ff 325px,#004bff 345px,#004bff 470px)"></i><i style="left:678px;width:4px;background:linear-gradient(#0001ff,#0000fd 30px,#0000c8 59px,#0000c1 148px,#0000c1 150px,#0000ff 153px,#0043ff 157px,#0043ff 239px,#0000fd 250px,#0000d7 256px,#0000cd 266px,#0000fa 277px,#0016ff 289px,#000aff 292px,#0000f4 296px,#0000c4 302px,#0004ff 312px,#0017ff 318px,#0001ff 344px,#0001ff 470px)"></i><i style="left:681px;width:4px;background:linear-gradient(#000bff,#0007ff 30px,#0000dc 59px,#0000dc 120px,#0000cd 148px,#0000cd 150px,#0000f6 152px,#0008ff 153px,#0062ff 157px,#0062ff 239px,#000aff 254px,#0000ed 267px,#0000fa 270px,#0012ff 275px,#006fff 289px,#0006ff 298px,#0000d3 302px,#0000f7 306px,#000eff 309px,#00a7fd 323px,#08bbf4 326px,#0000ff 345px,#0000ff 470px)"></i><i style="left:684px;width:4px;background:linear-gradient(#0062ff,#0062ff 26px,#004aff 58px,#004aff 119px,#0013ff 150px,#0018ff 151px,#0082ff 157px,#0082ff 239px,#000aff 267px,#006cff 279px,#0ae0ef 289px,#03cbf9 291px,#000aff 300px,#0000e8 303px,#0000f9 304px,#000fff 306px,#00c3ff 317px,#11f7e5 321px,#3effb9 325px,#22ffd5 328px,#00dbfd 331px,#0004ff 344px,#0000ff 345px,#0000ff 470px)"></i><i style="left:687px;width:4px;background:linear-gradient(#00a7ff,#00a6ff 119px,#0046ff 150px,#009bff 157px,#009bff 239px,#007aff 255px,#002cff 267px,#00c4ff 281px,#12f4e6 284px,#56ffa0 289px,#3affbc 291px,#0ff0eb 293px,#02d7fa 294px,#000cff 301px,#0000fa 303px,#0018ff 305px,#00caff 313px,#10f3e9 315px,#45ffb2 325px,#16ffe1 329px,#00d0ff 332px,#0024ff 342px,#0000ff 345px,#0000ff 470px)"></i><i style="left:690px;width:4px;background:linear-gradient(#00b0ff,#00b0ff 120px,#004cff 150px,#00a8ff 157px,#00a8ff 243px,#009aff 256px,#0047ff 267px,#0048ff 268px,#01defb 280px,#1bfddc 282px,#8fff67 289px,#8bff6c 290px,#38ffbf 293px,#1dfed9 294px,#00c7ff 296px,#001cff 301px,#0000ff 302px,#0000ff 303px,#00dcfc 312px,#22ffd5 314px,#40ffb7 316px,#46ffb1 325px,#18ffdf 329px,#00d2ff 332px,#0003ff 345px,#0000ff 470px)"></i><i style="left:693px;width:4px;background:linear-gradient(#00b0ff,#00b0ff 119px,#004cff 150px,#00b0ff 157px,#00aeff 255px,#0057ff 267px,#00d3ff 277px,#07ecf1 279px,#26ffd1 281px,#b5ff42 289px,#aeff48 290px,#37ffc0 294px,#19fede 295px,#01e0fa 296px,#0002ff 302px,#0000ff 303px,#00d0ff 311px,#1bffdc 313px,#50ffa7 316px,#46ffb1 325px,#1fffd7 329px,#00d4ff 333px,#0033ff 345px,#0033ff 427px,#0000ff 439px,#0000ff 470px)"></i><i style="left:696px;width:4px;background:linear-gradient(#00a6ff,#0093ff 119px,#003aff 150px,#00b0ff 157px,#00b0ff 255px,#006cff 267px,#00ccff 274px,#1cfddb 278px,#dcff1b 289px,#d3ff24 290px,#0ff8e7 296px,#00d0ff 297px,#0004ff 302px,#0000ff 303px,#00d4ff 311px,#1effd8 313px,#49ffad 315px,#53ffa4 317px,#43ffb4 326px,#10fae6 331px,#00d4ff 334px,#0056ff 345px,#0056ff 427px,#0000ff 439px,#0000ff 470px)"></i><i style="left:699px;width:4px;background:linear-gradient(#0074ff,#0074ff 25px,#0022fd 59px,#0022fd 119px,#0006f4 150px,#000afc 151px,#0022ff 152px,#00a2ff 156px,#00b0ff 157px,#00b0ff 256px,#0084ff 267px,#00c2ff 271px,#0ff5e7 274px,#2dffc9 276px,#d5ff22 286px,#fede00 289px,#faea02 290px,#deff19 291px,#27ffd0 296px,#04e8f4 297px,#00bcff 298px,#0007ff 302px,#0000ff 303px,#00d4ff 311px,#1fffd7 313px,#49ffad 315px,#53ffa4 318px,#43ffb4 326px,#13fce4 331px,#00d4ff 334px,#0058ff 345px,#0058ff 427px,#0000ff 439px,#0000ff 470px)"></i><i style="left:702px;width:4px;background:linear-gradient(#0050ff,#004fff 25px,#0000ff 46px,#0000c8 59px,#0000c1 148px,#0000c1 150px,#0000ff 152px,#009cff 156px,#00b0ff 157px,#00b0ff 256px,#009bff 267px,#00d0ff 270px,#23ffd4 273px,#e3fe14 284px,#fde200 286px,#ffa400 289px,#ffb200 290px,#fee000 291px,#e1ff16 292px,#19fede 297px,#00d0ff 298px,#0008ff 302px,#0000ff 303px,#00d4ff 311px,#1fffd7 313px,#49ffad 315px,#53ffa4 318px,#43ffb4 326px,#13fce4 331px,#00d4ff 334px,#0058ff 345px,#0058ff 427px,#0000ff 439px,#0000ff 470px)"></i><i style="left:705px;width:4px;background:linear-gradient(#0057ff,#0056ff 25px,#0010ff 43px,#0000f1 53px,#0000dc 59px,#0000dc 120px,#0000cd 148px,#0000cd 150px,#0000e3 151px,#0004ff 152px,#009eff 156px,#00b0ff 157px,#00abff 267px,#00cfff 269px,#15fde2 271px,#29ffce 272px,#eafd0d 282px,#ffdc00 284px,#ff7400 289px,#ff8300 290px,#fee600 292px,#d7ff1f 293px,#2affcd 297px,#01e3f9 298px,#000cff 302px,#0000ff 303px,#00d4ff 311px,#1fffd7 313px,#49ffad 315px,#53ffa4 318px,#43ffb4 326px,#11fbe5 331px,#00d4ff 334px,#0057ff 345px,#0057ff 427px,#0000ff 439px,#0000ff 470px)"></i><i style="left:708px;width:4px;background:linear-gradient(#0088ff,#0088ff 24px,#004aff 59px,#004aff 119px,#0013ff 150px,#001bff 151px,#00a3ff 156px,#00b0ff 157px,#00b0ff 267px,#00d8ff 269px,#23ffd4 271px,#e7fe0f 280px,#ffde00 282px,#ff4e00 289px,#ff5e00 290px,#f0fb07 293px,#38ffbf 297px,#09f0ee 298px,#00b8ff 299px,#000cff 302px,#0000ff 303px,#00d4ff 311px,#1fffd7 313px,#49ffad 315px,#53ffa4 318px,#43ffb4 326px,#18ffdf 330px,#00dbfd 333px,#0046ff 345px,#0046ff 427px,#0017ff 440px,#0017ff 470px)"></i><i style="left:711px;width:4px;background:linear-gradient(#00acff,#00a6ff 119px,#0046ff 150px,#00b0ff 157px,#00b0ff 267px,#00c0ff 268px,#00defd 269px,#11fbe5 270px,#2affcd 271px,#e9ff0e 279px,#fcee00 280px,#ff3300 289px,#ff4300 290px,#ffe800 293px,#d2ff25 294px,#11fbe5 298px,#00bfff 299px,#000cff 302px,#0000ff 303px,#00d4ff 311px,#1fffd7 313px,#49ffad 315px,#53ffa4 318px,#46ffb1 325px,#1affdd 329px,#00d6ff 332px,#000cff 345px,#000cff 427px,#0073ff 440px,#0073ff 470px)"></i><i style="left:714px;width:4px;background:linear-gradient(#00b0ff,#00b0ff 120px,#004cff 150px,#00b0ff 157px,#00b0ff 267px,#00e0fb 269px,#13fce4 270px,#2cffca 271px,#f1fc06 279px,#ffe200 280px,#ff2300 289px,#ff3400 290px,#ffdd00 293px,#dbff1c 294px,#17ffe0 298px,#00c4ff 299px,#0010ff 302px,#0000ff 303px,#00d4ff 311px,#1fffd7 313px,#49ffad 315px,#53ffa4 318px,#46ffb1 325px,#16ffe1 329px,#00d0ff 332px,#0014ff 343px,#0000ff 345px,#0000ff 427px,#0090ff 440px,#0090ff 470px)"></i><i style="left:717px;width:4px;background:linear-gradient(#00afff,#00aeff 119px,#004bff 150px,#00b0ff 157px,#00b0ff 267px,#00dffc 269px,#13fce4 270px,#2bffcb 271px,#eefe09 279px,#ffe700 280px,#ff1e00 289px,#ff2f00 290px,#ffd900 293px,#deff19 294px,#19ffde 298px,#00c7ff 299px,#0010ff 302px,#0000ff 303px,#00d4ff 311px,#1fffd7 313px,#49ffad 315px,#53ffa4 318px,#46ffb1 325px,#16ffe1 329px,#00d0ff 332px,#0024ff 342px,#0000ff 345px,#0000ff 428px,#0090ff 440px,#0090ff 470px)"></i><i style="left:720px;width:4px;background:linear-gradient(#009aff,#009aff 24px,#0074ff 58px,#0074ff 119px,#0027ff 150px,#00b0ff 157px,#00b0ff 267px,#00dcfe 269px,#26ffd1 271px,#ddff1a 279px,#ffe200 281px,#ff1e00 289px,#ff2d00 290px,#ffd700 293px,#deff19 294px,#19ffde 298px,#00c8ff 299px,#0010ff 302px,#0000ff 303px,#00d4ff 311px,#1fffd7 313px,#49ffad 315px,#53ffa4 318px,#46ffb1 325px,#16ffe1 329px,#00d0ff 332px,#0024ff 342px,#0000ff 345px,#0000ff 428px,#0090ff 440px,#0090ff 470px)"></i><i style="left:723px;width:4px;background:linear-gradient(#0063ff,#0063ff 25px,#001aff 47px,#0008f0 59px,#0000e2 150px,#0000f1 151px,#000fff 152px,#009fff 156px,#00b0ff 157px,#00b0ff 267px,#00d8ff 269px,#1fffd7 271px,#ddff1a 280px,#f4f804 281px,#ffdd00 282px,#ff1e00 289px,#ff2d00 290px,#ffd700 293px,#deff19 294px,#19ffde 298px,#00c8ff 299px,#0010ff 302px,#0000ff 303px,#00d4ff 311px,#1fffd7 313px,#49ffad 315px,#53ffa4 318px,#46ffb1 325px,#16ffe1 329px,#00d0ff 332px,#0024ff 342px,#0000ff 345px,#0000ff 428px,#0090ff 440px,#0090ff 470px)"></i><i style="left:726px;width:3px;background:linear-gradient(#004eff,#004eff 24px,#0000ff 43px,#0000fa 47px,#0000bc 60px,#0000bb 128px,#0000bb 150px,#0000ff 152px,#009cff 156px,#00b0ff 157px,#00b0ff 267px,#00d4ff 269px,#1affdd 271px,#e4ff13 281px,#fded00 282px,#ff1f00 289px,#ff2d00 290px,#ffd700 293px,#deff19 294px,#19ffde 298px,#00c8ff 299px,#0010ff 302px,#0000ff 303px,#00d4ff 311px,#1fffd7 313px,#49ffad 315px,#53ffa4 318px,#46ffb1 325px,#16ffe1 329px,#00d0ff 332px,#0024ff 342px,#0000ff 345px,#0000ff 428px,#0090ff 440px,#0090ff 470px)"></i></div>

<svg width="1052" height="1806" viewBox="0 0 1052 1806" style="position:absolute;left:0;top:0"><clipPath id="ax0"><rect x="117.0" y="44.5" width="729.0" height="469.2"/></clipPath>
<g clip-path="url(#ax0)"><line x1="341.5" y1="44.5" x2="341.5" y2="514.5" stroke="#a00000" stroke-width="1.6"/><line x1="355" y1="329.5" x2="355" y2="514.5" stroke="#e01000" stroke-width="1.5"/><line x1="367.8" y1="339.5" x2="367.8" y2="514.5" stroke="#900000" stroke-width="2.0"/><line x1="200.3" y1="44.5" x2="200.3" y2="204.5" stroke="#a00000" stroke-width="1.4"/><path d="M277.38,126.49 L286.86,153.52 L286.86,153.52 L286.86,197.11 L286.88,197.11 L268.66,232.42 L268.63,232.42 L308.73,254.75 L308.75,254.75 L418.47,288.39 L418.47,288.39 L473.51,318.10 L473.48,318.10 L473.48,325.78 L473.51,325.78 L415.92,335.07 L415.90,335.07 L308.36,361.09 L290.14,370.38 L290.16,370.38 L320.20,383.74 L320.18,383.74 L208.14,401.02 L208.09,401.02 L153.41,419.70 L153.49,419.70 L135.27,437.71 L135.22,437.71 L135.22,460.22 L135.21,460.22 L153.43,478.90 L153.45,478.90 L153.45,500.39 L153.54,500.39 L147.25,513.70" fill="none" stroke="#c8b400" stroke-width="3.1" stroke-linejoin="round" stroke-linecap="square"/><path d="M835.07,126.49 L792.05,166.66 L792.02,166.66 L696.52,185.74 L696.57,185.74 L627.32,232.42 L627.30,232.42 L787.67,311.80 L787.70,311.80 L798.63,321.53 L798.63,321.53 L765.82,337.55 L765.81,337.55 L674.68,349.08 L674.72,349.08 L627.34,383.09 L627.28,383.09 L492.42,396.40 L492.46,396.40 L565.43,513.70" fill="none" stroke="#c8b400" stroke-width="3.1" stroke-linejoin="round" stroke-linecap="square"/><polygon points="522.1,46.0 517.6,51.4 513.0,56.5 507.3,60.0 501.6,64.0 497.6,67.4 497.0,72.0 492.5,75.4 486.8,79.4 478.8,82.2 475.4,85.6 474.2,90.2 469.7,94.8 464.0,98.2 462.2,102.2 467.4,106.2 467.0,110.0 467.7,114.0 467.0,118.5 460.0,123.0 470.0,124.0 495.0,118.0 495.5,108.0 498.4,104.0 501.0,100.0 510.0,96.0 517.0,93.5 496.0,88.0 496.0,85.5 525.0,81.0 577.0,79.0 578.0,49.0 568.0,45.5" fill="#ff0000"/><polyline points="460.0,123.0 447.0,130.0 438.5,135.0 431.4,140.0 425.6,147.0 417.1,152.8 411.4,158.5 405.7,164.2 408.5,169.9 404.3,174.1 408.5,178.4 417.1,182.7 422.8,187.0 428.5,192.7 437.1,198.4 445.3,203.6 457.8,209.9 474.6,218.2 491.3,224.5 505.9,230.8 518.5,236.0 528.9,244.4 541.5,254.8 551.9,264.2 555.1,271.6 556.1,282.0 562.4,292.5 569.7,298.7 567.6,305.0 554.0,310.2 537.3,315.5 516.4,321.7 495.5,327.0 470.4,332.2 449.5,337.4 444.0,340.0 427.9,345.7 411.7,350.5 397.2,355.4 389.1,360.2 384.2,365.9 377.8,374.7 379.4,378.8 385.9,383.6 388.3,390.1 387.5,394.9 388.3,401.4 393.9,407.9 402.0,414.3 413.3,422.4 427.9,432.1 440.8,441.8 452.1,451.5 461.8,461.2 468.3,469.3 478.0,480.6 489.3,493.5 499.0,506.5 504.6,513.7 507.0,517.0" fill="none" stroke="#ff0000" stroke-width="3.1" stroke-linejoin="round" stroke-linecap="round"/><polyline points="447.0,130.0 438.5,135.0 431.4,140.0 425.6,147.0 417.1,152.8 411.4,158.5 405.7,164.2 408.5,169.9 404.3,174.1 408.5,178.4 417.1,182.7 422.8,187.0" fill="none" stroke="#ff0000" stroke-width="5.5" stroke-linejoin="round" stroke-linecap="round"/><path d="M472.7,94.3H517.0" stroke="#ff0000" stroke-width="2.5" stroke-linecap="round" fill="none"/><path d="M246.0,47.3H567.9" stroke="#ff0000" stroke-width="2.8" stroke-linecap="round" fill="none"/><path d="M465.5,100.5H501.0M457.0,126.3H527.0M449.5,130.0H481.0M433.9,140.0H458.0M431.0,143.5H468.0" stroke="#ff0000" stroke-width="3" stroke-linecap="round" fill="none"/><path d="M509.5,60.2H636.0M494.3,75.9H651.7M476.4,90.5H585.0" stroke="#ff0000" stroke-width="3.4" stroke-linecap="round" fill="none"/><path d="M480.8,82.7H591.0M440.7,135.2H473.0" stroke="#ff0000" stroke-width="3.5" stroke-linecap="round" fill="none"/><path d="M520.7,50.7H584.0" stroke="#ff0000" stroke-width="4" stroke-linecap="round" fill="none"/><path d="M503.6,64.4H625.0M499.7,70.3H606.0" stroke="#ff0000" stroke-width="4.3" stroke-linecap="round" fill="none"/><path d="M516.3,55.6H627.0" stroke="#ff0000" stroke-width="4.5" stroke-linecap="round" fill="none"/><line x1="189.90" y1="44.50" x2="189.90" y2="54.90" stroke="#ff0000" stroke-width="3"/><line x1="335.70" y1="44.50" x2="335.70" y2="54.90" stroke="#ff0000" stroke-width="3"/><line x1="481.50" y1="44.50" x2="481.50" y2="54.90" stroke="#ff0000" stroke-width="3"/><line x1="627.30" y1="44.50" x2="627.30" y2="54.90" stroke="#ff0000" stroke-width="3"/><line x1="773.10" y1="44.50" x2="773.10" y2="54.90" stroke="#ff0000" stroke-width="3"/></g>
<rect x="117.0" y="44.50" width="729.0" height="469.2" fill="none" stroke="#000" stroke-width="1.667"/>
<path d="M117.00,513.70v7.29M164.03,513.70v7.29M211.06,513.70v7.29M258.10,513.70v7.29M305.13,513.70v7.29M352.16,513.70v7.29M399.19,513.70v7.29M446.23,513.70v7.29M493.26,513.70v7.29M540.29,513.70v7.29M587.32,513.70v7.29M634.35,513.70v7.29M681.39,513.70v7.29M728.42,513.70v7.29M775.45,513.70v7.29M822.48,513.70v7.29M117.00,478.39h-7.29M117.00,361.09h-7.29M117.00,243.79h-7.29M117.00,126.49h-7.29" stroke="#000" stroke-width="1.667" fill="none"/>
<path d="M117.00,513.70h-4.17M117.00,504.41h-4.17M117.00,496.56h-4.17M117.00,489.76h-4.17M117.00,483.76h-4.17M117.00,443.08h-4.17M117.00,422.42h-4.17M117.00,407.77h-4.17M117.00,396.40h-4.17M117.00,387.11h-4.17M117.00,379.26h-4.17M117.00,372.46h-4.17M117.00,366.46h-4.17M117.00,325.78h-4.17M117.00,305.12h-4.17M117.00,290.47h-4.17M117.00,279.10h-4.17M117.00,269.81h-4.17M117.00,261.96h-4.17M117.00,255.16h-4.17M117.00,249.16h-4.17M117.00,208.48h-4.17M117.00,187.82h-4.17M117.00,173.17h-4.17M117.00,161.80h-4.17M117.00,152.51h-4.17M117.00,144.66h-4.17M117.00,137.86h-4.17M117.00,131.86h-4.17M117.00,91.18h-4.17M117.00,70.52h-4.17M117.00,55.87h-4.17M117.00,44.50h-4.17" stroke="#000" stroke-width="1.25" fill="none"/>
<g font-family="DejaVu Sans, Liberation Sans, sans-serif" font-size="20.833px" fill="#000"><text x="117.00" y="544.10" text-anchor="middle">1</text><text x="164.03" y="544.10" text-anchor="middle">3</text><text x="211.06" y="544.10" text-anchor="middle">5</text><text x="258.10" y="544.10" text-anchor="middle">7</text><text x="305.13" y="544.10" text-anchor="middle">9</text><text x="352.16" y="544.10" text-anchor="middle">11</text><text x="399.19" y="544.10" text-anchor="middle">13</text><text x="446.23" y="544.10" text-anchor="middle">15</text><text x="493.26" y="544.10" text-anchor="middle">17</text><text x="540.29" y="544.10" text-anchor="middle">19</text><text x="587.32" y="544.10" text-anchor="middle">21</text><text x="634.35" y="544.10" text-anchor="middle">23</text><text x="681.39" y="544.10" text-anchor="middle">25</text><text x="728.42" y="544.10" text-anchor="middle">27</text><text x="775.45" y="544.10" text-anchor="middle">29</text><text x="822.48" y="544.10" text-anchor="middle">31</text><text x="102.80" y="487.39" text-anchor="end">10<tspan font-size="14.58" dy="-7.7">−2</tspan></text><text x="102.80" y="370.09" text-anchor="end">10<tspan font-size="14.58" dy="-7.7">−1</tspan></text><text x="102.80" y="252.79" text-anchor="end">10<tspan font-size="14.58" dy="-7.7">0</tspan></text><text x="102.80" y="135.49" text-anchor="end">10<tspan font-size="14.58" dy="-7.7">1</tspan></text><text x="478.50" y="572.50" text-anchor="middle" xml:space="preserve">July 2024 UP TJOU  HHE</text><text transform="translate(39.8,279.10) rotate(-90)" text-anchor="middle">f [Hz]</text><text x="189.90" y="40.80" text-anchor="middle" fill="#ff0000">-180dB</text><text x="335.70" y="40.80" text-anchor="middle" fill="#ff0000">-160dB</text><text x="481.50" y="40.80" text-anchor="middle" fill="#ff0000">-140dB</text><text x="627.30" y="40.80" text-anchor="middle" fill="#ff0000">-120dB</text><text x="773.10" y="40.80" text-anchor="middle" fill="#ff0000">-100dB</text></g>
<linearGradient id="cb0" x1="0" y1="0" x2="0" y2="1"><stop offset="0.000" stop-color="#800000"/><stop offset="0.025" stop-color="#9b0000"/><stop offset="0.050" stop-color="#b60000"/><stop offset="0.075" stop-color="#d60000"/><stop offset="0.100" stop-color="#f10800"/><stop offset="0.125" stop-color="#ff1e00"/><stop offset="0.150" stop-color="#ff3800"/><stop offset="0.175" stop-color="#ff4e00"/><stop offset="0.200" stop-color="#ff6800"/><stop offset="0.225" stop-color="#ff7e00"/><stop offset="0.250" stop-color="#ff9400"/><stop offset="0.275" stop-color="#ffae00"/><stop offset="0.300" stop-color="#ffc400"/><stop offset="0.325" stop-color="#ffde00"/><stop offset="0.350" stop-color="#f8f500"/><stop offset="0.375" stop-color="#e4ff13"/><stop offset="0.400" stop-color="#ceff29"/><stop offset="0.425" stop-color="#baff3c"/><stop offset="0.450" stop-color="#a4ff53"/><stop offset="0.475" stop-color="#90ff66"/><stop offset="0.500" stop-color="#7dff7a"/><stop offset="0.525" stop-color="#66ff90"/><stop offset="0.550" stop-color="#53ffa4"/><stop offset="0.575" stop-color="#3cffba"/><stop offset="0.600" stop-color="#29ffce"/><stop offset="0.625" stop-color="#16ffe1"/><stop offset="0.650" stop-color="#00e4f8"/><stop offset="0.675" stop-color="#00ccff"/><stop offset="0.700" stop-color="#00b0ff"/><stop offset="0.725" stop-color="#0098ff"/><stop offset="0.750" stop-color="#0080ff"/><stop offset="0.775" stop-color="#0064ff"/><stop offset="0.800" stop-color="#004cff"/><stop offset="0.825" stop-color="#0030ff"/><stop offset="0.850" stop-color="#0018ff"/><stop offset="0.875" stop-color="#0000ff"/><stop offset="0.900" stop-color="#0000f1"/><stop offset="0.925" stop-color="#0000d6"/><stop offset="0.950" stop-color="#0000b6"/><stop offset="0.975" stop-color="#00009b"/><stop offset="1.000" stop-color="#000080"/></linearGradient>
<rect x="891.6" y="44.50" width="23.40" height="469.2" fill="url(#cb0)" stroke="#000" stroke-width="1.667"/>
<path d="M915.00,513.70h7.29M915.00,419.86h7.29M915.00,326.02h7.29M915.00,232.18h7.29M915.00,138.34h7.29M915.00,44.50h7.29" stroke="#000" stroke-width="1.667" fill="none"/>
<g font-family="DejaVu Sans, Liberation Sans, sans-serif" font-size="20.833px" fill="#000"><text x="929.60" y="522.00">−5</text><text x="929.60" y="428.16">0</text><text x="929.60" y="334.32">5</text><text x="929.60" y="240.48">10</text><text x="929.60" y="146.64">15</text><text x="929.60" y="52.80">20</text><text transform="translate(984.2,280.60) rotate(-90)" text-anchor="middle">residual [dB] from average curve</text></g>
<clipPath id="ax1"><rect x="117.0" y="646.8" width="729.0" height="469.2"/></clipPath>
<g clip-path="url(#ax1)"><line x1="340.5" y1="646.8" x2="340.5" y2="956.8" stroke="#a00000" stroke-width="1.5"/><line x1="335.6" y1="959.8" x2="335.6" y2="1116.8" stroke="#900000" stroke-width="2.2"/><line x1="355.5" y1="959.8" x2="355.5" y2="1116.8" stroke="#900000" stroke-width="2.2"/><line x1="367.6" y1="959.8" x2="367.6" y2="1116.8" stroke="#900000" stroke-width="2.0"/><path d="M277.38,728.79 L286.86,755.82 L286.86,755.82 L286.86,799.41 L286.88,799.41 L268.66,834.72 L268.63,834.72 L308.73,857.05 L308.75,857.05 L418.47,890.69 L418.47,890.69 L473.51,920.40 L473.48,920.40 L473.48,928.08 L473.51,928.08 L415.92,937.37 L415.90,937.37 L308.36,963.39 L290.14,972.68 L290.16,972.68 L320.20,986.04 L320.18,986.04 L208.14,1003.32 L208.09,1003.32 L153.41,1022.00 L153.49,1022.00 L135.27,1040.01 L135.22,1040.01 L135.22,1062.52 L135.21,1062.52 L153.43,1081.20 L153.45,1081.20 L153.45,1102.69 L153.54,1102.69 L147.25,1116.00" fill="none" stroke="#c8b400" stroke-width="3.1" stroke-linejoin="round" stroke-linecap="square"/><path d="M835.07,728.79 L792.05,768.96 L792.02,768.96 L696.52,788.04 L696.57,788.04 L627.32,834.72 L627.30,834.72 L787.67,914.10 L787.70,914.10 L798.63,923.83 L798.63,923.83 L765.82,939.85 L765.81,939.85 L674.68,951.38 L674.72,951.38 L627.34,985.39 L627.28,985.39 L492.42,998.70 L492.46,998.70 L565.43,1116.00" fill="none" stroke="#c8b400" stroke-width="3.1" stroke-linejoin="round" stroke-linecap="square"/><polygon points="549.7,650.6 539.0,658.6 528.4,666.6 515.1,674.6 501.8,681.3 488.5,687.9 477.8,695.9 469.9,703.9 464.5,710.5 472.0,713.0 482.0,705.0 500.0,697.0 530.0,689.0 574.0,683.0 582.0,672.0 581.0,652.0 575.0,648.5" fill="#ff0000"/><polyline points="464.5,710.5 461.9,719.9 453.9,725.2 445.9,733.2 437.9,741.1 427.3,749.1 416.6,757.1 406.0,765.1 400.6,773.1 396.7,778.4 400.6,785.1 407.6,785.7 416.7,790.3 425.8,796.0 441.8,799.4 432.7,802.8 437.2,809.7 450.9,814.2 466.9,821.1 480.6,825.6 494.3,832.5 505.7,839.3 517.1,848.4 528.5,857.6 537.6,864.4 544.5,875.8 545.6,887.2 546.7,903.2 535.3,912.3 519.4,921.5 489.7,928.3 457.8,935.1 425.8,942.0 411.8,950.0 386.5,955.3 367.9,960.0 362.6,963.3 357.3,971.3 353.9,979.3 357.3,987.3 353.3,993.9 346.6,1003.2 345.3,1009.9 349.3,1019.2 357.3,1029.9 366.6,1040.5 379.9,1056.5 393.2,1073.8 406.5,1091.1 422.5,1115.0 424.0,1119.0" fill="none" stroke="#ff0000" stroke-width="3.1" stroke-linejoin="round" stroke-linecap="round"/><polyline points="464.5,710.5 461.9,719.9 453.9,725.2 445.9,733.2 437.9,741.1 427.3,749.1 416.6,757.1 406.0,765.1 400.6,773.1 396.7,778.4 400.6,785.1" fill="none" stroke="#ff0000" stroke-width="5.5" stroke-linejoin="round" stroke-linecap="round"/><path d="M246.0,649.3H573.7" stroke="#ff0000" stroke-width="2.8" stroke-linecap="round" fill="none"/><path d="M509.9,678.5H656.2M483.5,693.5H520.4M473.8,702.5H540.4M469.2,707.8H489.8M466.4,712.5H493.8M465.1,717.2H503.1M453.8,727.8H569.7M444.0,737.5H489.8M434.6,745.5H549.7" stroke="#ff0000" stroke-width="3" stroke-linecap="round" fill="none"/><path d="M542.3,658.0H616.2M537.0,662.0H624.2M531.0,666.5H632.2M523.6,671.0H587.0" stroke="#ff0000" stroke-width="3.4" stroke-linecap="round" fill="none"/><path d="M547.7,654.0H579.0" stroke="#ff0000" stroke-width="3.5" stroke-linecap="round" fill="none"/><path d="M501.9,682.5H573.7" stroke="#ff0000" stroke-width="4.5" stroke-linecap="round" fill="none"/><line x1="189.90" y1="646.80" x2="189.90" y2="657.20" stroke="#ff0000" stroke-width="3"/><line x1="335.70" y1="646.80" x2="335.70" y2="657.20" stroke="#ff0000" stroke-width="3"/><line x1="481.50" y1="646.80" x2="481.50" y2="657.20" stroke="#ff0000" stroke-width="3"/><line x1="627.30" y1="646.80" x2="627.30" y2="657.20" stroke="#ff0000" stroke-width="3"/><line x1="773.10" y1="646.80" x2="773.10" y2="657.20" stroke="#ff0000" stroke-width="3"/></g>
<rect x="117.0" y="646.80" width="729.0" height="469.2" fill="none" stroke="#000" stroke-width="1.667"/>
<path d="M117.00,1116.00v7.29M164.03,1116.00v7.29M211.06,1116.00v7.29M258.10,1116.00v7.29M305.13,1116.00v7.29M352.16,1116.00v7.29M399.19,1116.00v7.29M446.23,1116.00v7.29M493.26,1116.00v7.29M540.29,1116.00v7.29M587.32,1116.00v7.29M634.35,1116.00v7.29M681.39,1116.00v7.29M728.42,1116.00v7.29M775.45,1116.00v7.29M822.48,1116.00v7.29M117.00,1080.69h-7.29M117.00,963.39h-7.29M117.00,846.09h-7.29M117.00,728.79h-7.29" stroke="#000" stroke-width="1.667" fill="none"/>
<path d="M117.00,1116.00h-4.17M117.00,1106.71h-4.17M117.00,1098.86h-4.17M117.00,1092.06h-4.17M117.00,1086.06h-4.17M117.00,1045.38h-4.17M117.00,1024.72h-4.17M117.00,1010.07h-4.17M117.00,998.70h-4.17M117.00,989.41h-4.17M117.00,981.56h-4.17M117.00,974.76h-4.17M117.00,968.76h-4.17M117.00,928.08h-4.17M117.00,907.42h-4.17M117.00,892.77h-4.17M117.00,881.40h-4.17M117.00,872.11h-4.17M117.00,864.26h-4.17M117.00,857.46h-4.17M117.00,851.46h-4.17M117.00,810.78h-4.17M117.00,790.12h-4.17M117.00,775.47h-4.17M117.00,764.10h-4.17M117.00,754.81h-4.17M117.00,746.96h-4.17M117.00,740.16h-4.17M117.00,734.16h-4.17M117.00,693.48h-4.17M117.00,672.82h-4.17M117.00,658.17h-4.17M117.00,646.80h-4.17" stroke="#000" stroke-width="1.25" fill="none"/>
<g font-family="DejaVu Sans, Liberation Sans, sans-serif" font-size="20.833px" fill="#000"><text x="117.00" y="1146.40" text-anchor="middle">1</text><text x="164.03" y="1146.40" text-anchor="middle">3</text><text x="211.06" y="1146.40" text-anchor="middle">5</text><text x="258.10" y="1146.40" text-anchor="middle">7</text><text x="305.13" y="1146.40" text-anchor="middle">9</text><text x="352.16" y="1146.40" text-anchor="middle">11</text><text x="399.19" y="1146.40" text-anchor="middle">13</text><text x="446.23" y="1146.40" text-anchor="middle">15</text><text x="493.26" y="1146.40" text-anchor="middle">17</text><text x="540.29" y="1146.40" text-anchor="middle">19</text><text x="587.32" y="1146.40" text-anchor="middle">21</text><text x="634.35" y="1146.40" text-anchor="middle">23</text><text x="681.39" y="1146.40" text-anchor="middle">25</text><text x="728.42" y="1146.40" text-anchor="middle">27</text><text x="775.45" y="1146.40" text-anchor="middle">29</text><text x="822.48" y="1146.40" text-anchor="middle">31</text><text x="102.80" y="1089.69" text-anchor="end">10<tspan font-size="14.58" dy="-7.7">−2</tspan></text><text x="102.80" y="972.39" text-anchor="end">10<tspan font-size="14.58" dy="-7.7">−1</tspan></text><text x="102.80" y="855.09" text-anchor="end">10<tspan font-size="14.58" dy="-7.7">0</tspan></text><text x="102.80" y="737.79" text-anchor="end">10<tspan font-size="14.58" dy="-7.7">1</tspan></text><text x="478.50" y="1174.80" text-anchor="middle" xml:space="preserve">July 2024 UP TJOU  HHN</text><text transform="translate(39.8,881.40) rotate(-90)" text-anchor="middle">f [Hz]</text><text x="189.90" y="643.10" text-anchor="middle" fill="#ff0000">-180dB</text><text x="335.70" y="643.10" text-anchor="middle" fill="#ff0000">-160dB</text><text x="481.50" y="643.10" text-anchor="middle" fill="#ff0000">-140dB</text><text x="627.30" y="643.10" text-anchor="middle" fill="#ff0000">-120dB</text><text x="773.10" y="643.10" text-anchor="middle" fill="#ff0000">-100dB</text></g>
<linearGradient id="cb1" x1="0" y1="0" x2="0" y2="1"><stop offset="0.000" stop-color="#800000"/><stop offset="0.025" stop-color="#9b0000"/><stop offset="0.050" stop-color="#b60000"/><stop offset="0.075" stop-color="#d60000"/><stop offset="0.100" stop-color="#f10800"/><stop offset="0.125" stop-color="#ff1e00"/><stop offset="0.150" stop-color="#ff3800"/><stop offset="0.175" stop-color="#ff4e00"/><stop offset="0.200" stop-color="#ff6800"/><stop offset="0.225" stop-color="#ff7e00"/><stop offset="0.250" stop-color="#ff9400"/><stop offset="0.275" stop-color="#ffae00"/><stop offset="0.300" stop-color="#ffc400"/><stop offset="0.325" stop-color="#ffde00"/><stop offset="0.350" stop-color="#f8f500"/><stop offset="0.375" stop-color="#e4ff13"/><stop offset="0.400" stop-color="#ceff29"/><stop offset="0.425" stop-color="#baff3c"/><stop offset="0.450" stop-color="#a4ff53"/><stop offset="0.475" stop-color="#90ff66"/><stop offset="0.500" stop-color="#7dff7a"/><stop offset="0.525" stop-color="#66ff90"/><stop offset="0.550" stop-color="#53ffa4"/><stop offset="0.575" stop-color="#3cffba"/><stop offset="0.600" stop-color="#29ffce"/><stop offset="0.625" stop-color="#16ffe1"/><stop offset="0.650" stop-color="#00e4f8"/><stop offset="0.675" stop-color="#00ccff"/><stop offset="0.700" stop-color="#00b0ff"/><stop offset="0.725" stop-color="#0098ff"/><stop offset="0.750" stop-color="#0080ff"/><stop offset="0.775" stop-color="#0064ff"/><stop offset="0.800" stop-color="#004cff"/><stop offset="0.825" stop-color="#0030ff"/><stop offset="0.850" stop-color="#0018ff"/><stop offset="0.875" stop-color="#0000ff"/><stop offset="0.900" stop-color="#0000f1"/><stop offset="0.925" stop-color="#0000d6"/><stop offset="0.950" stop-color="#0000b6"/><stop offset="0.975" stop-color="#00009b"/><stop offset="1.000" stop-color="#000080"/></linearGradient>
<rect x="891.6" y="646.80" width="23.40" height="469.2" fill="url(#cb1)" stroke="#000" stroke-width="1.667"/>
<path d="M915.00,1116.00h7.29M915.00,1022.16h7.29M915.00,928.32h7.29M915.00,834.48h7.29M915.00,740.64h7.29M915.00,646.80h7.29" stroke="#000" stroke-width="1.667" fill="none"/>
<g font-family="DejaVu Sans, Liberation Sans, sans-serif" font-size="20.833px" fill="#000"><text x="929.60" y="1124.30">−5</text><text x="929.60" y="1030.46">0</text><text x="929.60" y="936.62">5</text><text x="929.60" y="842.78">10</text><text x="929.60" y="748.94">15</text><text x="929.60" y="655.10">20</text><text transform="translate(984.2,882.90) rotate(-90)" text-anchor="middle">residual [dB] from average curve</text></g>
<clipPath id="ax2"><rect x="117.0" y="1249.1" width="729.0" height="469.2"/></clipPath>
<g clip-path="url(#ax2)"><line x1="335.2" y1="1589.1" x2="335.2" y2="1719.1" stroke="#900000" stroke-width="3.0"/><line x1="356.2" y1="1579.1" x2="356.2" y2="1719.1" stroke="#a00000" stroke-width="3.0"/><line x1="368.2" y1="1589.1" x2="368.2" y2="1719.1" stroke="#900000" stroke-width="2.2"/><line x1="340.5" y1="1249.1" x2="340.5" y2="1549.1" stroke="#a00000" stroke-width="1.4"/><path d="M277.38,1331.09 L286.86,1358.12 L286.86,1358.12 L286.86,1401.71 L286.88,1401.71 L268.66,1437.02 L268.63,1437.02 L308.73,1459.35 L308.75,1459.35 L418.47,1492.99 L418.47,1492.99 L473.51,1522.70 L473.48,1522.70 L473.48,1530.38 L473.51,1530.38 L415.92,1539.67 L415.90,1539.67 L308.36,1565.69 L290.14,1574.98 L290.16,1574.98 L320.20,1588.34 L320.18,1588.34 L208.14,1605.62 L208.09,1605.62 L153.41,1624.30 L153.49,1624.30 L135.27,1642.31 L135.22,1642.31 L135.22,1664.82 L135.21,1664.82 L153.43,1683.50 L153.45,1683.50 L153.45,1704.99 L153.54,1704.99 L147.25,1718.30" fill="none" stroke="#c8b400" stroke-width="3.1" stroke-linejoin="round" stroke-linecap="square"/><path d="M835.07,1331.09 L792.05,1371.26 L792.02,1371.26 L696.52,1390.34 L696.57,1390.34 L627.32,1437.02 L627.30,1437.02 L787.67,1516.40 L787.70,1516.40 L798.63,1526.13 L798.63,1526.13 L765.82,1542.15 L765.81,1542.15 L674.68,1553.68 L674.72,1553.68 L627.34,1587.69 L627.28,1587.69 L492.42,1601.00 L492.46,1601.00 L565.43,1718.30" fill="none" stroke="#c8b400" stroke-width="3.1" stroke-linejoin="round" stroke-linecap="square"/><polygon points="481.8,1252.6 480.5,1263.3 475.2,1274.0 467.2,1282.0 460.5,1289.9 456.5,1300.6 455.2,1311.2 449.9,1321.9 445.9,1329.8 452.0,1331.0 470.0,1322.0 475.0,1310.0 480.0,1300.0 500.0,1292.0 540.0,1287.0 545.0,1280.0 540.0,1275.0 560.0,1262.0 540.0,1256.0 518.0,1250.5" fill="#ff0000"/><polyline points="445.9,1329.8 437.9,1335.2 427.3,1340.5 419.3,1348.5 411.3,1356.5 403.3,1364.4 402.0,1372.4 404.6,1380.4 416.6,1385.7 421.8,1390.0 436.5,1392.1 442.7,1397.3 459.5,1400.5 453.2,1403.6 463.6,1409.9 480.4,1417.2 501.3,1425.6 522.2,1433.9 534.7,1442.3 547.3,1450.6 559.8,1461.1 568.2,1469.5 572.4,1479.9 575.5,1492.5 583.9,1502.9 578.7,1509.2 564.0,1515.5 553.6,1523.8 526.4,1530.1 501.3,1534.3 480.4,1540.6 453.2,1548.9 421.8,1555.2 400.0,1558.6 374.9,1564.3 367.3,1570.0 352.1,1582.3 355.9,1588.0 354.0,1591.8 333.1,1597.5 298.9,1605.1 272.2,1611.8 253.2,1618.4 234.2,1626.0 220.9,1635.6 215.2,1647.0 219.0,1660.3 236.1,1681.2 257.0,1685.0 279.8,1692.6 298.9,1702.1 321.7,1715.4 325.5,1720.0" fill="none" stroke="#ff0000" stroke-width="3.1" stroke-linejoin="round" stroke-linecap="round"/><polyline points="445.9,1329.8 437.9,1335.2 427.3,1340.5 419.3,1348.5 411.3,1356.5 403.3,1364.4 402.0,1372.4 404.6,1380.4 416.6,1385.7" fill="none" stroke="#ff0000" stroke-width="5.5" stroke-linejoin="round" stroke-linecap="round"/><path d="M246.0,1251.3H517.8" stroke="#ff0000" stroke-width="2.8" stroke-linecap="round" fill="none"/><path d="M431.2,1339.8H497.8" stroke="#ff0000" stroke-width="3" stroke-linecap="round" fill="none"/><path d="M458.5,1304.3H519.1M457.8,1310.0H491.1M453.9,1318.9H515.1M422.9,1347.4H523.1" stroke="#ff0000" stroke-width="3.2" stroke-linecap="round" fill="none"/><path d="M485.0,1264.0H612.3M477.4,1274.3H547.0" stroke="#ff0000" stroke-width="3.4" stroke-linecap="round" fill="none"/><path d="M447.8,1330.2H535.1" stroke="#ff0000" stroke-width="3.5" stroke-linecap="round" fill="none"/><path d="M482.0,1268.8H628.2M471.7,1280.0H608.3M465.8,1286.6H544.4M461.2,1294.6H527.1" stroke="#ff0000" stroke-width="3.8" stroke-linecap="round" fill="none"/><path d="M490.0,1259.5H567.0" stroke="#ff0000" stroke-width="4.5" stroke-linecap="round" fill="none"/><line x1="189.90" y1="1249.10" x2="189.90" y2="1259.50" stroke="#ff0000" stroke-width="3"/><line x1="335.70" y1="1249.10" x2="335.70" y2="1259.50" stroke="#ff0000" stroke-width="3"/><line x1="481.50" y1="1249.10" x2="481.50" y2="1259.50" stroke="#ff0000" stroke-width="3"/><line x1="627.30" y1="1249.10" x2="627.30" y2="1259.50" stroke="#ff0000" stroke-width="3"/><line x1="773.10" y1="1249.10" x2="773.10" y2="1259.50" stroke="#ff0000" stroke-width="3"/></g>
<rect x="117.0" y="1249.10" width="729.0" height="469.2" fill="none" stroke="#000" stroke-width="1.667"/>
<path d="M117.00,1718.30v7.29M164.03,1718.30v7.29M211.06,1718.30v7.29M258.10,1718.30v7.29M305.13,1718.30v7.29M352.16,1718.30v7.29M399.19,1718.30v7.29M446.23,1718.30v7.29M493.26,1718.30v7.29M540.29,1718.30v7.29M587.32,1718.30v7.29M634.35,1718.30v7.29M681.39,1718.30v7.29M728.42,1718.30v7.29M775.45,1718.30v7.29M822.48,1718.30v7.29M117.00,1682.99h-7.29M117.00,1565.69h-7.29M117.00,1448.39h-7.29M117.00,1331.09h-7.29" stroke="#000" stroke-width="1.667" fill="none"/>
<path d="M117.00,1718.30h-4.17M117.00,1709.01h-4.17M117.00,1701.16h-4.17M117.00,1694.36h-4.17M117.00,1688.36h-4.17M117.00,1647.68h-4.17M117.00,1627.02h-4.17M117.00,1612.37h-4.17M117.00,1601.00h-4.17M117.00,1591.71h-4.17M117.00,1583.86h-4.17M117.00,1577.06h-4.17M117.00,1571.06h-4.17M117.00,1530.38h-4.17M117.00,1509.72h-4.17M117.00,1495.07h-4.17M117.00,1483.70h-4.17M117.00,1474.41h-4.17M117.00,1466.56h-4.17M117.00,1459.76h-4.17M117.00,1453.76h-4.17M117.00,1413.08h-4.17M117.00,1392.42h-4.17M117.00,1377.77h-4.17M117.00,1366.40h-4.17M117.00,1357.11h-4.17M117.00,1349.26h-4.17M117.00,1342.46h-4.17M117.00,1336.46h-4.17M117.00,1295.78h-4.17M117.00,1275.12h-4.17M117.00,1260.47h-4.17M117.00,1249.10h-4.17" stroke="#000" stroke-width="1.25" fill="none"/>
<g font-family="DejaVu Sans, Liberation Sans, sans-serif" font-size="20.833px" fill="#000"><text x="117.00" y="1748.70" text-anchor="middle">1</text><text x="164.03" y="1748.70" text-anchor="middle">3</text><text x="211.06" y="1748.70" text-anchor="middle">5</text><text x="258.10" y="1748.70" text-anchor="middle">7</text><text x="305.13" y="1748.70" text-anchor="middle">9</text><text x="352.16" y="1748.70" text-anchor="middle">11</text><text x="399.19" y="1748.70" text-anchor="middle">13</text><text x="446.23" y="1748.70" text-anchor="middle">15</text><text x="493.26" y="1748.70" text-anchor="middle">17</text><text x="540.29" y="1748.70" text-anchor="middle">19</text><text x="587.32" y="1748.70" text-anchor="middle">21</text><text x="634.35" y="1748.70" text-anchor="middle">23</text><text x="681.39" y="1748.70" text-anchor="middle">25</text><text x="728.42" y="1748.70" text-anchor="middle">27</text><text x="775.45" y="1748.70" text-anchor="middle">29</text><text x="822.48" y="1748.70" text-anchor="middle">31</text><text x="102.80" y="1691.99" text-anchor="end">10<tspan font-size="14.58" dy="-7.7">−2</tspan></text><text x="102.80" y="1574.69" text-anchor="end">10<tspan font-size="14.58" dy="-7.7">−1</tspan></text><text x="102.80" y="1457.39" text-anchor="end">10<tspan font-size="14.58" dy="-7.7">0</tspan></text><text x="102.80" y="1340.09" text-anchor="end">10<tspan font-size="14.58" dy="-7.7">1</tspan></text><text x="478.50" y="1777.10" text-anchor="middle" xml:space="preserve">July 2024 UP TJOU  HHZ</text><text transform="translate(39.8,1483.70) rotate(-90)" text-anchor="middle">f [Hz]</text><text x="189.90" y="1245.40" text-anchor="middle" fill="#ff0000">-180dB</text><text x="335.70" y="1245.40" text-anchor="middle" fill="#ff0000">-160dB</text><text x="481.50" y="1245.40" text-anchor="middle" fill="#ff0000">-140dB</text><text x="627.30" y="1245.40" text-anchor="middle" fill="#ff0000">-120dB</text><text x="773.10" y="1245.40" text-anchor="middle" fill="#ff0000">-100dB</text></g>
<linearGradient id="cb2" x1="0" y1="0" x2="0" y2="1"><stop offset="0.000" stop-color="#800000"/><stop offset="0.025" stop-color="#9b0000"/><stop offset="0.050" stop-color="#b60000"/><stop offset="0.075" stop-color="#d60000"/><stop offset="0.100" stop-color="#f10800"/><stop offset="0.125" stop-color="#ff1e00"/><stop offset="0.150" stop-color="#ff3800"/><stop offset="0.175" stop-color="#ff4e00"/><stop offset="0.200" stop-color="#ff6800"/><stop offset="0.225" stop-color="#ff7e00"/><stop offset="0.250" stop-color="#ff9400"/><stop offset="0.275" stop-color="#ffae00"/><stop offset="0.300" stop-color="#ffc400"/><stop offset="0.325" stop-color="#ffde00"/><stop offset="0.350" stop-color="#f8f500"/><stop offset="0.375" stop-color="#e4ff13"/><stop offset="0.400" stop-color="#ceff29"/><stop offset="0.425" stop-color="#baff3c"/><stop offset="0.450" stop-color="#a4ff53"/><stop offset="0.475" stop-color="#90ff66"/><stop offset="0.500" stop-color="#7dff7a"/><stop offset="0.525" stop-color="#66ff90"/><stop offset="0.550" stop-color="#53ffa4"/><stop offset="0.575" stop-color="#3cffba"/><stop offset="0.600" stop-color="#29ffce"/><stop offset="0.625" stop-color="#16ffe1"/><stop offset="0.650" stop-color="#00e4f8"/><stop offset="0.675" stop-color="#00ccff"/><stop offset="0.700" stop-color="#00b0ff"/><stop offset="0.725" stop-color="#0098ff"/><stop offset="0.750" stop-color="#0080ff"/><stop offset="0.775" stop-color="#0064ff"/><stop offset="0.800" stop-color="#004cff"/><stop offset="0.825" stop-color="#0030ff"/><stop offset="0.850" stop-color="#0018ff"/><stop offset="0.875" stop-color="#0000ff"/><stop offset="0.900" stop-color="#0000f1"/><stop offset="0.925" stop-color="#0000d6"/><stop offset="0.950" stop-color="#0000b6"/><stop offset="0.975" stop-color="#00009b"/><stop offset="1.000" stop-color="#000080"/></linearGradient>
<rect x="891.6" y="1249.10" width="23.40" height="469.2" fill="url(#cb2)" stroke="#000" stroke-width="1.667"/>
<path d="M915.00,1718.30h7.29M915.00,1624.46h7.29M915.00,1530.62h7.29M915.00,1436.78h7.29M915.00,1342.94h7.29M915.00,1249.10h7.29" stroke="#000" stroke-width="1.667" fill="none"/>
<g font-family="DejaVu Sans, Liberation Sans, sans-serif" font-size="20.833px" fill="#000"><text x="929.60" y="1726.60">−5</text><text x="929.60" y="1632.76">0</text><text x="929.60" y="1538.92">5</text><text x="929.60" y="1445.08">10</text><text x="929.60" y="1351.24">15</text><text x="929.60" y="1257.40">20</text><text transform="translate(984.2,1485.20) rotate(-90)" text-anchor="middle">residual [dB] from average curve</text></g></svg>
</body></html>
